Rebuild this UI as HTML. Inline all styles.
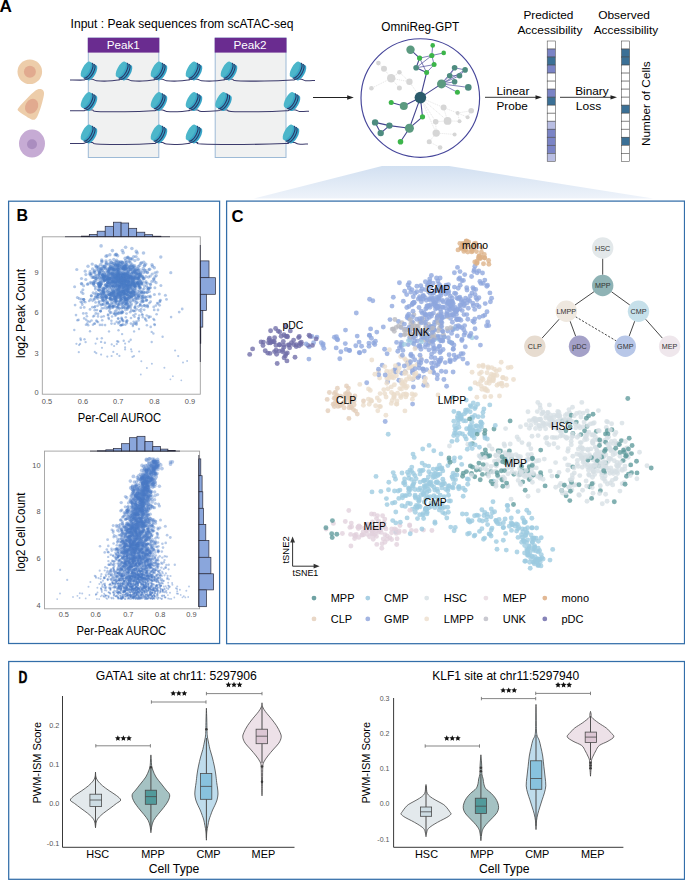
<!DOCTYPE html>
<html><head><meta charset="utf-8"><style>
html,body{margin:0;padding:0;background:#fff;overflow:hidden;}
svg{display:block;font-family:"Liberation Sans", sans-serif;}
</style></head><body>
<svg width="685" height="880" viewBox="0 0 685 880">
<defs>
<linearGradient id="tg" x1="0" y1="0" x2="0" y2="1"><stop offset="0" stop-color="#d2e0f1"/><stop offset="1" stop-color="#eef3fa"/></linearGradient>
<symbol id="nuc" overflow="visible">
 <g transform="translate(-3.2 -1.7) rotate(29)">
  <ellipse cx="7.3" cy="0" rx="3.4" ry="8.6" fill="#3ba6c8"/>
  <ellipse cx="6.1" cy="0" rx="3.4" ry="8.6" fill="#37a3c6"/>
  <ellipse cx="4.8" cy="0" rx="3.4" ry="8.6" fill="#33a0c3"/>
  <ellipse cx="3.6" cy="0" rx="3.4" ry="8.6" fill="#33a0c3"/>
  <ellipse cx="2.5" cy="0" rx="3.4" ry="8.6" fill="#37a4c4"/>
  <ellipse cx="1.2" cy="0" rx="3.4" ry="8.6" fill="#3ba7c6"/>
  <path d="M4.8 -8.6A3.4 8.6 0 0 1 4.8 8.6" fill="none" stroke="#2b3768" stroke-width="1.05"/>
  <path d="M2.5 -8.6A3.4 8.6 0 0 1 2.5 8.6" fill="none" stroke="#2b3768" stroke-width="1.05"/>
  <ellipse cx="0" cy="0" rx="3.4" ry="8.6" fill="#4cb6ca"/>
 </g>
</symbol><symbol id="star" overflow="visible"><path d="M0.00 -3.00L0.85 -1.17L2.85 -0.93L1.38 0.45L1.76 2.43L0.00 1.45L-1.76 2.43L-1.38 0.45L-2.85 -0.93L-0.85 -1.17Z" fill="#111"/></symbol></defs>
<text x="-0.4" y="11.9" font-size="17.2" font-weight="bold">A</text>
<text x="70.6" y="27.9" font-size="12" textLength="222.8" lengthAdjust="spacingAndGlyphs">Input : Peak sequences from scATAC-seq</text>
<rect x="88.3" y="38" width="70.5" height="119.5" fill="#f0f1f1" stroke="#9dbad6" stroke-width="1"/>
<rect x="87.8" y="37.8" width="71.5" height="14.8" fill="#6a2c90"/>
<text x="106.7" y="48.5" font-size="11.7" fill="#fff">Peak1</text>
<rect x="215.2" y="38" width="70.8" height="119.5" fill="#f0f1f1" stroke="#9dbad6" stroke-width="1"/>
<rect x="214.7" y="37.8" width="71.8" height="14.8" fill="#6a2c90"/>
<text x="233.4" y="48.5" font-size="11.7" fill="#fff">Peak2</text>
<circle cx="29.8" cy="71.7" r="12.3" fill="#edcdaa"/><circle cx="29.9" cy="71.7" r="6" fill="#e1aa8f"/>
<path d="M39.8 88.9 C43.2 88.9 44.6 91.5 43.9 95 C42.9 101 40 111 37.2 116.8 C35.8 119.8 33.6 120.6 31 119.2 C27 117 21.5 113.5 18.8 111.2 C17.3 110 17.2 109.3 18.4 107.9 C23.5 102 30 95 35.2 90.8 C36.8 89.5 38.2 88.9 39.8 88.9Z" fill="#edcdaa"/>
<ellipse cx="31.6" cy="106.3" rx="6.2" ry="7.8" transform="rotate(30 31.6 106.3)" fill="#e1aa8f"/>
<ellipse cx="32" cy="143.6" rx="13" ry="14" fill="#c6abd4"/><circle cx="32" cy="144.2" r="5" fill="#aa8dbf"/>
<path d="M70.00 80.00C72.17 80.02 80.33 80.23 83.00 80.10C85.67 79.97 84.42 79.35 86.00 79.20C87.58 79.05 90.75 78.95 92.50 79.20C94.25 79.45 94.04 80.38 96.50 80.70C98.96 81.02 103.67 81.20 107.25 81.10C110.83 81.00 115.71 80.42 118.00 80.10C120.29 79.78 119.42 79.35 121.00 79.20C122.58 79.05 125.75 78.95 127.50 79.20C129.25 79.45 129.04 80.38 131.50 80.70C133.96 81.02 138.67 81.20 142.25 81.10C145.83 81.00 150.71 80.42 153.00 80.10C155.29 79.78 154.42 79.35 156.00 79.20C157.58 79.05 160.75 78.95 162.50 79.20C164.25 79.45 164.04 80.38 166.50 80.70C168.96 81.02 173.67 81.20 177.25 81.10C180.83 81.00 185.71 80.42 188.00 80.10C190.29 79.78 189.42 79.35 191.00 79.20C192.58 79.05 195.75 78.95 197.50 79.20C199.25 79.45 199.04 80.38 201.50 80.70C203.96 81.02 208.67 81.20 212.25 81.10C215.83 81.00 220.71 80.42 223.00 80.10C225.29 79.78 224.42 79.35 226.00 79.20C227.58 79.05 230.75 78.95 232.50 79.20C234.25 79.45 231.21 80.38 236.50 80.70C241.79 81.02 255.00 81.20 264.25 81.10C273.50 81.00 286.88 80.42 292.00 80.10C297.12 79.78 293.42 79.35 295.00 79.20C296.58 79.05 299.75 78.95 301.50 79.20C303.25 79.45 303.25 80.48 305.50 80.70C307.75 80.92 313.42 80.53 315.00 80.50" fill="none" stroke="#3b3a6b" stroke-width="1.05"/>
<use href="#nuc" x="89" y="71"/>
<use href="#nuc" x="124" y="71"/>
<use href="#nuc" x="159" y="71"/>
<use href="#nuc" x="194" y="71"/>
<use href="#nuc" x="229" y="71"/>
<use href="#nuc" x="298" y="71"/>
<path d="M70.00 110.70C72.17 110.72 80.33 110.93 83.00 110.80C85.67 110.67 84.42 110.05 86.00 109.90C87.58 109.75 90.75 109.65 92.50 109.90C94.25 110.15 91.12 111.08 96.50 111.40C101.88 111.72 115.33 111.90 124.75 111.80C134.17 111.70 147.79 111.12 153.00 110.80C158.21 110.48 154.42 110.05 156.00 109.90C157.58 109.75 160.75 109.65 162.50 109.90C164.25 110.15 164.04 111.08 166.50 111.40C168.96 111.72 173.67 111.90 177.25 111.80C180.83 111.70 185.71 111.12 188.00 110.80C190.29 110.48 189.42 110.05 191.00 109.90C192.58 109.75 195.75 109.65 197.50 109.90C199.25 110.15 198.17 111.25 201.50 111.40C204.83 111.55 214.33 111.05 217.50 110.80C220.67 110.55 218.92 110.05 220.50 109.90C222.08 109.75 225.25 109.65 227.00 109.90C228.75 110.15 225.75 111.08 231.00 111.40C236.25 111.72 249.33 111.90 258.50 111.80C267.67 111.70 280.92 111.12 286.00 110.80C291.08 110.48 287.42 110.05 289.00 109.90C290.58 109.75 293.75 109.65 295.50 109.90C297.25 110.15 297.25 111.18 299.50 111.40C301.75 111.62 307.42 111.23 309.00 111.20" fill="none" stroke="#3b3a6b" stroke-width="1.05"/>
<use href="#nuc" x="89" y="101.5"/>
<use href="#nuc" x="159" y="101.5"/>
<use href="#nuc" x="194" y="101.5"/>
<use href="#nuc" x="223.5" y="101.5"/>
<use href="#nuc" x="292" y="101.5"/>
<path d="M70.00 143.40C72.17 143.42 80.33 143.63 83.00 143.50C85.67 143.37 84.42 142.75 86.00 142.60C87.58 142.45 90.75 142.35 92.50 142.60C94.25 142.85 91.12 143.78 96.50 144.10C101.88 144.42 115.33 144.60 124.75 144.50C134.17 144.40 147.79 143.82 153.00 143.50C158.21 143.18 154.42 142.75 156.00 142.60C157.58 142.45 160.75 142.35 162.50 142.60C164.25 142.85 164.04 143.78 166.50 144.10C168.96 144.42 173.67 144.60 177.25 144.50C180.83 144.40 185.71 143.82 188.00 143.50C190.29 143.18 189.42 142.75 191.00 142.60C192.58 142.45 195.75 142.35 197.50 142.60C199.25 142.85 193.88 143.78 201.50 144.10C209.12 144.42 229.33 144.60 243.25 144.50C257.17 144.40 277.54 143.82 285.00 143.50C292.46 143.18 286.42 142.75 288.00 142.60C289.58 142.45 292.75 142.35 294.50 142.60C296.25 142.85 296.25 143.88 298.50 144.10C300.75 144.32 306.42 143.93 308.00 143.90" fill="none" stroke="#3b3a6b" stroke-width="1.05"/>
<use href="#nuc" x="89" y="134"/>
<use href="#nuc" x="159" y="134"/>
<use href="#nuc" x="194" y="134"/>
<use href="#nuc" x="291" y="134"/>
<line x1="313" y1="97.5" x2="349" y2="97.5" stroke="#222" stroke-width="1"/><path d="M353.8 97.5 L347.2 95.2 L347.2 99.8Z" fill="#222"/>
<text x="381.3" y="30.8" font-size="12" textLength="78" lengthAdjust="spacingAndGlyphs">OmniReg-GPT</text>
<path d="M378.4 63.1L384 68.8M384 68.8L391.2 78.3M391.2 78.3L399.4 72.2M391.2 78.3L409.4 81.8M391.2 78.3L371.4 88.3M391.2 78.3L399.4 87.9M409.4 81.8L420.4 97.6M399.4 72.2L409.4 81.8M443.6 107.6L420.4 97.6M447.6 120.9L420.4 97.6M435.7 121.7L420.4 97.6M436.2 133.1L420.4 97.6M443.6 107.6L457.6 113M457.6 113L471.2 110.7M457.6 113L467.6 117.2M457.6 113L459.5 121.2M459.5 121.2L447.6 120.9M447.6 120.9L435.7 121.7M435.7 121.7L436.2 133.1M436.2 133.1L454.6 134.4M436.2 133.1L429.2 141.7M429.2 141.7L440.1 147.5M443.6 107.6L447.6 120.9M471.2 110.7L467.6 117.2" stroke="#d9d9d9" stroke-width="0.6" stroke-dasharray="1.2 0.8" fill="none"/>
<path d="M426.6 72.5L434.1 64.6M426.6 72.5L419.6 58.1M416.1 67.8L431.8 55.5M416.1 67.8L434.1 64.6M419.6 58.1L431.8 55.5M431.8 55.5L434.1 64.6M431.8 55.5L432.7 45.4M431.8 55.5L443.7 52.9M441.5 83.9L449.7 75.7M441.5 83.9L454.6 67.8M441.5 83.9L465.1 69.9M441.5 83.9L454.6 81.8M441.5 83.9L468.3 87.4M441.5 83.9L457.4 92.3M441.5 83.9L459.5 75.7M449.7 75.7L454.6 67.8M454.6 67.8L465.1 69.9M449.7 75.7L459.5 75.7M459.5 75.7L465.1 69.9" stroke="#4b4b99" stroke-width="0.7" fill="none"/>
<path d="M420.4 97.6L426.6 72.5M426.6 72.5L416.1 67.8M416.1 67.8L419.6 58.1M410.5 49.7L419.6 58.1M420.4 97.6L441.5 83.9M420.4 97.6L403.8 106M403.8 106L391.2 102.5M420.4 97.6L409.4 128.2M420.4 97.6L422.5 116.8M422.5 116.8L409.4 128.2M409.4 128.2L389.4 125.6M409.4 128.2L400.5 141.7M389.4 125.6L375.1 122.4M389.4 125.6L380.7 133.1M375.1 122.4L380.7 133.1" stroke="#45458f" stroke-width="1.1" fill="none"/>
<circle cx="378.4" cy="63.1" r="2.3" fill="#d6d6d6"/>
<circle cx="384" cy="68.8" r="3" fill="#d6d6d6"/>
<circle cx="391.2" cy="78.3" r="4.2" fill="#d6d6d6"/>
<circle cx="399.4" cy="72.2" r="2.3" fill="#d6d6d6"/>
<circle cx="409.4" cy="81.8" r="3.2" fill="#d6d6d6"/>
<circle cx="399.4" cy="87.9" r="2.5" fill="#d6d6d6"/>
<circle cx="371.4" cy="88.3" r="2.3" fill="#d6d6d6"/>
<circle cx="443.6" cy="107.6" r="3" fill="#d6d6d6"/>
<circle cx="457.6" cy="113" r="2" fill="#d6d6d6"/>
<circle cx="471.2" cy="110.7" r="2.8" fill="#d6d6d6"/>
<circle cx="467.6" cy="117.2" r="2" fill="#d6d6d6"/>
<circle cx="459.5" cy="121.2" r="2" fill="#d6d6d6"/>
<circle cx="447.6" cy="120.9" r="3.9" fill="#d6d6d6"/>
<circle cx="435.7" cy="121.7" r="2.8" fill="#d6d6d6"/>
<circle cx="436.2" cy="133.1" r="3.7" fill="#d6d6d6"/>
<circle cx="454.6" cy="134.4" r="2" fill="#d6d6d6"/>
<circle cx="429.2" cy="141.7" r="2.5" fill="#d6d6d6"/>
<circle cx="440.1" cy="147.5" r="2.3" fill="#d6d6d6"/>
<circle cx="420.4" cy="97.6" r="5.8" fill="#2b5b6b"/>
<circle cx="410.5" cy="49.7" r="4.2" fill="#5b9a80"/>
<circle cx="432.7" cy="45.4" r="2.3" fill="#3cb54a"/>
<circle cx="443.7" cy="52.9" r="2.3" fill="#3cb54a"/>
<circle cx="431.8" cy="55.5" r="2.6" fill="#3cb54a"/>
<circle cx="419.6" cy="58.1" r="2.6" fill="#3cb54a"/>
<circle cx="434.1" cy="64.6" r="2.5" fill="#3cb54a"/>
<circle cx="416.1" cy="67.8" r="2.8" fill="#4e8c80"/>
<circle cx="426.6" cy="72.5" r="2.5" fill="#3cb54a"/>
<circle cx="441.5" cy="83.9" r="4.5" fill="#5b9a80"/>
<circle cx="454.6" cy="67.8" r="2.8" fill="#4e8c80"/>
<circle cx="465.1" cy="69.9" r="2.8" fill="#4e8c80"/>
<circle cx="449.7" cy="75.7" r="2.8" fill="#4e8c80"/>
<circle cx="459.5" cy="75.7" r="2.8" fill="#4e8c80"/>
<circle cx="454.6" cy="81.8" r="2.8" fill="#4e8c80"/>
<circle cx="468.3" cy="87.4" r="3.3" fill="#4e8c80"/>
<circle cx="457.4" cy="92.3" r="2.5" fill="#3cb54a"/>
<circle cx="403.8" cy="106" r="4" fill="#5b9a80"/>
<circle cx="391.2" cy="102.5" r="2.5" fill="#3cb54a"/>
<circle cx="422.5" cy="116.8" r="2.6" fill="#3cb54a"/>
<circle cx="409.4" cy="128.2" r="4.5" fill="#5b9a80"/>
<circle cx="389.4" cy="125.6" r="3.2" fill="#4e8c80"/>
<circle cx="375.1" cy="122.4" r="3.2" fill="#4e8c80"/>
<circle cx="380.7" cy="133.1" r="3.2" fill="#4e8c80"/>
<circle cx="400.5" cy="141.7" r="2.8" fill="#3cb54a"/>
<circle cx="420.3" cy="98" r="59.3" fill="none" stroke="#45459a" stroke-width="1.15"/>
<line x1="485" y1="97.3" x2="537" y2="97.3" stroke="#222" stroke-width="0.9"/><path d="M542 97.3 L535.5 95.2 L535.5 99.4Z" fill="#222"/>
<line x1="560" y1="97.3" x2="612" y2="97.3" stroke="#222" stroke-width="0.9"/><path d="M617 97.3 L610.5 95.2 L610.5 99.4Z" fill="#222"/>
<text x="496.5" y="94.6" font-size="11.8" textLength="32.9" lengthAdjust="spacingAndGlyphs">Linear</text>
<text x="496.5" y="109.6" font-size="11.8" textLength="31.4" lengthAdjust="spacingAndGlyphs">Probe</text>
<text x="575.2" y="94.6" font-size="11.8" textLength="33.5" lengthAdjust="spacingAndGlyphs">Binary</text>
<text x="575.8" y="109.6" font-size="11.8" textLength="25.4" lengthAdjust="spacingAndGlyphs">Loss</text>
<text x="523.4" y="19.3" font-size="11.8" textLength="50" lengthAdjust="spacingAndGlyphs">Predicted</text>
<text x="517.4" y="34.3" font-size="11.8" textLength="65" lengthAdjust="spacingAndGlyphs">Accessibility</text>
<text x="598.2" y="19.3" font-size="11.8" textLength="51.8" lengthAdjust="spacingAndGlyphs">Observed</text>
<text x="593.7" y="34.3" font-size="11.8" textLength="64.4" lengthAdjust="spacingAndGlyphs">Accessibility</text>
<text transform="translate(650.3 146) rotate(-90)" font-size="11.8" textLength="84.6" lengthAdjust="spacingAndGlyphs">Number of Cells</text>
<rect x="547.2" y="41.00" width="8.1" height="8.02" fill="#ffffff" stroke="#4a4a4a" stroke-width="0.55"/>
<rect x="547.2" y="49.02" width="8.1" height="8.02" fill="#7b84c6" stroke="#4a4a4a" stroke-width="0.55"/>
<rect x="547.2" y="57.04" width="8.1" height="8.02" fill="#3b7096" stroke="#4a4a4a" stroke-width="0.55"/>
<rect x="547.2" y="65.06" width="8.1" height="8.02" fill="#7b84c6" stroke="#4a4a4a" stroke-width="0.55"/>
<rect x="547.2" y="73.08" width="8.1" height="8.02" fill="#ffffff" stroke="#4a4a4a" stroke-width="0.55"/>
<rect x="547.2" y="81.10" width="8.1" height="8.02" fill="#ffffff" stroke="#4a4a4a" stroke-width="0.55"/>
<rect x="547.2" y="89.12" width="8.1" height="8.02" fill="#7b84c6" stroke="#4a4a4a" stroke-width="0.55"/>
<rect x="547.2" y="97.14" width="8.1" height="8.02" fill="#3b7096" stroke="#4a4a4a" stroke-width="0.55"/>
<rect x="547.2" y="105.16" width="8.1" height="8.02" fill="#ffffff" stroke="#4a4a4a" stroke-width="0.55"/>
<rect x="547.2" y="113.18" width="8.1" height="8.02" fill="#ffffff" stroke="#4a4a4a" stroke-width="0.55"/>
<rect x="547.2" y="121.20" width="8.1" height="8.02" fill="#b9bee3" stroke="#4a4a4a" stroke-width="0.55"/>
<rect x="547.2" y="129.22" width="8.1" height="8.02" fill="#7b84c6" stroke="#4a4a4a" stroke-width="0.55"/>
<rect x="547.2" y="137.24" width="8.1" height="8.02" fill="#7b84c6" stroke="#4a4a4a" stroke-width="0.55"/>
<rect x="547.2" y="145.26" width="8.1" height="8.02" fill="#7b84c6" stroke="#4a4a4a" stroke-width="0.55"/>
<rect x="547.2" y="153.28" width="8.1" height="8.02" fill="#b9bee3" stroke="#4a4a4a" stroke-width="0.55"/>
<rect x="621.5" y="41.00" width="8.1" height="8.02" fill="#ffffff" stroke="#4a4a4a" stroke-width="0.55"/>
<rect x="621.5" y="49.02" width="8.1" height="8.02" fill="#3b7096" stroke="#4a4a4a" stroke-width="0.55"/>
<rect x="621.5" y="57.04" width="8.1" height="8.02" fill="#3b7096" stroke="#4a4a4a" stroke-width="0.55"/>
<rect x="621.5" y="65.06" width="8.1" height="8.02" fill="#ffffff" stroke="#4a4a4a" stroke-width="0.55"/>
<rect x="621.5" y="73.08" width="8.1" height="8.02" fill="#ffffff" stroke="#4a4a4a" stroke-width="0.55"/>
<rect x="621.5" y="81.10" width="8.1" height="8.02" fill="#ffffff" stroke="#4a4a4a" stroke-width="0.55"/>
<rect x="621.5" y="89.12" width="8.1" height="8.02" fill="#ffffff" stroke="#4a4a4a" stroke-width="0.55"/>
<rect x="621.5" y="97.14" width="8.1" height="8.02" fill="#ffffff" stroke="#4a4a4a" stroke-width="0.55"/>
<rect x="621.5" y="105.16" width="8.1" height="8.02" fill="#3b7096" stroke="#4a4a4a" stroke-width="0.55"/>
<rect x="621.5" y="113.18" width="8.1" height="8.02" fill="#ffffff" stroke="#4a4a4a" stroke-width="0.55"/>
<rect x="621.5" y="121.20" width="8.1" height="8.02" fill="#ffffff" stroke="#4a4a4a" stroke-width="0.55"/>
<rect x="621.5" y="129.22" width="8.1" height="8.02" fill="#ffffff" stroke="#4a4a4a" stroke-width="0.55"/>
<rect x="621.5" y="137.24" width="8.1" height="8.02" fill="#3b7096" stroke="#4a4a4a" stroke-width="0.55"/>
<rect x="621.5" y="145.26" width="8.1" height="8.02" fill="#ffffff" stroke="#4a4a4a" stroke-width="0.55"/>
<rect x="621.5" y="153.28" width="8.1" height="8.02" fill="#ffffff" stroke="#4a4a4a" stroke-width="0.55"/>
<path d="M382 166 L449 166 L653 198.5 L254 198.5Z" fill="url(#tg)"/>
<rect x="8.6" y="201.2" width="211" height="442.3" fill="none" stroke="#336ea9" stroke-width="1.25"/>
<rect x="226.6" y="201.1" width="457.9" height="442.6" fill="none" stroke="#336ea9" stroke-width="1.25"/>
<rect x="8.7" y="661.5" width="675.8" height="217.8" fill="none" stroke="#336ea9" stroke-width="1.25"/>
<text x="16.6" y="221.3" font-size="16" font-weight="bold">B</text>
<text x="231.6" y="221.5" font-size="16.7" font-weight="bold">C</text>
<text x="18.4" y="683" font-size="16.2" font-weight="bold" stroke="#000" stroke-width="0.35" transform="translate(18.4 683) scale(0.76 1) translate(-18.4 -683)">D</text>
<rect x="42.3" y="236.8" width="158.0" height="157.4" fill="#fff" stroke="#a0a0a0" stroke-width="0.9"/>
<clipPath id="cb1"><rect x="42.3" y="236.8" width="158.0" height="157.39999999999998"/></clipPath>
<g fill="#4a7bc6" fill-opacity="0.42" clip-path="url(#cb1)"><circle cx="120.8" cy="292.1" r="1.5"/><circle cx="139.2" cy="293.3" r="1.5"/><circle cx="137.4" cy="283.4" r="1.6"/><circle cx="113.2" cy="292.6" r="1.5"/><circle cx="116.1" cy="254.7" r="1.7"/><circle cx="112.9" cy="285.4" r="1.5"/><circle cx="128.2" cy="288.0" r="1.5"/><circle cx="119.5" cy="286.9" r="1.5"/><circle cx="130.7" cy="292.5" r="1.5"/><circle cx="94.5" cy="307.3" r="1.4"/><circle cx="142.1" cy="283.7" r="1.6"/><circle cx="118.9" cy="277.7" r="1.6"/><circle cx="129.8" cy="297.1" r="1.5"/><circle cx="118.4" cy="281.0" r="1.6"/><circle cx="115.0" cy="293.9" r="1.5"/><circle cx="126.7" cy="281.4" r="1.6"/><circle cx="131.8" cy="277.2" r="1.6"/><circle cx="117.5" cy="275.8" r="1.6"/><circle cx="118.2" cy="276.4" r="1.6"/><circle cx="129.8" cy="288.6" r="1.5"/><circle cx="108.2" cy="271.6" r="1.6"/><circle cx="99.2" cy="285.8" r="1.5"/><circle cx="125.8" cy="277.3" r="1.6"/><circle cx="110.9" cy="273.5" r="1.6"/><circle cx="93.5" cy="284.3" r="1.5"/><circle cx="108.9" cy="294.8" r="1.5"/><circle cx="113.8" cy="274.5" r="1.6"/><circle cx="103.7" cy="293.0" r="1.5"/><circle cx="99.5" cy="290.6" r="1.5"/><circle cx="120.8" cy="292.8" r="1.5"/><circle cx="132.8" cy="272.0" r="1.6"/><circle cx="117.0" cy="282.8" r="1.6"/><circle cx="109.9" cy="305.1" r="1.4"/><circle cx="125.7" cy="273.2" r="1.6"/><circle cx="130.3" cy="258.9" r="1.7"/><circle cx="116.1" cy="261.8" r="1.7"/><circle cx="127.9" cy="287.1" r="1.5"/><circle cx="134.8" cy="280.2" r="1.6"/><circle cx="117.4" cy="275.6" r="1.6"/><circle cx="108.9" cy="271.5" r="1.6"/><circle cx="125.1" cy="280.7" r="1.6"/><circle cx="123.7" cy="292.7" r="1.5"/><circle cx="135.6" cy="273.0" r="1.6"/><circle cx="102.4" cy="274.5" r="1.6"/><circle cx="111.1" cy="295.3" r="1.5"/><circle cx="108.6" cy="285.0" r="1.5"/><circle cx="96.1" cy="278.2" r="1.6"/><circle cx="122.1" cy="281.1" r="1.6"/><circle cx="127.6" cy="275.5" r="1.6"/><circle cx="110.0" cy="272.6" r="1.6"/><circle cx="139.6" cy="275.3" r="1.6"/><circle cx="131.7" cy="282.3" r="1.6"/><circle cx="129.0" cy="295.5" r="1.5"/><circle cx="125.9" cy="274.5" r="1.6"/><circle cx="133.6" cy="266.1" r="1.7"/><circle cx="101.7" cy="260.0" r="1.7"/><circle cx="128.8" cy="281.4" r="1.6"/><circle cx="128.7" cy="281.5" r="1.6"/><circle cx="95.6" cy="265.6" r="1.7"/><circle cx="125.1" cy="265.7" r="1.7"/><circle cx="116.8" cy="277.4" r="1.6"/><circle cx="131.2" cy="273.5" r="1.6"/><circle cx="114.2" cy="289.2" r="1.5"/><circle cx="120.0" cy="274.8" r="1.6"/><circle cx="125.1" cy="289.9" r="1.5"/><circle cx="108.1" cy="282.6" r="1.6"/><circle cx="128.6" cy="282.4" r="1.6"/><circle cx="118.8" cy="286.1" r="1.5"/><circle cx="127.2" cy="303.7" r="1.4"/><circle cx="113.0" cy="289.9" r="1.5"/><circle cx="135.4" cy="277.5" r="1.6"/><circle cx="128.7" cy="281.7" r="1.6"/><circle cx="117.8" cy="285.3" r="1.5"/><circle cx="129.1" cy="276.5" r="1.6"/><circle cx="137.9" cy="273.7" r="1.6"/><circle cx="145.3" cy="272.0" r="1.6"/><circle cx="98.3" cy="289.7" r="1.5"/><circle cx="132.6" cy="280.9" r="1.6"/><circle cx="126.8" cy="284.7" r="1.5"/><circle cx="119.0" cy="290.5" r="1.5"/><circle cx="106.3" cy="297.1" r="1.5"/><circle cx="137.8" cy="282.2" r="1.6"/><circle cx="102.7" cy="290.4" r="1.5"/><circle cx="128.2" cy="258.1" r="1.7"/><circle cx="138.4" cy="282.2" r="1.6"/><circle cx="98.0" cy="283.5" r="1.6"/><circle cx="116.1" cy="285.4" r="1.5"/><circle cx="102.0" cy="261.1" r="1.7"/><circle cx="123.7" cy="291.2" r="1.5"/><circle cx="141.4" cy="282.8" r="1.6"/><circle cx="148.5" cy="289.3" r="1.5"/><circle cx="95.5" cy="282.5" r="1.6"/><circle cx="112.3" cy="281.5" r="1.6"/><circle cx="130.1" cy="269.4" r="1.6"/><circle cx="142.3" cy="296.3" r="1.5"/><circle cx="126.2" cy="281.3" r="1.6"/><circle cx="109.9" cy="263.8" r="1.7"/><circle cx="124.4" cy="286.6" r="1.5"/><circle cx="120.1" cy="283.0" r="1.6"/><circle cx="117.4" cy="290.6" r="1.5"/><circle cx="110.0" cy="309.1" r="1.4"/><circle cx="125.7" cy="282.2" r="1.6"/><circle cx="124.6" cy="268.6" r="1.7"/><circle cx="119.0" cy="286.1" r="1.5"/><circle cx="117.2" cy="300.9" r="1.4"/><circle cx="102.4" cy="278.3" r="1.6"/><circle cx="113.5" cy="280.3" r="1.6"/><circle cx="137.1" cy="270.4" r="1.6"/><circle cx="117.6" cy="271.4" r="1.6"/><circle cx="100.2" cy="284.0" r="1.6"/><circle cx="138.9" cy="276.9" r="1.6"/><circle cx="127.7" cy="300.4" r="1.4"/><circle cx="149.7" cy="269.2" r="1.7"/><circle cx="121.2" cy="279.1" r="1.6"/><circle cx="113.9" cy="269.5" r="1.6"/><circle cx="100.1" cy="269.8" r="1.6"/><circle cx="138.7" cy="284.2" r="1.5"/><circle cx="156.1" cy="282.7" r="1.6"/><circle cx="108.8" cy="290.5" r="1.5"/><circle cx="111.3" cy="303.2" r="1.4"/><circle cx="128.6" cy="282.5" r="1.6"/><circle cx="108.7" cy="279.5" r="1.6"/><circle cx="116.5" cy="292.7" r="1.5"/><circle cx="115.4" cy="273.5" r="1.6"/><circle cx="123.0" cy="280.1" r="1.6"/><circle cx="135.6" cy="276.3" r="1.6"/><circle cx="120.6" cy="289.4" r="1.5"/><circle cx="133.1" cy="300.0" r="1.4"/><circle cx="114.4" cy="272.8" r="1.6"/><circle cx="124.9" cy="274.6" r="1.6"/><circle cx="90.5" cy="282.3" r="1.6"/><circle cx="100.1" cy="285.6" r="1.5"/><circle cx="131.4" cy="284.1" r="1.6"/><circle cx="112.1" cy="282.6" r="1.6"/><circle cx="128.4" cy="286.6" r="1.5"/><circle cx="127.8" cy="302.6" r="1.4"/><circle cx="138.7" cy="272.7" r="1.6"/><circle cx="131.6" cy="297.1" r="1.5"/><circle cx="134.5" cy="284.7" r="1.5"/><circle cx="118.7" cy="284.4" r="1.5"/><circle cx="110.6" cy="278.3" r="1.6"/><circle cx="110.1" cy="298.4" r="1.5"/><circle cx="113.5" cy="268.2" r="1.7"/><circle cx="104.5" cy="274.1" r="1.6"/><circle cx="112.7" cy="272.9" r="1.6"/><circle cx="119.0" cy="267.6" r="1.7"/><circle cx="123.8" cy="289.6" r="1.5"/><circle cx="115.6" cy="314.6" r="1.3"/><circle cx="93.5" cy="277.5" r="1.6"/><circle cx="119.3" cy="267.0" r="1.7"/><circle cx="123.4" cy="268.6" r="1.7"/><circle cx="135.4" cy="286.8" r="1.5"/><circle cx="128.3" cy="282.0" r="1.6"/><circle cx="111.3" cy="278.0" r="1.6"/><circle cx="110.2" cy="300.3" r="1.4"/><circle cx="148.3" cy="288.2" r="1.5"/><circle cx="130.8" cy="287.8" r="1.5"/><circle cx="145.8" cy="264.1" r="1.7"/><circle cx="150.0" cy="288.0" r="1.5"/><circle cx="108.9" cy="264.2" r="1.7"/><circle cx="125.7" cy="280.8" r="1.6"/><circle cx="126.7" cy="298.9" r="1.5"/><circle cx="128.1" cy="257.3" r="1.7"/><circle cx="127.8" cy="291.4" r="1.5"/><circle cx="123.1" cy="274.4" r="1.6"/><circle cx="122.7" cy="262.7" r="1.7"/><circle cx="99.3" cy="286.7" r="1.5"/><circle cx="118.0" cy="294.1" r="1.5"/><circle cx="109.9" cy="269.8" r="1.6"/><circle cx="122.0" cy="280.2" r="1.6"/><circle cx="113.8" cy="294.1" r="1.5"/><circle cx="128.9" cy="292.5" r="1.5"/><circle cx="131.7" cy="285.1" r="1.5"/><circle cx="124.6" cy="270.6" r="1.6"/><circle cx="124.7" cy="284.0" r="1.6"/><circle cx="121.6" cy="273.9" r="1.6"/><circle cx="114.0" cy="263.3" r="1.7"/><circle cx="118.0" cy="267.4" r="1.7"/><circle cx="113.4" cy="265.6" r="1.7"/><circle cx="125.7" cy="267.8" r="1.7"/><circle cx="120.5" cy="298.1" r="1.5"/><circle cx="128.4" cy="267.9" r="1.7"/><circle cx="101.8" cy="277.4" r="1.6"/><circle cx="132.7" cy="282.3" r="1.6"/><circle cx="109.7" cy="292.5" r="1.5"/><circle cx="110.0" cy="297.9" r="1.5"/><circle cx="117.5" cy="292.8" r="1.5"/><circle cx="112.4" cy="281.2" r="1.6"/><circle cx="124.3" cy="293.5" r="1.5"/><circle cx="112.3" cy="289.7" r="1.5"/><circle cx="105.4" cy="287.5" r="1.5"/><circle cx="108.5" cy="273.8" r="1.6"/><circle cx="138.6" cy="284.1" r="1.6"/><circle cx="120.9" cy="282.5" r="1.6"/><circle cx="104.0" cy="266.8" r="1.7"/><circle cx="120.4" cy="284.4" r="1.5"/><circle cx="98.6" cy="274.5" r="1.6"/><circle cx="145.2" cy="292.2" r="1.5"/><circle cx="99.0" cy="277.4" r="1.6"/><circle cx="127.0" cy="279.7" r="1.6"/><circle cx="127.9" cy="279.1" r="1.6"/><circle cx="100.1" cy="285.9" r="1.5"/><circle cx="124.5" cy="292.0" r="1.5"/><circle cx="134.2" cy="284.1" r="1.5"/><circle cx="126.8" cy="285.9" r="1.5"/><circle cx="123.9" cy="269.9" r="1.6"/><circle cx="133.5" cy="271.2" r="1.6"/><circle cx="122.5" cy="293.8" r="1.5"/><circle cx="125.0" cy="274.2" r="1.6"/><circle cx="118.5" cy="286.1" r="1.5"/><circle cx="129.1" cy="276.0" r="1.6"/><circle cx="107.2" cy="286.1" r="1.5"/><circle cx="131.3" cy="296.7" r="1.5"/><circle cx="113.2" cy="270.1" r="1.6"/><circle cx="105.1" cy="276.1" r="1.6"/><circle cx="125.4" cy="294.0" r="1.5"/><circle cx="143.9" cy="301.2" r="1.4"/><circle cx="133.7" cy="286.7" r="1.5"/><circle cx="113.1" cy="293.6" r="1.5"/><circle cx="130.0" cy="284.8" r="1.5"/><circle cx="114.0" cy="274.3" r="1.6"/><circle cx="118.6" cy="265.2" r="1.7"/><circle cx="121.5" cy="284.8" r="1.5"/><circle cx="88.0" cy="266.2" r="1.7"/><circle cx="123.0" cy="268.5" r="1.7"/><circle cx="105.9" cy="285.6" r="1.5"/><circle cx="110.6" cy="298.8" r="1.5"/><circle cx="99.7" cy="271.8" r="1.6"/><circle cx="99.1" cy="274.4" r="1.6"/><circle cx="107.1" cy="255.8" r="1.7"/><circle cx="131.8" cy="265.6" r="1.7"/><circle cx="143.5" cy="272.6" r="1.6"/><circle cx="119.9" cy="262.9" r="1.7"/><circle cx="135.5" cy="292.1" r="1.5"/><circle cx="116.6" cy="278.8" r="1.6"/><circle cx="93.6" cy="283.8" r="1.6"/><circle cx="122.4" cy="262.3" r="1.7"/><circle cx="126.5" cy="274.9" r="1.6"/><circle cx="114.3" cy="313.6" r="1.4"/><circle cx="124.5" cy="266.2" r="1.7"/><circle cx="128.3" cy="290.6" r="1.5"/><circle cx="108.2" cy="272.6" r="1.6"/><circle cx="99.7" cy="286.0" r="1.5"/><circle cx="117.2" cy="278.2" r="1.6"/><circle cx="117.3" cy="274.0" r="1.6"/><circle cx="115.4" cy="278.7" r="1.6"/><circle cx="134.1" cy="291.0" r="1.5"/><circle cx="144.3" cy="265.9" r="1.7"/><circle cx="114.5" cy="276.6" r="1.6"/><circle cx="130.0" cy="281.0" r="1.6"/><circle cx="133.4" cy="273.2" r="1.6"/><circle cx="130.2" cy="286.5" r="1.5"/><circle cx="134.9" cy="260.6" r="1.7"/><circle cx="114.9" cy="278.4" r="1.6"/><circle cx="130.6" cy="276.9" r="1.6"/><circle cx="148.5" cy="277.1" r="1.6"/><circle cx="131.5" cy="290.5" r="1.5"/><circle cx="111.6" cy="293.3" r="1.5"/><circle cx="128.8" cy="278.4" r="1.6"/><circle cx="137.9" cy="277.0" r="1.6"/><circle cx="125.4" cy="266.4" r="1.7"/><circle cx="112.4" cy="275.9" r="1.6"/><circle cx="141.8" cy="292.4" r="1.5"/><circle cx="102.9" cy="275.1" r="1.6"/><circle cx="127.3" cy="271.9" r="1.6"/><circle cx="120.1" cy="270.0" r="1.6"/><circle cx="103.6" cy="277.2" r="1.6"/><circle cx="137.3" cy="293.8" r="1.5"/><circle cx="125.1" cy="268.3" r="1.7"/><circle cx="104.0" cy="288.6" r="1.5"/><circle cx="128.7" cy="274.6" r="1.6"/><circle cx="114.3" cy="297.6" r="1.5"/><circle cx="93.8" cy="272.6" r="1.6"/><circle cx="110.7" cy="289.1" r="1.5"/><circle cx="124.0" cy="269.2" r="1.7"/><circle cx="129.2" cy="261.9" r="1.7"/><circle cx="122.6" cy="268.2" r="1.7"/><circle cx="120.9" cy="293.2" r="1.5"/><circle cx="126.8" cy="290.8" r="1.5"/><circle cx="117.3" cy="290.1" r="1.5"/><circle cx="136.7" cy="273.7" r="1.6"/><circle cx="122.4" cy="277.1" r="1.6"/><circle cx="124.4" cy="279.1" r="1.6"/><circle cx="127.8" cy="277.5" r="1.6"/><circle cx="105.5" cy="274.6" r="1.6"/><circle cx="110.4" cy="273.8" r="1.6"/><circle cx="141.6" cy="262.7" r="1.7"/><circle cx="125.0" cy="281.4" r="1.6"/><circle cx="116.3" cy="278.6" r="1.6"/><circle cx="125.0" cy="300.6" r="1.4"/><circle cx="113.6" cy="294.9" r="1.5"/><circle cx="124.2" cy="288.2" r="1.5"/><circle cx="111.0" cy="293.5" r="1.5"/><circle cx="124.1" cy="278.5" r="1.6"/><circle cx="98.3" cy="269.7" r="1.6"/><circle cx="138.8" cy="285.5" r="1.5"/><circle cx="113.1" cy="286.0" r="1.5"/><circle cx="98.2" cy="286.3" r="1.5"/><circle cx="117.2" cy="279.5" r="1.6"/><circle cx="115.1" cy="286.7" r="1.5"/><circle cx="122.4" cy="276.3" r="1.6"/><circle cx="104.3" cy="277.7" r="1.6"/><circle cx="125.8" cy="277.2" r="1.6"/><circle cx="170.8" cy="272.7" r="1.6"/><circle cx="102.5" cy="280.6" r="1.6"/><circle cx="125.0" cy="279.4" r="1.6"/><circle cx="116.0" cy="262.1" r="1.7"/><circle cx="123.0" cy="281.4" r="1.6"/><circle cx="95.0" cy="272.4" r="1.6"/><circle cx="104.2" cy="280.3" r="1.6"/><circle cx="126.7" cy="285.8" r="1.5"/><circle cx="119.8" cy="285.8" r="1.5"/><circle cx="143.1" cy="289.7" r="1.5"/><circle cx="110.5" cy="280.8" r="1.6"/><circle cx="122.7" cy="287.4" r="1.5"/><circle cx="160.9" cy="285.5" r="1.5"/><circle cx="109.6" cy="267.9" r="1.7"/><circle cx="107.7" cy="282.4" r="1.6"/><circle cx="119.8" cy="268.8" r="1.7"/><circle cx="119.7" cy="278.1" r="1.6"/><circle cx="132.1" cy="271.7" r="1.6"/><circle cx="122.1" cy="287.5" r="1.5"/><circle cx="109.7" cy="279.4" r="1.6"/><circle cx="123.2" cy="252.8" r="1.8"/><circle cx="157.1" cy="272.1" r="1.6"/><circle cx="138.0" cy="270.2" r="1.6"/><circle cx="81.5" cy="278.5" r="1.6"/><circle cx="118.3" cy="271.8" r="1.6"/><circle cx="108.1" cy="293.4" r="1.5"/><circle cx="129.0" cy="290.1" r="1.5"/><circle cx="117.9" cy="276.4" r="1.6"/><circle cx="147.2" cy="272.2" r="1.6"/><circle cx="133.3" cy="285.4" r="1.5"/><circle cx="132.7" cy="283.0" r="1.6"/><circle cx="122.9" cy="284.9" r="1.5"/><circle cx="119.7" cy="283.0" r="1.6"/><circle cx="125.0" cy="293.9" r="1.5"/><circle cx="138.3" cy="296.3" r="1.5"/><circle cx="127.7" cy="281.9" r="1.6"/><circle cx="115.4" cy="299.6" r="1.4"/><circle cx="138.1" cy="291.5" r="1.5"/><circle cx="123.0" cy="288.1" r="1.5"/><circle cx="119.2" cy="292.3" r="1.5"/><circle cx="109.3" cy="278.5" r="1.6"/><circle cx="112.4" cy="285.9" r="1.5"/><circle cx="111.4" cy="282.0" r="1.6"/><circle cx="81.4" cy="291.9" r="1.5"/><circle cx="134.5" cy="289.1" r="1.5"/><circle cx="128.2" cy="275.7" r="1.6"/><circle cx="117.3" cy="277.3" r="1.6"/><circle cx="134.9" cy="286.1" r="1.5"/><circle cx="126.4" cy="277.3" r="1.6"/><circle cx="125.5" cy="279.2" r="1.6"/><circle cx="85.8" cy="279.5" r="1.6"/><circle cx="117.0" cy="264.2" r="1.7"/><circle cx="127.7" cy="285.5" r="1.5"/><circle cx="142.7" cy="276.8" r="1.6"/><circle cx="145.9" cy="276.7" r="1.6"/><circle cx="140.2" cy="283.8" r="1.6"/><circle cx="104.1" cy="293.7" r="1.5"/><circle cx="89.6" cy="273.9" r="1.6"/><circle cx="128.2" cy="278.5" r="1.6"/><circle cx="120.7" cy="280.8" r="1.6"/><circle cx="133.7" cy="281.1" r="1.6"/><circle cx="118.5" cy="281.1" r="1.6"/><circle cx="123.4" cy="290.9" r="1.5"/><circle cx="99.4" cy="278.2" r="1.6"/><circle cx="126.5" cy="300.6" r="1.4"/><circle cx="114.1" cy="281.6" r="1.6"/><circle cx="125.2" cy="297.4" r="1.5"/><circle cx="126.7" cy="285.2" r="1.5"/><circle cx="118.7" cy="273.8" r="1.6"/><circle cx="124.7" cy="284.2" r="1.5"/><circle cx="120.1" cy="286.6" r="1.5"/><circle cx="130.9" cy="276.0" r="1.6"/><circle cx="127.3" cy="284.3" r="1.5"/><circle cx="112.7" cy="285.8" r="1.5"/><circle cx="112.1" cy="285.7" r="1.5"/><circle cx="144.6" cy="265.3" r="1.7"/><circle cx="118.9" cy="274.4" r="1.6"/><circle cx="134.1" cy="276.4" r="1.6"/><circle cx="125.8" cy="294.2" r="1.5"/><circle cx="112.4" cy="274.9" r="1.6"/><circle cx="109.8" cy="295.3" r="1.5"/><circle cx="122.0" cy="276.4" r="1.6"/><circle cx="123.9" cy="293.5" r="1.5"/><circle cx="128.9" cy="260.7" r="1.7"/><circle cx="102.6" cy="299.6" r="1.4"/><circle cx="112.0" cy="268.5" r="1.7"/><circle cx="119.0" cy="273.0" r="1.6"/><circle cx="142.6" cy="300.6" r="1.4"/><circle cx="87.4" cy="284.2" r="1.5"/><circle cx="126.4" cy="266.1" r="1.7"/><circle cx="112.8" cy="269.4" r="1.6"/><circle cx="126.3" cy="299.3" r="1.4"/><circle cx="113.4" cy="287.2" r="1.5"/><circle cx="125.4" cy="294.1" r="1.5"/><circle cx="142.1" cy="292.6" r="1.5"/><circle cx="125.2" cy="288.5" r="1.5"/><circle cx="126.3" cy="261.9" r="1.7"/><circle cx="125.5" cy="280.2" r="1.6"/><circle cx="109.8" cy="284.0" r="1.6"/><circle cx="127.9" cy="285.2" r="1.5"/><circle cx="117.4" cy="274.5" r="1.6"/><circle cx="109.0" cy="274.2" r="1.6"/><circle cx="119.8" cy="291.4" r="1.5"/><circle cx="117.1" cy="265.9" r="1.7"/><circle cx="130.8" cy="293.2" r="1.5"/><circle cx="119.7" cy="284.6" r="1.5"/><circle cx="112.9" cy="276.8" r="1.6"/><circle cx="140.6" cy="263.4" r="1.7"/><circle cx="134.1" cy="285.3" r="1.5"/><circle cx="138.0" cy="278.6" r="1.6"/><circle cx="128.8" cy="267.7" r="1.7"/><circle cx="118.8" cy="275.0" r="1.6"/><circle cx="114.4" cy="269.6" r="1.6"/><circle cx="116.4" cy="270.5" r="1.6"/><circle cx="133.5" cy="278.9" r="1.6"/><circle cx="121.8" cy="274.9" r="1.6"/><circle cx="99.6" cy="271.8" r="1.6"/><circle cx="119.7" cy="281.9" r="1.6"/><circle cx="100.5" cy="264.6" r="1.7"/><circle cx="122.6" cy="302.9" r="1.4"/><circle cx="103.5" cy="291.5" r="1.5"/><circle cx="102.7" cy="266.2" r="1.7"/><circle cx="121.9" cy="277.1" r="1.6"/><circle cx="119.2" cy="288.5" r="1.5"/><circle cx="97.1" cy="277.6" r="1.6"/><circle cx="130.7" cy="270.0" r="1.6"/><circle cx="150.4" cy="287.6" r="1.5"/><circle cx="99.6" cy="273.4" r="1.6"/><circle cx="145.7" cy="282.9" r="1.6"/><circle cx="110.7" cy="282.8" r="1.6"/><circle cx="113.4" cy="282.4" r="1.6"/><circle cx="117.8" cy="269.8" r="1.6"/><circle cx="100.1" cy="293.6" r="1.5"/><circle cx="138.4" cy="285.6" r="1.5"/><circle cx="127.2" cy="274.5" r="1.6"/><circle cx="109.8" cy="294.7" r="1.5"/><circle cx="116.4" cy="298.5" r="1.5"/><circle cx="99.1" cy="275.5" r="1.6"/><circle cx="115.4" cy="281.6" r="1.6"/><circle cx="133.3" cy="283.2" r="1.6"/><circle cx="96.4" cy="280.1" r="1.6"/><circle cx="114.2" cy="292.0" r="1.5"/><circle cx="122.3" cy="250.5" r="1.8"/><circle cx="134.9" cy="292.1" r="1.5"/><circle cx="139.1" cy="286.3" r="1.5"/><circle cx="113.9" cy="296.8" r="1.5"/><circle cx="110.0" cy="286.1" r="1.5"/><circle cx="126.6" cy="265.3" r="1.7"/><circle cx="115.2" cy="281.4" r="1.6"/><circle cx="116.0" cy="275.3" r="1.6"/><circle cx="135.3" cy="286.8" r="1.5"/><circle cx="143.8" cy="262.2" r="1.7"/><circle cx="124.0" cy="279.9" r="1.6"/><circle cx="117.6" cy="295.0" r="1.5"/><circle cx="128.3" cy="273.4" r="1.6"/><circle cx="94.0" cy="285.6" r="1.5"/><circle cx="120.0" cy="275.1" r="1.6"/><circle cx="105.5" cy="280.1" r="1.6"/><circle cx="153.6" cy="278.8" r="1.6"/><circle cx="130.3" cy="280.2" r="1.6"/><circle cx="122.3" cy="291.3" r="1.5"/><circle cx="117.6" cy="297.7" r="1.5"/><circle cx="85.2" cy="271.2" r="1.6"/><circle cx="130.2" cy="283.1" r="1.6"/><circle cx="143.0" cy="278.6" r="1.6"/><circle cx="110.1" cy="286.6" r="1.5"/><circle cx="129.8" cy="303.2" r="1.4"/><circle cx="130.4" cy="295.3" r="1.5"/><circle cx="98.7" cy="266.7" r="1.7"/><circle cx="133.3" cy="290.0" r="1.5"/><circle cx="139.2" cy="285.7" r="1.5"/><circle cx="123.5" cy="297.3" r="1.5"/><circle cx="119.4" cy="287.3" r="1.5"/><circle cx="131.3" cy="285.6" r="1.5"/><circle cx="98.8" cy="284.0" r="1.6"/><circle cx="121.6" cy="282.4" r="1.6"/><circle cx="135.0" cy="288.4" r="1.5"/><circle cx="103.0" cy="287.8" r="1.5"/><circle cx="134.1" cy="281.8" r="1.6"/><circle cx="114.5" cy="278.2" r="1.6"/><circle cx="91.3" cy="283.2" r="1.6"/><circle cx="118.8" cy="263.0" r="1.7"/><circle cx="106.7" cy="279.5" r="1.6"/><circle cx="124.7" cy="279.9" r="1.6"/><circle cx="103.9" cy="288.7" r="1.5"/><circle cx="134.9" cy="270.7" r="1.6"/><circle cx="110.0" cy="292.6" r="1.5"/><circle cx="125.3" cy="299.0" r="1.5"/><circle cx="112.0" cy="292.1" r="1.5"/><circle cx="115.8" cy="275.1" r="1.6"/><circle cx="136.9" cy="293.9" r="1.5"/><circle cx="123.3" cy="267.9" r="1.7"/><circle cx="114.8" cy="281.9" r="1.6"/><circle cx="102.8" cy="297.9" r="1.5"/><circle cx="136.5" cy="284.1" r="1.5"/><circle cx="130.5" cy="262.6" r="1.7"/><circle cx="115.7" cy="290.9" r="1.5"/><circle cx="123.7" cy="295.7" r="1.5"/><circle cx="105.9" cy="276.2" r="1.6"/><circle cx="106.1" cy="267.7" r="1.7"/><circle cx="108.8" cy="270.8" r="1.6"/><circle cx="125.2" cy="285.2" r="1.5"/><circle cx="124.4" cy="279.7" r="1.6"/><circle cx="109.9" cy="278.2" r="1.6"/><circle cx="130.6" cy="269.2" r="1.7"/><circle cx="131.2" cy="258.7" r="1.7"/><circle cx="122.7" cy="282.9" r="1.6"/><circle cx="134.8" cy="267.8" r="1.7"/><circle cx="116.3" cy="285.4" r="1.5"/><circle cx="118.7" cy="275.4" r="1.6"/><circle cx="126.9" cy="291.7" r="1.5"/><circle cx="119.8" cy="289.9" r="1.5"/><circle cx="131.4" cy="277.3" r="1.6"/><circle cx="102.8" cy="291.3" r="1.5"/><circle cx="140.2" cy="272.2" r="1.6"/><circle cx="109.4" cy="287.6" r="1.5"/><circle cx="118.0" cy="280.9" r="1.6"/><circle cx="101.1" cy="282.6" r="1.6"/><circle cx="128.7" cy="285.3" r="1.5"/><circle cx="138.0" cy="280.3" r="1.6"/><circle cx="135.2" cy="270.2" r="1.6"/><circle cx="131.9" cy="248.5" r="1.8"/><circle cx="98.6" cy="294.4" r="1.5"/><circle cx="109.4" cy="278.5" r="1.6"/><circle cx="113.8" cy="283.6" r="1.6"/><circle cx="107.3" cy="291.5" r="1.5"/><circle cx="135.9" cy="278.6" r="1.6"/><circle cx="122.9" cy="291.1" r="1.5"/><circle cx="119.9" cy="282.5" r="1.6"/><circle cx="127.1" cy="268.5" r="1.7"/><circle cx="107.0" cy="303.3" r="1.4"/><circle cx="107.6" cy="279.1" r="1.6"/><circle cx="108.0" cy="276.9" r="1.6"/><circle cx="127.2" cy="291.9" r="1.5"/><circle cx="125.1" cy="276.1" r="1.6"/><circle cx="128.3" cy="278.0" r="1.6"/><circle cx="135.3" cy="285.4" r="1.5"/><circle cx="101.4" cy="268.8" r="1.7"/><circle cx="112.5" cy="295.7" r="1.5"/><circle cx="122.3" cy="274.8" r="1.6"/><circle cx="101.5" cy="284.2" r="1.5"/><circle cx="112.9" cy="293.0" r="1.5"/><circle cx="134.4" cy="283.6" r="1.6"/><circle cx="135.7" cy="285.4" r="1.5"/><circle cx="135.3" cy="273.0" r="1.6"/><circle cx="120.9" cy="297.7" r="1.5"/><circle cx="117.3" cy="283.8" r="1.6"/><circle cx="135.3" cy="286.6" r="1.5"/><circle cx="115.1" cy="264.9" r="1.7"/><circle cx="125.0" cy="293.7" r="1.5"/><circle cx="138.8" cy="270.4" r="1.6"/><circle cx="115.2" cy="300.5" r="1.4"/><circle cx="111.8" cy="278.0" r="1.6"/><circle cx="120.2" cy="283.2" r="1.6"/><circle cx="128.6" cy="277.7" r="1.6"/><circle cx="127.0" cy="289.3" r="1.5"/><circle cx="122.5" cy="302.6" r="1.4"/><circle cx="128.0" cy="298.3" r="1.5"/><circle cx="98.0" cy="267.8" r="1.7"/><circle cx="108.3" cy="279.5" r="1.6"/><circle cx="122.6" cy="291.0" r="1.5"/><circle cx="107.3" cy="272.2" r="1.6"/><circle cx="101.6" cy="289.8" r="1.5"/><circle cx="103.4" cy="289.7" r="1.5"/><circle cx="107.5" cy="294.8" r="1.5"/><circle cx="117.8" cy="269.3" r="1.7"/><circle cx="106.0" cy="260.9" r="1.7"/><circle cx="123.6" cy="292.2" r="1.5"/><circle cx="143.9" cy="278.8" r="1.6"/><circle cx="118.2" cy="271.4" r="1.6"/><circle cx="138.1" cy="259.3" r="1.7"/><circle cx="124.3" cy="307.5" r="1.4"/><circle cx="104.7" cy="280.4" r="1.6"/><circle cx="116.7" cy="275.0" r="1.6"/><circle cx="106.6" cy="297.7" r="1.5"/><circle cx="131.0" cy="277.6" r="1.6"/><circle cx="104.2" cy="279.8" r="1.6"/><circle cx="138.7" cy="274.2" r="1.6"/><circle cx="128.3" cy="288.2" r="1.5"/><circle cx="92.1" cy="277.5" r="1.6"/><circle cx="131.2" cy="288.4" r="1.5"/><circle cx="141.9" cy="275.5" r="1.6"/><circle cx="109.3" cy="280.3" r="1.6"/><circle cx="134.0" cy="286.0" r="1.5"/><circle cx="95.2" cy="297.1" r="1.5"/><circle cx="123.8" cy="264.3" r="1.7"/><circle cx="97.1" cy="270.1" r="1.6"/><circle cx="127.0" cy="272.6" r="1.6"/><circle cx="95.4" cy="289.1" r="1.5"/><circle cx="83.6" cy="285.7" r="1.5"/><circle cx="125.8" cy="264.1" r="1.7"/><circle cx="152.2" cy="274.0" r="1.6"/><circle cx="112.0" cy="291.1" r="1.5"/><circle cx="131.9" cy="281.5" r="1.6"/><circle cx="121.8" cy="280.4" r="1.6"/><circle cx="115.8" cy="284.1" r="1.6"/><circle cx="128.9" cy="292.0" r="1.5"/><circle cx="143.2" cy="268.5" r="1.7"/><circle cx="103.1" cy="275.6" r="1.6"/><circle cx="128.1" cy="284.0" r="1.6"/><circle cx="125.1" cy="298.7" r="1.5"/><circle cx="100.4" cy="288.1" r="1.5"/><circle cx="142.8" cy="281.9" r="1.6"/><circle cx="147.5" cy="272.6" r="1.6"/><circle cx="107.0" cy="285.8" r="1.5"/><circle cx="144.5" cy="270.0" r="1.6"/><circle cx="121.1" cy="280.4" r="1.6"/><circle cx="118.0" cy="289.8" r="1.5"/><circle cx="141.2" cy="311.7" r="1.4"/><circle cx="123.5" cy="294.4" r="1.5"/><circle cx="124.8" cy="297.8" r="1.5"/><circle cx="141.4" cy="283.4" r="1.6"/><circle cx="138.2" cy="278.3" r="1.6"/><circle cx="132.7" cy="266.9" r="1.7"/><circle cx="100.8" cy="281.9" r="1.6"/><circle cx="98.4" cy="294.2" r="1.5"/><circle cx="136.0" cy="256.6" r="1.7"/><circle cx="107.4" cy="278.4" r="1.6"/><circle cx="122.4" cy="284.6" r="1.5"/><circle cx="105.3" cy="284.6" r="1.5"/><circle cx="117.7" cy="296.2" r="1.5"/><circle cx="102.5" cy="274.9" r="1.6"/><circle cx="143.0" cy="277.7" r="1.6"/><circle cx="106.1" cy="264.7" r="1.7"/><circle cx="118.6" cy="269.9" r="1.6"/><circle cx="117.7" cy="272.4" r="1.6"/><circle cx="137.1" cy="268.2" r="1.7"/><circle cx="100.5" cy="284.7" r="1.5"/><circle cx="119.8" cy="286.4" r="1.5"/><circle cx="117.4" cy="282.2" r="1.6"/><circle cx="127.7" cy="295.0" r="1.5"/><circle cx="126.9" cy="283.2" r="1.6"/><circle cx="113.8" cy="285.2" r="1.5"/><circle cx="123.6" cy="274.5" r="1.6"/><circle cx="115.1" cy="281.8" r="1.6"/><circle cx="126.8" cy="302.0" r="1.4"/><circle cx="118.9" cy="281.3" r="1.6"/><circle cx="111.1" cy="266.4" r="1.7"/><circle cx="119.9" cy="301.2" r="1.4"/><circle cx="125.4" cy="289.7" r="1.5"/><circle cx="151.9" cy="281.4" r="1.6"/><circle cx="113.4" cy="295.7" r="1.5"/><circle cx="124.6" cy="287.4" r="1.5"/><circle cx="140.7" cy="280.9" r="1.6"/><circle cx="91.3" cy="295.6" r="1.5"/><circle cx="96.0" cy="278.4" r="1.6"/><circle cx="103.7" cy="277.1" r="1.6"/><circle cx="118.7" cy="295.0" r="1.5"/><circle cx="154.3" cy="281.2" r="1.6"/><circle cx="125.7" cy="269.9" r="1.6"/><circle cx="137.1" cy="283.3" r="1.6"/><circle cx="117.2" cy="276.8" r="1.6"/><circle cx="85.9" cy="274.6" r="1.6"/><circle cx="88.0" cy="283.9" r="1.6"/><circle cx="134.5" cy="270.9" r="1.6"/><circle cx="122.9" cy="277.3" r="1.6"/><circle cx="102.2" cy="292.0" r="1.5"/><circle cx="135.9" cy="275.8" r="1.6"/><circle cx="98.8" cy="272.1" r="1.6"/><circle cx="136.1" cy="272.8" r="1.6"/><circle cx="140.5" cy="288.2" r="1.5"/><circle cx="109.6" cy="276.4" r="1.6"/><circle cx="104.8" cy="266.7" r="1.7"/><circle cx="132.1" cy="278.9" r="1.6"/><circle cx="105.0" cy="268.7" r="1.7"/><circle cx="132.3" cy="267.4" r="1.7"/><circle cx="103.6" cy="281.7" r="1.6"/><circle cx="131.5" cy="274.2" r="1.6"/><circle cx="121.6" cy="284.4" r="1.5"/><circle cx="114.3" cy="269.8" r="1.6"/><circle cx="107.8" cy="282.2" r="1.6"/><circle cx="123.6" cy="287.1" r="1.5"/><circle cx="93.9" cy="281.5" r="1.6"/><circle cx="116.4" cy="282.0" r="1.6"/><circle cx="114.8" cy="277.1" r="1.6"/><circle cx="129.7" cy="276.2" r="1.6"/><circle cx="102.8" cy="293.7" r="1.5"/><circle cx="144.2" cy="288.2" r="1.5"/><circle cx="115.9" cy="277.4" r="1.6"/><circle cx="104.4" cy="276.0" r="1.6"/><circle cx="139.6" cy="280.3" r="1.6"/><circle cx="143.5" cy="253.0" r="1.8"/><circle cx="117.7" cy="269.2" r="1.7"/><circle cx="107.9" cy="282.0" r="1.6"/><circle cx="120.5" cy="273.3" r="1.6"/><circle cx="110.7" cy="266.8" r="1.7"/><circle cx="115.9" cy="277.2" r="1.6"/><circle cx="142.0" cy="299.7" r="1.4"/><circle cx="125.8" cy="280.0" r="1.6"/><circle cx="122.3" cy="280.5" r="1.6"/><circle cx="125.1" cy="258.2" r="1.7"/><circle cx="119.5" cy="300.7" r="1.4"/><circle cx="132.0" cy="264.5" r="1.7"/><circle cx="132.5" cy="282.7" r="1.6"/><circle cx="115.1" cy="271.0" r="1.6"/><circle cx="121.8" cy="284.1" r="1.6"/><circle cx="153.9" cy="279.1" r="1.6"/><circle cx="126.2" cy="268.8" r="1.7"/><circle cx="117.7" cy="280.0" r="1.6"/><circle cx="148.9" cy="269.6" r="1.6"/><circle cx="120.4" cy="281.8" r="1.6"/><circle cx="105.0" cy="285.3" r="1.5"/><circle cx="129.7" cy="283.2" r="1.6"/><circle cx="107.7" cy="286.2" r="1.5"/><circle cx="113.4" cy="282.1" r="1.6"/><circle cx="124.8" cy="266.3" r="1.7"/><circle cx="118.5" cy="293.3" r="1.5"/><circle cx="109.6" cy="298.6" r="1.5"/><circle cx="112.6" cy="281.0" r="1.6"/><circle cx="112.0" cy="262.8" r="1.7"/><circle cx="136.5" cy="269.6" r="1.6"/><circle cx="110.2" cy="266.7" r="1.7"/><circle cx="112.3" cy="267.4" r="1.7"/><circle cx="148.7" cy="288.6" r="1.5"/><circle cx="112.6" cy="279.5" r="1.6"/><circle cx="141.1" cy="309.2" r="1.4"/><circle cx="138.6" cy="287.3" r="1.5"/><circle cx="118.2" cy="274.3" r="1.6"/><circle cx="100.5" cy="297.4" r="1.5"/><circle cx="126.6" cy="302.8" r="1.4"/><circle cx="129.7" cy="294.6" r="1.5"/><circle cx="133.8" cy="278.4" r="1.6"/><circle cx="121.3" cy="268.2" r="1.7"/><circle cx="137.1" cy="253.0" r="1.8"/><circle cx="139.7" cy="265.4" r="1.7"/><circle cx="105.6" cy="296.8" r="1.5"/><circle cx="140.2" cy="305.4" r="1.4"/><circle cx="122.7" cy="279.0" r="1.6"/><circle cx="112.4" cy="269.3" r="1.7"/><circle cx="115.8" cy="297.9" r="1.5"/><circle cx="146.5" cy="286.1" r="1.5"/><circle cx="134.0" cy="285.3" r="1.5"/><circle cx="95.3" cy="280.1" r="1.6"/><circle cx="121.5" cy="282.4" r="1.6"/><circle cx="118.3" cy="274.9" r="1.6"/><circle cx="117.8" cy="269.1" r="1.7"/><circle cx="113.1" cy="279.6" r="1.6"/><circle cx="100.0" cy="272.4" r="1.6"/><circle cx="132.3" cy="259.1" r="1.7"/><circle cx="107.2" cy="291.3" r="1.5"/><circle cx="115.1" cy="291.5" r="1.5"/><circle cx="111.9" cy="274.9" r="1.6"/><circle cx="110.1" cy="260.5" r="1.7"/><circle cx="130.7" cy="278.5" r="1.6"/><circle cx="125.6" cy="268.6" r="1.7"/><circle cx="110.9" cy="283.5" r="1.6"/><circle cx="107.1" cy="270.4" r="1.6"/><circle cx="113.7" cy="286.9" r="1.5"/><circle cx="133.8" cy="273.0" r="1.6"/><circle cx="122.0" cy="275.9" r="1.6"/><circle cx="123.5" cy="275.9" r="1.6"/><circle cx="115.7" cy="265.4" r="1.7"/><circle cx="116.7" cy="268.7" r="1.7"/><circle cx="123.3" cy="286.5" r="1.5"/><circle cx="94.6" cy="270.6" r="1.6"/><circle cx="142.8" cy="298.2" r="1.5"/><circle cx="109.3" cy="269.4" r="1.6"/><circle cx="112.4" cy="250.6" r="1.8"/><circle cx="138.9" cy="274.3" r="1.6"/><circle cx="123.4" cy="274.5" r="1.6"/><circle cx="120.9" cy="279.2" r="1.6"/><circle cx="112.2" cy="271.0" r="1.6"/><circle cx="98.5" cy="284.6" r="1.5"/><circle cx="122.9" cy="272.6" r="1.6"/><circle cx="137.0" cy="282.7" r="1.6"/><circle cx="107.7" cy="284.3" r="1.5"/><circle cx="139.3" cy="278.4" r="1.6"/><circle cx="104.6" cy="280.3" r="1.6"/><circle cx="110.1" cy="298.2" r="1.5"/><circle cx="127.3" cy="257.5" r="1.7"/><circle cx="120.3" cy="278.1" r="1.6"/><circle cx="129.9" cy="297.8" r="1.5"/><circle cx="109.9" cy="268.1" r="1.7"/><circle cx="105.9" cy="279.9" r="1.6"/><circle cx="94.3" cy="277.4" r="1.6"/><circle cx="103.5" cy="272.1" r="1.6"/><circle cx="105.3" cy="289.2" r="1.5"/><circle cx="100.4" cy="311.1" r="1.4"/><circle cx="124.6" cy="280.7" r="1.6"/><circle cx="111.0" cy="277.0" r="1.6"/><circle cx="92.6" cy="268.9" r="1.7"/><circle cx="154.9" cy="287.7" r="1.5"/><circle cx="108.6" cy="282.5" r="1.6"/><circle cx="102.8" cy="275.3" r="1.6"/><circle cx="137.6" cy="283.0" r="1.6"/><circle cx="136.5" cy="282.3" r="1.6"/><circle cx="104.2" cy="276.9" r="1.6"/><circle cx="99.7" cy="290.3" r="1.5"/><circle cx="106.3" cy="262.7" r="1.7"/><circle cx="136.0" cy="289.5" r="1.5"/><circle cx="115.9" cy="279.2" r="1.6"/><circle cx="109.0" cy="283.1" r="1.6"/><circle cx="119.9" cy="287.2" r="1.5"/><circle cx="137.1" cy="273.9" r="1.6"/><circle cx="100.9" cy="268.8" r="1.7"/><circle cx="114.9" cy="264.1" r="1.7"/><circle cx="101.0" cy="273.4" r="1.6"/><circle cx="150.6" cy="284.4" r="1.5"/><circle cx="145.6" cy="270.4" r="1.6"/><circle cx="133.5" cy="295.1" r="1.5"/><circle cx="118.4" cy="279.1" r="1.6"/><circle cx="129.5" cy="274.1" r="1.6"/><circle cx="91.0" cy="273.6" r="1.6"/><circle cx="124.1" cy="292.0" r="1.5"/><circle cx="101.7" cy="295.7" r="1.5"/><circle cx="101.8" cy="262.0" r="1.7"/><circle cx="110.5" cy="285.2" r="1.5"/><circle cx="115.4" cy="297.4" r="1.5"/><circle cx="128.3" cy="293.0" r="1.5"/><circle cx="130.1" cy="279.6" r="1.6"/><circle cx="123.9" cy="267.2" r="1.7"/><circle cx="107.1" cy="279.9" r="1.6"/><circle cx="129.7" cy="267.0" r="1.7"/><circle cx="118.6" cy="277.4" r="1.6"/><circle cx="136.7" cy="274.8" r="1.6"/><circle cx="107.5" cy="269.4" r="1.6"/><circle cx="81.8" cy="283.9" r="1.6"/><circle cx="113.6" cy="276.8" r="1.6"/><circle cx="150.3" cy="284.1" r="1.6"/><circle cx="126.8" cy="286.8" r="1.5"/><circle cx="117.6" cy="273.0" r="1.6"/><circle cx="132.6" cy="288.8" r="1.5"/><circle cx="127.3" cy="279.1" r="1.6"/><circle cx="126.7" cy="288.5" r="1.5"/><circle cx="113.1" cy="281.0" r="1.6"/><circle cx="121.3" cy="285.7" r="1.5"/><circle cx="123.1" cy="268.4" r="1.7"/><circle cx="111.3" cy="279.2" r="1.6"/><circle cx="104.7" cy="279.3" r="1.6"/><circle cx="122.2" cy="262.5" r="1.7"/><circle cx="133.8" cy="311.1" r="1.4"/><circle cx="129.3" cy="292.1" r="1.5"/><circle cx="127.2" cy="309.5" r="1.4"/><circle cx="127.3" cy="280.4" r="1.6"/><circle cx="156.3" cy="275.6" r="1.6"/><circle cx="123.9" cy="273.5" r="1.6"/><circle cx="134.8" cy="277.5" r="1.6"/><circle cx="147.6" cy="289.7" r="1.5"/><circle cx="121.0" cy="261.7" r="1.7"/><circle cx="124.0" cy="277.2" r="1.6"/><circle cx="134.8" cy="283.2" r="1.6"/><circle cx="143.8" cy="292.5" r="1.5"/><circle cx="124.7" cy="276.0" r="1.6"/><circle cx="125.3" cy="285.8" r="1.5"/><circle cx="121.6" cy="285.3" r="1.5"/><circle cx="103.5" cy="278.3" r="1.6"/><circle cx="135.9" cy="278.2" r="1.6"/><circle cx="116.8" cy="289.3" r="1.5"/><circle cx="96.3" cy="267.2" r="1.7"/><circle cx="118.3" cy="291.3" r="1.5"/><circle cx="96.2" cy="292.6" r="1.5"/><circle cx="106.3" cy="277.3" r="1.6"/><circle cx="120.6" cy="279.3" r="1.6"/><circle cx="107.5" cy="279.9" r="1.6"/><circle cx="135.3" cy="285.1" r="1.5"/><circle cx="99.9" cy="280.2" r="1.6"/><circle cx="124.0" cy="286.7" r="1.5"/><circle cx="128.2" cy="298.3" r="1.5"/><circle cx="140.7" cy="272.8" r="1.6"/><circle cx="133.3" cy="291.5" r="1.5"/><circle cx="123.7" cy="283.2" r="1.6"/><circle cx="121.5" cy="272.9" r="1.6"/><circle cx="119.6" cy="280.5" r="1.6"/><circle cx="136.3" cy="251.4" r="1.8"/><circle cx="111.3" cy="295.7" r="1.5"/><circle cx="127.7" cy="288.7" r="1.5"/><circle cx="119.1" cy="279.8" r="1.6"/><circle cx="123.8" cy="266.3" r="1.7"/><circle cx="116.8" cy="283.4" r="1.6"/><circle cx="150.2" cy="296.1" r="1.5"/><circle cx="111.3" cy="268.6" r="1.7"/><circle cx="124.0" cy="290.6" r="1.5"/><circle cx="124.3" cy="282.9" r="1.6"/><circle cx="128.9" cy="271.4" r="1.6"/><circle cx="126.7" cy="288.0" r="1.5"/><circle cx="126.4" cy="285.6" r="1.5"/><circle cx="134.1" cy="275.6" r="1.6"/><circle cx="99.5" cy="283.0" r="1.6"/><circle cx="120.6" cy="277.8" r="1.6"/><circle cx="103.3" cy="290.9" r="1.5"/><circle cx="123.7" cy="282.1" r="1.6"/><circle cx="104.0" cy="292.5" r="1.5"/><circle cx="107.1" cy="297.5" r="1.5"/><circle cx="119.6" cy="262.1" r="1.7"/><circle cx="139.9" cy="276.0" r="1.6"/><circle cx="128.5" cy="271.1" r="1.6"/><circle cx="124.6" cy="291.2" r="1.5"/><circle cx="140.0" cy="281.2" r="1.6"/><circle cx="107.3" cy="283.1" r="1.6"/><circle cx="91.3" cy="296.1" r="1.5"/><circle cx="114.6" cy="275.0" r="1.6"/><circle cx="116.6" cy="288.6" r="1.5"/><circle cx="137.7" cy="283.1" r="1.6"/><circle cx="150.3" cy="297.1" r="1.5"/><circle cx="101.9" cy="270.3" r="1.6"/><circle cx="155.0" cy="272.8" r="1.6"/><circle cx="142.3" cy="276.7" r="1.6"/><circle cx="132.2" cy="290.6" r="1.5"/><circle cx="125.6" cy="286.7" r="1.5"/><circle cx="154.3" cy="267.8" r="1.7"/><circle cx="121.6" cy="283.9" r="1.6"/><circle cx="113.9" cy="278.0" r="1.6"/><circle cx="122.4" cy="279.4" r="1.6"/><circle cx="101.4" cy="292.9" r="1.5"/><circle cx="127.1" cy="264.6" r="1.7"/><circle cx="119.0" cy="302.1" r="1.4"/><circle cx="125.1" cy="278.5" r="1.6"/><circle cx="125.5" cy="281.8" r="1.6"/><circle cx="105.7" cy="298.2" r="1.5"/><circle cx="138.8" cy="277.4" r="1.6"/><circle cx="106.3" cy="275.3" r="1.6"/><circle cx="132.9" cy="280.3" r="1.6"/><circle cx="98.3" cy="289.7" r="1.5"/><circle cx="125.7" cy="276.1" r="1.6"/><circle cx="109.1" cy="269.0" r="1.7"/><circle cx="121.1" cy="278.5" r="1.6"/><circle cx="111.4" cy="262.5" r="1.7"/><circle cx="90.1" cy="271.7" r="1.6"/><circle cx="105.0" cy="272.7" r="1.6"/><circle cx="121.5" cy="266.0" r="1.7"/><circle cx="129.2" cy="288.0" r="1.5"/><circle cx="100.0" cy="286.5" r="1.5"/><circle cx="90.9" cy="275.4" r="1.6"/><circle cx="108.3" cy="275.3" r="1.6"/><circle cx="117.6" cy="264.8" r="1.7"/><circle cx="111.7" cy="268.6" r="1.7"/><circle cx="109.2" cy="279.0" r="1.6"/><circle cx="132.4" cy="278.5" r="1.6"/><circle cx="134.0" cy="283.8" r="1.6"/><circle cx="130.8" cy="284.8" r="1.5"/><circle cx="107.4" cy="285.7" r="1.5"/><circle cx="121.6" cy="271.2" r="1.6"/><circle cx="117.8" cy="285.8" r="1.5"/><circle cx="100.6" cy="284.6" r="1.5"/><circle cx="132.8" cy="279.1" r="1.6"/><circle cx="121.7" cy="286.3" r="1.5"/><circle cx="113.7" cy="283.2" r="1.6"/><circle cx="140.3" cy="304.1" r="1.4"/><circle cx="131.2" cy="276.7" r="1.6"/><circle cx="132.4" cy="284.0" r="1.6"/><circle cx="137.2" cy="278.6" r="1.6"/><circle cx="130.5" cy="276.7" r="1.6"/><circle cx="102.9" cy="300.4" r="1.4"/><circle cx="115.1" cy="254.9" r="1.7"/><circle cx="134.5" cy="278.8" r="1.6"/><circle cx="109.8" cy="278.5" r="1.6"/><circle cx="121.0" cy="299.4" r="1.4"/><circle cx="126.0" cy="273.5" r="1.6"/><circle cx="140.6" cy="275.7" r="1.6"/><circle cx="138.6" cy="283.8" r="1.6"/><circle cx="133.0" cy="277.3" r="1.6"/><circle cx="117.9" cy="266.1" r="1.7"/><circle cx="133.2" cy="283.3" r="1.6"/><circle cx="127.8" cy="289.3" r="1.5"/><circle cx="118.2" cy="265.3" r="1.7"/><circle cx="139.4" cy="276.7" r="1.6"/><circle cx="127.4" cy="281.4" r="1.6"/><circle cx="109.9" cy="254.8" r="1.7"/><circle cx="138.1" cy="277.7" r="1.6"/><circle cx="116.9" cy="281.2" r="1.6"/><circle cx="128.7" cy="276.5" r="1.6"/><circle cx="99.2" cy="283.7" r="1.6"/><circle cx="120.2" cy="277.1" r="1.6"/><circle cx="107.3" cy="277.8" r="1.6"/><circle cx="106.9" cy="286.4" r="1.5"/><circle cx="93.8" cy="282.2" r="1.6"/><circle cx="150.3" cy="276.1" r="1.6"/><circle cx="118.3" cy="275.4" r="1.6"/><circle cx="123.8" cy="273.2" r="1.6"/><circle cx="135.9" cy="271.1" r="1.6"/><circle cx="118.7" cy="276.8" r="1.6"/><circle cx="127.6" cy="274.0" r="1.6"/><circle cx="101.5" cy="283.6" r="1.6"/><circle cx="123.2" cy="282.3" r="1.6"/><circle cx="114.7" cy="268.5" r="1.7"/><circle cx="127.4" cy="300.7" r="1.4"/><circle cx="122.9" cy="275.7" r="1.6"/><circle cx="101.1" cy="245.9" r="1.8"/><circle cx="94.6" cy="299.5" r="1.4"/><circle cx="106.3" cy="263.7" r="1.7"/><circle cx="130.7" cy="298.6" r="1.5"/><circle cx="126.3" cy="276.0" r="1.6"/><circle cx="126.0" cy="262.6" r="1.7"/><circle cx="92.2" cy="264.1" r="1.7"/><circle cx="82.9" cy="289.7" r="1.5"/><circle cx="111.7" cy="294.0" r="1.5"/><circle cx="115.7" cy="295.5" r="1.5"/><circle cx="112.0" cy="272.5" r="1.6"/><circle cx="125.3" cy="284.4" r="1.5"/><circle cx="118.0" cy="280.2" r="1.6"/><circle cx="103.8" cy="277.5" r="1.6"/><circle cx="108.1" cy="275.9" r="1.6"/><circle cx="122.4" cy="274.6" r="1.6"/><circle cx="121.4" cy="279.0" r="1.6"/><circle cx="119.3" cy="297.6" r="1.5"/><circle cx="152.0" cy="264.8" r="1.7"/><circle cx="116.7" cy="309.8" r="1.4"/><circle cx="122.0" cy="267.2" r="1.7"/><circle cx="106.4" cy="286.9" r="1.5"/><circle cx="115.3" cy="282.6" r="1.6"/><circle cx="127.6" cy="286.1" r="1.5"/><circle cx="128.2" cy="284.4" r="1.5"/><circle cx="118.1" cy="280.7" r="1.6"/><circle cx="125.8" cy="283.5" r="1.6"/><circle cx="121.1" cy="292.2" r="1.5"/><circle cx="94.1" cy="271.4" r="1.6"/><circle cx="74.6" cy="286.7" r="1.5"/><circle cx="152.5" cy="266.2" r="1.7"/><circle cx="131.9" cy="282.2" r="1.6"/><circle cx="119.5" cy="288.1" r="1.5"/><circle cx="96.1" cy="275.9" r="1.6"/><circle cx="102.5" cy="271.0" r="1.6"/><circle cx="139.2" cy="290.4" r="1.5"/><circle cx="81.4" cy="283.6" r="1.6"/><circle cx="115.8" cy="265.3" r="1.7"/><circle cx="132.4" cy="291.2" r="1.5"/><circle cx="122.3" cy="289.6" r="1.5"/><circle cx="130.8" cy="278.8" r="1.6"/><circle cx="118.5" cy="293.5" r="1.5"/><circle cx="153.7" cy="306.9" r="1.4"/><circle cx="106.0" cy="298.4" r="1.5"/><circle cx="101.3" cy="276.5" r="1.6"/><circle cx="124.1" cy="273.6" r="1.6"/><circle cx="140.2" cy="274.2" r="1.6"/><circle cx="119.5" cy="276.4" r="1.6"/><circle cx="134.9" cy="293.7" r="1.5"/><circle cx="112.9" cy="273.3" r="1.6"/><circle cx="103.8" cy="268.2" r="1.7"/><circle cx="139.8" cy="288.0" r="1.5"/><circle cx="142.2" cy="270.5" r="1.6"/><circle cx="141.7" cy="284.5" r="1.5"/><circle cx="114.2" cy="278.5" r="1.6"/><circle cx="104.2" cy="276.6" r="1.6"/><circle cx="104.0" cy="296.4" r="1.5"/><circle cx="117.2" cy="264.9" r="1.7"/><circle cx="128.4" cy="289.7" r="1.5"/><circle cx="127.4" cy="281.6" r="1.6"/><circle cx="100.3" cy="285.8" r="1.5"/><circle cx="123.0" cy="275.6" r="1.6"/><circle cx="120.5" cy="275.9" r="1.6"/><circle cx="121.5" cy="280.3" r="1.6"/><circle cx="120.0" cy="265.4" r="1.7"/><circle cx="117.5" cy="277.5" r="1.6"/><circle cx="128.6" cy="284.8" r="1.5"/><circle cx="122.1" cy="311.3" r="1.4"/><circle cx="123.4" cy="283.5" r="1.6"/><circle cx="110.7" cy="283.6" r="1.6"/><circle cx="125.8" cy="289.8" r="1.5"/><circle cx="118.6" cy="289.7" r="1.5"/><circle cx="90.8" cy="274.2" r="1.6"/><circle cx="127.0" cy="269.3" r="1.6"/><circle cx="116.6" cy="260.3" r="1.7"/><circle cx="133.2" cy="268.3" r="1.7"/><circle cx="118.0" cy="288.1" r="1.5"/><circle cx="119.0" cy="277.8" r="1.6"/><circle cx="123.2" cy="295.1" r="1.5"/><circle cx="120.1" cy="272.7" r="1.6"/><circle cx="114.1" cy="276.7" r="1.6"/><circle cx="95.3" cy="287.0" r="1.5"/><circle cx="146.0" cy="281.6" r="1.6"/><circle cx="98.3" cy="283.2" r="1.6"/><circle cx="115.5" cy="287.3" r="1.5"/><circle cx="129.4" cy="266.4" r="1.7"/><circle cx="125.6" cy="247.3" r="1.8"/><circle cx="128.2" cy="271.7" r="1.6"/><circle cx="131.0" cy="269.2" r="1.7"/><circle cx="137.9" cy="278.8" r="1.6"/><circle cx="124.4" cy="284.2" r="1.5"/><circle cx="160.8" cy="257.0" r="1.7"/><circle cx="106.2" cy="284.4" r="1.5"/><circle cx="123.5" cy="276.3" r="1.6"/><circle cx="115.3" cy="281.8" r="1.6"/><circle cx="112.7" cy="274.2" r="1.6"/><circle cx="124.3" cy="281.0" r="1.6"/><circle cx="140.6" cy="274.1" r="1.6"/><circle cx="110.4" cy="294.0" r="1.5"/><circle cx="110.4" cy="281.6" r="1.6"/><circle cx="130.4" cy="265.8" r="1.7"/><circle cx="127.9" cy="291.5" r="1.5"/><circle cx="147.6" cy="287.6" r="1.5"/><circle cx="134.6" cy="265.8" r="1.7"/><circle cx="123.5" cy="276.2" r="1.6"/><circle cx="115.7" cy="269.1" r="1.7"/><circle cx="123.3" cy="304.4" r="1.4"/><circle cx="117.8" cy="278.9" r="1.6"/><circle cx="101.3" cy="294.1" r="1.5"/><circle cx="120.4" cy="295.4" r="1.5"/><circle cx="117.8" cy="276.1" r="1.6"/><circle cx="117.0" cy="267.8" r="1.7"/><circle cx="114.3" cy="296.5" r="1.5"/><circle cx="143.9" cy="292.4" r="1.5"/><circle cx="130.0" cy="286.8" r="1.5"/><circle cx="133.3" cy="281.9" r="1.6"/><circle cx="111.8" cy="294.8" r="1.5"/><circle cx="106.0" cy="256.3" r="1.7"/><circle cx="116.3" cy="274.2" r="1.6"/><circle cx="123.7" cy="284.4" r="1.5"/><circle cx="115.5" cy="286.1" r="1.5"/><circle cx="117.7" cy="255.7" r="1.7"/><circle cx="133.7" cy="256.6" r="1.7"/><circle cx="124.5" cy="285.8" r="1.5"/><circle cx="106.6" cy="276.8" r="1.6"/><circle cx="114.3" cy="267.1" r="1.7"/><circle cx="111.1" cy="293.3" r="1.5"/><circle cx="122.8" cy="286.9" r="1.5"/><circle cx="104.0" cy="266.1" r="1.7"/><circle cx="117.8" cy="288.0" r="1.5"/><circle cx="129.9" cy="285.2" r="1.5"/><circle cx="120.7" cy="295.1" r="1.5"/><circle cx="107.5" cy="288.8" r="1.5"/><circle cx="111.7" cy="273.3" r="1.6"/><circle cx="122.0" cy="289.5" r="1.5"/><circle cx="127.0" cy="294.7" r="1.5"/><circle cx="132.0" cy="287.4" r="1.5"/><circle cx="118.3" cy="261.7" r="1.7"/><circle cx="101.9" cy="278.8" r="1.6"/><circle cx="140.2" cy="286.7" r="1.5"/><circle cx="124.4" cy="279.1" r="1.6"/><circle cx="125.9" cy="276.0" r="1.6"/><circle cx="124.5" cy="279.4" r="1.6"/><circle cx="105.8" cy="300.2" r="1.4"/><circle cx="115.8" cy="277.6" r="1.6"/><circle cx="123.9" cy="283.1" r="1.6"/><circle cx="134.7" cy="271.7" r="1.6"/><circle cx="121.1" cy="295.3" r="1.5"/><circle cx="76.8" cy="269.5" r="1.6"/><circle cx="116.9" cy="286.1" r="1.5"/><circle cx="125.2" cy="299.2" r="1.4"/><circle cx="138.3" cy="266.5" r="1.7"/><circle cx="130.2" cy="286.4" r="1.5"/><circle cx="155.0" cy="276.8" r="1.6"/><circle cx="140.1" cy="282.6" r="1.6"/><circle cx="139.1" cy="269.1" r="1.7"/><circle cx="133.4" cy="269.0" r="1.7"/><circle cx="101.0" cy="268.9" r="1.7"/><circle cx="132.1" cy="273.2" r="1.6"/><circle cx="128.6" cy="298.3" r="1.5"/><circle cx="113.0" cy="299.0" r="1.4"/><circle cx="128.5" cy="278.8" r="1.6"/><circle cx="126.1" cy="291.2" r="1.5"/><circle cx="113.8" cy="275.9" r="1.6"/><circle cx="118.6" cy="279.2" r="1.6"/><circle cx="116.6" cy="296.2" r="1.5"/><circle cx="123.5" cy="292.1" r="1.5"/><circle cx="114.4" cy="293.2" r="1.5"/><circle cx="127.9" cy="290.5" r="1.5"/><circle cx="93.6" cy="283.2" r="1.6"/><circle cx="116.4" cy="273.6" r="1.6"/><circle cx="96.8" cy="266.5" r="1.7"/><circle cx="113.6" cy="291.4" r="1.5"/><circle cx="127.5" cy="287.0" r="1.5"/><circle cx="120.6" cy="264.2" r="1.7"/><circle cx="118.7" cy="271.3" r="1.6"/><circle cx="121.2" cy="278.4" r="1.6"/><circle cx="142.2" cy="306.3" r="1.4"/><circle cx="104.9" cy="291.8" r="1.5"/><circle cx="132.7" cy="279.3" r="1.6"/><circle cx="99.2" cy="287.3" r="1.5"/><circle cx="113.8" cy="259.5" r="1.7"/><circle cx="122.6" cy="280.0" r="1.6"/><circle cx="108.4" cy="277.9" r="1.6"/><circle cx="123.1" cy="292.8" r="1.5"/><circle cx="130.4" cy="292.2" r="1.5"/><circle cx="103.6" cy="288.2" r="1.5"/><circle cx="119.2" cy="287.7" r="1.5"/><circle cx="115.0" cy="283.5" r="1.6"/><circle cx="93.2" cy="276.9" r="1.6"/><circle cx="117.7" cy="278.4" r="1.6"/><circle cx="109.2" cy="270.2" r="1.6"/><circle cx="139.0" cy="295.6" r="1.5"/><circle cx="108.1" cy="278.7" r="1.6"/><circle cx="144.0" cy="278.4" r="1.6"/><circle cx="112.8" cy="263.8" r="1.7"/><circle cx="147.3" cy="283.3" r="1.6"/><circle cx="127.8" cy="277.5" r="1.6"/><circle cx="126.6" cy="289.8" r="1.5"/><circle cx="131.5" cy="276.4" r="1.6"/><circle cx="132.9" cy="276.7" r="1.6"/><circle cx="139.9" cy="287.8" r="1.5"/><circle cx="144.4" cy="285.7" r="1.5"/><circle cx="115.5" cy="281.3" r="1.6"/><circle cx="102.9" cy="274.7" r="1.6"/><circle cx="83.0" cy="293.4" r="1.5"/><circle cx="114.9" cy="271.4" r="1.6"/><circle cx="130.9" cy="284.6" r="1.5"/><circle cx="125.6" cy="260.5" r="1.7"/><circle cx="121.9" cy="265.2" r="1.7"/><circle cx="115.4" cy="285.4" r="1.5"/><circle cx="111.4" cy="287.8" r="1.5"/><circle cx="116.3" cy="254.4" r="1.8"/><circle cx="125.7" cy="274.2" r="1.6"/><circle cx="95.7" cy="274.8" r="1.6"/><circle cx="130.5" cy="285.6" r="1.5"/><circle cx="100.0" cy="282.4" r="1.6"/><circle cx="118.1" cy="272.3" r="1.6"/><circle cx="111.4" cy="274.3" r="1.6"/><circle cx="115.1" cy="289.9" r="1.5"/><circle cx="142.2" cy="297.7" r="1.5"/><circle cx="127.0" cy="294.5" r="1.5"/><circle cx="106.6" cy="296.5" r="1.5"/><circle cx="138.2" cy="296.9" r="1.5"/><circle cx="119.2" cy="304.0" r="1.4"/><circle cx="134.8" cy="296.0" r="1.5"/><circle cx="113.0" cy="306.1" r="1.4"/><circle cx="127.9" cy="308.0" r="1.4"/><circle cx="95.6" cy="302.4" r="1.4"/><circle cx="128.1" cy="305.6" r="1.4"/><circle cx="97.3" cy="296.3" r="1.5"/><circle cx="124.7" cy="303.4" r="1.4"/><circle cx="80.8" cy="307.7" r="1.4"/><circle cx="121.0" cy="294.9" r="1.5"/><circle cx="133.8" cy="292.1" r="1.5"/><circle cx="129.9" cy="296.0" r="1.5"/><circle cx="141.5" cy="291.7" r="1.5"/><circle cx="104.6" cy="294.7" r="1.5"/><circle cx="147.5" cy="292.2" r="1.5"/><circle cx="148.1" cy="296.6" r="1.5"/><circle cx="102.5" cy="294.7" r="1.5"/><circle cx="109.1" cy="294.5" r="1.5"/><circle cx="112.8" cy="306.3" r="1.4"/><circle cx="121.7" cy="302.8" r="1.4"/><circle cx="125.1" cy="297.6" r="1.5"/><circle cx="81.9" cy="302.7" r="1.4"/><circle cx="131.7" cy="293.2" r="1.5"/><circle cx="117.9" cy="307.4" r="1.4"/><circle cx="105.5" cy="306.1" r="1.4"/><circle cx="137.4" cy="302.6" r="1.4"/><circle cx="116.4" cy="302.4" r="1.4"/><circle cx="140.5" cy="293.9" r="1.5"/><circle cx="130.7" cy="308.1" r="1.4"/><circle cx="116.8" cy="294.0" r="1.5"/><circle cx="141.0" cy="291.4" r="1.5"/><circle cx="135.1" cy="307.5" r="1.4"/><circle cx="113.8" cy="291.8" r="1.5"/><circle cx="95.8" cy="296.9" r="1.5"/><circle cx="113.1" cy="306.0" r="1.4"/><circle cx="132.0" cy="293.9" r="1.5"/><circle cx="118.1" cy="306.3" r="1.4"/><circle cx="150.6" cy="301.7" r="1.4"/><circle cx="126.2" cy="304.2" r="1.4"/><circle cx="125.2" cy="301.7" r="1.4"/><circle cx="128.5" cy="305.8" r="1.4"/><circle cx="107.7" cy="301.8" r="1.4"/><circle cx="120.0" cy="298.5" r="1.5"/><circle cx="111.3" cy="300.3" r="1.4"/><circle cx="83.9" cy="299.3" r="1.4"/><circle cx="93.1" cy="292.8" r="1.5"/><circle cx="134.0" cy="293.5" r="1.5"/><circle cx="114.8" cy="306.4" r="1.4"/><circle cx="120.0" cy="295.6" r="1.5"/><circle cx="98.0" cy="294.5" r="1.5"/><circle cx="112.4" cy="292.5" r="1.5"/><circle cx="134.7" cy="301.5" r="1.4"/><circle cx="123.6" cy="292.3" r="1.5"/><circle cx="113.6" cy="298.7" r="1.5"/><circle cx="146.8" cy="300.2" r="1.4"/><circle cx="121.0" cy="299.5" r="1.4"/><circle cx="116.3" cy="301.2" r="1.4"/><circle cx="140.6" cy="296.3" r="1.5"/><circle cx="93.8" cy="299.1" r="1.4"/><circle cx="130.9" cy="293.1" r="1.5"/><circle cx="103.9" cy="300.2" r="1.4"/><circle cx="109.2" cy="307.4" r="1.4"/><circle cx="110.9" cy="305.6" r="1.4"/><circle cx="124.1" cy="301.2" r="1.4"/><circle cx="123.7" cy="300.1" r="1.4"/><circle cx="126.9" cy="294.2" r="1.5"/><circle cx="125.4" cy="298.1" r="1.5"/><circle cx="144.7" cy="305.4" r="1.4"/><circle cx="149.4" cy="303.1" r="1.4"/><circle cx="133.5" cy="299.0" r="1.4"/><circle cx="134.3" cy="294.6" r="1.5"/><circle cx="115.9" cy="296.0" r="1.5"/><circle cx="104.2" cy="297.2" r="1.5"/><circle cx="131.6" cy="303.9" r="1.4"/><circle cx="122.6" cy="298.4" r="1.5"/><circle cx="135.9" cy="304.1" r="1.4"/><circle cx="92.4" cy="307.2" r="1.4"/><circle cx="165.4" cy="295.2" r="1.5"/><circle cx="101.4" cy="297.0" r="1.5"/><circle cx="122.6" cy="291.2" r="1.5"/><circle cx="138.1" cy="295.4" r="1.5"/><circle cx="99.6" cy="303.9" r="1.4"/><circle cx="113.0" cy="307.8" r="1.4"/><circle cx="89.3" cy="300.9" r="1.4"/><circle cx="98.8" cy="302.4" r="1.4"/><circle cx="90.6" cy="299.4" r="1.4"/><circle cx="123.7" cy="301.8" r="1.4"/><circle cx="126.8" cy="307.5" r="1.4"/><circle cx="116.9" cy="307.1" r="1.4"/><circle cx="142.5" cy="302.1" r="1.4"/><circle cx="144.5" cy="298.1" r="1.5"/><circle cx="121.9" cy="305.3" r="1.4"/><circle cx="118.5" cy="305.2" r="1.4"/><circle cx="117.6" cy="304.3" r="1.4"/><circle cx="114.7" cy="295.4" r="1.5"/><circle cx="143.2" cy="295.1" r="1.5"/><circle cx="125.9" cy="299.9" r="1.4"/><circle cx="116.7" cy="307.4" r="1.4"/><circle cx="118.4" cy="292.0" r="1.5"/><circle cx="130.9" cy="293.2" r="1.5"/><circle cx="115.6" cy="303.1" r="1.4"/><circle cx="127.2" cy="308.2" r="1.4"/><circle cx="121.5" cy="299.8" r="1.4"/><circle cx="144.0" cy="305.4" r="1.4"/><circle cx="140.9" cy="301.7" r="1.4"/><circle cx="99.1" cy="301.4" r="1.4"/><circle cx="119.5" cy="302.9" r="1.4"/><circle cx="133.6" cy="292.5" r="1.5"/><circle cx="114.8" cy="301.6" r="1.4"/><circle cx="135.2" cy="306.4" r="1.4"/><circle cx="127.5" cy="298.3" r="1.5"/><circle cx="131.7" cy="292.9" r="1.5"/><circle cx="121.1" cy="304.3" r="1.4"/><circle cx="127.0" cy="299.5" r="1.4"/><circle cx="130.6" cy="301.8" r="1.4"/><circle cx="98.3" cy="296.6" r="1.5"/><circle cx="107.3" cy="302.9" r="1.4"/><circle cx="105.6" cy="303.9" r="1.4"/><circle cx="149.4" cy="291.6" r="1.5"/><circle cx="127.0" cy="294.0" r="1.5"/><circle cx="128.1" cy="296.1" r="1.5"/><circle cx="124.9" cy="296.9" r="1.5"/><circle cx="113.7" cy="292.1" r="1.5"/><circle cx="110.1" cy="307.3" r="1.4"/><circle cx="135.9" cy="300.7" r="1.4"/><circle cx="116.1" cy="297.5" r="1.5"/><circle cx="147.7" cy="306.1" r="1.4"/><circle cx="125.3" cy="291.0" r="1.5"/><circle cx="123.6" cy="296.4" r="1.5"/><circle cx="118.6" cy="295.1" r="1.5"/><circle cx="120.9" cy="291.6" r="1.5"/><circle cx="122.7" cy="298.3" r="1.5"/><circle cx="146.8" cy="292.5" r="1.5"/><circle cx="159.9" cy="301.9" r="1.4"/><circle cx="103.5" cy="292.3" r="1.5"/><circle cx="126.3" cy="299.5" r="1.4"/><circle cx="133.6" cy="294.9" r="1.5"/><circle cx="107.6" cy="303.6" r="1.4"/><circle cx="111.9" cy="300.1" r="1.4"/><circle cx="114.8" cy="298.7" r="1.5"/><circle cx="83.3" cy="299.4" r="1.4"/><circle cx="132.7" cy="292.3" r="1.5"/><circle cx="121.4" cy="300.4" r="1.4"/><circle cx="120.7" cy="293.1" r="1.5"/><circle cx="123.5" cy="306.4" r="1.4"/><circle cx="126.2" cy="304.7" r="1.4"/><circle cx="159.6" cy="305.3" r="1.4"/><circle cx="125.1" cy="305.2" r="1.4"/><circle cx="135.7" cy="298.2" r="1.5"/><circle cx="113.8" cy="306.6" r="1.4"/><circle cx="127.9" cy="296.6" r="1.5"/><circle cx="117.1" cy="293.2" r="1.5"/><circle cx="119.8" cy="292.3" r="1.5"/><circle cx="107.6" cy="307.4" r="1.4"/><circle cx="109.1" cy="304.1" r="1.4"/><circle cx="129.6" cy="300.7" r="1.4"/><circle cx="115.4" cy="299.8" r="1.4"/><circle cx="135.6" cy="295.6" r="1.5"/><circle cx="93.0" cy="324.7" r="1.3"/><circle cx="131.8" cy="296.4" r="1.5"/><circle cx="109.1" cy="305.8" r="1.4"/><circle cx="138.4" cy="306.5" r="1.4"/><circle cx="120.7" cy="313.2" r="1.4"/><circle cx="96.4" cy="320.5" r="1.3"/><circle cx="145.6" cy="306.4" r="1.4"/><circle cx="117.2" cy="297.3" r="1.5"/><circle cx="99.9" cy="324.9" r="1.3"/><circle cx="123.3" cy="307.9" r="1.4"/><circle cx="101.0" cy="305.3" r="1.4"/><circle cx="130.4" cy="296.2" r="1.5"/><circle cx="120.5" cy="325.2" r="1.3"/><circle cx="113.8" cy="313.8" r="1.3"/><circle cx="136.3" cy="321.6" r="1.3"/><circle cx="94.2" cy="315.7" r="1.3"/><circle cx="142.9" cy="296.6" r="1.5"/><circle cx="78.5" cy="319.9" r="1.3"/><circle cx="156.6" cy="314.2" r="1.3"/><circle cx="125.8" cy="299.3" r="1.4"/><circle cx="116.1" cy="301.7" r="1.4"/><circle cx="105.9" cy="296.3" r="1.5"/><circle cx="133.7" cy="321.7" r="1.3"/><circle cx="118.4" cy="323.4" r="1.3"/><circle cx="118.0" cy="318.6" r="1.3"/><circle cx="144.2" cy="309.8" r="1.4"/><circle cx="112.4" cy="303.9" r="1.4"/><circle cx="116.7" cy="321.9" r="1.3"/><circle cx="131.2" cy="305.6" r="1.4"/><circle cx="145.1" cy="318.6" r="1.3"/><circle cx="118.6" cy="294.8" r="1.5"/><circle cx="125.3" cy="307.9" r="1.4"/><circle cx="122.9" cy="321.2" r="1.3"/><circle cx="137.9" cy="299.0" r="1.4"/><circle cx="154.2" cy="309.9" r="1.4"/><circle cx="101.6" cy="301.0" r="1.4"/><circle cx="119.0" cy="308.3" r="1.4"/><circle cx="120.8" cy="297.3" r="1.5"/><circle cx="134.6" cy="316.7" r="1.3"/><circle cx="154.4" cy="294.6" r="1.5"/><circle cx="121.5" cy="325.1" r="1.3"/><circle cx="126.5" cy="313.6" r="1.4"/><circle cx="146.4" cy="320.7" r="1.3"/><circle cx="94.9" cy="294.0" r="1.5"/><circle cx="105.1" cy="325.1" r="1.3"/><circle cx="112.1" cy="316.5" r="1.3"/><circle cx="121.7" cy="313.2" r="1.4"/><circle cx="126.8" cy="323.3" r="1.3"/><circle cx="110.6" cy="296.3" r="1.5"/><circle cx="159.9" cy="301.0" r="1.4"/><circle cx="106.5" cy="308.4" r="1.4"/><circle cx="117.4" cy="312.7" r="1.4"/><circle cx="145.4" cy="319.5" r="1.3"/><circle cx="138.6" cy="320.4" r="1.3"/><circle cx="121.5" cy="312.7" r="1.4"/><circle cx="129.9" cy="306.0" r="1.4"/><circle cx="139.5" cy="298.3" r="1.5"/><circle cx="121.5" cy="317.9" r="1.3"/><circle cx="135.8" cy="298.0" r="1.5"/><circle cx="101.8" cy="304.5" r="1.4"/><circle cx="123.2" cy="320.6" r="1.3"/><circle cx="86.0" cy="324.7" r="1.3"/><circle cx="102.2" cy="324.9" r="1.3"/><circle cx="96.8" cy="294.8" r="1.5"/><circle cx="148.8" cy="317.8" r="1.3"/><circle cx="111.5" cy="323.6" r="1.3"/><circle cx="128.0" cy="304.6" r="1.4"/><circle cx="101.4" cy="316.9" r="1.3"/><circle cx="117.1" cy="295.4" r="1.5"/><circle cx="115.4" cy="304.4" r="1.4"/><circle cx="102.8" cy="297.3" r="1.5"/><circle cx="140.1" cy="304.8" r="1.4"/><circle cx="85.2" cy="302.2" r="1.4"/><circle cx="135.0" cy="310.9" r="1.4"/><circle cx="179.2" cy="312.1" r="1.4"/><circle cx="103.4" cy="300.6" r="1.4"/><circle cx="121.9" cy="319.8" r="1.3"/><circle cx="87.3" cy="323.6" r="1.3"/><circle cx="120.6" cy="296.5" r="1.5"/><circle cx="83.3" cy="313.4" r="1.4"/><circle cx="134.7" cy="307.8" r="1.4"/><circle cx="110.2" cy="313.0" r="1.4"/><circle cx="80.7" cy="301.8" r="1.4"/><circle cx="92.6" cy="300.8" r="1.4"/><circle cx="86.2" cy="319.8" r="1.3"/><circle cx="114.5" cy="300.9" r="1.4"/><circle cx="139.2" cy="315.5" r="1.3"/><circle cx="111.9" cy="307.4" r="1.4"/><circle cx="94.8" cy="310.2" r="1.4"/><circle cx="102.2" cy="298.6" r="1.5"/><circle cx="122.9" cy="312.3" r="1.4"/><circle cx="81.5" cy="299.2" r="1.4"/><circle cx="133.0" cy="295.5" r="1.5"/><circle cx="129.0" cy="307.3" r="1.4"/><circle cx="83.9" cy="299.5" r="1.4"/><circle cx="145.8" cy="297.3" r="1.5"/><circle cx="84.2" cy="318.4" r="1.3"/><circle cx="115.1" cy="311.2" r="1.4"/><circle cx="145.5" cy="296.8" r="1.5"/><circle cx="83.9" cy="301.3" r="1.4"/><circle cx="79.2" cy="298.5" r="1.5"/><circle cx="95.1" cy="306.4" r="1.4"/><circle cx="95.8" cy="313.5" r="1.4"/><circle cx="116.5" cy="300.5" r="1.4"/><circle cx="108.0" cy="314.6" r="1.3"/><circle cx="108.6" cy="307.0" r="1.4"/><circle cx="108.9" cy="318.9" r="1.3"/><circle cx="115.4" cy="312.9" r="1.4"/><circle cx="100.6" cy="311.3" r="1.4"/><circle cx="126.5" cy="322.0" r="1.3"/><circle cx="119.3" cy="322.4" r="1.3"/><circle cx="97.1" cy="297.3" r="1.5"/><circle cx="159.3" cy="294.1" r="1.5"/><circle cx="91.5" cy="320.5" r="1.3"/><circle cx="135.5" cy="314.0" r="1.3"/><circle cx="103.1" cy="304.1" r="1.4"/><circle cx="127.3" cy="321.1" r="1.3"/><circle cx="130.9" cy="323.6" r="1.3"/><circle cx="138.3" cy="296.6" r="1.5"/><circle cx="150.6" cy="316.7" r="1.3"/><circle cx="101.1" cy="295.0" r="1.5"/><circle cx="182.2" cy="309.0" r="1.4"/><circle cx="128.5" cy="306.9" r="1.4"/><circle cx="101.9" cy="308.4" r="1.4"/><circle cx="90.0" cy="309.4" r="1.4"/><circle cx="171.1" cy="317.1" r="1.3"/><circle cx="155.9" cy="305.6" r="1.4"/><circle cx="119.5" cy="311.6" r="1.4"/><circle cx="136.6" cy="298.5" r="1.5"/><circle cx="148.8" cy="316.4" r="1.3"/><circle cx="122.2" cy="319.5" r="1.3"/><circle cx="110.8" cy="298.1" r="1.5"/><circle cx="119.3" cy="308.5" r="1.4"/><circle cx="138.5" cy="318.4" r="1.3"/><circle cx="120.6" cy="300.8" r="1.4"/><circle cx="93.2" cy="316.5" r="1.3"/><circle cx="136.7" cy="302.6" r="1.4"/><circle cx="82.3" cy="304.7" r="1.4"/><circle cx="103.7" cy="316.3" r="1.3"/><circle cx="147.3" cy="305.1" r="1.4"/><circle cx="125.4" cy="310.0" r="1.4"/><circle cx="125.3" cy="324.8" r="1.3"/><circle cx="122.5" cy="294.3" r="1.5"/><circle cx="142.8" cy="317.3" r="1.3"/><circle cx="119.0" cy="313.4" r="1.4"/><circle cx="77.4" cy="297.5" r="1.5"/><circle cx="125.5" cy="303.6" r="1.4"/><circle cx="77.4" cy="320.3" r="1.3"/><circle cx="75.1" cy="305.1" r="1.4"/><circle cx="154.8" cy="325.0" r="1.3"/><circle cx="142.9" cy="301.7" r="1.4"/><circle cx="109.9" cy="306.3" r="1.4"/><circle cx="118.4" cy="304.5" r="1.4"/><circle cx="122.0" cy="307.5" r="1.4"/><circle cx="142.1" cy="314.3" r="1.3"/><circle cx="103.1" cy="304.7" r="1.4"/><circle cx="100.7" cy="311.0" r="1.4"/><circle cx="106.3" cy="301.7" r="1.4"/><circle cx="123.1" cy="324.6" r="1.3"/><circle cx="125.8" cy="317.2" r="1.3"/><circle cx="111.4" cy="320.7" r="1.3"/><circle cx="136.7" cy="309.3" r="1.4"/><circle cx="97.6" cy="305.8" r="1.4"/><circle cx="118.4" cy="318.6" r="1.3"/><circle cx="104.8" cy="295.4" r="1.5"/><circle cx="98.0" cy="313.8" r="1.4"/><circle cx="146.9" cy="325.3" r="1.3"/><circle cx="113.0" cy="302.4" r="1.4"/><circle cx="98.0" cy="322.1" r="1.3"/><circle cx="120.9" cy="325.2" r="1.3"/><circle cx="98.0" cy="316.4" r="1.3"/><circle cx="133.1" cy="310.7" r="1.4"/><circle cx="138.7" cy="318.0" r="1.3"/><circle cx="142.5" cy="315.1" r="1.3"/><circle cx="96.8" cy="321.5" r="1.3"/><circle cx="116.8" cy="314.3" r="1.3"/><circle cx="160.5" cy="300.2" r="1.4"/><circle cx="115.4" cy="315.7" r="1.3"/><circle cx="147.8" cy="307.0" r="1.4"/><circle cx="153.5" cy="319.0" r="1.3"/><circle cx="89.8" cy="321.7" r="1.3"/><circle cx="146.7" cy="315.5" r="1.3"/><circle cx="136.6" cy="324.6" r="1.3"/><circle cx="139.3" cy="310.5" r="1.4"/><circle cx="157.2" cy="303.1" r="1.4"/><circle cx="130.2" cy="312.2" r="1.4"/><circle cx="121.8" cy="318.5" r="1.3"/><circle cx="133.5" cy="315.3" r="1.3"/><circle cx="112.6" cy="299.4" r="1.4"/><circle cx="131.0" cy="318.0" r="1.3"/><circle cx="76.0" cy="315.1" r="1.3"/><circle cx="158.1" cy="303.7" r="1.4"/><circle cx="108.5" cy="317.7" r="1.3"/><circle cx="132.0" cy="295.9" r="1.5"/><circle cx="127.0" cy="320.2" r="1.3"/><circle cx="122.4" cy="324.9" r="1.3"/><circle cx="122.6" cy="312.0" r="1.4"/><circle cx="121.5" cy="308.4" r="1.4"/><circle cx="84.2" cy="307.4" r="1.4"/><circle cx="108.1" cy="315.3" r="1.3"/><circle cx="146.3" cy="300.7" r="1.4"/><circle cx="97.7" cy="298.6" r="1.5"/><circle cx="96.9" cy="310.1" r="1.4"/><circle cx="166.5" cy="299.4" r="1.4"/><circle cx="146.5" cy="299.9" r="1.4"/><circle cx="154.3" cy="320.0" r="1.3"/><circle cx="119.8" cy="321.2" r="1.3"/><circle cx="126.0" cy="321.5" r="1.3"/><circle cx="136.7" cy="322.9" r="1.3"/><circle cx="132.4" cy="300.8" r="1.4"/><circle cx="118.1" cy="313.5" r="1.4"/><circle cx="87.9" cy="321.2" r="1.3"/><circle cx="103.9" cy="308.1" r="1.4"/><circle cx="86.9" cy="316.2" r="1.3"/><circle cx="154.4" cy="324.2" r="1.3"/><circle cx="111.1" cy="312.4" r="1.4"/><circle cx="115.9" cy="299.2" r="1.4"/><circle cx="126.0" cy="303.1" r="1.4"/><circle cx="120.1" cy="294.1" r="1.5"/><circle cx="131.3" cy="310.5" r="1.4"/><circle cx="106.1" cy="294.8" r="1.5"/><circle cx="86.3" cy="313.4" r="1.4"/><circle cx="158.0" cy="310.0" r="1.4"/><circle cx="104.0" cy="301.8" r="1.4"/><circle cx="109.2" cy="311.0" r="1.4"/><circle cx="102.2" cy="320.3" r="1.3"/><circle cx="107.5" cy="302.9" r="1.4"/><circle cx="119.9" cy="296.3" r="1.5"/><circle cx="80.1" cy="343.9" r="1.1"/><circle cx="118.3" cy="341.7" r="1.2"/><circle cx="94.4" cy="323.5" r="1.3"/><circle cx="107.3" cy="356.6" r="1.1"/><circle cx="76.4" cy="343.8" r="1.1"/><circle cx="96.3" cy="353.2" r="1.1"/><circle cx="117.1" cy="354.1" r="1.1"/><circle cx="119.4" cy="355.9" r="1.1"/><circle cx="90.0" cy="331.2" r="1.2"/><circle cx="101.1" cy="341.9" r="1.2"/><circle cx="97.1" cy="338.7" r="1.2"/><circle cx="125.1" cy="347.3" r="1.1"/><circle cx="116.8" cy="344.1" r="1.1"/><circle cx="85.6" cy="342.1" r="1.2"/><circle cx="139.0" cy="329.0" r="1.2"/><circle cx="101.1" cy="354.6" r="1.1"/><circle cx="131.7" cy="351.5" r="1.1"/><circle cx="94.8" cy="351.9" r="1.1"/><circle cx="129.0" cy="341.6" r="1.2"/><circle cx="117.2" cy="341.2" r="1.2"/><circle cx="122.1" cy="334.1" r="1.2"/><circle cx="134.7" cy="323.4" r="1.3"/><circle cx="132.9" cy="325.9" r="1.3"/><circle cx="125.1" cy="349.4" r="1.1"/><circle cx="125.1" cy="343.6" r="1.1"/><circle cx="84.5" cy="339.3" r="1.2"/><circle cx="118.5" cy="330.3" r="1.2"/><circle cx="80.8" cy="340.0" r="1.2"/><circle cx="78.8" cy="352.2" r="1.1"/><circle cx="111.6" cy="356.0" r="1.1"/><circle cx="114.1" cy="346.0" r="1.1"/><circle cx="162.6" cy="336.7" r="1.2"/><circle cx="139.2" cy="351.5" r="1.1"/><circle cx="151.7" cy="342.0" r="1.2"/><circle cx="111.7" cy="344.4" r="1.1"/><circle cx="133.0" cy="324.4" r="1.3"/><circle cx="153.4" cy="333.5" r="1.2"/><circle cx="135.5" cy="323.9" r="1.3"/><circle cx="130.7" cy="339.7" r="1.2"/><circle cx="123.7" cy="340.7" r="1.2"/><circle cx="94.8" cy="323.8" r="1.3"/><circle cx="95.6" cy="343.6" r="1.1"/><circle cx="80.5" cy="338.5" r="1.2"/><circle cx="132.5" cy="356.9" r="1.1"/><circle cx="113.3" cy="351.9" r="1.1"/><circle cx="102.0" cy="347.8" r="1.1"/><circle cx="131.1" cy="349.3" r="1.1"/><circle cx="104.9" cy="342.7" r="1.2"/><circle cx="150.7" cy="326.9" r="1.3"/><circle cx="175.1" cy="350.5" r="1.1"/><circle cx="134.0" cy="356.1" r="1.1"/><circle cx="101.8" cy="338.2" r="1.2"/><circle cx="79.1" cy="345.1" r="1.1"/><circle cx="178.2" cy="356.1" r="1.1"/><circle cx="134.1" cy="331.4" r="1.2"/><circle cx="88.2" cy="325.2" r="1.3"/><circle cx="151.7" cy="331.9" r="1.2"/><circle cx="74.3" cy="330.0" r="1.2"/><circle cx="109.0" cy="331.4" r="1.2"/><circle cx="114.7" cy="323.8" r="1.3"/><circle cx="140.8" cy="374.5" r="0.9"/><circle cx="183.0" cy="362.6" r="1.0"/><circle cx="172.9" cy="376.2" r="0.9"/><circle cx="187.1" cy="361.1" r="1.0"/><circle cx="181.3" cy="380.3" r="0.9"/><circle cx="164.4" cy="367.7" r="1.0"/><circle cx="170.4" cy="379.3" r="0.9"/><circle cx="146.9" cy="368.0" r="1.0"/><circle cx="151.9" cy="363.8" r="1.0"/><circle cx="141.3" cy="361.2" r="1.0"/></g>
<rect x="81.4" y="236.1" width="7.9" height="0.6" fill="#8aa6dc" stroke="#2a2a3a" stroke-width="0.7"/>
<rect x="89.3" y="234.5" width="7.9" height="2.2" fill="#8aa6dc" stroke="#2a2a3a" stroke-width="0.7"/>
<rect x="97.2" y="231.2" width="8.0" height="5.5" fill="#8aa6dc" stroke="#2a2a3a" stroke-width="0.7"/>
<rect x="105.2" y="226.3" width="8.2" height="10.4" fill="#8aa6dc" stroke="#2a2a3a" stroke-width="0.7"/>
<rect x="113.4" y="222.2" width="7.7" height="14.5" fill="#8aa6dc" stroke="#2a2a3a" stroke-width="0.7"/>
<rect x="121.1" y="223.0" width="7.6" height="13.7" fill="#8aa6dc" stroke="#2a2a3a" stroke-width="0.7"/>
<rect x="128.7" y="228.3" width="8.0" height="8.4" fill="#8aa6dc" stroke="#2a2a3a" stroke-width="0.7"/>
<rect x="136.7" y="232.2" width="8.1" height="4.5" fill="#8aa6dc" stroke="#2a2a3a" stroke-width="0.7"/>
<rect x="144.8" y="234.7" width="7.9" height="2" fill="#8aa6dc" stroke="#2a2a3a" stroke-width="0.7"/>
<rect x="152.7" y="236.2" width="8.2" height="0.5" fill="#8aa6dc" stroke="#2a2a3a" stroke-width="0.7"/>
<line x1="65" y1="236.7" x2="170" y2="236.7" stroke="#2a2a3a" stroke-width="0.7"/>
<rect x="200.3" y="260.9" width="8.7" height="16.8" fill="#8aa6dc" stroke="#2a2a3a" stroke-width="0.7"/>
<rect x="200.3" y="277.7" width="15.2" height="16.6" fill="#8aa6dc" stroke="#2a2a3a" stroke-width="0.7"/>
<rect x="200.3" y="294.3" width="6.1" height="16.2" fill="#8aa6dc" stroke="#2a2a3a" stroke-width="0.7"/>
<rect x="200.3" y="310.5" width="2.5" height="16.6" fill="#8aa6dc" stroke="#2a2a3a" stroke-width="0.7"/>
<rect x="200.3" y="327.1" width="0.5" height="16.5" fill="#8aa6dc" stroke="#2a2a3a" stroke-width="0.7"/>
<line x1="200.3" y1="245" x2="200.3" y2="362" stroke="#2a2a3a" stroke-width="0.8"/>
<text x="38.6" y="274.90000000000003" font-size="7.4" text-anchor="end" fill="#555">9</text>
<text x="38.6" y="315.20000000000005" font-size="7.4" text-anchor="end" fill="#555">6</text>
<text x="38.6" y="355.5" font-size="7.4" text-anchor="end" fill="#555">3</text>
<text x="38.6" y="395.1" font-size="7.4" text-anchor="end" fill="#555">0</text>
<text x="47" y="403.5" font-size="7.4" text-anchor="middle" fill="#555">0.5</text>
<text x="83" y="403.5" font-size="7.4" text-anchor="middle" fill="#555">0.6</text>
<text x="118.2" y="403.5" font-size="7.4" text-anchor="middle" fill="#555">0.7</text>
<text x="154.5" y="403.5" font-size="7.4" text-anchor="middle" fill="#555">0.8</text>
<text x="190" y="403.5" font-size="7.4" text-anchor="middle" fill="#555">0.9</text>
<text x="77.7" y="422.3" font-size="13" textLength="83.5" lengthAdjust="spacingAndGlyphs">Per-Cell AUROC</text>
<text transform="translate(25.2 358) rotate(-90)" font-size="13" textLength="89" lengthAdjust="spacingAndGlyphs">log2 Peak Count</text>
<rect x="44.5" y="451.1" width="155.1" height="157.7" fill="#fff" stroke="#a0a0a0" stroke-width="0.9"/>
<clipPath id="cb2"><rect x="44.5" y="451.1" width="155.1" height="157.69999999999993"/></clipPath>
<g fill="#4a7bc6" fill-opacity="0.4" clip-path="url(#cb2)"><circle cx="146.9" cy="599.1" r="0.9"/><circle cx="137.5" cy="599.1" r="0.9"/><circle cx="140.7" cy="599.1" r="0.9"/><circle cx="125.1" cy="599.1" r="0.9"/><circle cx="152.4" cy="599.1" r="0.9"/><circle cx="57.2" cy="599.1" r="0.9"/><circle cx="161.5" cy="599.1" r="0.9"/><circle cx="99.2" cy="599.1" r="0.9"/><circle cx="121.1" cy="599.0" r="0.9"/><circle cx="145.0" cy="599.0" r="0.9"/><circle cx="157.7" cy="599.0" r="0.9"/><circle cx="147.0" cy="599.0" r="0.9"/><circle cx="135.6" cy="599.0" r="0.9"/><circle cx="152.6" cy="598.9" r="0.9"/><circle cx="145.5" cy="598.9" r="0.9"/><circle cx="130.4" cy="598.9" r="0.9"/><circle cx="96.9" cy="598.9" r="0.9"/><circle cx="107.1" cy="598.9" r="0.9"/><circle cx="125.1" cy="598.9" r="0.9"/><circle cx="171.3" cy="598.9" r="0.9"/><circle cx="127.4" cy="598.8" r="0.9"/><circle cx="138.5" cy="598.8" r="0.9"/><circle cx="169.8" cy="598.8" r="0.9"/><circle cx="154.5" cy="598.8" r="0.9"/><circle cx="150.7" cy="598.8" r="0.9"/><circle cx="122.1" cy="598.8" r="0.9"/><circle cx="139.1" cy="598.8" r="0.9"/><circle cx="137.5" cy="598.7" r="0.9"/><circle cx="121.6" cy="598.7" r="0.9"/><circle cx="131.7" cy="598.7" r="0.9"/><circle cx="119.0" cy="598.7" r="0.9"/><circle cx="139.5" cy="598.7" r="0.9"/><circle cx="162.0" cy="598.7" r="0.9"/><circle cx="111.8" cy="598.6" r="0.9"/><circle cx="147.1" cy="598.6" r="0.9"/><circle cx="139.1" cy="598.6" r="0.9"/><circle cx="148.5" cy="598.6" r="0.9"/><circle cx="113.6" cy="598.6" r="0.9"/><circle cx="120.6" cy="598.6" r="0.9"/><circle cx="136.8" cy="598.5" r="0.9"/><circle cx="135.4" cy="598.5" r="0.9"/><circle cx="128.7" cy="598.5" r="0.9"/><circle cx="168.2" cy="598.5" r="0.9"/><circle cx="121.5" cy="598.5" r="0.9"/><circle cx="117.8" cy="598.5" r="0.9"/><circle cx="129.2" cy="598.5" r="0.9"/><circle cx="133.5" cy="598.5" r="0.9"/><circle cx="133.6" cy="598.5" r="0.9"/><circle cx="85.7" cy="598.4" r="0.9"/><circle cx="142.4" cy="598.4" r="0.9"/><circle cx="145.2" cy="598.4" r="0.9"/><circle cx="118.9" cy="598.4" r="0.9"/><circle cx="153.2" cy="598.3" r="0.9"/><circle cx="150.2" cy="598.3" r="0.9"/><circle cx="122.3" cy="598.3" r="0.9"/><circle cx="148.2" cy="598.3" r="0.9"/><circle cx="154.1" cy="598.2" r="0.9"/><circle cx="151.4" cy="598.2" r="0.9"/><circle cx="140.8" cy="598.2" r="0.9"/><circle cx="146.5" cy="598.2" r="0.9"/><circle cx="123.6" cy="598.2" r="0.9"/><circle cx="160.4" cy="598.2" r="0.9"/><circle cx="132.8" cy="598.2" r="0.9"/><circle cx="151.2" cy="598.2" r="0.9"/><circle cx="141.4" cy="598.1" r="0.9"/><circle cx="106.2" cy="598.1" r="0.9"/><circle cx="140.2" cy="598.1" r="0.9"/><circle cx="138.4" cy="598.1" r="0.9"/><circle cx="121.0" cy="598.1" r="0.9"/><circle cx="128.6" cy="598.0" r="0.9"/><circle cx="136.7" cy="598.0" r="0.9"/><circle cx="153.4" cy="598.0" r="0.9"/><circle cx="135.6" cy="598.0" r="0.9"/><circle cx="79.6" cy="598.0" r="0.9"/><circle cx="147.1" cy="597.9" r="0.9"/><circle cx="141.2" cy="597.9" r="0.9"/><circle cx="120.4" cy="597.9" r="0.9"/><circle cx="134.1" cy="597.9" r="0.9"/><circle cx="122.8" cy="597.9" r="0.9"/><circle cx="143.2" cy="597.9" r="0.9"/><circle cx="150.2" cy="597.8" r="0.9"/><circle cx="158.1" cy="597.8" r="0.9"/><circle cx="156.4" cy="597.8" r="0.9"/><circle cx="111.2" cy="597.7" r="0.9"/><circle cx="138.1" cy="597.7" r="0.9"/><circle cx="122.6" cy="597.7" r="0.9"/><circle cx="128.0" cy="597.7" r="0.9"/><circle cx="131.7" cy="597.7" r="0.9"/><circle cx="165.4" cy="597.7" r="0.9"/><circle cx="133.6" cy="597.7" r="0.9"/><circle cx="108.6" cy="597.7" r="0.9"/><circle cx="113.0" cy="597.6" r="0.9"/><circle cx="117.9" cy="597.6" r="0.9"/><circle cx="118.4" cy="597.6" r="0.9"/><circle cx="145.1" cy="597.6" r="0.9"/><circle cx="149.1" cy="597.6" r="0.9"/><circle cx="132.6" cy="597.6" r="0.9"/><circle cx="132.5" cy="597.6" r="0.9"/><circle cx="158.7" cy="597.6" r="0.9"/><circle cx="152.9" cy="597.5" r="0.9"/><circle cx="121.0" cy="597.5" r="0.9"/><circle cx="174.3" cy="597.5" r="0.9"/><circle cx="139.9" cy="597.5" r="0.9"/><circle cx="122.5" cy="597.4" r="0.9"/><circle cx="185.3" cy="597.4" r="0.9"/><circle cx="134.4" cy="597.3" r="0.9"/><circle cx="151.8" cy="597.3" r="0.9"/><circle cx="130.3" cy="597.3" r="0.9"/><circle cx="139.3" cy="597.3" r="0.9"/><circle cx="136.9" cy="597.3" r="0.9"/><circle cx="148.7" cy="597.3" r="0.9"/><circle cx="182.5" cy="597.3" r="0.9"/><circle cx="164.6" cy="597.3" r="0.9"/><circle cx="146.7" cy="597.2" r="0.9"/><circle cx="141.8" cy="597.2" r="0.9"/><circle cx="130.5" cy="597.2" r="0.9"/><circle cx="132.9" cy="597.2" r="0.9"/><circle cx="133.7" cy="597.1" r="0.9"/><circle cx="144.3" cy="597.1" r="0.9"/><circle cx="138.3" cy="597.1" r="0.9"/><circle cx="165.5" cy="597.1" r="0.9"/><circle cx="140.0" cy="597.1" r="0.9"/><circle cx="138.8" cy="597.0" r="0.9"/><circle cx="146.0" cy="597.0" r="0.9"/><circle cx="188.2" cy="597.0" r="0.9"/><circle cx="118.2" cy="597.0" r="0.9"/><circle cx="136.0" cy="597.0" r="0.9"/><circle cx="122.3" cy="597.0" r="0.9"/><circle cx="123.7" cy="597.0" r="0.9"/><circle cx="134.7" cy="597.0" r="0.9"/><circle cx="154.7" cy="597.0" r="0.9"/><circle cx="73.0" cy="597.0" r="0.9"/><circle cx="126.0" cy="596.9" r="0.9"/><circle cx="108.5" cy="596.9" r="0.9"/><circle cx="122.5" cy="596.9" r="0.9"/><circle cx="104.7" cy="596.9" r="0.9"/><circle cx="142.0" cy="596.8" r="0.9"/><circle cx="117.4" cy="596.8" r="0.9"/><circle cx="145.0" cy="596.8" r="0.9"/><circle cx="143.6" cy="596.8" r="0.9"/><circle cx="152.2" cy="596.7" r="0.9"/><circle cx="145.5" cy="596.7" r="0.9"/><circle cx="140.2" cy="596.7" r="0.9"/><circle cx="134.2" cy="596.7" r="0.9"/><circle cx="130.5" cy="596.7" r="0.9"/><circle cx="133.0" cy="596.6" r="0.9"/><circle cx="103.5" cy="596.6" r="0.9"/><circle cx="162.1" cy="596.6" r="0.9"/><circle cx="133.2" cy="596.6" r="0.9"/><circle cx="125.0" cy="596.6" r="0.9"/><circle cx="134.8" cy="596.5" r="0.9"/><circle cx="116.1" cy="596.5" r="0.9"/><circle cx="157.5" cy="596.5" r="0.9"/><circle cx="148.4" cy="596.5" r="0.9"/><circle cx="131.7" cy="596.5" r="0.9"/><circle cx="138.5" cy="596.5" r="0.9"/><circle cx="121.4" cy="596.4" r="0.9"/><circle cx="123.2" cy="596.4" r="0.9"/><circle cx="154.6" cy="596.4" r="0.9"/><circle cx="135.4" cy="596.4" r="0.9"/><circle cx="122.5" cy="596.4" r="0.9"/><circle cx="128.8" cy="596.3" r="0.9"/><circle cx="130.9" cy="596.3" r="0.9"/><circle cx="130.2" cy="596.3" r="0.9"/><circle cx="100.8" cy="596.3" r="0.9"/><circle cx="152.4" cy="596.2" r="0.9"/><circle cx="183.8" cy="596.2" r="0.9"/><circle cx="133.8" cy="596.2" r="0.9"/><circle cx="152.6" cy="596.2" r="0.9"/><circle cx="138.1" cy="596.2" r="0.9"/><circle cx="125.6" cy="596.2" r="0.9"/><circle cx="151.9" cy="596.1" r="0.9"/><circle cx="115.1" cy="596.1" r="0.9"/><circle cx="142.0" cy="596.1" r="0.9"/><circle cx="148.6" cy="596.1" r="0.9"/><circle cx="130.8" cy="596.1" r="0.9"/><circle cx="115.7" cy="596.1" r="0.9"/><circle cx="108.9" cy="596.1" r="0.9"/><circle cx="132.9" cy="596.1" r="0.9"/><circle cx="150.2" cy="596.1" r="0.9"/><circle cx="135.6" cy="596.0" r="0.9"/><circle cx="154.5" cy="596.0" r="0.9"/><circle cx="164.1" cy="596.0" r="0.9"/><circle cx="147.4" cy="596.0" r="0.9"/><circle cx="156.0" cy="596.0" r="0.9"/><circle cx="120.2" cy="596.0" r="0.9"/><circle cx="143.5" cy="595.9" r="0.9"/><circle cx="103.6" cy="595.9" r="0.9"/><circle cx="154.2" cy="595.9" r="0.9"/><circle cx="127.5" cy="595.9" r="0.9"/><circle cx="77.4" cy="595.8" r="0.9"/><circle cx="127.2" cy="595.8" r="0.9"/><circle cx="105.8" cy="595.8" r="0.9"/><circle cx="148.4" cy="595.8" r="0.9"/><circle cx="129.9" cy="595.8" r="0.9"/><circle cx="145.1" cy="595.8" r="0.9"/><circle cx="117.1" cy="595.8" r="0.9"/><circle cx="147.3" cy="595.8" r="0.9"/><circle cx="131.4" cy="595.8" r="0.9"/><circle cx="144.0" cy="595.8" r="0.9"/><circle cx="133.5" cy="595.8" r="0.9"/><circle cx="139.8" cy="595.7" r="0.9"/><circle cx="135.0" cy="595.7" r="0.9"/><circle cx="107.7" cy="595.7" r="0.9"/><circle cx="105.6" cy="595.7" r="0.9"/><circle cx="126.4" cy="595.6" r="0.9"/><circle cx="128.9" cy="595.6" r="0.9"/><circle cx="113.8" cy="595.6" r="0.9"/><circle cx="120.4" cy="595.6" r="0.9"/><circle cx="131.2" cy="595.6" r="0.9"/><circle cx="147.8" cy="595.6" r="0.9"/><circle cx="161.7" cy="595.6" r="0.9"/><circle cx="136.5" cy="595.5" r="0.9"/><circle cx="162.6" cy="595.5" r="0.9"/><circle cx="127.8" cy="595.5" r="0.9"/><circle cx="116.7" cy="595.5" r="0.9"/><circle cx="127.5" cy="595.5" r="0.9"/><circle cx="141.5" cy="595.5" r="0.9"/><circle cx="151.7" cy="595.4" r="0.9"/><circle cx="106.2" cy="595.4" r="0.9"/><circle cx="132.5" cy="595.4" r="0.9"/><circle cx="149.8" cy="595.4" r="0.9"/><circle cx="151.3" cy="595.3" r="0.9"/><circle cx="157.6" cy="595.3" r="0.9"/><circle cx="101.9" cy="595.3" r="0.9"/><circle cx="164.2" cy="595.3" r="0.9"/><circle cx="140.7" cy="595.2" r="0.9"/><circle cx="138.0" cy="595.2" r="0.9"/><circle cx="127.7" cy="595.2" r="0.9"/><circle cx="138.3" cy="595.1" r="0.9"/><circle cx="124.3" cy="595.1" r="0.9"/><circle cx="136.4" cy="595.1" r="0.9"/><circle cx="154.0" cy="595.1" r="0.9"/><circle cx="141.1" cy="595.1" r="0.9"/><circle cx="167.9" cy="595.1" r="0.9"/><circle cx="134.4" cy="595.1" r="0.9"/><circle cx="130.2" cy="595.0" r="0.9"/><circle cx="150.2" cy="595.0" r="0.9"/><circle cx="153.6" cy="595.0" r="0.9"/><circle cx="136.3" cy="595.0" r="0.9"/><circle cx="146.1" cy="595.0" r="0.9"/><circle cx="148.4" cy="595.0" r="0.9"/><circle cx="129.7" cy="595.0" r="0.9"/><circle cx="145.5" cy="595.0" r="0.9"/><circle cx="126.6" cy="595.0" r="0.9"/><circle cx="89.4" cy="595.0" r="0.9"/><circle cx="141.6" cy="594.9" r="0.9"/><circle cx="143.5" cy="594.9" r="0.9"/><circle cx="122.8" cy="594.9" r="0.9"/><circle cx="128.7" cy="594.9" r="0.9"/><circle cx="131.2" cy="594.9" r="0.9"/><circle cx="138.1" cy="594.9" r="0.9"/><circle cx="104.9" cy="594.9" r="0.9"/><circle cx="95.8" cy="594.9" r="0.9"/><circle cx="123.4" cy="594.9" r="0.9"/><circle cx="180.7" cy="594.9" r="0.9"/><circle cx="139.8" cy="594.9" r="0.9"/><circle cx="122.1" cy="594.9" r="0.9"/><circle cx="125.1" cy="594.9" r="0.9"/><circle cx="154.2" cy="594.8" r="0.9"/><circle cx="118.7" cy="594.7" r="0.9"/><circle cx="114.3" cy="594.7" r="0.9"/><circle cx="136.3" cy="594.7" r="0.9"/><circle cx="130.0" cy="594.7" r="0.9"/><circle cx="113.7" cy="594.7" r="0.9"/><circle cx="134.2" cy="594.7" r="0.9"/><circle cx="157.7" cy="594.7" r="0.9"/><circle cx="149.9" cy="594.6" r="0.9"/><circle cx="142.7" cy="594.6" r="0.9"/><circle cx="132.7" cy="594.6" r="0.9"/><circle cx="137.0" cy="594.6" r="0.9"/><circle cx="156.6" cy="594.6" r="0.9"/><circle cx="141.3" cy="594.6" r="0.9"/><circle cx="142.2" cy="594.5" r="0.9"/><circle cx="150.1" cy="594.5" r="0.9"/><circle cx="146.7" cy="594.5" r="0.9"/><circle cx="127.9" cy="594.5" r="0.9"/><circle cx="135.8" cy="594.5" r="0.9"/><circle cx="132.1" cy="594.4" r="0.9"/><circle cx="130.0" cy="594.4" r="0.9"/><circle cx="134.1" cy="594.4" r="0.9"/><circle cx="151.0" cy="594.4" r="0.9"/><circle cx="149.1" cy="594.4" r="0.9"/><circle cx="130.5" cy="594.4" r="0.9"/><circle cx="147.7" cy="594.3" r="0.9"/><circle cx="145.7" cy="594.3" r="0.9"/><circle cx="96.6" cy="594.2" r="0.9"/><circle cx="141.2" cy="594.2" r="0.9"/><circle cx="137.0" cy="594.2" r="0.9"/><circle cx="125.2" cy="594.2" r="0.9"/><circle cx="150.9" cy="594.2" r="0.9"/><circle cx="95.8" cy="594.1" r="0.9"/><circle cx="125.3" cy="594.0" r="0.9"/><circle cx="147.1" cy="594.0" r="0.9"/><circle cx="150.2" cy="594.0" r="0.9"/><circle cx="128.0" cy="594.0" r="0.9"/><circle cx="151.5" cy="594.0" r="0.9"/><circle cx="126.6" cy="594.0" r="0.9"/><circle cx="133.5" cy="593.9" r="0.9"/><circle cx="142.9" cy="593.8" r="1.0"/><circle cx="157.4" cy="593.8" r="1.0"/><circle cx="150.8" cy="593.8" r="1.0"/><circle cx="126.6" cy="593.8" r="1.0"/><circle cx="136.4" cy="593.7" r="1.0"/><circle cx="133.3" cy="593.7" r="1.0"/><circle cx="117.8" cy="593.7" r="1.0"/><circle cx="178.0" cy="593.7" r="1.0"/><circle cx="104.1" cy="593.7" r="1.0"/><circle cx="110.2" cy="593.7" r="1.0"/><circle cx="60.0" cy="593.6" r="1.0"/><circle cx="136.9" cy="593.6" r="1.0"/><circle cx="121.0" cy="593.6" r="1.0"/><circle cx="82.2" cy="593.5" r="1.0"/><circle cx="137.8" cy="593.5" r="1.0"/><circle cx="139.3" cy="593.5" r="1.0"/><circle cx="128.1" cy="593.5" r="1.0"/><circle cx="144.4" cy="593.4" r="1.0"/><circle cx="140.8" cy="593.4" r="1.0"/><circle cx="176.9" cy="593.4" r="1.0"/><circle cx="114.6" cy="593.4" r="1.0"/><circle cx="126.1" cy="593.3" r="1.0"/><circle cx="120.5" cy="593.3" r="1.0"/><circle cx="134.2" cy="593.3" r="1.0"/><circle cx="154.8" cy="593.3" r="1.0"/><circle cx="152.7" cy="593.3" r="1.0"/><circle cx="79.8" cy="593.3" r="1.0"/><circle cx="134.5" cy="593.3" r="1.0"/><circle cx="155.2" cy="593.2" r="1.0"/><circle cx="136.2" cy="593.1" r="1.0"/><circle cx="119.5" cy="593.1" r="1.0"/><circle cx="152.2" cy="593.1" r="1.0"/><circle cx="134.9" cy="593.0" r="1.0"/><circle cx="118.7" cy="593.0" r="1.0"/><circle cx="134.8" cy="593.0" r="1.0"/><circle cx="110.0" cy="593.0" r="1.0"/><circle cx="149.6" cy="593.0" r="1.0"/><circle cx="142.0" cy="593.0" r="1.0"/><circle cx="134.7" cy="592.9" r="1.0"/><circle cx="136.9" cy="592.9" r="1.0"/><circle cx="157.6" cy="592.9" r="1.0"/><circle cx="144.9" cy="592.8" r="1.0"/><circle cx="113.3" cy="592.8" r="1.0"/><circle cx="130.1" cy="592.8" r="1.0"/><circle cx="166.6" cy="592.8" r="1.0"/><circle cx="159.7" cy="592.8" r="1.0"/><circle cx="126.7" cy="592.8" r="1.0"/><circle cx="138.7" cy="592.7" r="1.0"/><circle cx="170.0" cy="592.7" r="1.0"/><circle cx="117.7" cy="592.7" r="1.0"/><circle cx="136.0" cy="592.7" r="1.0"/><circle cx="142.4" cy="592.7" r="1.0"/><circle cx="123.2" cy="592.7" r="1.0"/><circle cx="154.2" cy="592.7" r="1.0"/><circle cx="133.3" cy="592.6" r="1.0"/><circle cx="123.2" cy="592.6" r="1.0"/><circle cx="152.3" cy="592.6" r="1.0"/><circle cx="152.2" cy="592.6" r="1.0"/><circle cx="137.1" cy="592.6" r="1.0"/><circle cx="97.5" cy="592.5" r="1.0"/><circle cx="142.2" cy="592.5" r="1.0"/><circle cx="149.9" cy="592.5" r="1.0"/><circle cx="139.4" cy="592.5" r="1.0"/><circle cx="133.3" cy="592.5" r="1.0"/><circle cx="116.9" cy="592.5" r="1.0"/><circle cx="150.9" cy="592.4" r="1.0"/><circle cx="120.2" cy="592.4" r="1.0"/><circle cx="113.5" cy="592.4" r="1.0"/><circle cx="109.0" cy="592.4" r="1.0"/><circle cx="118.8" cy="592.3" r="1.0"/><circle cx="127.9" cy="592.3" r="1.0"/><circle cx="164.3" cy="592.3" r="1.0"/><circle cx="151.9" cy="592.3" r="1.0"/><circle cx="118.7" cy="592.3" r="1.0"/><circle cx="138.6" cy="592.3" r="1.0"/><circle cx="139.0" cy="592.3" r="1.0"/><circle cx="117.2" cy="592.2" r="1.0"/><circle cx="117.5" cy="592.2" r="1.0"/><circle cx="108.5" cy="592.2" r="1.0"/><circle cx="130.1" cy="592.2" r="1.0"/><circle cx="147.3" cy="592.2" r="1.0"/><circle cx="141.7" cy="592.2" r="1.0"/><circle cx="123.7" cy="592.1" r="1.0"/><circle cx="113.2" cy="592.1" r="1.0"/><circle cx="146.5" cy="592.1" r="1.0"/><circle cx="123.8" cy="592.1" r="1.0"/><circle cx="131.0" cy="592.0" r="1.0"/><circle cx="160.6" cy="592.0" r="1.0"/><circle cx="143.9" cy="592.0" r="1.0"/><circle cx="101.9" cy="592.0" r="1.0"/><circle cx="146.0" cy="592.0" r="1.0"/><circle cx="132.7" cy="592.0" r="1.0"/><circle cx="144.7" cy="592.0" r="1.0"/><circle cx="142.5" cy="592.0" r="1.0"/><circle cx="125.2" cy="592.0" r="1.0"/><circle cx="162.8" cy="591.9" r="1.0"/><circle cx="129.6" cy="591.9" r="1.0"/><circle cx="137.4" cy="591.9" r="1.0"/><circle cx="135.3" cy="591.9" r="1.0"/><circle cx="132.0" cy="591.9" r="1.0"/><circle cx="157.7" cy="591.8" r="1.0"/><circle cx="119.2" cy="591.8" r="1.0"/><circle cx="137.5" cy="591.8" r="1.0"/><circle cx="122.9" cy="591.8" r="1.0"/><circle cx="150.3" cy="591.8" r="1.0"/><circle cx="124.7" cy="591.7" r="1.0"/><circle cx="155.2" cy="591.7" r="1.0"/><circle cx="165.5" cy="591.7" r="1.0"/><circle cx="138.1" cy="591.7" r="1.0"/><circle cx="140.5" cy="591.7" r="1.0"/><circle cx="125.1" cy="591.7" r="1.0"/><circle cx="141.1" cy="591.6" r="1.0"/><circle cx="121.0" cy="591.6" r="1.0"/><circle cx="144.3" cy="591.6" r="1.0"/><circle cx="118.9" cy="591.6" r="1.0"/><circle cx="150.2" cy="591.5" r="1.0"/><circle cx="115.2" cy="591.5" r="1.0"/><circle cx="138.0" cy="591.5" r="1.0"/><circle cx="135.2" cy="591.4" r="1.0"/><circle cx="137.3" cy="591.4" r="1.0"/><circle cx="124.2" cy="591.4" r="1.0"/><circle cx="129.0" cy="591.3" r="1.0"/><circle cx="124.5" cy="591.3" r="1.0"/><circle cx="124.6" cy="591.2" r="1.0"/><circle cx="160.5" cy="591.2" r="1.0"/><circle cx="136.0" cy="591.2" r="1.0"/><circle cx="177.2" cy="591.2" r="1.0"/><circle cx="144.8" cy="591.2" r="1.0"/><circle cx="155.5" cy="591.1" r="1.0"/><circle cx="158.3" cy="591.1" r="1.0"/><circle cx="133.3" cy="591.1" r="1.0"/><circle cx="162.9" cy="591.0" r="1.0"/><circle cx="140.4" cy="591.0" r="1.0"/><circle cx="155.0" cy="591.0" r="1.0"/><circle cx="147.5" cy="591.0" r="1.0"/><circle cx="124.9" cy="591.0" r="1.0"/><circle cx="156.7" cy="590.9" r="1.0"/><circle cx="154.6" cy="590.9" r="1.0"/><circle cx="131.6" cy="590.9" r="1.0"/><circle cx="148.6" cy="590.9" r="1.0"/><circle cx="160.3" cy="590.8" r="1.0"/><circle cx="144.2" cy="590.8" r="1.0"/><circle cx="140.2" cy="590.8" r="1.0"/><circle cx="134.9" cy="590.8" r="1.0"/><circle cx="153.4" cy="590.8" r="1.0"/><circle cx="123.6" cy="590.8" r="1.0"/><circle cx="162.5" cy="590.8" r="1.0"/><circle cx="125.7" cy="590.8" r="1.0"/><circle cx="186.3" cy="590.8" r="1.0"/><circle cx="139.1" cy="590.8" r="1.0"/><circle cx="166.3" cy="590.8" r="1.0"/><circle cx="116.5" cy="590.7" r="1.0"/><circle cx="123.0" cy="590.7" r="1.0"/><circle cx="142.9" cy="590.7" r="1.0"/><circle cx="139.6" cy="590.7" r="1.0"/><circle cx="125.4" cy="590.7" r="1.0"/><circle cx="150.7" cy="590.7" r="1.0"/><circle cx="138.0" cy="590.7" r="1.0"/><circle cx="143.9" cy="590.7" r="1.0"/><circle cx="147.2" cy="590.7" r="1.0"/><circle cx="142.0" cy="590.6" r="1.0"/><circle cx="133.2" cy="590.6" r="1.0"/><circle cx="145.7" cy="590.6" r="1.0"/><circle cx="157.3" cy="590.6" r="1.0"/><circle cx="131.8" cy="590.5" r="1.0"/><circle cx="133.8" cy="590.5" r="1.0"/><circle cx="135.6" cy="590.5" r="1.0"/><circle cx="125.9" cy="590.5" r="1.0"/><circle cx="136.4" cy="590.5" r="1.0"/><circle cx="120.5" cy="590.5" r="1.0"/><circle cx="134.5" cy="590.4" r="1.0"/><circle cx="101.6" cy="590.4" r="1.0"/><circle cx="106.3" cy="590.4" r="1.0"/><circle cx="153.2" cy="590.4" r="1.0"/><circle cx="114.3" cy="590.4" r="1.0"/><circle cx="117.5" cy="590.4" r="1.0"/><circle cx="123.7" cy="590.4" r="1.0"/><circle cx="121.3" cy="590.3" r="1.0"/><circle cx="127.6" cy="590.3" r="1.0"/><circle cx="131.5" cy="590.3" r="1.0"/><circle cx="146.0" cy="590.3" r="1.0"/><circle cx="136.3" cy="590.3" r="1.0"/><circle cx="127.0" cy="590.2" r="1.0"/><circle cx="104.8" cy="590.2" r="1.0"/><circle cx="157.0" cy="590.2" r="1.0"/><circle cx="130.8" cy="590.2" r="1.0"/><circle cx="127.8" cy="590.2" r="1.0"/><circle cx="124.9" cy="590.2" r="1.0"/><circle cx="110.4" cy="590.2" r="1.0"/><circle cx="162.7" cy="590.1" r="1.0"/><circle cx="137.1" cy="590.1" r="1.0"/><circle cx="158.0" cy="590.1" r="1.0"/><circle cx="146.6" cy="590.1" r="1.0"/><circle cx="133.1" cy="590.1" r="1.0"/><circle cx="128.6" cy="590.0" r="1.0"/><circle cx="151.6" cy="590.0" r="1.0"/><circle cx="120.8" cy="590.0" r="1.0"/><circle cx="154.2" cy="590.0" r="1.0"/><circle cx="142.4" cy="590.0" r="1.0"/><circle cx="153.0" cy="589.9" r="1.0"/><circle cx="153.1" cy="589.9" r="1.0"/><circle cx="143.7" cy="589.9" r="1.0"/><circle cx="148.5" cy="589.9" r="1.0"/><circle cx="136.7" cy="589.9" r="1.0"/><circle cx="137.0" cy="589.9" r="1.0"/><circle cx="148.7" cy="589.9" r="1.0"/><circle cx="153.2" cy="589.8" r="1.0"/><circle cx="140.0" cy="589.8" r="1.0"/><circle cx="162.8" cy="589.8" r="1.0"/><circle cx="151.8" cy="589.8" r="1.0"/><circle cx="179.9" cy="589.8" r="1.0"/><circle cx="130.4" cy="589.7" r="1.0"/><circle cx="129.4" cy="589.7" r="1.0"/><circle cx="141.9" cy="589.7" r="1.0"/><circle cx="149.1" cy="589.7" r="1.0"/><circle cx="141.5" cy="589.7" r="1.0"/><circle cx="131.4" cy="589.7" r="1.0"/><circle cx="117.7" cy="589.6" r="1.0"/><circle cx="127.2" cy="589.6" r="1.0"/><circle cx="126.3" cy="589.6" r="1.0"/><circle cx="101.6" cy="589.6" r="1.0"/><circle cx="146.1" cy="589.6" r="1.0"/><circle cx="133.4" cy="589.6" r="1.0"/><circle cx="129.9" cy="589.6" r="1.0"/><circle cx="154.4" cy="589.5" r="1.0"/><circle cx="135.6" cy="589.5" r="1.0"/><circle cx="150.4" cy="589.4" r="1.0"/><circle cx="125.8" cy="589.4" r="1.0"/><circle cx="164.7" cy="589.4" r="1.0"/><circle cx="129.4" cy="589.4" r="1.0"/><circle cx="151.2" cy="589.4" r="1.0"/><circle cx="162.5" cy="589.4" r="1.0"/><circle cx="137.9" cy="589.3" r="1.0"/><circle cx="156.9" cy="589.3" r="1.0"/><circle cx="135.5" cy="589.3" r="1.0"/><circle cx="124.2" cy="589.3" r="1.0"/><circle cx="160.8" cy="589.3" r="1.0"/><circle cx="139.2" cy="589.2" r="1.0"/><circle cx="132.1" cy="589.1" r="1.0"/><circle cx="119.3" cy="589.1" r="1.0"/><circle cx="168.2" cy="589.1" r="1.0"/><circle cx="121.0" cy="589.1" r="1.0"/><circle cx="128.6" cy="589.1" r="1.0"/><circle cx="145.4" cy="589.1" r="1.0"/><circle cx="119.1" cy="589.1" r="1.0"/><circle cx="120.6" cy="589.1" r="1.0"/><circle cx="177.1" cy="589.1" r="1.0"/><circle cx="142.6" cy="589.0" r="1.0"/><circle cx="142.0" cy="589.0" r="1.0"/><circle cx="125.6" cy="589.0" r="1.0"/><circle cx="134.8" cy="589.0" r="1.0"/><circle cx="137.4" cy="588.9" r="1.0"/><circle cx="157.1" cy="588.9" r="1.0"/><circle cx="131.2" cy="588.9" r="1.0"/><circle cx="121.9" cy="588.9" r="1.0"/><circle cx="156.0" cy="588.9" r="1.0"/><circle cx="150.6" cy="588.9" r="1.0"/><circle cx="132.3" cy="588.9" r="1.0"/><circle cx="133.5" cy="588.9" r="1.0"/><circle cx="110.3" cy="588.9" r="1.0"/><circle cx="110.5" cy="588.9" r="1.0"/><circle cx="132.0" cy="588.9" r="1.0"/><circle cx="138.8" cy="588.9" r="1.0"/><circle cx="141.7" cy="588.9" r="1.0"/><circle cx="153.2" cy="588.8" r="1.0"/><circle cx="137.7" cy="588.8" r="1.0"/><circle cx="128.3" cy="588.8" r="1.0"/><circle cx="126.4" cy="588.8" r="1.0"/><circle cx="137.4" cy="588.8" r="1.0"/><circle cx="117.0" cy="588.7" r="1.0"/><circle cx="154.8" cy="588.7" r="1.0"/><circle cx="133.3" cy="588.7" r="1.0"/><circle cx="148.6" cy="588.7" r="1.0"/><circle cx="150.3" cy="588.7" r="1.0"/><circle cx="134.8" cy="588.7" r="1.0"/><circle cx="143.5" cy="588.7" r="1.0"/><circle cx="138.7" cy="588.7" r="1.0"/><circle cx="130.0" cy="588.7" r="1.0"/><circle cx="140.4" cy="588.7" r="1.0"/><circle cx="121.0" cy="588.7" r="1.0"/><circle cx="139.5" cy="588.7" r="1.0"/><circle cx="101.1" cy="588.7" r="1.0"/><circle cx="147.8" cy="588.7" r="1.0"/><circle cx="160.7" cy="588.7" r="1.0"/><circle cx="142.9" cy="588.6" r="1.0"/><circle cx="134.0" cy="588.6" r="1.0"/><circle cx="132.1" cy="588.6" r="1.0"/><circle cx="126.1" cy="588.6" r="1.0"/><circle cx="118.8" cy="588.6" r="1.0"/><circle cx="105.6" cy="588.6" r="1.0"/><circle cx="139.4" cy="588.6" r="1.0"/><circle cx="110.4" cy="588.5" r="1.0"/><circle cx="148.8" cy="588.5" r="1.0"/><circle cx="135.1" cy="588.5" r="1.0"/><circle cx="127.3" cy="588.5" r="1.0"/><circle cx="144.6" cy="588.5" r="1.0"/><circle cx="134.2" cy="588.5" r="1.0"/><circle cx="153.1" cy="588.5" r="1.0"/><circle cx="132.8" cy="588.5" r="1.0"/><circle cx="124.4" cy="588.4" r="1.0"/><circle cx="164.4" cy="588.4" r="1.0"/><circle cx="138.2" cy="588.4" r="1.0"/><circle cx="124.7" cy="588.4" r="1.0"/><circle cx="100.9" cy="588.3" r="1.0"/><circle cx="149.9" cy="588.3" r="1.0"/><circle cx="143.3" cy="588.3" r="1.0"/><circle cx="141.6" cy="588.3" r="1.0"/><circle cx="117.5" cy="588.3" r="1.0"/><circle cx="109.1" cy="588.3" r="1.0"/><circle cx="127.1" cy="588.2" r="1.0"/><circle cx="144.4" cy="588.2" r="1.0"/><circle cx="148.8" cy="588.2" r="1.0"/><circle cx="105.2" cy="588.2" r="1.0"/><circle cx="119.4" cy="588.2" r="1.0"/><circle cx="132.2" cy="588.2" r="1.0"/><circle cx="153.2" cy="588.2" r="1.0"/><circle cx="145.5" cy="588.2" r="1.0"/><circle cx="176.0" cy="588.2" r="1.0"/><circle cx="134.2" cy="588.2" r="1.0"/><circle cx="135.1" cy="588.2" r="1.0"/><circle cx="138.3" cy="588.1" r="1.0"/><circle cx="154.8" cy="588.1" r="1.0"/><circle cx="121.3" cy="588.1" r="1.0"/><circle cx="158.0" cy="588.1" r="1.0"/><circle cx="166.7" cy="588.1" r="1.0"/><circle cx="133.4" cy="588.1" r="1.0"/><circle cx="149.1" cy="588.0" r="1.0"/><circle cx="148.7" cy="588.0" r="1.0"/><circle cx="145.0" cy="588.0" r="1.0"/><circle cx="135.9" cy="588.0" r="1.0"/><circle cx="127.6" cy="587.9" r="1.0"/><circle cx="117.5" cy="587.9" r="1.0"/><circle cx="135.7" cy="587.9" r="1.0"/><circle cx="157.0" cy="587.9" r="1.0"/><circle cx="155.7" cy="587.9" r="1.0"/><circle cx="143.7" cy="587.9" r="1.0"/><circle cx="123.7" cy="587.9" r="1.0"/><circle cx="119.1" cy="587.8" r="1.0"/><circle cx="159.7" cy="587.8" r="1.0"/><circle cx="136.7" cy="587.8" r="1.0"/><circle cx="126.3" cy="587.8" r="1.0"/><circle cx="121.1" cy="587.8" r="1.0"/><circle cx="115.1" cy="587.7" r="1.0"/><circle cx="144.6" cy="587.7" r="1.0"/><circle cx="130.0" cy="587.7" r="1.0"/><circle cx="153.3" cy="587.7" r="1.0"/><circle cx="125.7" cy="587.7" r="1.0"/><circle cx="114.1" cy="587.7" r="1.0"/><circle cx="97.4" cy="587.7" r="1.0"/><circle cx="137.7" cy="587.6" r="1.0"/><circle cx="131.4" cy="587.6" r="1.0"/><circle cx="120.5" cy="587.6" r="1.0"/><circle cx="132.0" cy="587.6" r="1.0"/><circle cx="118.7" cy="587.6" r="1.0"/><circle cx="149.1" cy="587.6" r="1.0"/><circle cx="123.4" cy="587.6" r="1.0"/><circle cx="142.0" cy="587.6" r="1.0"/><circle cx="138.7" cy="587.5" r="1.0"/><circle cx="146.5" cy="587.5" r="1.0"/><circle cx="110.7" cy="587.5" r="1.0"/><circle cx="169.0" cy="587.5" r="1.0"/><circle cx="146.4" cy="587.5" r="1.0"/><circle cx="124.4" cy="587.5" r="1.0"/><circle cx="112.9" cy="587.5" r="1.0"/><circle cx="126.2" cy="587.4" r="1.0"/><circle cx="150.7" cy="587.4" r="1.0"/><circle cx="136.3" cy="587.4" r="1.0"/><circle cx="141.4" cy="587.4" r="1.0"/><circle cx="137.5" cy="587.4" r="1.0"/><circle cx="109.3" cy="587.3" r="1.0"/><circle cx="131.9" cy="587.3" r="1.0"/><circle cx="151.3" cy="587.3" r="1.0"/><circle cx="155.1" cy="587.3" r="1.0"/><circle cx="145.9" cy="587.3" r="1.0"/><circle cx="126.6" cy="587.3" r="1.0"/><circle cx="103.6" cy="587.3" r="1.0"/><circle cx="143.5" cy="587.2" r="1.0"/><circle cx="137.3" cy="587.2" r="1.0"/><circle cx="115.9" cy="587.2" r="1.0"/><circle cx="150.7" cy="587.2" r="1.0"/><circle cx="106.3" cy="587.2" r="1.0"/><circle cx="124.6" cy="587.2" r="1.0"/><circle cx="148.7" cy="587.2" r="1.0"/><circle cx="118.7" cy="587.2" r="1.0"/><circle cx="121.3" cy="587.2" r="1.0"/><circle cx="124.8" cy="587.2" r="1.0"/><circle cx="131.2" cy="587.1" r="1.0"/><circle cx="143.4" cy="587.1" r="1.0"/><circle cx="105.2" cy="587.1" r="1.0"/><circle cx="129.7" cy="587.1" r="1.0"/><circle cx="119.2" cy="587.1" r="1.0"/><circle cx="157.8" cy="587.1" r="1.0"/><circle cx="135.9" cy="587.1" r="1.0"/><circle cx="144.3" cy="587.0" r="1.0"/><circle cx="136.6" cy="587.0" r="1.0"/><circle cx="114.9" cy="587.0" r="1.0"/><circle cx="140.3" cy="587.0" r="1.0"/><circle cx="127.6" cy="586.9" r="1.0"/><circle cx="132.1" cy="586.9" r="1.0"/><circle cx="131.0" cy="586.9" r="1.0"/><circle cx="140.1" cy="586.9" r="1.0"/><circle cx="145.3" cy="586.9" r="1.0"/><circle cx="146.5" cy="586.9" r="1.0"/><circle cx="136.0" cy="586.9" r="1.0"/><circle cx="131.2" cy="586.9" r="1.0"/><circle cx="142.9" cy="586.9" r="1.0"/><circle cx="118.2" cy="586.8" r="1.0"/><circle cx="126.4" cy="586.8" r="1.0"/><circle cx="123.1" cy="586.8" r="1.0"/><circle cx="88.5" cy="586.8" r="1.0"/><circle cx="144.8" cy="586.8" r="1.0"/><circle cx="144.8" cy="586.8" r="1.0"/><circle cx="169.9" cy="586.8" r="1.0"/><circle cx="144.2" cy="586.8" r="1.0"/><circle cx="102.1" cy="586.8" r="1.0"/><circle cx="132.5" cy="586.7" r="1.0"/><circle cx="143.9" cy="586.7" r="1.0"/><circle cx="130.8" cy="586.7" r="1.0"/><circle cx="147.0" cy="586.7" r="1.0"/><circle cx="114.0" cy="586.7" r="1.0"/><circle cx="120.0" cy="586.7" r="1.0"/><circle cx="160.2" cy="586.7" r="1.0"/><circle cx="136.8" cy="586.7" r="1.0"/><circle cx="126.8" cy="586.6" r="1.0"/><circle cx="163.8" cy="586.6" r="1.0"/><circle cx="148.2" cy="586.6" r="1.0"/><circle cx="132.9" cy="586.6" r="1.0"/><circle cx="118.4" cy="586.6" r="1.0"/><circle cx="177.2" cy="586.5" r="1.0"/><circle cx="156.1" cy="586.5" r="1.0"/><circle cx="189.0" cy="586.5" r="1.0"/><circle cx="135.5" cy="586.4" r="1.0"/><circle cx="126.6" cy="586.4" r="1.0"/><circle cx="116.0" cy="586.4" r="1.0"/><circle cx="152.8" cy="586.4" r="1.0"/><circle cx="129.2" cy="586.3" r="1.0"/><circle cx="150.4" cy="586.3" r="1.0"/><circle cx="160.3" cy="586.3" r="1.0"/><circle cx="144.8" cy="586.3" r="1.0"/><circle cx="165.7" cy="586.3" r="1.0"/><circle cx="129.6" cy="586.3" r="1.0"/><circle cx="130.0" cy="586.3" r="1.0"/><circle cx="121.0" cy="586.3" r="1.0"/><circle cx="151.4" cy="586.3" r="1.0"/><circle cx="122.8" cy="586.3" r="1.0"/><circle cx="119.5" cy="586.2" r="1.0"/><circle cx="156.0" cy="586.2" r="1.0"/><circle cx="143.6" cy="586.1" r="1.0"/><circle cx="114.4" cy="586.1" r="1.0"/><circle cx="120.1" cy="586.1" r="1.0"/><circle cx="136.6" cy="586.1" r="1.0"/><circle cx="133.1" cy="586.1" r="1.0"/><circle cx="131.4" cy="586.0" r="1.0"/><circle cx="125.7" cy="586.0" r="1.0"/><circle cx="130.1" cy="586.0" r="1.0"/><circle cx="148.7" cy="585.9" r="1.0"/><circle cx="168.8" cy="585.9" r="1.0"/><circle cx="121.5" cy="585.9" r="1.0"/><circle cx="132.7" cy="585.9" r="1.0"/><circle cx="120.8" cy="585.9" r="1.0"/><circle cx="146.3" cy="585.9" r="1.0"/><circle cx="146.5" cy="585.8" r="1.0"/><circle cx="161.1" cy="585.8" r="1.0"/><circle cx="141.5" cy="585.8" r="1.0"/><circle cx="157.2" cy="585.7" r="1.0"/><circle cx="156.8" cy="585.7" r="1.0"/><circle cx="132.8" cy="585.7" r="1.0"/><circle cx="161.2" cy="585.7" r="1.0"/><circle cx="144.9" cy="585.7" r="1.0"/><circle cx="135.0" cy="585.7" r="1.0"/><circle cx="145.5" cy="585.7" r="1.0"/><circle cx="156.6" cy="585.7" r="1.0"/><circle cx="128.2" cy="585.6" r="1.0"/><circle cx="131.2" cy="585.6" r="1.0"/><circle cx="159.8" cy="585.6" r="1.0"/><circle cx="105.0" cy="585.6" r="1.0"/><circle cx="126.5" cy="585.5" r="1.0"/><circle cx="155.2" cy="585.5" r="1.0"/><circle cx="168.2" cy="585.5" r="1.0"/><circle cx="122.4" cy="585.5" r="1.0"/><circle cx="125.2" cy="585.5" r="1.0"/><circle cx="133.9" cy="585.5" r="1.0"/><circle cx="122.1" cy="585.5" r="1.0"/><circle cx="119.1" cy="585.5" r="1.0"/><circle cx="118.3" cy="585.5" r="1.0"/><circle cx="147.4" cy="585.4" r="1.0"/><circle cx="151.4" cy="585.4" r="1.0"/><circle cx="104.9" cy="585.4" r="1.0"/><circle cx="143.9" cy="585.4" r="1.0"/><circle cx="152.3" cy="585.4" r="1.0"/><circle cx="138.1" cy="585.4" r="1.0"/><circle cx="151.2" cy="585.3" r="1.0"/><circle cx="131.4" cy="585.3" r="1.0"/><circle cx="111.7" cy="585.3" r="1.0"/><circle cx="143.2" cy="585.3" r="1.0"/><circle cx="118.5" cy="585.3" r="1.0"/><circle cx="120.1" cy="585.3" r="1.0"/><circle cx="138.2" cy="585.2" r="1.0"/><circle cx="136.4" cy="585.2" r="1.0"/><circle cx="161.1" cy="585.2" r="1.0"/><circle cx="137.6" cy="585.1" r="1.0"/><circle cx="126.7" cy="585.1" r="1.0"/><circle cx="127.6" cy="585.0" r="1.0"/><circle cx="156.5" cy="585.0" r="1.0"/><circle cx="134.9" cy="585.0" r="1.0"/><circle cx="128.5" cy="584.9" r="1.0"/><circle cx="141.5" cy="584.9" r="1.0"/><circle cx="102.3" cy="584.9" r="1.0"/><circle cx="143.6" cy="584.9" r="1.0"/><circle cx="128.3" cy="584.8" r="1.0"/><circle cx="120.4" cy="584.8" r="1.0"/><circle cx="146.1" cy="584.8" r="1.0"/><circle cx="145.0" cy="584.8" r="1.0"/><circle cx="143.6" cy="584.8" r="1.0"/><circle cx="172.4" cy="584.8" r="1.0"/><circle cx="110.2" cy="584.8" r="1.0"/><circle cx="132.7" cy="584.8" r="1.0"/><circle cx="124.4" cy="584.7" r="1.0"/><circle cx="157.2" cy="584.7" r="1.0"/><circle cx="135.1" cy="584.7" r="1.0"/><circle cx="104.5" cy="584.7" r="1.0"/><circle cx="115.0" cy="584.7" r="1.0"/><circle cx="109.2" cy="584.7" r="1.0"/><circle cx="130.3" cy="584.7" r="1.0"/><circle cx="137.5" cy="584.7" r="1.0"/><circle cx="143.0" cy="584.7" r="1.0"/><circle cx="143.0" cy="584.7" r="1.0"/><circle cx="159.4" cy="584.7" r="1.0"/><circle cx="135.5" cy="584.6" r="1.0"/><circle cx="153.4" cy="584.6" r="1.0"/><circle cx="129.4" cy="584.6" r="1.0"/><circle cx="140.7" cy="584.6" r="1.0"/><circle cx="127.7" cy="584.6" r="1.0"/><circle cx="148.3" cy="584.5" r="1.0"/><circle cx="133.8" cy="584.5" r="1.0"/><circle cx="158.8" cy="584.5" r="1.0"/><circle cx="128.4" cy="584.5" r="1.0"/><circle cx="145.5" cy="584.5" r="1.0"/><circle cx="131.4" cy="584.5" r="1.0"/><circle cx="148.5" cy="584.5" r="1.0"/><circle cx="121.2" cy="584.5" r="1.0"/><circle cx="135.8" cy="584.5" r="1.0"/><circle cx="115.6" cy="584.4" r="1.0"/><circle cx="110.1" cy="584.4" r="1.0"/><circle cx="122.9" cy="584.4" r="1.0"/><circle cx="151.6" cy="584.3" r="1.0"/><circle cx="132.4" cy="584.3" r="1.0"/><circle cx="136.0" cy="584.3" r="1.0"/><circle cx="153.7" cy="584.3" r="1.0"/><circle cx="130.7" cy="584.3" r="1.0"/><circle cx="127.7" cy="584.2" r="1.0"/><circle cx="123.6" cy="584.2" r="1.0"/><circle cx="148.3" cy="584.1" r="1.0"/><circle cx="135.6" cy="584.1" r="1.0"/><circle cx="145.9" cy="584.1" r="1.0"/><circle cx="99.4" cy="584.1" r="1.0"/><circle cx="134.1" cy="584.1" r="1.0"/><circle cx="123.9" cy="584.0" r="1.0"/><circle cx="130.8" cy="584.0" r="1.0"/><circle cx="119.8" cy="584.0" r="1.0"/><circle cx="148.0" cy="583.9" r="1.0"/><circle cx="141.6" cy="583.9" r="1.0"/><circle cx="141.5" cy="583.9" r="1.0"/><circle cx="143.0" cy="583.9" r="1.0"/><circle cx="152.1" cy="583.9" r="1.0"/><circle cx="122.5" cy="583.9" r="1.0"/><circle cx="125.8" cy="583.9" r="1.0"/><circle cx="113.6" cy="583.8" r="1.0"/><circle cx="143.8" cy="583.8" r="1.0"/><circle cx="142.3" cy="583.8" r="1.0"/><circle cx="127.4" cy="583.8" r="1.0"/><circle cx="113.1" cy="583.8" r="1.0"/><circle cx="141.7" cy="583.7" r="1.0"/><circle cx="137.0" cy="583.7" r="1.0"/><circle cx="133.3" cy="583.7" r="1.0"/><circle cx="117.8" cy="583.7" r="1.0"/><circle cx="118.0" cy="583.7" r="1.0"/><circle cx="120.2" cy="583.7" r="1.0"/><circle cx="110.2" cy="583.7" r="1.0"/><circle cx="160.2" cy="583.7" r="1.0"/><circle cx="103.6" cy="583.7" r="1.0"/><circle cx="130.2" cy="583.7" r="1.0"/><circle cx="130.8" cy="583.6" r="1.0"/><circle cx="146.2" cy="583.6" r="1.0"/><circle cx="114.8" cy="583.6" r="1.0"/><circle cx="122.6" cy="583.6" r="1.0"/><circle cx="120.3" cy="583.6" r="1.0"/><circle cx="105.0" cy="583.6" r="1.0"/><circle cx="112.5" cy="583.5" r="1.0"/><circle cx="122.3" cy="583.5" r="1.0"/><circle cx="127.1" cy="583.5" r="1.0"/><circle cx="117.0" cy="583.5" r="1.0"/><circle cx="122.1" cy="583.4" r="1.0"/><circle cx="138.3" cy="583.4" r="1.0"/><circle cx="138.0" cy="583.4" r="1.0"/><circle cx="137.6" cy="583.4" r="1.0"/><circle cx="128.6" cy="583.4" r="1.0"/><circle cx="138.1" cy="583.4" r="1.0"/><circle cx="162.9" cy="583.4" r="1.0"/><circle cx="128.3" cy="583.4" r="1.0"/><circle cx="131.6" cy="583.4" r="1.0"/><circle cx="122.0" cy="583.3" r="1.0"/><circle cx="152.2" cy="583.3" r="1.0"/><circle cx="129.4" cy="583.3" r="1.0"/><circle cx="135.4" cy="583.2" r="1.0"/><circle cx="137.9" cy="583.2" r="1.0"/><circle cx="118.1" cy="583.2" r="1.0"/><circle cx="115.8" cy="583.2" r="1.0"/><circle cx="112.9" cy="583.2" r="1.0"/><circle cx="130.7" cy="583.1" r="1.0"/><circle cx="172.1" cy="583.1" r="1.0"/><circle cx="146.5" cy="583.1" r="1.0"/><circle cx="112.1" cy="583.1" r="1.0"/><circle cx="151.2" cy="583.1" r="1.0"/><circle cx="133.2" cy="583.0" r="1.0"/><circle cx="136.7" cy="583.0" r="1.0"/><circle cx="114.4" cy="583.0" r="1.0"/><circle cx="129.6" cy="583.0" r="1.0"/><circle cx="162.1" cy="583.0" r="1.0"/><circle cx="161.2" cy="583.0" r="1.0"/><circle cx="151.0" cy="582.9" r="1.0"/><circle cx="127.4" cy="582.9" r="1.0"/><circle cx="159.4" cy="582.9" r="1.0"/><circle cx="123.6" cy="582.9" r="1.0"/><circle cx="140.7" cy="582.9" r="1.0"/><circle cx="149.3" cy="582.9" r="1.0"/><circle cx="118.8" cy="582.9" r="1.0"/><circle cx="136.6" cy="582.9" r="1.0"/><circle cx="124.3" cy="582.9" r="1.0"/><circle cx="125.4" cy="582.9" r="1.0"/><circle cx="141.0" cy="582.8" r="1.0"/><circle cx="168.2" cy="582.8" r="1.0"/><circle cx="136.1" cy="582.8" r="1.0"/><circle cx="145.8" cy="582.8" r="1.0"/><circle cx="147.7" cy="582.7" r="1.0"/><circle cx="101.4" cy="582.7" r="1.0"/><circle cx="116.0" cy="582.7" r="1.0"/><circle cx="129.3" cy="582.7" r="1.0"/><circle cx="139.8" cy="582.7" r="1.0"/><circle cx="145.0" cy="582.7" r="1.0"/><circle cx="120.5" cy="582.6" r="1.0"/><circle cx="128.2" cy="582.6" r="1.0"/><circle cx="128.6" cy="582.6" r="1.0"/><circle cx="143.0" cy="582.5" r="1.0"/><circle cx="128.9" cy="582.5" r="1.0"/><circle cx="133.6" cy="582.4" r="1.0"/><circle cx="137.1" cy="582.3" r="1.0"/><circle cx="137.8" cy="582.3" r="1.0"/><circle cx="158.3" cy="582.3" r="1.0"/><circle cx="138.8" cy="582.3" r="1.0"/><circle cx="130.8" cy="582.3" r="1.0"/><circle cx="143.7" cy="582.3" r="1.0"/><circle cx="122.9" cy="582.3" r="1.0"/><circle cx="145.0" cy="582.2" r="1.0"/><circle cx="137.1" cy="582.2" r="1.0"/><circle cx="126.4" cy="582.2" r="1.0"/><circle cx="90.4" cy="582.1" r="1.0"/><circle cx="158.7" cy="582.1" r="1.0"/><circle cx="116.6" cy="582.1" r="1.0"/><circle cx="140.0" cy="582.1" r="1.0"/><circle cx="156.8" cy="582.0" r="1.0"/><circle cx="100.8" cy="582.0" r="1.0"/><circle cx="143.0" cy="582.0" r="1.0"/><circle cx="139.0" cy="582.0" r="1.0"/><circle cx="145.5" cy="582.0" r="1.0"/><circle cx="135.0" cy="582.0" r="1.0"/><circle cx="126.7" cy="581.9" r="1.0"/><circle cx="141.3" cy="581.9" r="1.0"/><circle cx="139.4" cy="581.9" r="1.0"/><circle cx="112.1" cy="581.9" r="1.0"/><circle cx="112.8" cy="581.9" r="1.0"/><circle cx="147.8" cy="581.8" r="1.0"/><circle cx="137.4" cy="581.8" r="1.0"/><circle cx="136.6" cy="581.8" r="1.0"/><circle cx="156.2" cy="581.7" r="1.0"/><circle cx="142.9" cy="581.7" r="1.0"/><circle cx="124.7" cy="581.7" r="1.0"/><circle cx="130.8" cy="581.7" r="1.0"/><circle cx="129.3" cy="581.6" r="1.0"/><circle cx="116.2" cy="581.6" r="1.0"/><circle cx="136.0" cy="581.5" r="1.0"/><circle cx="124.0" cy="581.5" r="1.0"/><circle cx="123.9" cy="581.5" r="1.0"/><circle cx="116.2" cy="581.5" r="1.0"/><circle cx="147.1" cy="581.5" r="1.0"/><circle cx="123.5" cy="581.4" r="1.0"/><circle cx="135.6" cy="581.4" r="1.0"/><circle cx="140.0" cy="581.4" r="1.0"/><circle cx="149.3" cy="581.3" r="1.0"/><circle cx="130.2" cy="581.3" r="1.0"/><circle cx="144.8" cy="581.3" r="1.0"/><circle cx="132.5" cy="581.3" r="1.0"/><circle cx="163.4" cy="581.3" r="1.0"/><circle cx="136.8" cy="581.2" r="1.0"/><circle cx="152.5" cy="581.2" r="1.0"/><circle cx="134.3" cy="581.2" r="1.0"/><circle cx="141.1" cy="581.1" r="1.0"/><circle cx="129.2" cy="581.1" r="1.0"/><circle cx="133.0" cy="581.1" r="1.0"/><circle cx="142.2" cy="581.1" r="1.0"/><circle cx="134.4" cy="581.1" r="1.0"/><circle cx="156.8" cy="581.0" r="1.0"/><circle cx="155.2" cy="581.0" r="1.0"/><circle cx="152.9" cy="581.0" r="1.0"/><circle cx="130.9" cy="581.0" r="1.0"/><circle cx="130.7" cy="581.0" r="1.0"/><circle cx="151.4" cy="581.0" r="1.0"/><circle cx="134.1" cy="581.0" r="1.0"/><circle cx="143.1" cy="580.9" r="1.0"/><circle cx="124.5" cy="580.9" r="1.0"/><circle cx="161.5" cy="580.9" r="1.0"/><circle cx="148.0" cy="580.9" r="1.0"/><circle cx="129.2" cy="580.9" r="1.0"/><circle cx="138.8" cy="580.9" r="1.0"/><circle cx="128.7" cy="580.9" r="1.0"/><circle cx="117.1" cy="580.9" r="1.0"/><circle cx="126.4" cy="580.9" r="1.0"/><circle cx="133.4" cy="580.9" r="1.0"/><circle cx="163.9" cy="580.8" r="1.0"/><circle cx="154.2" cy="580.8" r="1.1"/><circle cx="115.3" cy="580.8" r="1.1"/><circle cx="139.3" cy="580.8" r="1.1"/><circle cx="124.3" cy="580.8" r="1.1"/><circle cx="152.0" cy="580.8" r="1.1"/><circle cx="132.8" cy="580.8" r="1.1"/><circle cx="102.9" cy="580.7" r="1.1"/><circle cx="138.4" cy="580.7" r="1.1"/><circle cx="131.0" cy="580.7" r="1.1"/><circle cx="128.2" cy="580.7" r="1.1"/><circle cx="121.2" cy="580.7" r="1.1"/><circle cx="133.9" cy="580.7" r="1.1"/><circle cx="158.2" cy="580.6" r="1.1"/><circle cx="136.4" cy="580.6" r="1.1"/><circle cx="125.1" cy="580.6" r="1.1"/><circle cx="118.9" cy="580.6" r="1.1"/><circle cx="118.1" cy="580.6" r="1.1"/><circle cx="117.6" cy="580.6" r="1.1"/><circle cx="162.4" cy="580.5" r="1.1"/><circle cx="119.2" cy="580.5" r="1.1"/><circle cx="121.2" cy="580.5" r="1.1"/><circle cx="124.1" cy="580.5" r="1.1"/><circle cx="147.7" cy="580.5" r="1.1"/><circle cx="157.5" cy="580.5" r="1.1"/><circle cx="128.3" cy="580.5" r="1.1"/><circle cx="136.0" cy="580.4" r="1.1"/><circle cx="114.3" cy="580.4" r="1.1"/><circle cx="151.6" cy="580.4" r="1.1"/><circle cx="145.6" cy="580.4" r="1.1"/><circle cx="144.1" cy="580.4" r="1.1"/><circle cx="123.3" cy="580.4" r="1.1"/><circle cx="119.5" cy="580.3" r="1.1"/><circle cx="119.7" cy="580.3" r="1.1"/><circle cx="111.5" cy="580.3" r="1.1"/><circle cx="114.0" cy="580.3" r="1.1"/><circle cx="119.3" cy="580.2" r="1.1"/><circle cx="128.2" cy="580.2" r="1.1"/><circle cx="130.0" cy="580.2" r="1.1"/><circle cx="155.5" cy="580.2" r="1.1"/><circle cx="142.2" cy="580.2" r="1.1"/><circle cx="107.9" cy="580.1" r="1.1"/><circle cx="150.7" cy="580.1" r="1.1"/><circle cx="150.5" cy="580.1" r="1.1"/><circle cx="115.2" cy="580.1" r="1.1"/><circle cx="160.6" cy="580.1" r="1.1"/><circle cx="125.7" cy="580.1" r="1.1"/><circle cx="113.1" cy="580.1" r="1.1"/><circle cx="140.1" cy="580.0" r="1.1"/><circle cx="154.8" cy="580.0" r="1.1"/><circle cx="121.7" cy="580.0" r="1.1"/><circle cx="151.7" cy="580.0" r="1.1"/><circle cx="141.4" cy="580.0" r="1.1"/><circle cx="135.0" cy="579.9" r="1.1"/><circle cx="67.2" cy="579.9" r="1.1"/><circle cx="129.3" cy="579.9" r="1.1"/><circle cx="123.3" cy="579.9" r="1.1"/><circle cx="136.0" cy="579.9" r="1.1"/><circle cx="147.0" cy="579.8" r="1.1"/><circle cx="131.6" cy="579.8" r="1.1"/><circle cx="116.1" cy="579.8" r="1.1"/><circle cx="131.3" cy="579.8" r="1.1"/><circle cx="128.9" cy="579.8" r="1.1"/><circle cx="146.1" cy="579.8" r="1.1"/><circle cx="133.9" cy="579.8" r="1.1"/><circle cx="138.8" cy="579.7" r="1.1"/><circle cx="142.9" cy="579.7" r="1.1"/><circle cx="111.3" cy="579.7" r="1.1"/><circle cx="144.1" cy="579.7" r="1.1"/><circle cx="140.0" cy="579.7" r="1.1"/><circle cx="140.5" cy="579.7" r="1.1"/><circle cx="147.2" cy="579.7" r="1.1"/><circle cx="148.6" cy="579.7" r="1.1"/><circle cx="139.7" cy="579.7" r="1.1"/><circle cx="148.9" cy="579.6" r="1.1"/><circle cx="141.8" cy="579.6" r="1.1"/><circle cx="145.2" cy="579.6" r="1.1"/><circle cx="107.5" cy="579.6" r="1.1"/><circle cx="154.0" cy="579.6" r="1.1"/><circle cx="137.4" cy="579.5" r="1.1"/><circle cx="156.9" cy="579.5" r="1.1"/><circle cx="134.5" cy="579.5" r="1.1"/><circle cx="152.2" cy="579.5" r="1.1"/><circle cx="156.8" cy="579.4" r="1.1"/><circle cx="126.9" cy="579.4" r="1.1"/><circle cx="138.5" cy="579.4" r="1.1"/><circle cx="120.1" cy="579.4" r="1.1"/><circle cx="168.9" cy="579.3" r="1.1"/><circle cx="137.6" cy="579.3" r="1.1"/><circle cx="134.2" cy="579.3" r="1.1"/><circle cx="162.2" cy="579.3" r="1.1"/><circle cx="153.9" cy="579.3" r="1.1"/><circle cx="141.3" cy="579.3" r="1.1"/><circle cx="138.3" cy="579.2" r="1.1"/><circle cx="143.0" cy="579.2" r="1.1"/><circle cx="132.0" cy="579.2" r="1.1"/><circle cx="130.4" cy="579.2" r="1.1"/><circle cx="110.3" cy="579.2" r="1.1"/><circle cx="118.3" cy="579.1" r="1.1"/><circle cx="116.1" cy="579.1" r="1.1"/><circle cx="147.2" cy="579.1" r="1.1"/><circle cx="130.9" cy="579.1" r="1.1"/><circle cx="138.3" cy="579.0" r="1.1"/><circle cx="131.0" cy="579.0" r="1.1"/><circle cx="145.5" cy="579.0" r="1.1"/><circle cx="119.6" cy="579.0" r="1.1"/><circle cx="128.8" cy="579.0" r="1.1"/><circle cx="156.3" cy="578.9" r="1.1"/><circle cx="167.2" cy="578.9" r="1.1"/><circle cx="107.8" cy="578.9" r="1.1"/><circle cx="129.3" cy="578.9" r="1.1"/><circle cx="136.6" cy="578.9" r="1.1"/><circle cx="150.1" cy="578.9" r="1.1"/><circle cx="122.4" cy="578.9" r="1.1"/><circle cx="132.1" cy="578.9" r="1.1"/><circle cx="125.8" cy="578.8" r="1.1"/><circle cx="100.6" cy="578.8" r="1.1"/><circle cx="137.7" cy="578.8" r="1.1"/><circle cx="122.8" cy="578.8" r="1.1"/><circle cx="127.1" cy="578.8" r="1.1"/><circle cx="144.9" cy="578.8" r="1.1"/><circle cx="145.6" cy="578.7" r="1.1"/><circle cx="145.3" cy="578.7" r="1.1"/><circle cx="119.5" cy="578.7" r="1.1"/><circle cx="136.8" cy="578.7" r="1.1"/><circle cx="123.0" cy="578.7" r="1.1"/><circle cx="143.2" cy="578.6" r="1.1"/><circle cx="149.8" cy="578.6" r="1.1"/><circle cx="130.7" cy="578.6" r="1.1"/><circle cx="135.5" cy="578.6" r="1.1"/><circle cx="146.0" cy="578.6" r="1.1"/><circle cx="128.3" cy="578.6" r="1.1"/><circle cx="149.0" cy="578.5" r="1.1"/><circle cx="125.2" cy="578.5" r="1.1"/><circle cx="143.3" cy="578.5" r="1.1"/><circle cx="158.6" cy="578.5" r="1.1"/><circle cx="128.5" cy="578.5" r="1.1"/><circle cx="141.4" cy="578.5" r="1.1"/><circle cx="132.8" cy="578.5" r="1.1"/><circle cx="145.8" cy="578.4" r="1.1"/><circle cx="114.3" cy="578.4" r="1.1"/><circle cx="133.1" cy="578.4" r="1.1"/><circle cx="111.7" cy="578.4" r="1.1"/><circle cx="154.4" cy="578.4" r="1.1"/><circle cx="138.3" cy="578.4" r="1.1"/><circle cx="121.1" cy="578.4" r="1.1"/><circle cx="160.6" cy="578.4" r="1.1"/><circle cx="144.5" cy="578.4" r="1.1"/><circle cx="151.8" cy="578.3" r="1.1"/><circle cx="127.0" cy="578.3" r="1.1"/><circle cx="104.2" cy="578.3" r="1.1"/><circle cx="147.3" cy="578.3" r="1.1"/><circle cx="121.7" cy="578.3" r="1.1"/><circle cx="123.1" cy="578.3" r="1.1"/><circle cx="154.9" cy="578.3" r="1.1"/><circle cx="125.6" cy="578.3" r="1.1"/><circle cx="142.7" cy="578.2" r="1.1"/><circle cx="142.9" cy="578.2" r="1.1"/><circle cx="158.1" cy="578.2" r="1.1"/><circle cx="129.5" cy="578.2" r="1.1"/><circle cx="120.9" cy="578.2" r="1.1"/><circle cx="138.1" cy="578.2" r="1.1"/><circle cx="112.5" cy="578.2" r="1.1"/><circle cx="157.7" cy="578.2" r="1.1"/><circle cx="148.1" cy="578.2" r="1.1"/><circle cx="125.5" cy="578.2" r="1.1"/><circle cx="135.7" cy="578.1" r="1.1"/><circle cx="98.5" cy="578.1" r="1.1"/><circle cx="119.5" cy="578.1" r="1.1"/><circle cx="103.9" cy="578.1" r="1.1"/><circle cx="134.8" cy="578.1" r="1.1"/><circle cx="130.5" cy="578.1" r="1.1"/><circle cx="141.7" cy="578.1" r="1.1"/><circle cx="104.9" cy="578.1" r="1.1"/><circle cx="144.3" cy="578.0" r="1.1"/><circle cx="123.9" cy="578.0" r="1.1"/><circle cx="147.6" cy="578.0" r="1.1"/><circle cx="143.3" cy="578.0" r="1.1"/><circle cx="148.3" cy="578.0" r="1.1"/><circle cx="137.3" cy="578.0" r="1.1"/><circle cx="143.0" cy="577.9" r="1.1"/><circle cx="130.2" cy="577.9" r="1.1"/><circle cx="139.1" cy="577.9" r="1.1"/><circle cx="137.9" cy="577.9" r="1.1"/><circle cx="127.4" cy="577.9" r="1.1"/><circle cx="129.8" cy="577.8" r="1.1"/><circle cx="167.5" cy="577.8" r="1.1"/><circle cx="141.9" cy="577.8" r="1.1"/><circle cx="96.0" cy="577.7" r="1.1"/><circle cx="148.8" cy="577.7" r="1.1"/><circle cx="126.1" cy="577.7" r="1.1"/><circle cx="131.0" cy="577.7" r="1.1"/><circle cx="141.6" cy="577.7" r="1.1"/><circle cx="138.0" cy="577.7" r="1.1"/><circle cx="113.9" cy="577.7" r="1.1"/><circle cx="152.5" cy="577.6" r="1.1"/><circle cx="129.3" cy="577.6" r="1.1"/><circle cx="140.8" cy="577.6" r="1.1"/><circle cx="141.1" cy="577.6" r="1.1"/><circle cx="140.5" cy="577.6" r="1.1"/><circle cx="129.5" cy="577.6" r="1.1"/><circle cx="159.9" cy="577.5" r="1.1"/><circle cx="133.6" cy="577.5" r="1.1"/><circle cx="152.2" cy="577.5" r="1.1"/><circle cx="144.2" cy="577.5" r="1.1"/><circle cx="134.8" cy="577.5" r="1.1"/><circle cx="134.4" cy="577.5" r="1.1"/><circle cx="138.6" cy="577.5" r="1.1"/><circle cx="135.2" cy="577.4" r="1.1"/><circle cx="136.0" cy="577.4" r="1.1"/><circle cx="140.8" cy="577.4" r="1.1"/><circle cx="118.1" cy="577.4" r="1.1"/><circle cx="138.8" cy="577.4" r="1.1"/><circle cx="144.5" cy="577.4" r="1.1"/><circle cx="155.6" cy="577.4" r="1.1"/><circle cx="151.6" cy="577.4" r="1.1"/><circle cx="135.1" cy="577.3" r="1.1"/><circle cx="139.4" cy="577.3" r="1.1"/><circle cx="115.9" cy="577.3" r="1.1"/><circle cx="133.1" cy="577.2" r="1.1"/><circle cx="104.2" cy="577.2" r="1.1"/><circle cx="142.6" cy="577.2" r="1.1"/><circle cx="140.4" cy="577.2" r="1.1"/><circle cx="116.6" cy="577.2" r="1.1"/><circle cx="127.8" cy="577.1" r="1.1"/><circle cx="141.4" cy="577.1" r="1.1"/><circle cx="127.1" cy="577.1" r="1.1"/><circle cx="126.3" cy="577.1" r="1.1"/><circle cx="132.4" cy="577.0" r="1.1"/><circle cx="151.2" cy="577.0" r="1.1"/><circle cx="158.2" cy="577.0" r="1.1"/><circle cx="154.2" cy="576.9" r="1.1"/><circle cx="141.2" cy="576.9" r="1.1"/><circle cx="140.4" cy="576.9" r="1.1"/><circle cx="126.1" cy="576.9" r="1.1"/><circle cx="135.8" cy="576.9" r="1.1"/><circle cx="154.4" cy="576.9" r="1.1"/><circle cx="141.7" cy="576.9" r="1.1"/><circle cx="129.7" cy="576.9" r="1.1"/><circle cx="144.5" cy="576.9" r="1.1"/><circle cx="150.9" cy="576.8" r="1.1"/><circle cx="149.7" cy="576.8" r="1.1"/><circle cx="152.0" cy="576.8" r="1.1"/><circle cx="133.4" cy="576.8" r="1.1"/><circle cx="128.1" cy="576.8" r="1.1"/><circle cx="130.4" cy="576.8" r="1.1"/><circle cx="146.0" cy="576.8" r="1.1"/><circle cx="109.0" cy="576.8" r="1.1"/><circle cx="121.1" cy="576.8" r="1.1"/><circle cx="112.8" cy="576.7" r="1.1"/><circle cx="122.2" cy="576.7" r="1.1"/><circle cx="135.2" cy="576.7" r="1.1"/><circle cx="139.7" cy="576.7" r="1.1"/><circle cx="132.8" cy="576.7" r="1.1"/><circle cx="130.3" cy="576.7" r="1.1"/><circle cx="116.5" cy="576.7" r="1.1"/><circle cx="130.1" cy="576.7" r="1.1"/><circle cx="137.1" cy="576.7" r="1.1"/><circle cx="148.5" cy="576.6" r="1.1"/><circle cx="135.0" cy="576.6" r="1.1"/><circle cx="140.2" cy="576.6" r="1.1"/><circle cx="135.4" cy="576.6" r="1.1"/><circle cx="127.8" cy="576.6" r="1.1"/><circle cx="136.3" cy="576.5" r="1.1"/><circle cx="138.9" cy="576.5" r="1.1"/><circle cx="148.7" cy="576.5" r="1.1"/><circle cx="153.7" cy="576.5" r="1.1"/><circle cx="122.8" cy="576.5" r="1.1"/><circle cx="152.0" cy="576.5" r="1.1"/><circle cx="131.3" cy="576.5" r="1.1"/><circle cx="146.7" cy="576.4" r="1.1"/><circle cx="147.0" cy="576.4" r="1.1"/><circle cx="132.1" cy="576.4" r="1.1"/><circle cx="140.7" cy="576.4" r="1.1"/><circle cx="122.3" cy="576.4" r="1.1"/><circle cx="117.4" cy="576.4" r="1.1"/><circle cx="95.6" cy="576.4" r="1.1"/><circle cx="137.0" cy="576.4" r="1.1"/><circle cx="100.9" cy="576.3" r="1.1"/><circle cx="142.5" cy="576.3" r="1.1"/><circle cx="122.9" cy="576.3" r="1.1"/><circle cx="131.9" cy="576.3" r="1.1"/><circle cx="147.1" cy="576.3" r="1.1"/><circle cx="117.6" cy="576.2" r="1.1"/><circle cx="128.7" cy="576.2" r="1.1"/><circle cx="137.9" cy="576.2" r="1.1"/><circle cx="105.9" cy="576.2" r="1.1"/><circle cx="146.0" cy="576.2" r="1.1"/><circle cx="129.0" cy="576.2" r="1.1"/><circle cx="121.7" cy="576.2" r="1.1"/><circle cx="121.5" cy="576.2" r="1.1"/><circle cx="156.4" cy="576.2" r="1.1"/><circle cx="130.9" cy="576.1" r="1.1"/><circle cx="141.1" cy="576.1" r="1.1"/><circle cx="131.8" cy="576.1" r="1.1"/><circle cx="139.0" cy="576.1" r="1.1"/><circle cx="134.5" cy="576.1" r="1.1"/><circle cx="131.5" cy="576.1" r="1.1"/><circle cx="135.1" cy="576.0" r="1.1"/><circle cx="149.6" cy="576.0" r="1.1"/><circle cx="161.9" cy="576.0" r="1.1"/><circle cx="119.5" cy="576.0" r="1.1"/><circle cx="142.1" cy="576.0" r="1.1"/><circle cx="123.8" cy="576.0" r="1.1"/><circle cx="170.5" cy="576.0" r="1.1"/><circle cx="133.8" cy="576.0" r="1.1"/><circle cx="149.6" cy="575.9" r="1.1"/><circle cx="130.2" cy="575.9" r="1.1"/><circle cx="148.5" cy="575.9" r="1.1"/><circle cx="142.2" cy="575.9" r="1.1"/><circle cx="140.8" cy="575.9" r="1.1"/><circle cx="114.9" cy="575.9" r="1.1"/><circle cx="167.6" cy="575.8" r="1.1"/><circle cx="151.1" cy="575.8" r="1.1"/><circle cx="148.5" cy="575.8" r="1.1"/><circle cx="125.0" cy="575.8" r="1.1"/><circle cx="111.1" cy="575.8" r="1.1"/><circle cx="94.8" cy="575.8" r="1.1"/><circle cx="160.1" cy="575.8" r="1.1"/><circle cx="139.2" cy="575.8" r="1.1"/><circle cx="133.0" cy="575.7" r="1.1"/><circle cx="148.0" cy="575.7" r="1.1"/><circle cx="128.7" cy="575.7" r="1.1"/><circle cx="129.5" cy="575.7" r="1.1"/><circle cx="138.4" cy="575.7" r="1.1"/><circle cx="112.6" cy="575.7" r="1.1"/><circle cx="121.0" cy="575.7" r="1.1"/><circle cx="131.0" cy="575.7" r="1.1"/><circle cx="116.3" cy="575.6" r="1.1"/><circle cx="124.5" cy="575.6" r="1.1"/><circle cx="156.7" cy="575.6" r="1.1"/><circle cx="152.6" cy="575.6" r="1.1"/><circle cx="120.5" cy="575.6" r="1.1"/><circle cx="147.5" cy="575.5" r="1.1"/><circle cx="121.7" cy="575.5" r="1.1"/><circle cx="133.6" cy="575.5" r="1.1"/><circle cx="138.3" cy="575.5" r="1.1"/><circle cx="122.7" cy="575.5" r="1.1"/><circle cx="147.3" cy="575.5" r="1.1"/><circle cx="123.7" cy="575.5" r="1.1"/><circle cx="121.7" cy="575.5" r="1.1"/><circle cx="116.7" cy="575.4" r="1.1"/><circle cx="144.2" cy="575.4" r="1.1"/><circle cx="160.1" cy="575.4" r="1.1"/><circle cx="126.9" cy="575.4" r="1.1"/><circle cx="118.9" cy="575.3" r="1.1"/><circle cx="134.4" cy="575.3" r="1.1"/><circle cx="137.2" cy="575.3" r="1.1"/><circle cx="164.5" cy="575.3" r="1.1"/><circle cx="126.7" cy="575.3" r="1.1"/><circle cx="132.9" cy="575.3" r="1.1"/><circle cx="147.0" cy="575.2" r="1.1"/><circle cx="152.7" cy="575.2" r="1.1"/><circle cx="138.7" cy="575.2" r="1.1"/><circle cx="133.3" cy="575.2" r="1.1"/><circle cx="138.4" cy="575.2" r="1.1"/><circle cx="135.2" cy="575.1" r="1.1"/><circle cx="137.1" cy="575.1" r="1.1"/><circle cx="139.6" cy="575.1" r="1.1"/><circle cx="144.7" cy="575.1" r="1.1"/><circle cx="120.2" cy="575.1" r="1.1"/><circle cx="138.7" cy="575.1" r="1.1"/><circle cx="110.9" cy="575.1" r="1.1"/><circle cx="156.1" cy="575.0" r="1.1"/><circle cx="143.0" cy="575.0" r="1.1"/><circle cx="151.6" cy="575.0" r="1.1"/><circle cx="145.3" cy="575.0" r="1.1"/><circle cx="161.1" cy="575.0" r="1.1"/><circle cx="142.4" cy="574.9" r="1.1"/><circle cx="159.0" cy="574.9" r="1.1"/><circle cx="150.7" cy="574.9" r="1.1"/><circle cx="146.6" cy="574.9" r="1.1"/><circle cx="144.8" cy="574.9" r="1.1"/><circle cx="110.4" cy="574.8" r="1.1"/><circle cx="133.6" cy="574.8" r="1.1"/><circle cx="135.9" cy="574.8" r="1.1"/><circle cx="129.4" cy="574.8" r="1.1"/><circle cx="142.5" cy="574.8" r="1.1"/><circle cx="151.1" cy="574.8" r="1.1"/><circle cx="137.0" cy="574.7" r="1.1"/><circle cx="143.1" cy="574.7" r="1.1"/><circle cx="135.8" cy="574.7" r="1.1"/><circle cx="105.8" cy="574.7" r="1.1"/><circle cx="135.5" cy="574.7" r="1.1"/><circle cx="148.1" cy="574.6" r="1.1"/><circle cx="121.9" cy="574.6" r="1.1"/><circle cx="124.1" cy="574.6" r="1.1"/><circle cx="128.0" cy="574.6" r="1.1"/><circle cx="157.4" cy="574.6" r="1.1"/><circle cx="124.5" cy="574.6" r="1.1"/><circle cx="139.2" cy="574.6" r="1.1"/><circle cx="119.0" cy="574.5" r="1.1"/><circle cx="152.1" cy="574.5" r="1.1"/><circle cx="141.2" cy="574.5" r="1.1"/><circle cx="136.8" cy="574.5" r="1.1"/><circle cx="142.2" cy="574.5" r="1.1"/><circle cx="149.3" cy="574.5" r="1.1"/><circle cx="138.1" cy="574.4" r="1.1"/><circle cx="137.7" cy="574.4" r="1.1"/><circle cx="132.5" cy="574.4" r="1.1"/><circle cx="141.4" cy="574.4" r="1.1"/><circle cx="141.5" cy="574.4" r="1.1"/><circle cx="139.3" cy="574.4" r="1.1"/><circle cx="108.1" cy="574.4" r="1.1"/><circle cx="122.1" cy="574.4" r="1.1"/><circle cx="150.4" cy="574.4" r="1.1"/><circle cx="157.7" cy="574.4" r="1.1"/><circle cx="121.3" cy="574.3" r="1.1"/><circle cx="136.3" cy="574.3" r="1.1"/><circle cx="125.8" cy="574.3" r="1.1"/><circle cx="143.8" cy="574.3" r="1.1"/><circle cx="114.4" cy="574.3" r="1.1"/><circle cx="101.4" cy="574.2" r="1.1"/><circle cx="138.3" cy="574.2" r="1.1"/><circle cx="140.7" cy="574.2" r="1.1"/><circle cx="121.5" cy="574.2" r="1.1"/><circle cx="112.2" cy="574.2" r="1.1"/><circle cx="139.9" cy="574.1" r="1.1"/><circle cx="132.6" cy="574.1" r="1.1"/><circle cx="131.4" cy="574.1" r="1.1"/><circle cx="119.4" cy="574.0" r="1.1"/><circle cx="138.3" cy="574.0" r="1.1"/><circle cx="126.9" cy="574.0" r="1.1"/><circle cx="115.2" cy="573.9" r="1.1"/><circle cx="131.0" cy="573.9" r="1.1"/><circle cx="142.4" cy="573.9" r="1.1"/><circle cx="122.9" cy="573.9" r="1.1"/><circle cx="109.2" cy="573.8" r="1.1"/><circle cx="134.9" cy="573.8" r="1.1"/><circle cx="146.7" cy="573.8" r="1.1"/><circle cx="129.3" cy="573.7" r="1.1"/><circle cx="120.5" cy="573.7" r="1.1"/><circle cx="122.4" cy="573.6" r="1.1"/><circle cx="119.6" cy="573.6" r="1.1"/><circle cx="133.9" cy="573.6" r="1.1"/><circle cx="137.8" cy="573.6" r="1.1"/><circle cx="160.6" cy="573.6" r="1.1"/><circle cx="135.6" cy="573.6" r="1.1"/><circle cx="110.7" cy="573.6" r="1.1"/><circle cx="140.8" cy="573.6" r="1.1"/><circle cx="149.8" cy="573.6" r="1.1"/><circle cx="142.0" cy="573.6" r="1.1"/><circle cx="131.4" cy="573.6" r="1.1"/><circle cx="117.5" cy="573.5" r="1.1"/><circle cx="132.3" cy="573.5" r="1.1"/><circle cx="128.5" cy="573.5" r="1.1"/><circle cx="153.8" cy="573.5" r="1.1"/><circle cx="134.7" cy="573.4" r="1.1"/><circle cx="118.1" cy="573.4" r="1.1"/><circle cx="135.1" cy="573.4" r="1.1"/><circle cx="117.3" cy="573.4" r="1.1"/><circle cx="165.9" cy="573.4" r="1.1"/><circle cx="142.4" cy="573.4" r="1.1"/><circle cx="124.6" cy="573.3" r="1.1"/><circle cx="162.8" cy="573.3" r="1.1"/><circle cx="148.4" cy="573.3" r="1.1"/><circle cx="133.6" cy="573.3" r="1.1"/><circle cx="143.2" cy="573.3" r="1.1"/><circle cx="125.7" cy="573.3" r="1.1"/><circle cx="132.7" cy="573.3" r="1.1"/><circle cx="135.2" cy="573.3" r="1.1"/><circle cx="142.3" cy="573.3" r="1.1"/><circle cx="146.2" cy="573.2" r="1.1"/><circle cx="140.2" cy="573.2" r="1.1"/><circle cx="118.3" cy="573.2" r="1.1"/><circle cx="145.9" cy="573.1" r="1.1"/><circle cx="133.8" cy="573.1" r="1.1"/><circle cx="131.8" cy="573.0" r="1.1"/><circle cx="120.1" cy="573.0" r="1.1"/><circle cx="119.7" cy="573.0" r="1.1"/><circle cx="149.9" cy="573.0" r="1.1"/><circle cx="132.7" cy="573.0" r="1.1"/><circle cx="145.3" cy="573.0" r="1.1"/><circle cx="159.5" cy="573.0" r="1.1"/><circle cx="127.7" cy="572.9" r="1.1"/><circle cx="135.0" cy="572.9" r="1.1"/><circle cx="128.6" cy="572.9" r="1.1"/><circle cx="147.2" cy="572.9" r="1.1"/><circle cx="155.1" cy="572.9" r="1.1"/><circle cx="152.7" cy="572.9" r="1.1"/><circle cx="117.1" cy="572.8" r="1.1"/><circle cx="137.0" cy="572.8" r="1.1"/><circle cx="117.5" cy="572.8" r="1.1"/><circle cx="115.0" cy="572.8" r="1.1"/><circle cx="131.8" cy="572.7" r="1.1"/><circle cx="123.6" cy="572.7" r="1.1"/><circle cx="147.5" cy="572.7" r="1.1"/><circle cx="147.0" cy="572.7" r="1.1"/><circle cx="137.1" cy="572.7" r="1.1"/><circle cx="144.8" cy="572.7" r="1.1"/><circle cx="134.5" cy="572.6" r="1.1"/><circle cx="128.6" cy="572.6" r="1.1"/><circle cx="119.5" cy="572.5" r="1.1"/><circle cx="127.0" cy="572.5" r="1.1"/><circle cx="159.1" cy="572.4" r="1.1"/><circle cx="106.8" cy="572.4" r="1.1"/><circle cx="126.6" cy="572.4" r="1.1"/><circle cx="108.8" cy="572.4" r="1.1"/><circle cx="146.0" cy="572.3" r="1.1"/><circle cx="132.7" cy="572.3" r="1.1"/><circle cx="127.9" cy="572.3" r="1.1"/><circle cx="154.0" cy="572.3" r="1.1"/><circle cx="125.8" cy="572.2" r="1.1"/><circle cx="137.7" cy="572.2" r="1.1"/><circle cx="132.6" cy="572.2" r="1.1"/><circle cx="151.4" cy="572.2" r="1.1"/><circle cx="128.9" cy="572.2" r="1.1"/><circle cx="139.8" cy="572.2" r="1.1"/><circle cx="140.1" cy="572.2" r="1.1"/><circle cx="128.6" cy="572.1" r="1.1"/><circle cx="121.7" cy="572.1" r="1.1"/><circle cx="153.1" cy="572.1" r="1.1"/><circle cx="118.3" cy="572.1" r="1.1"/><circle cx="153.7" cy="572.1" r="1.1"/><circle cx="114.0" cy="572.0" r="1.1"/><circle cx="131.2" cy="572.0" r="1.1"/><circle cx="132.3" cy="572.0" r="1.1"/><circle cx="140.3" cy="572.0" r="1.1"/><circle cx="133.3" cy="572.0" r="1.1"/><circle cx="111.0" cy="572.0" r="1.1"/><circle cx="127.4" cy="572.0" r="1.1"/><circle cx="143.6" cy="571.9" r="1.1"/><circle cx="116.0" cy="571.8" r="1.1"/><circle cx="151.1" cy="571.8" r="1.1"/><circle cx="162.2" cy="571.8" r="1.1"/><circle cx="146.5" cy="571.7" r="1.1"/><circle cx="109.6" cy="571.7" r="1.1"/><circle cx="128.9" cy="571.7" r="1.1"/><circle cx="134.7" cy="571.7" r="1.1"/><circle cx="132.3" cy="571.7" r="1.1"/><circle cx="150.3" cy="571.6" r="1.1"/><circle cx="142.4" cy="571.6" r="1.1"/><circle cx="124.2" cy="571.6" r="1.1"/><circle cx="138.1" cy="571.6" r="1.1"/><circle cx="143.4" cy="571.6" r="1.1"/><circle cx="157.9" cy="571.5" r="1.1"/><circle cx="146.5" cy="571.5" r="1.1"/><circle cx="115.7" cy="571.5" r="1.1"/><circle cx="123.6" cy="571.5" r="1.1"/><circle cx="142.5" cy="571.5" r="1.1"/><circle cx="147.2" cy="571.5" r="1.1"/><circle cx="133.0" cy="571.5" r="1.1"/><circle cx="131.7" cy="571.4" r="1.1"/><circle cx="140.9" cy="571.4" r="1.1"/><circle cx="128.4" cy="571.4" r="1.1"/><circle cx="112.5" cy="571.4" r="1.1"/><circle cx="126.6" cy="571.3" r="1.1"/><circle cx="137.3" cy="571.3" r="1.1"/><circle cx="137.0" cy="571.3" r="1.1"/><circle cx="119.8" cy="571.3" r="1.1"/><circle cx="114.3" cy="571.3" r="1.1"/><circle cx="158.3" cy="571.3" r="1.1"/><circle cx="154.9" cy="571.2" r="1.1"/><circle cx="140.5" cy="571.2" r="1.1"/><circle cx="141.1" cy="571.2" r="1.1"/><circle cx="141.3" cy="571.1" r="1.1"/><circle cx="141.7" cy="571.0" r="1.1"/><circle cx="120.5" cy="571.0" r="1.1"/><circle cx="139.5" cy="571.0" r="1.1"/><circle cx="146.6" cy="571.0" r="1.1"/><circle cx="111.0" cy="570.9" r="1.1"/><circle cx="130.9" cy="570.9" r="1.1"/><circle cx="134.6" cy="570.9" r="1.1"/><circle cx="151.8" cy="570.8" r="1.1"/><circle cx="145.1" cy="570.8" r="1.1"/><circle cx="159.1" cy="570.8" r="1.1"/><circle cx="148.7" cy="570.8" r="1.1"/><circle cx="107.5" cy="570.8" r="1.1"/><circle cx="119.5" cy="570.8" r="1.1"/><circle cx="139.5" cy="570.8" r="1.1"/><circle cx="138.2" cy="570.8" r="1.1"/><circle cx="139.2" cy="570.8" r="1.1"/><circle cx="152.7" cy="570.7" r="1.1"/><circle cx="146.9" cy="570.7" r="1.1"/><circle cx="135.9" cy="570.7" r="1.1"/><circle cx="129.6" cy="570.7" r="1.1"/><circle cx="151.5" cy="570.7" r="1.1"/><circle cx="99.7" cy="570.7" r="1.1"/><circle cx="109.9" cy="570.6" r="1.1"/><circle cx="125.0" cy="570.5" r="1.1"/><circle cx="134.6" cy="570.5" r="1.1"/><circle cx="132.9" cy="570.5" r="1.1"/><circle cx="134.9" cy="570.5" r="1.1"/><circle cx="117.0" cy="570.5" r="1.1"/><circle cx="155.1" cy="570.5" r="1.1"/><circle cx="146.7" cy="570.5" r="1.1"/><circle cx="153.0" cy="570.5" r="1.1"/><circle cx="141.4" cy="570.5" r="1.1"/><circle cx="146.4" cy="570.5" r="1.1"/><circle cx="125.8" cy="570.5" r="1.1"/><circle cx="104.7" cy="570.5" r="1.1"/><circle cx="122.9" cy="570.4" r="1.1"/><circle cx="142.4" cy="570.4" r="1.1"/><circle cx="123.7" cy="570.3" r="1.1"/><circle cx="139.2" cy="570.3" r="1.1"/><circle cx="128.4" cy="570.3" r="1.1"/><circle cx="157.3" cy="570.3" r="1.1"/><circle cx="160.3" cy="570.3" r="1.1"/><circle cx="130.6" cy="570.3" r="1.1"/><circle cx="114.3" cy="570.3" r="1.1"/><circle cx="142.7" cy="570.2" r="1.1"/><circle cx="144.8" cy="570.2" r="1.1"/><circle cx="139.2" cy="570.2" r="1.1"/><circle cx="156.0" cy="570.2" r="1.1"/><circle cx="129.3" cy="570.2" r="1.1"/><circle cx="132.0" cy="570.1" r="1.1"/><circle cx="136.7" cy="570.1" r="1.1"/><circle cx="121.5" cy="570.1" r="1.1"/><circle cx="134.4" cy="570.1" r="1.1"/><circle cx="154.4" cy="570.0" r="1.1"/><circle cx="125.5" cy="570.0" r="1.1"/><circle cx="136.5" cy="570.0" r="1.1"/><circle cx="120.8" cy="570.0" r="1.1"/><circle cx="121.7" cy="570.0" r="1.1"/><circle cx="127.8" cy="570.0" r="1.1"/><circle cx="148.0" cy="570.0" r="1.1"/><circle cx="129.4" cy="569.9" r="1.1"/><circle cx="110.9" cy="569.9" r="1.1"/><circle cx="133.4" cy="569.9" r="1.1"/><circle cx="155.6" cy="569.9" r="1.1"/><circle cx="60.1" cy="569.9" r="1.1"/><circle cx="132.5" cy="569.9" r="1.1"/><circle cx="113.5" cy="569.8" r="1.1"/><circle cx="127.6" cy="569.8" r="1.1"/><circle cx="119.1" cy="569.8" r="1.1"/><circle cx="134.6" cy="569.8" r="1.1"/><circle cx="133.1" cy="569.8" r="1.1"/><circle cx="143.2" cy="569.8" r="1.1"/><circle cx="152.9" cy="569.7" r="1.1"/><circle cx="128.6" cy="569.7" r="1.1"/><circle cx="138.3" cy="569.6" r="1.1"/><circle cx="144.7" cy="569.6" r="1.1"/><circle cx="118.0" cy="569.6" r="1.1"/><circle cx="149.5" cy="569.6" r="1.1"/><circle cx="113.9" cy="569.6" r="1.1"/><circle cx="120.2" cy="569.6" r="1.1"/><circle cx="122.0" cy="569.5" r="1.1"/><circle cx="122.4" cy="569.5" r="1.1"/><circle cx="125.2" cy="569.5" r="1.1"/><circle cx="118.3" cy="569.5" r="1.1"/><circle cx="117.2" cy="569.5" r="1.1"/><circle cx="134.1" cy="569.4" r="1.1"/><circle cx="140.5" cy="569.4" r="1.1"/><circle cx="145.0" cy="569.3" r="1.1"/><circle cx="126.9" cy="569.3" r="1.1"/><circle cx="128.9" cy="569.3" r="1.1"/><circle cx="122.4" cy="569.3" r="1.1"/><circle cx="130.9" cy="569.3" r="1.1"/><circle cx="168.6" cy="569.3" r="1.1"/><circle cx="135.2" cy="569.2" r="1.1"/><circle cx="153.3" cy="569.2" r="1.1"/><circle cx="122.0" cy="569.2" r="1.1"/><circle cx="138.8" cy="569.2" r="1.1"/><circle cx="145.8" cy="569.2" r="1.1"/><circle cx="129.9" cy="569.1" r="1.1"/><circle cx="154.5" cy="569.1" r="1.1"/><circle cx="111.2" cy="569.1" r="1.1"/><circle cx="132.6" cy="569.1" r="1.1"/><circle cx="142.9" cy="569.0" r="1.1"/><circle cx="134.2" cy="569.0" r="1.1"/><circle cx="136.7" cy="569.0" r="1.1"/><circle cx="121.0" cy="569.0" r="1.1"/><circle cx="130.7" cy="568.9" r="1.1"/><circle cx="143.3" cy="568.9" r="1.1"/><circle cx="141.4" cy="568.9" r="1.1"/><circle cx="163.8" cy="568.9" r="1.1"/><circle cx="127.6" cy="568.9" r="1.1"/><circle cx="146.9" cy="568.9" r="1.1"/><circle cx="130.0" cy="568.9" r="1.1"/><circle cx="136.4" cy="568.8" r="1.1"/><circle cx="126.7" cy="568.8" r="1.1"/><circle cx="134.1" cy="568.8" r="1.1"/><circle cx="142.2" cy="568.8" r="1.1"/><circle cx="136.9" cy="568.8" r="1.1"/><circle cx="121.4" cy="568.8" r="1.1"/><circle cx="122.3" cy="568.7" r="1.1"/><circle cx="120.4" cy="568.7" r="1.1"/><circle cx="119.9" cy="568.6" r="1.1"/><circle cx="141.8" cy="568.6" r="1.1"/><circle cx="144.2" cy="568.6" r="1.1"/><circle cx="157.8" cy="568.5" r="1.1"/><circle cx="138.7" cy="568.5" r="1.1"/><circle cx="125.2" cy="568.5" r="1.1"/><circle cx="113.4" cy="568.5" r="1.1"/><circle cx="153.4" cy="568.5" r="1.1"/><circle cx="144.7" cy="568.5" r="1.1"/><circle cx="118.6" cy="568.4" r="1.1"/><circle cx="134.7" cy="568.4" r="1.1"/><circle cx="136.0" cy="568.3" r="1.1"/><circle cx="139.3" cy="568.3" r="1.1"/><circle cx="155.6" cy="568.3" r="1.1"/><circle cx="135.6" cy="568.3" r="1.1"/><circle cx="145.4" cy="568.2" r="1.1"/><circle cx="129.1" cy="568.2" r="1.1"/><circle cx="147.6" cy="568.2" r="1.1"/><circle cx="147.6" cy="568.2" r="1.1"/><circle cx="107.3" cy="568.2" r="1.1"/><circle cx="125.6" cy="568.1" r="1.1"/><circle cx="152.0" cy="568.1" r="1.1"/><circle cx="117.5" cy="568.1" r="1.1"/><circle cx="124.0" cy="568.1" r="1.1"/><circle cx="126.8" cy="568.1" r="1.1"/><circle cx="135.8" cy="568.1" r="1.1"/><circle cx="128.2" cy="568.1" r="1.1"/><circle cx="127.7" cy="568.0" r="1.1"/><circle cx="150.7" cy="568.0" r="1.1"/><circle cx="113.2" cy="568.0" r="1.1"/><circle cx="127.9" cy="567.9" r="1.1"/><circle cx="165.7" cy="567.9" r="1.1"/><circle cx="140.3" cy="567.8" r="1.1"/><circle cx="141.1" cy="567.8" r="1.1"/><circle cx="129.2" cy="567.8" r="1.1"/><circle cx="149.8" cy="567.8" r="1.2"/><circle cx="145.8" cy="567.7" r="1.2"/><circle cx="120.4" cy="567.7" r="1.2"/><circle cx="128.1" cy="567.7" r="1.2"/><circle cx="122.3" cy="567.7" r="1.2"/><circle cx="161.4" cy="567.6" r="1.2"/><circle cx="146.4" cy="567.6" r="1.2"/><circle cx="129.4" cy="567.6" r="1.2"/><circle cx="120.9" cy="567.6" r="1.2"/><circle cx="131.9" cy="567.6" r="1.2"/><circle cx="131.0" cy="567.6" r="1.2"/><circle cx="124.3" cy="567.6" r="1.2"/><circle cx="149.6" cy="567.5" r="1.2"/><circle cx="146.5" cy="567.4" r="1.2"/><circle cx="113.8" cy="567.4" r="1.2"/><circle cx="137.6" cy="567.4" r="1.2"/><circle cx="151.4" cy="567.3" r="1.2"/><circle cx="130.4" cy="567.3" r="1.2"/><circle cx="150.8" cy="567.3" r="1.2"/><circle cx="156.7" cy="567.3" r="1.2"/><circle cx="165.6" cy="567.3" r="1.2"/><circle cx="142.4" cy="567.2" r="1.2"/><circle cx="105.3" cy="567.2" r="1.2"/><circle cx="132.0" cy="567.2" r="1.2"/><circle cx="137.4" cy="567.1" r="1.2"/><circle cx="129.3" cy="567.1" r="1.2"/><circle cx="131.1" cy="567.1" r="1.2"/><circle cx="148.7" cy="567.1" r="1.2"/><circle cx="144.5" cy="567.0" r="1.2"/><circle cx="150.4" cy="567.0" r="1.2"/><circle cx="157.8" cy="567.0" r="1.2"/><circle cx="129.7" cy="566.9" r="1.2"/><circle cx="125.3" cy="566.8" r="1.2"/><circle cx="130.5" cy="566.8" r="1.2"/><circle cx="137.1" cy="566.7" r="1.2"/><circle cx="150.4" cy="566.7" r="1.2"/><circle cx="130.3" cy="566.7" r="1.2"/><circle cx="122.6" cy="566.6" r="1.2"/><circle cx="132.2" cy="566.6" r="1.2"/><circle cx="142.7" cy="566.6" r="1.2"/><circle cx="127.9" cy="566.5" r="1.2"/><circle cx="118.5" cy="566.5" r="1.2"/><circle cx="131.3" cy="566.5" r="1.2"/><circle cx="122.7" cy="566.5" r="1.2"/><circle cx="139.3" cy="566.4" r="1.2"/><circle cx="158.3" cy="566.4" r="1.2"/><circle cx="133.5" cy="566.3" r="1.2"/><circle cx="125.3" cy="566.3" r="1.2"/><circle cx="123.6" cy="566.3" r="1.2"/><circle cx="123.1" cy="566.3" r="1.2"/><circle cx="125.3" cy="566.2" r="1.2"/><circle cx="132.9" cy="566.2" r="1.2"/><circle cx="120.8" cy="566.2" r="1.2"/><circle cx="143.8" cy="566.2" r="1.2"/><circle cx="145.7" cy="566.2" r="1.2"/><circle cx="132.1" cy="566.2" r="1.2"/><circle cx="141.5" cy="566.2" r="1.2"/><circle cx="130.2" cy="566.2" r="1.2"/><circle cx="135.1" cy="566.2" r="1.2"/><circle cx="146.1" cy="566.1" r="1.2"/><circle cx="134.0" cy="566.1" r="1.2"/><circle cx="123.5" cy="566.1" r="1.2"/><circle cx="130.4" cy="566.1" r="1.2"/><circle cx="132.0" cy="566.1" r="1.2"/><circle cx="148.1" cy="566.0" r="1.2"/><circle cx="124.2" cy="566.0" r="1.2"/><circle cx="149.1" cy="566.0" r="1.2"/><circle cx="126.1" cy="566.0" r="1.2"/><circle cx="154.2" cy="566.0" r="1.2"/><circle cx="135.1" cy="566.0" r="1.2"/><circle cx="118.8" cy="565.9" r="1.2"/><circle cx="128.8" cy="565.9" r="1.2"/><circle cx="139.9" cy="565.9" r="1.2"/><circle cx="137.9" cy="565.9" r="1.2"/><circle cx="137.5" cy="565.9" r="1.2"/><circle cx="145.5" cy="565.9" r="1.2"/><circle cx="135.9" cy="565.8" r="1.2"/><circle cx="147.7" cy="565.8" r="1.2"/><circle cx="149.9" cy="565.8" r="1.2"/><circle cx="146.0" cy="565.8" r="1.2"/><circle cx="114.3" cy="565.7" r="1.2"/><circle cx="128.1" cy="565.7" r="1.2"/><circle cx="157.6" cy="565.6" r="1.2"/><circle cx="142.9" cy="565.6" r="1.2"/><circle cx="130.3" cy="565.5" r="1.2"/><circle cx="152.8" cy="565.5" r="1.2"/><circle cx="156.5" cy="565.5" r="1.2"/><circle cx="123.6" cy="565.5" r="1.2"/><circle cx="127.1" cy="565.4" r="1.2"/><circle cx="136.7" cy="565.4" r="1.2"/><circle cx="149.3" cy="565.4" r="1.2"/><circle cx="119.1" cy="565.3" r="1.2"/><circle cx="130.2" cy="565.3" r="1.2"/><circle cx="132.8" cy="565.3" r="1.2"/><circle cx="125.9" cy="565.2" r="1.2"/><circle cx="148.6" cy="565.1" r="1.2"/><circle cx="155.3" cy="565.1" r="1.2"/><circle cx="112.9" cy="565.1" r="1.2"/><circle cx="147.3" cy="565.1" r="1.2"/><circle cx="129.7" cy="565.1" r="1.2"/><circle cx="150.0" cy="565.1" r="1.2"/><circle cx="166.4" cy="565.0" r="1.2"/><circle cx="131.1" cy="565.0" r="1.2"/><circle cx="134.3" cy="565.0" r="1.2"/><circle cx="149.6" cy="564.9" r="1.2"/><circle cx="126.5" cy="564.9" r="1.2"/><circle cx="121.0" cy="564.9" r="1.2"/><circle cx="138.5" cy="564.9" r="1.2"/><circle cx="147.4" cy="564.9" r="1.2"/><circle cx="144.6" cy="564.9" r="1.2"/><circle cx="152.2" cy="564.9" r="1.2"/><circle cx="108.9" cy="564.9" r="1.2"/><circle cx="131.6" cy="564.8" r="1.2"/><circle cx="152.4" cy="564.8" r="1.2"/><circle cx="136.5" cy="564.8" r="1.2"/><circle cx="149.6" cy="564.8" r="1.2"/><circle cx="150.6" cy="564.8" r="1.2"/><circle cx="151.0" cy="564.8" r="1.2"/><circle cx="148.2" cy="564.8" r="1.2"/><circle cx="110.1" cy="564.8" r="1.2"/><circle cx="139.2" cy="564.8" r="1.2"/><circle cx="135.7" cy="564.7" r="1.2"/><circle cx="135.0" cy="564.7" r="1.2"/><circle cx="135.4" cy="564.7" r="1.2"/><circle cx="174.8" cy="564.7" r="1.2"/><circle cx="145.5" cy="564.7" r="1.2"/><circle cx="168.7" cy="564.7" r="1.2"/><circle cx="142.5" cy="564.7" r="1.2"/><circle cx="157.3" cy="564.6" r="1.2"/><circle cx="135.9" cy="564.6" r="1.2"/><circle cx="149.2" cy="564.5" r="1.2"/><circle cx="108.6" cy="564.5" r="1.2"/><circle cx="140.1" cy="564.4" r="1.2"/><circle cx="111.5" cy="564.4" r="1.2"/><circle cx="139.8" cy="564.3" r="1.2"/><circle cx="139.4" cy="564.3" r="1.2"/><circle cx="127.5" cy="564.3" r="1.2"/><circle cx="139.1" cy="564.3" r="1.2"/><circle cx="144.3" cy="564.2" r="1.2"/><circle cx="123.7" cy="564.2" r="1.2"/><circle cx="159.2" cy="564.2" r="1.2"/><circle cx="141.6" cy="564.2" r="1.2"/><circle cx="120.2" cy="564.2" r="1.2"/><circle cx="126.9" cy="564.2" r="1.2"/><circle cx="135.8" cy="564.2" r="1.2"/><circle cx="113.4" cy="564.1" r="1.2"/><circle cx="136.0" cy="564.1" r="1.2"/><circle cx="124.8" cy="564.1" r="1.2"/><circle cx="125.7" cy="564.1" r="1.2"/><circle cx="135.8" cy="564.1" r="1.2"/><circle cx="130.7" cy="564.0" r="1.2"/><circle cx="118.4" cy="564.0" r="1.2"/><circle cx="123.6" cy="563.9" r="1.2"/><circle cx="125.7" cy="563.9" r="1.2"/><circle cx="130.8" cy="563.9" r="1.2"/><circle cx="130.8" cy="563.9" r="1.2"/><circle cx="133.0" cy="563.9" r="1.2"/><circle cx="148.6" cy="563.9" r="1.2"/><circle cx="128.5" cy="563.8" r="1.2"/><circle cx="126.2" cy="563.8" r="1.2"/><circle cx="132.8" cy="563.8" r="1.2"/><circle cx="132.6" cy="563.8" r="1.2"/><circle cx="162.2" cy="563.8" r="1.2"/><circle cx="150.4" cy="563.8" r="1.2"/><circle cx="157.6" cy="563.8" r="1.2"/><circle cx="125.2" cy="563.8" r="1.2"/><circle cx="121.3" cy="563.8" r="1.2"/><circle cx="145.6" cy="563.8" r="1.2"/><circle cx="150.9" cy="563.7" r="1.2"/><circle cx="158.1" cy="563.7" r="1.2"/><circle cx="125.3" cy="563.7" r="1.2"/><circle cx="151.7" cy="563.6" r="1.2"/><circle cx="139.3" cy="563.6" r="1.2"/><circle cx="139.5" cy="563.6" r="1.2"/><circle cx="114.5" cy="563.6" r="1.2"/><circle cx="148.0" cy="563.6" r="1.2"/><circle cx="134.6" cy="563.5" r="1.2"/><circle cx="124.9" cy="563.5" r="1.2"/><circle cx="135.5" cy="563.5" r="1.2"/><circle cx="144.9" cy="563.5" r="1.2"/><circle cx="129.1" cy="563.4" r="1.2"/><circle cx="138.7" cy="563.4" r="1.2"/><circle cx="142.0" cy="563.4" r="1.2"/><circle cx="117.5" cy="563.4" r="1.2"/><circle cx="128.7" cy="563.3" r="1.2"/><circle cx="141.3" cy="563.3" r="1.2"/><circle cx="129.9" cy="563.3" r="1.2"/><circle cx="155.8" cy="563.2" r="1.2"/><circle cx="124.9" cy="563.2" r="1.2"/><circle cx="130.4" cy="563.2" r="1.2"/><circle cx="140.0" cy="563.1" r="1.2"/><circle cx="139.9" cy="563.1" r="1.2"/><circle cx="139.0" cy="563.1" r="1.2"/><circle cx="138.2" cy="563.1" r="1.2"/><circle cx="137.0" cy="563.1" r="1.2"/><circle cx="124.4" cy="563.1" r="1.2"/><circle cx="156.1" cy="563.1" r="1.2"/><circle cx="154.8" cy="563.1" r="1.2"/><circle cx="133.4" cy="563.1" r="1.2"/><circle cx="123.2" cy="563.1" r="1.2"/><circle cx="128.8" cy="563.1" r="1.2"/><circle cx="125.4" cy="563.0" r="1.2"/><circle cx="153.8" cy="563.0" r="1.2"/><circle cx="133.0" cy="563.0" r="1.2"/><circle cx="141.7" cy="563.0" r="1.2"/><circle cx="136.0" cy="562.9" r="1.2"/><circle cx="110.8" cy="562.9" r="1.2"/><circle cx="121.7" cy="562.9" r="1.2"/><circle cx="152.9" cy="562.8" r="1.2"/><circle cx="148.2" cy="562.8" r="1.2"/><circle cx="150.8" cy="562.8" r="1.2"/><circle cx="161.3" cy="562.8" r="1.2"/><circle cx="147.0" cy="562.8" r="1.2"/><circle cx="149.9" cy="562.8" r="1.2"/><circle cx="136.9" cy="562.7" r="1.2"/><circle cx="119.4" cy="562.7" r="1.2"/><circle cx="135.6" cy="562.7" r="1.2"/><circle cx="143.7" cy="562.7" r="1.2"/><circle cx="132.6" cy="562.6" r="1.2"/><circle cx="145.4" cy="562.6" r="1.2"/><circle cx="141.8" cy="562.5" r="1.2"/><circle cx="129.4" cy="562.5" r="1.2"/><circle cx="137.3" cy="562.5" r="1.2"/><circle cx="133.4" cy="562.5" r="1.2"/><circle cx="133.3" cy="562.5" r="1.2"/><circle cx="144.5" cy="562.4" r="1.2"/><circle cx="121.4" cy="562.4" r="1.2"/><circle cx="163.9" cy="562.3" r="1.2"/><circle cx="124.8" cy="562.3" r="1.2"/><circle cx="123.7" cy="562.3" r="1.2"/><circle cx="122.3" cy="562.2" r="1.2"/><circle cx="138.6" cy="562.2" r="1.2"/><circle cx="131.7" cy="562.2" r="1.2"/><circle cx="126.2" cy="562.2" r="1.2"/><circle cx="138.5" cy="562.1" r="1.2"/><circle cx="127.1" cy="562.1" r="1.2"/><circle cx="129.5" cy="562.1" r="1.2"/><circle cx="128.3" cy="562.0" r="1.2"/><circle cx="143.1" cy="561.9" r="1.2"/><circle cx="129.4" cy="561.9" r="1.2"/><circle cx="130.9" cy="561.8" r="1.2"/><circle cx="129.6" cy="561.8" r="1.2"/><circle cx="140.2" cy="561.7" r="1.2"/><circle cx="142.3" cy="561.7" r="1.2"/><circle cx="113.7" cy="561.7" r="1.2"/><circle cx="145.2" cy="561.7" r="1.2"/><circle cx="147.0" cy="561.7" r="1.2"/><circle cx="145.5" cy="561.7" r="1.2"/><circle cx="129.2" cy="561.7" r="1.2"/><circle cx="147.9" cy="561.6" r="1.2"/><circle cx="149.1" cy="561.6" r="1.2"/><circle cx="132.0" cy="561.6" r="1.2"/><circle cx="151.6" cy="561.6" r="1.2"/><circle cx="121.3" cy="561.6" r="1.2"/><circle cx="127.1" cy="561.6" r="1.2"/><circle cx="147.8" cy="561.5" r="1.2"/><circle cx="140.1" cy="561.5" r="1.2"/><circle cx="155.3" cy="561.5" r="1.2"/><circle cx="124.6" cy="561.5" r="1.2"/><circle cx="134.1" cy="561.4" r="1.2"/><circle cx="156.3" cy="561.4" r="1.2"/><circle cx="126.5" cy="561.4" r="1.2"/><circle cx="133.3" cy="561.4" r="1.2"/><circle cx="141.3" cy="561.4" r="1.2"/><circle cx="121.6" cy="561.4" r="1.2"/><circle cx="132.4" cy="561.4" r="1.2"/><circle cx="125.6" cy="561.4" r="1.2"/><circle cx="113.1" cy="561.3" r="1.2"/><circle cx="125.5" cy="561.2" r="1.2"/><circle cx="138.1" cy="561.2" r="1.2"/><circle cx="119.0" cy="561.2" r="1.2"/><circle cx="134.4" cy="561.2" r="1.2"/><circle cx="136.2" cy="561.1" r="1.2"/><circle cx="127.5" cy="561.1" r="1.2"/><circle cx="108.4" cy="561.1" r="1.2"/><circle cx="128.3" cy="561.1" r="1.2"/><circle cx="145.1" cy="561.0" r="1.2"/><circle cx="133.0" cy="561.0" r="1.2"/><circle cx="114.8" cy="561.0" r="1.2"/><circle cx="134.7" cy="561.0" r="1.2"/><circle cx="126.2" cy="561.0" r="1.2"/><circle cx="140.5" cy="561.0" r="1.2"/><circle cx="144.9" cy="561.0" r="1.2"/><circle cx="135.1" cy="560.9" r="1.2"/><circle cx="137.9" cy="560.9" r="1.2"/><circle cx="131.8" cy="560.9" r="1.2"/><circle cx="146.5" cy="560.9" r="1.2"/><circle cx="146.3" cy="560.9" r="1.2"/><circle cx="138.5" cy="560.8" r="1.2"/><circle cx="128.5" cy="560.8" r="1.2"/><circle cx="137.8" cy="560.8" r="1.2"/><circle cx="112.1" cy="560.8" r="1.2"/><circle cx="149.6" cy="560.7" r="1.2"/><circle cx="140.8" cy="560.7" r="1.2"/><circle cx="151.2" cy="560.7" r="1.2"/><circle cx="118.6" cy="560.7" r="1.2"/><circle cx="124.7" cy="560.6" r="1.2"/><circle cx="135.2" cy="560.6" r="1.2"/><circle cx="134.9" cy="560.6" r="1.2"/><circle cx="129.3" cy="560.5" r="1.2"/><circle cx="146.8" cy="560.5" r="1.2"/><circle cx="158.3" cy="560.5" r="1.2"/><circle cx="127.9" cy="560.4" r="1.2"/><circle cx="132.5" cy="560.4" r="1.2"/><circle cx="119.5" cy="560.4" r="1.2"/><circle cx="143.9" cy="560.3" r="1.2"/><circle cx="133.5" cy="560.3" r="1.2"/><circle cx="125.6" cy="560.3" r="1.2"/><circle cx="156.2" cy="560.3" r="1.2"/><circle cx="146.8" cy="560.3" r="1.2"/><circle cx="133.4" cy="560.2" r="1.2"/><circle cx="141.2" cy="560.2" r="1.2"/><circle cx="147.8" cy="560.2" r="1.2"/><circle cx="133.5" cy="560.2" r="1.2"/><circle cx="120.0" cy="560.1" r="1.2"/><circle cx="164.5" cy="560.1" r="1.2"/><circle cx="116.8" cy="560.1" r="1.2"/><circle cx="138.3" cy="560.1" r="1.2"/><circle cx="134.3" cy="560.1" r="1.2"/><circle cx="146.1" cy="560.0" r="1.2"/><circle cx="127.1" cy="560.0" r="1.2"/><circle cx="150.8" cy="560.0" r="1.2"/><circle cx="156.7" cy="560.0" r="1.2"/><circle cx="140.5" cy="560.0" r="1.2"/><circle cx="119.1" cy="559.9" r="1.2"/><circle cx="130.0" cy="559.9" r="1.2"/><circle cx="142.5" cy="559.9" r="1.2"/><circle cx="147.8" cy="559.9" r="1.2"/><circle cx="132.6" cy="559.8" r="1.2"/><circle cx="146.7" cy="559.8" r="1.2"/><circle cx="147.7" cy="559.8" r="1.2"/><circle cx="138.2" cy="559.7" r="1.2"/><circle cx="153.5" cy="559.7" r="1.2"/><circle cx="157.8" cy="559.7" r="1.2"/><circle cx="129.7" cy="559.7" r="1.2"/><circle cx="148.0" cy="559.7" r="1.2"/><circle cx="136.7" cy="559.7" r="1.2"/><circle cx="134.5" cy="559.6" r="1.2"/><circle cx="149.2" cy="559.6" r="1.2"/><circle cx="131.6" cy="559.6" r="1.2"/><circle cx="132.5" cy="559.6" r="1.2"/><circle cx="124.1" cy="559.5" r="1.2"/><circle cx="132.0" cy="559.5" r="1.2"/><circle cx="139.2" cy="559.5" r="1.2"/><circle cx="136.2" cy="559.5" r="1.2"/><circle cx="143.2" cy="559.4" r="1.2"/><circle cx="138.2" cy="559.4" r="1.2"/><circle cx="144.3" cy="559.4" r="1.2"/><circle cx="142.4" cy="559.3" r="1.2"/><circle cx="150.8" cy="559.3" r="1.2"/><circle cx="141.1" cy="559.3" r="1.2"/><circle cx="147.2" cy="559.2" r="1.2"/><circle cx="123.4" cy="559.2" r="1.2"/><circle cx="120.5" cy="559.2" r="1.2"/><circle cx="150.4" cy="559.2" r="1.2"/><circle cx="130.7" cy="559.2" r="1.2"/><circle cx="129.9" cy="559.1" r="1.2"/><circle cx="143.0" cy="559.1" r="1.2"/><circle cx="152.5" cy="559.0" r="1.2"/><circle cx="124.9" cy="559.0" r="1.2"/><circle cx="127.3" cy="559.0" r="1.2"/><circle cx="134.7" cy="558.9" r="1.2"/><circle cx="116.3" cy="558.9" r="1.2"/><circle cx="130.6" cy="558.9" r="1.2"/><circle cx="126.5" cy="558.8" r="1.2"/><circle cx="139.1" cy="558.8" r="1.2"/><circle cx="130.8" cy="558.8" r="1.2"/><circle cx="148.8" cy="558.8" r="1.2"/><circle cx="148.8" cy="558.8" r="1.2"/><circle cx="115.8" cy="558.7" r="1.2"/><circle cx="125.1" cy="558.7" r="1.2"/><circle cx="140.0" cy="558.6" r="1.2"/><circle cx="141.4" cy="558.6" r="1.2"/><circle cx="128.4" cy="558.6" r="1.2"/><circle cx="138.4" cy="558.6" r="1.2"/><circle cx="141.6" cy="558.6" r="1.2"/><circle cx="144.7" cy="558.6" r="1.2"/><circle cx="134.4" cy="558.5" r="1.2"/><circle cx="129.7" cy="558.5" r="1.2"/><circle cx="132.3" cy="558.5" r="1.2"/><circle cx="146.3" cy="558.5" r="1.2"/><circle cx="132.2" cy="558.5" r="1.2"/><circle cx="136.0" cy="558.5" r="1.2"/><circle cx="133.4" cy="558.5" r="1.2"/><circle cx="155.3" cy="558.5" r="1.2"/><circle cx="140.9" cy="558.5" r="1.2"/><circle cx="153.0" cy="558.4" r="1.2"/><circle cx="132.0" cy="558.4" r="1.2"/><circle cx="133.5" cy="558.4" r="1.2"/><circle cx="126.7" cy="558.4" r="1.2"/><circle cx="143.9" cy="558.4" r="1.2"/><circle cx="127.2" cy="558.4" r="1.2"/><circle cx="129.0" cy="558.4" r="1.2"/><circle cx="133.9" cy="558.4" r="1.2"/><circle cx="134.7" cy="558.3" r="1.2"/><circle cx="136.8" cy="558.3" r="1.2"/><circle cx="136.3" cy="558.3" r="1.2"/><circle cx="146.7" cy="558.3" r="1.2"/><circle cx="122.3" cy="558.3" r="1.2"/><circle cx="121.7" cy="558.2" r="1.2"/><circle cx="122.6" cy="558.2" r="1.2"/><circle cx="155.0" cy="558.1" r="1.2"/><circle cx="133.1" cy="558.1" r="1.2"/><circle cx="141.5" cy="558.0" r="1.2"/><circle cx="127.4" cy="558.0" r="1.2"/><circle cx="134.1" cy="558.0" r="1.2"/><circle cx="149.0" cy="557.9" r="1.2"/><circle cx="144.4" cy="557.9" r="1.2"/><circle cx="127.9" cy="557.8" r="1.2"/><circle cx="158.1" cy="557.8" r="1.2"/><circle cx="140.4" cy="557.8" r="1.2"/><circle cx="135.9" cy="557.8" r="1.2"/><circle cx="137.3" cy="557.8" r="1.2"/><circle cx="134.1" cy="557.7" r="1.2"/><circle cx="151.4" cy="557.7" r="1.2"/><circle cx="139.0" cy="557.7" r="1.2"/><circle cx="117.5" cy="557.7" r="1.2"/><circle cx="146.3" cy="557.7" r="1.2"/><circle cx="138.0" cy="557.7" r="1.2"/><circle cx="162.3" cy="557.6" r="1.2"/><circle cx="144.5" cy="557.6" r="1.2"/><circle cx="132.9" cy="557.6" r="1.2"/><circle cx="117.5" cy="557.6" r="1.2"/><circle cx="129.0" cy="557.6" r="1.2"/><circle cx="139.4" cy="557.6" r="1.2"/><circle cx="139.8" cy="557.5" r="1.2"/><circle cx="136.7" cy="557.5" r="1.2"/><circle cx="135.5" cy="557.5" r="1.2"/><circle cx="143.6" cy="557.4" r="1.2"/><circle cx="133.9" cy="557.4" r="1.2"/><circle cx="132.1" cy="557.4" r="1.2"/><circle cx="142.6" cy="557.4" r="1.2"/><circle cx="123.2" cy="557.4" r="1.2"/><circle cx="122.5" cy="557.4" r="1.2"/><circle cx="139.6" cy="557.4" r="1.2"/><circle cx="118.2" cy="557.4" r="1.2"/><circle cx="134.7" cy="557.4" r="1.2"/><circle cx="124.6" cy="557.3" r="1.2"/><circle cx="115.9" cy="557.3" r="1.2"/><circle cx="114.8" cy="557.3" r="1.2"/><circle cx="139.4" cy="557.3" r="1.2"/><circle cx="143.5" cy="557.3" r="1.2"/><circle cx="122.3" cy="557.3" r="1.2"/><circle cx="130.3" cy="557.2" r="1.2"/><circle cx="130.1" cy="557.2" r="1.2"/><circle cx="123.5" cy="557.1" r="1.2"/><circle cx="140.3" cy="557.1" r="1.2"/><circle cx="155.0" cy="557.0" r="1.2"/><circle cx="142.1" cy="557.0" r="1.2"/><circle cx="132.1" cy="557.0" r="1.2"/><circle cx="108.2" cy="556.9" r="1.2"/><circle cx="140.5" cy="556.9" r="1.2"/><circle cx="139.7" cy="556.8" r="1.2"/><circle cx="145.3" cy="556.8" r="1.2"/><circle cx="130.4" cy="556.8" r="1.2"/><circle cx="147.1" cy="556.8" r="1.2"/><circle cx="117.9" cy="556.8" r="1.2"/><circle cx="145.5" cy="556.7" r="1.2"/><circle cx="143.1" cy="556.7" r="1.2"/><circle cx="136.9" cy="556.7" r="1.2"/><circle cx="126.9" cy="556.6" r="1.2"/><circle cx="124.7" cy="556.6" r="1.2"/><circle cx="153.5" cy="556.6" r="1.2"/><circle cx="166.8" cy="556.6" r="1.2"/><circle cx="147.7" cy="556.5" r="1.2"/><circle cx="118.4" cy="556.5" r="1.2"/><circle cx="126.6" cy="556.5" r="1.2"/><circle cx="135.4" cy="556.5" r="1.2"/><circle cx="124.1" cy="556.5" r="1.2"/><circle cx="139.3" cy="556.5" r="1.2"/><circle cx="132.3" cy="556.4" r="1.2"/><circle cx="136.6" cy="556.4" r="1.2"/><circle cx="128.1" cy="556.3" r="1.2"/><circle cx="149.9" cy="556.3" r="1.2"/><circle cx="138.5" cy="556.3" r="1.2"/><circle cx="159.7" cy="556.3" r="1.2"/><circle cx="126.7" cy="556.3" r="1.2"/><circle cx="145.0" cy="556.3" r="1.2"/><circle cx="164.8" cy="556.2" r="1.2"/><circle cx="126.5" cy="556.2" r="1.2"/><circle cx="118.6" cy="556.2" r="1.2"/><circle cx="142.0" cy="556.2" r="1.2"/><circle cx="133.3" cy="556.2" r="1.2"/><circle cx="152.4" cy="556.1" r="1.2"/><circle cx="133.7" cy="556.1" r="1.2"/><circle cx="139.6" cy="556.1" r="1.2"/><circle cx="124.3" cy="556.1" r="1.2"/><circle cx="126.8" cy="556.1" r="1.2"/><circle cx="120.8" cy="556.1" r="1.2"/><circle cx="134.3" cy="556.1" r="1.2"/><circle cx="126.1" cy="556.1" r="1.2"/><circle cx="134.6" cy="556.1" r="1.2"/><circle cx="134.6" cy="556.1" r="1.2"/><circle cx="139.7" cy="556.0" r="1.2"/><circle cx="134.1" cy="556.0" r="1.2"/><circle cx="118.6" cy="556.0" r="1.2"/><circle cx="123.7" cy="556.0" r="1.2"/><circle cx="134.1" cy="555.9" r="1.2"/><circle cx="128.2" cy="555.9" r="1.2"/><circle cx="132.4" cy="555.9" r="1.2"/><circle cx="150.0" cy="555.9" r="1.2"/><circle cx="142.5" cy="555.8" r="1.2"/><circle cx="121.7" cy="555.8" r="1.2"/><circle cx="138.8" cy="555.8" r="1.2"/><circle cx="139.2" cy="555.8" r="1.2"/><circle cx="137.2" cy="555.8" r="1.2"/><circle cx="142.5" cy="555.8" r="1.2"/><circle cx="145.4" cy="555.7" r="1.2"/><circle cx="138.9" cy="555.7" r="1.2"/><circle cx="113.0" cy="555.7" r="1.2"/><circle cx="113.3" cy="555.6" r="1.2"/><circle cx="144.9" cy="555.6" r="1.2"/><circle cx="147.4" cy="555.6" r="1.2"/><circle cx="132.1" cy="555.5" r="1.2"/><circle cx="148.9" cy="555.5" r="1.2"/><circle cx="144.8" cy="555.5" r="1.2"/><circle cx="155.9" cy="555.4" r="1.2"/><circle cx="148.7" cy="555.4" r="1.2"/><circle cx="123.8" cy="555.4" r="1.2"/><circle cx="136.2" cy="555.4" r="1.2"/><circle cx="120.1" cy="555.4" r="1.2"/><circle cx="117.0" cy="555.3" r="1.2"/><circle cx="127.3" cy="555.2" r="1.2"/><circle cx="140.3" cy="555.2" r="1.2"/><circle cx="129.5" cy="555.1" r="1.2"/><circle cx="139.8" cy="555.1" r="1.2"/><circle cx="127.1" cy="555.1" r="1.2"/><circle cx="133.0" cy="555.1" r="1.2"/><circle cx="151.4" cy="555.1" r="1.2"/><circle cx="142.8" cy="555.1" r="1.2"/><circle cx="129.9" cy="555.0" r="1.2"/><circle cx="118.4" cy="555.0" r="1.2"/><circle cx="145.7" cy="555.0" r="1.2"/><circle cx="129.4" cy="555.0" r="1.2"/><circle cx="131.1" cy="554.9" r="1.2"/><circle cx="139.6" cy="554.9" r="1.2"/><circle cx="145.2" cy="554.9" r="1.2"/><circle cx="131.7" cy="554.9" r="1.2"/><circle cx="138.6" cy="554.9" r="1.2"/><circle cx="131.8" cy="554.8" r="1.2"/><circle cx="127.4" cy="554.8" r="1.2"/><circle cx="145.8" cy="554.8" r="1.3"/><circle cx="110.8" cy="554.8" r="1.3"/><circle cx="134.3" cy="554.7" r="1.3"/><circle cx="142.6" cy="554.6" r="1.3"/><circle cx="116.3" cy="554.6" r="1.3"/><circle cx="153.6" cy="554.6" r="1.3"/><circle cx="147.1" cy="554.6" r="1.3"/><circle cx="147.8" cy="554.5" r="1.3"/><circle cx="147.2" cy="554.5" r="1.3"/><circle cx="147.6" cy="554.5" r="1.3"/><circle cx="137.9" cy="554.5" r="1.3"/><circle cx="144.5" cy="554.4" r="1.3"/><circle cx="131.8" cy="554.4" r="1.3"/><circle cx="119.3" cy="554.2" r="1.3"/><circle cx="126.0" cy="554.2" r="1.3"/><circle cx="147.5" cy="554.2" r="1.3"/><circle cx="116.0" cy="554.2" r="1.3"/><circle cx="123.4" cy="554.2" r="1.3"/><circle cx="146.5" cy="554.1" r="1.3"/><circle cx="130.9" cy="554.1" r="1.3"/><circle cx="134.8" cy="554.0" r="1.3"/><circle cx="133.0" cy="553.9" r="1.3"/><circle cx="127.6" cy="553.9" r="1.3"/><circle cx="145.0" cy="553.9" r="1.3"/><circle cx="134.4" cy="553.8" r="1.3"/><circle cx="125.0" cy="553.8" r="1.3"/><circle cx="126.5" cy="553.8" r="1.3"/><circle cx="144.9" cy="553.8" r="1.3"/><circle cx="147.9" cy="553.7" r="1.3"/><circle cx="129.4" cy="553.7" r="1.3"/><circle cx="141.4" cy="553.7" r="1.3"/><circle cx="145.6" cy="553.6" r="1.3"/><circle cx="137.3" cy="553.6" r="1.3"/><circle cx="150.4" cy="553.6" r="1.3"/><circle cx="138.4" cy="553.5" r="1.3"/><circle cx="128.2" cy="553.5" r="1.3"/><circle cx="128.7" cy="553.5" r="1.3"/><circle cx="123.3" cy="553.5" r="1.3"/><circle cx="135.4" cy="553.5" r="1.3"/><circle cx="150.3" cy="553.5" r="1.3"/><circle cx="124.7" cy="553.4" r="1.3"/><circle cx="125.5" cy="553.4" r="1.3"/><circle cx="134.7" cy="553.4" r="1.3"/><circle cx="134.4" cy="553.4" r="1.3"/><circle cx="130.3" cy="553.4" r="1.3"/><circle cx="134.0" cy="553.3" r="1.3"/><circle cx="126.7" cy="553.3" r="1.3"/><circle cx="122.0" cy="553.3" r="1.3"/><circle cx="149.2" cy="553.3" r="1.3"/><circle cx="124.3" cy="553.3" r="1.3"/><circle cx="121.4" cy="553.3" r="1.3"/><circle cx="150.6" cy="553.3" r="1.3"/><circle cx="146.4" cy="553.3" r="1.3"/><circle cx="135.7" cy="553.2" r="1.3"/><circle cx="147.7" cy="553.2" r="1.3"/><circle cx="150.1" cy="553.1" r="1.3"/><circle cx="142.0" cy="553.1" r="1.3"/><circle cx="139.0" cy="553.1" r="1.3"/><circle cx="143.6" cy="553.1" r="1.3"/><circle cx="143.6" cy="553.0" r="1.3"/><circle cx="131.6" cy="553.0" r="1.3"/><circle cx="140.1" cy="553.0" r="1.3"/><circle cx="118.6" cy="553.0" r="1.3"/><circle cx="138.1" cy="553.0" r="1.3"/><circle cx="131.7" cy="552.9" r="1.3"/><circle cx="149.6" cy="552.9" r="1.3"/><circle cx="138.8" cy="552.9" r="1.3"/><circle cx="124.2" cy="552.9" r="1.3"/><circle cx="152.6" cy="552.9" r="1.3"/><circle cx="131.6" cy="552.9" r="1.3"/><circle cx="115.5" cy="552.8" r="1.3"/><circle cx="133.6" cy="552.8" r="1.3"/><circle cx="141.6" cy="552.8" r="1.3"/><circle cx="142.9" cy="552.8" r="1.3"/><circle cx="145.5" cy="552.8" r="1.3"/><circle cx="117.8" cy="552.7" r="1.3"/><circle cx="137.1" cy="552.7" r="1.3"/><circle cx="144.3" cy="552.7" r="1.3"/><circle cx="134.7" cy="552.7" r="1.3"/><circle cx="150.4" cy="552.6" r="1.3"/><circle cx="121.5" cy="552.6" r="1.3"/><circle cx="155.4" cy="552.5" r="1.3"/><circle cx="133.7" cy="552.5" r="1.3"/><circle cx="142.4" cy="552.5" r="1.3"/><circle cx="138.9" cy="552.5" r="1.3"/><circle cx="121.3" cy="552.5" r="1.3"/><circle cx="140.5" cy="552.4" r="1.3"/><circle cx="142.6" cy="552.4" r="1.3"/><circle cx="142.9" cy="552.4" r="1.3"/><circle cx="104.7" cy="552.4" r="1.3"/><circle cx="108.5" cy="552.3" r="1.3"/><circle cx="127.9" cy="552.2" r="1.3"/><circle cx="123.1" cy="552.2" r="1.3"/><circle cx="126.8" cy="552.2" r="1.3"/><circle cx="129.9" cy="552.2" r="1.3"/><circle cx="131.7" cy="552.1" r="1.3"/><circle cx="123.5" cy="552.1" r="1.3"/><circle cx="158.3" cy="552.1" r="1.3"/><circle cx="131.2" cy="552.1" r="1.3"/><circle cx="137.0" cy="552.1" r="1.3"/><circle cx="142.4" cy="552.1" r="1.3"/><circle cx="151.2" cy="552.0" r="1.3"/><circle cx="127.1" cy="552.0" r="1.3"/><circle cx="117.6" cy="552.0" r="1.3"/><circle cx="124.3" cy="552.0" r="1.3"/><circle cx="148.5" cy="552.0" r="1.3"/><circle cx="132.7" cy="551.9" r="1.3"/><circle cx="135.2" cy="551.9" r="1.3"/><circle cx="126.7" cy="551.9" r="1.3"/><circle cx="107.8" cy="551.9" r="1.3"/><circle cx="134.1" cy="551.8" r="1.3"/><circle cx="143.4" cy="551.8" r="1.3"/><circle cx="139.4" cy="551.8" r="1.3"/><circle cx="149.3" cy="551.8" r="1.3"/><circle cx="118.4" cy="551.8" r="1.3"/><circle cx="141.1" cy="551.7" r="1.3"/><circle cx="133.4" cy="551.7" r="1.3"/><circle cx="126.8" cy="551.7" r="1.3"/><circle cx="125.4" cy="551.7" r="1.3"/><circle cx="125.1" cy="551.6" r="1.3"/><circle cx="146.0" cy="551.6" r="1.3"/><circle cx="122.4" cy="551.6" r="1.3"/><circle cx="149.9" cy="551.6" r="1.3"/><circle cx="161.8" cy="551.6" r="1.3"/><circle cx="158.3" cy="551.6" r="1.3"/><circle cx="120.8" cy="551.4" r="1.3"/><circle cx="127.5" cy="551.4" r="1.3"/><circle cx="134.5" cy="551.4" r="1.3"/><circle cx="134.9" cy="551.3" r="1.3"/><circle cx="121.8" cy="551.3" r="1.3"/><circle cx="133.5" cy="551.3" r="1.3"/><circle cx="126.0" cy="551.3" r="1.3"/><circle cx="148.1" cy="551.3" r="1.3"/><circle cx="125.2" cy="551.3" r="1.3"/><circle cx="135.8" cy="551.3" r="1.3"/><circle cx="149.8" cy="551.2" r="1.3"/><circle cx="157.9" cy="551.2" r="1.3"/><circle cx="144.1" cy="551.2" r="1.3"/><circle cx="126.6" cy="551.2" r="1.3"/><circle cx="135.0" cy="551.2" r="1.3"/><circle cx="130.7" cy="551.2" r="1.3"/><circle cx="146.2" cy="551.1" r="1.3"/><circle cx="139.9" cy="551.1" r="1.3"/><circle cx="131.9" cy="551.1" r="1.3"/><circle cx="152.6" cy="551.0" r="1.3"/><circle cx="135.9" cy="550.9" r="1.3"/><circle cx="139.6" cy="550.9" r="1.3"/><circle cx="128.2" cy="550.9" r="1.3"/><circle cx="146.0" cy="550.9" r="1.3"/><circle cx="140.4" cy="550.9" r="1.3"/><circle cx="139.2" cy="550.8" r="1.3"/><circle cx="125.4" cy="550.8" r="1.3"/><circle cx="150.0" cy="550.8" r="1.3"/><circle cx="158.9" cy="550.8" r="1.3"/><circle cx="147.4" cy="550.8" r="1.3"/><circle cx="123.9" cy="550.7" r="1.3"/><circle cx="126.9" cy="550.7" r="1.3"/><circle cx="133.4" cy="550.7" r="1.3"/><circle cx="111.8" cy="550.6" r="1.3"/><circle cx="151.5" cy="550.6" r="1.3"/><circle cx="128.9" cy="550.6" r="1.3"/><circle cx="144.9" cy="550.6" r="1.3"/><circle cx="137.1" cy="550.6" r="1.3"/><circle cx="124.8" cy="550.5" r="1.3"/><circle cx="127.2" cy="550.5" r="1.3"/><circle cx="129.6" cy="550.5" r="1.3"/><circle cx="147.1" cy="550.5" r="1.3"/><circle cx="136.7" cy="550.5" r="1.3"/><circle cx="140.8" cy="550.5" r="1.3"/><circle cx="127.8" cy="550.5" r="1.3"/><circle cx="131.1" cy="550.4" r="1.3"/><circle cx="123.4" cy="550.4" r="1.3"/><circle cx="154.7" cy="550.4" r="1.3"/><circle cx="139.8" cy="550.4" r="1.3"/><circle cx="116.4" cy="550.3" r="1.3"/><circle cx="131.0" cy="550.3" r="1.3"/><circle cx="146.7" cy="550.3" r="1.3"/><circle cx="119.4" cy="550.3" r="1.3"/><circle cx="138.2" cy="550.3" r="1.3"/><circle cx="140.9" cy="550.2" r="1.3"/><circle cx="129.5" cy="550.2" r="1.3"/><circle cx="134.5" cy="550.2" r="1.3"/><circle cx="132.6" cy="550.1" r="1.3"/><circle cx="135.3" cy="550.0" r="1.3"/><circle cx="127.7" cy="550.0" r="1.3"/><circle cx="147.2" cy="550.0" r="1.3"/><circle cx="130.4" cy="549.9" r="1.3"/><circle cx="141.5" cy="549.9" r="1.3"/><circle cx="157.7" cy="549.9" r="1.3"/><circle cx="153.5" cy="549.9" r="1.3"/><circle cx="125.3" cy="549.9" r="1.3"/><circle cx="138.9" cy="549.8" r="1.3"/><circle cx="148.9" cy="549.8" r="1.3"/><circle cx="142.5" cy="549.8" r="1.3"/><circle cx="118.1" cy="549.8" r="1.3"/><circle cx="135.2" cy="549.8" r="1.3"/><circle cx="133.9" cy="549.8" r="1.3"/><circle cx="147.5" cy="549.8" r="1.3"/><circle cx="117.7" cy="549.8" r="1.3"/><circle cx="132.8" cy="549.7" r="1.3"/><circle cx="141.4" cy="549.7" r="1.3"/><circle cx="135.9" cy="549.7" r="1.3"/><circle cx="148.1" cy="549.7" r="1.3"/><circle cx="134.0" cy="549.7" r="1.3"/><circle cx="132.3" cy="549.6" r="1.3"/><circle cx="123.7" cy="549.6" r="1.3"/><circle cx="126.9" cy="549.6" r="1.3"/><circle cx="126.8" cy="549.6" r="1.3"/><circle cx="106.8" cy="549.5" r="1.3"/><circle cx="147.0" cy="549.5" r="1.3"/><circle cx="147.3" cy="549.5" r="1.3"/><circle cx="150.7" cy="549.5" r="1.3"/><circle cx="143.0" cy="549.5" r="1.3"/><circle cx="142.1" cy="549.4" r="1.3"/><circle cx="129.3" cy="549.4" r="1.3"/><circle cx="114.3" cy="549.4" r="1.3"/><circle cx="153.8" cy="549.4" r="1.3"/><circle cx="128.8" cy="549.4" r="1.3"/><circle cx="116.1" cy="549.4" r="1.3"/><circle cx="139.1" cy="549.3" r="1.3"/><circle cx="137.6" cy="549.3" r="1.3"/><circle cx="135.8" cy="549.3" r="1.3"/><circle cx="121.9" cy="549.3" r="1.3"/><circle cx="129.0" cy="549.3" r="1.3"/><circle cx="145.4" cy="549.3" r="1.3"/><circle cx="146.9" cy="549.2" r="1.3"/><circle cx="120.4" cy="549.2" r="1.3"/><circle cx="124.3" cy="549.2" r="1.3"/><circle cx="131.4" cy="549.1" r="1.3"/><circle cx="152.9" cy="549.1" r="1.3"/><circle cx="127.3" cy="549.1" r="1.3"/><circle cx="135.9" cy="549.1" r="1.3"/><circle cx="138.7" cy="549.1" r="1.3"/><circle cx="138.2" cy="549.1" r="1.3"/><circle cx="132.5" cy="549.0" r="1.3"/><circle cx="140.8" cy="549.0" r="1.3"/><circle cx="141.4" cy="549.0" r="1.3"/><circle cx="148.7" cy="548.9" r="1.3"/><circle cx="117.2" cy="548.9" r="1.3"/><circle cx="129.0" cy="548.9" r="1.3"/><circle cx="124.3" cy="548.8" r="1.3"/><circle cx="111.5" cy="548.8" r="1.3"/><circle cx="141.1" cy="548.7" r="1.3"/><circle cx="132.3" cy="548.7" r="1.3"/><circle cx="135.9" cy="548.7" r="1.3"/><circle cx="142.2" cy="548.7" r="1.3"/><circle cx="145.8" cy="548.7" r="1.3"/><circle cx="116.5" cy="548.7" r="1.3"/><circle cx="125.3" cy="548.6" r="1.3"/><circle cx="125.3" cy="548.6" r="1.3"/><circle cx="129.8" cy="548.6" r="1.3"/><circle cx="133.0" cy="548.5" r="1.3"/><circle cx="140.1" cy="548.5" r="1.3"/><circle cx="137.0" cy="548.5" r="1.3"/><circle cx="135.0" cy="548.4" r="1.3"/><circle cx="133.0" cy="548.4" r="1.3"/><circle cx="133.4" cy="548.3" r="1.3"/><circle cx="134.8" cy="548.3" r="1.3"/><circle cx="136.8" cy="548.3" r="1.3"/><circle cx="116.6" cy="548.2" r="1.3"/><circle cx="134.1" cy="548.2" r="1.3"/><circle cx="148.3" cy="548.1" r="1.3"/><circle cx="153.5" cy="548.1" r="1.3"/><circle cx="136.9" cy="548.1" r="1.3"/><circle cx="131.0" cy="548.1" r="1.3"/><circle cx="133.3" cy="548.1" r="1.3"/><circle cx="130.7" cy="548.0" r="1.3"/><circle cx="151.5" cy="548.0" r="1.3"/><circle cx="134.2" cy="547.9" r="1.3"/><circle cx="121.6" cy="547.9" r="1.3"/><circle cx="134.1" cy="547.9" r="1.3"/><circle cx="142.8" cy="547.9" r="1.3"/><circle cx="138.1" cy="547.9" r="1.3"/><circle cx="144.4" cy="547.9" r="1.3"/><circle cx="118.8" cy="547.9" r="1.3"/><circle cx="142.0" cy="547.9" r="1.3"/><circle cx="136.5" cy="547.9" r="1.3"/><circle cx="130.1" cy="547.8" r="1.3"/><circle cx="151.5" cy="547.7" r="1.3"/><circle cx="127.0" cy="547.7" r="1.3"/><circle cx="163.0" cy="547.6" r="1.3"/><circle cx="123.1" cy="547.6" r="1.3"/><circle cx="121.0" cy="547.6" r="1.3"/><circle cx="132.5" cy="547.6" r="1.3"/><circle cx="142.2" cy="547.6" r="1.3"/><circle cx="146.7" cy="547.5" r="1.3"/><circle cx="123.5" cy="547.5" r="1.3"/><circle cx="123.0" cy="547.5" r="1.3"/><circle cx="151.5" cy="547.4" r="1.3"/><circle cx="145.8" cy="547.4" r="1.3"/><circle cx="129.8" cy="547.4" r="1.3"/><circle cx="137.2" cy="547.3" r="1.3"/><circle cx="137.8" cy="547.3" r="1.3"/><circle cx="139.4" cy="547.3" r="1.3"/><circle cx="135.2" cy="547.3" r="1.3"/><circle cx="138.4" cy="547.3" r="1.3"/><circle cx="147.7" cy="547.2" r="1.3"/><circle cx="132.8" cy="547.2" r="1.3"/><circle cx="130.9" cy="547.1" r="1.3"/><circle cx="128.7" cy="547.1" r="1.3"/><circle cx="125.3" cy="547.1" r="1.3"/><circle cx="157.2" cy="547.0" r="1.3"/><circle cx="130.3" cy="547.0" r="1.3"/><circle cx="135.7" cy="546.9" r="1.3"/><circle cx="133.1" cy="546.9" r="1.3"/><circle cx="135.9" cy="546.9" r="1.3"/><circle cx="131.5" cy="546.9" r="1.3"/><circle cx="144.3" cy="546.9" r="1.3"/><circle cx="131.6" cy="546.8" r="1.3"/><circle cx="144.5" cy="546.8" r="1.3"/><circle cx="152.2" cy="546.8" r="1.3"/><circle cx="124.3" cy="546.8" r="1.3"/><circle cx="131.0" cy="546.8" r="1.3"/><circle cx="124.7" cy="546.8" r="1.3"/><circle cx="124.6" cy="546.8" r="1.3"/><circle cx="130.1" cy="546.6" r="1.3"/><circle cx="155.9" cy="546.6" r="1.3"/><circle cx="139.5" cy="546.6" r="1.3"/><circle cx="146.0" cy="546.5" r="1.3"/><circle cx="134.1" cy="546.5" r="1.3"/><circle cx="136.7" cy="546.5" r="1.3"/><circle cx="124.4" cy="546.4" r="1.3"/><circle cx="137.8" cy="546.4" r="1.3"/><circle cx="158.4" cy="546.3" r="1.3"/><circle cx="129.8" cy="546.3" r="1.3"/><circle cx="128.1" cy="546.3" r="1.3"/><circle cx="139.9" cy="546.2" r="1.3"/><circle cx="124.9" cy="546.2" r="1.3"/><circle cx="142.6" cy="546.2" r="1.3"/><circle cx="100.0" cy="546.2" r="1.3"/><circle cx="129.9" cy="546.1" r="1.3"/><circle cx="142.6" cy="546.1" r="1.3"/><circle cx="124.5" cy="546.1" r="1.3"/><circle cx="127.2" cy="546.0" r="1.3"/><circle cx="131.1" cy="546.0" r="1.3"/><circle cx="137.6" cy="546.0" r="1.3"/><circle cx="134.8" cy="546.0" r="1.3"/><circle cx="125.9" cy="545.9" r="1.3"/><circle cx="153.3" cy="545.9" r="1.3"/><circle cx="137.1" cy="545.9" r="1.3"/><circle cx="119.7" cy="545.9" r="1.3"/><circle cx="144.6" cy="545.9" r="1.3"/><circle cx="108.3" cy="545.9" r="1.3"/><circle cx="132.4" cy="545.8" r="1.3"/><circle cx="136.3" cy="545.8" r="1.3"/><circle cx="150.8" cy="545.8" r="1.3"/><circle cx="126.8" cy="545.7" r="1.3"/><circle cx="137.2" cy="545.7" r="1.3"/><circle cx="129.8" cy="545.7" r="1.3"/><circle cx="127.6" cy="545.7" r="1.3"/><circle cx="125.7" cy="545.7" r="1.3"/><circle cx="144.2" cy="545.6" r="1.3"/><circle cx="143.0" cy="545.6" r="1.3"/><circle cx="146.5" cy="545.6" r="1.3"/><circle cx="134.8" cy="545.6" r="1.3"/><circle cx="127.6" cy="545.6" r="1.3"/><circle cx="142.5" cy="545.6" r="1.3"/><circle cx="142.4" cy="545.6" r="1.3"/><circle cx="150.6" cy="545.5" r="1.3"/><circle cx="121.8" cy="545.5" r="1.3"/><circle cx="139.5" cy="545.4" r="1.3"/><circle cx="128.5" cy="545.4" r="1.3"/><circle cx="138.9" cy="545.4" r="1.3"/><circle cx="131.6" cy="545.4" r="1.3"/><circle cx="124.8" cy="545.4" r="1.3"/><circle cx="138.1" cy="545.3" r="1.3"/><circle cx="131.4" cy="545.3" r="1.3"/><circle cx="140.5" cy="545.3" r="1.3"/><circle cx="142.5" cy="545.3" r="1.3"/><circle cx="116.8" cy="545.2" r="1.3"/><circle cx="137.2" cy="545.2" r="1.3"/><circle cx="138.7" cy="545.2" r="1.3"/><circle cx="137.4" cy="545.2" r="1.3"/><circle cx="120.7" cy="545.2" r="1.3"/><circle cx="137.2" cy="545.2" r="1.3"/><circle cx="133.2" cy="545.1" r="1.3"/><circle cx="119.4" cy="545.1" r="1.3"/><circle cx="133.7" cy="545.1" r="1.3"/><circle cx="138.4" cy="545.1" r="1.3"/><circle cx="129.6" cy="545.1" r="1.3"/><circle cx="135.9" cy="545.1" r="1.3"/><circle cx="132.9" cy="545.0" r="1.3"/><circle cx="141.5" cy="545.0" r="1.3"/><circle cx="146.4" cy="545.0" r="1.3"/><circle cx="134.6" cy="544.9" r="1.3"/><circle cx="136.4" cy="544.9" r="1.3"/><circle cx="130.1" cy="544.9" r="1.3"/><circle cx="125.9" cy="544.9" r="1.3"/><circle cx="124.4" cy="544.8" r="1.3"/><circle cx="134.6" cy="544.8" r="1.3"/><circle cx="146.1" cy="544.8" r="1.3"/><circle cx="142.7" cy="544.8" r="1.3"/><circle cx="134.3" cy="544.8" r="1.3"/><circle cx="132.0" cy="544.8" r="1.3"/><circle cx="131.9" cy="544.8" r="1.3"/><circle cx="125.9" cy="544.7" r="1.3"/><circle cx="146.4" cy="544.7" r="1.3"/><circle cx="151.6" cy="544.7" r="1.3"/><circle cx="134.9" cy="544.7" r="1.3"/><circle cx="144.0" cy="544.7" r="1.3"/><circle cx="136.3" cy="544.6" r="1.3"/><circle cx="132.2" cy="544.5" r="1.3"/><circle cx="134.0" cy="544.4" r="1.3"/><circle cx="123.5" cy="544.4" r="1.3"/><circle cx="146.8" cy="544.4" r="1.3"/><circle cx="137.3" cy="544.4" r="1.3"/><circle cx="148.3" cy="544.3" r="1.3"/><circle cx="131.6" cy="544.3" r="1.3"/><circle cx="146.3" cy="544.3" r="1.3"/><circle cx="131.5" cy="544.3" r="1.3"/><circle cx="131.5" cy="544.3" r="1.3"/><circle cx="137.0" cy="544.3" r="1.3"/><circle cx="149.0" cy="544.2" r="1.3"/><circle cx="136.1" cy="544.2" r="1.3"/><circle cx="137.3" cy="544.2" r="1.3"/><circle cx="126.2" cy="544.2" r="1.3"/><circle cx="153.3" cy="544.2" r="1.3"/><circle cx="140.7" cy="544.2" r="1.3"/><circle cx="133.5" cy="544.1" r="1.3"/><circle cx="150.6" cy="544.1" r="1.3"/><circle cx="137.5" cy="544.1" r="1.3"/><circle cx="145.6" cy="544.1" r="1.3"/><circle cx="136.3" cy="544.1" r="1.3"/><circle cx="130.0" cy="544.0" r="1.3"/><circle cx="147.8" cy="544.0" r="1.3"/><circle cx="127.2" cy="544.0" r="1.3"/><circle cx="132.3" cy="544.0" r="1.3"/><circle cx="134.1" cy="544.0" r="1.3"/><circle cx="121.8" cy="543.9" r="1.3"/><circle cx="124.7" cy="543.9" r="1.3"/><circle cx="154.7" cy="543.9" r="1.3"/><circle cx="143.1" cy="543.9" r="1.3"/><circle cx="129.9" cy="543.8" r="1.3"/><circle cx="138.3" cy="543.8" r="1.3"/><circle cx="162.4" cy="543.8" r="1.3"/><circle cx="156.1" cy="543.7" r="1.3"/><circle cx="148.1" cy="543.7" r="1.3"/><circle cx="137.3" cy="543.7" r="1.3"/><circle cx="126.8" cy="543.7" r="1.3"/><circle cx="139.2" cy="543.7" r="1.3"/><circle cx="145.1" cy="543.7" r="1.3"/><circle cx="144.7" cy="543.5" r="1.3"/><circle cx="138.0" cy="543.5" r="1.3"/><circle cx="113.6" cy="543.5" r="1.3"/><circle cx="130.5" cy="543.5" r="1.3"/><circle cx="125.1" cy="543.5" r="1.3"/><circle cx="140.7" cy="543.4" r="1.3"/><circle cx="139.6" cy="543.4" r="1.3"/><circle cx="141.2" cy="543.4" r="1.3"/><circle cx="142.9" cy="543.4" r="1.3"/><circle cx="133.1" cy="543.3" r="1.3"/><circle cx="123.5" cy="543.3" r="1.3"/><circle cx="137.4" cy="543.3" r="1.3"/><circle cx="137.9" cy="543.3" r="1.3"/><circle cx="125.7" cy="543.3" r="1.3"/><circle cx="124.1" cy="543.3" r="1.3"/><circle cx="131.6" cy="543.3" r="1.3"/><circle cx="147.6" cy="543.2" r="1.3"/><circle cx="125.5" cy="543.2" r="1.3"/><circle cx="130.4" cy="543.2" r="1.3"/><circle cx="136.4" cy="543.2" r="1.3"/><circle cx="123.3" cy="543.2" r="1.3"/><circle cx="142.7" cy="543.2" r="1.3"/><circle cx="138.4" cy="543.1" r="1.3"/><circle cx="130.3" cy="543.0" r="1.3"/><circle cx="155.0" cy="543.0" r="1.3"/><circle cx="135.9" cy="543.0" r="1.3"/><circle cx="128.8" cy="543.0" r="1.3"/><circle cx="132.6" cy="542.9" r="1.3"/><circle cx="165.7" cy="542.9" r="1.3"/><circle cx="133.4" cy="542.8" r="1.3"/><circle cx="138.8" cy="542.7" r="1.3"/><circle cx="132.8" cy="542.7" r="1.3"/><circle cx="150.4" cy="542.7" r="1.3"/><circle cx="130.2" cy="542.7" r="1.3"/><circle cx="143.8" cy="542.7" r="1.3"/><circle cx="140.8" cy="542.6" r="1.3"/><circle cx="124.9" cy="542.6" r="1.3"/><circle cx="117.3" cy="542.6" r="1.3"/><circle cx="142.1" cy="542.6" r="1.3"/><circle cx="138.1" cy="542.6" r="1.3"/><circle cx="121.5" cy="542.5" r="1.3"/><circle cx="133.2" cy="542.5" r="1.3"/><circle cx="158.0" cy="542.5" r="1.3"/><circle cx="138.3" cy="542.4" r="1.3"/><circle cx="134.6" cy="542.4" r="1.3"/><circle cx="130.9" cy="542.4" r="1.3"/><circle cx="135.0" cy="542.4" r="1.3"/><circle cx="120.0" cy="542.3" r="1.3"/><circle cx="141.6" cy="542.3" r="1.3"/><circle cx="129.6" cy="542.3" r="1.3"/><circle cx="155.7" cy="542.2" r="1.3"/><circle cx="144.1" cy="542.1" r="1.3"/><circle cx="140.2" cy="542.1" r="1.3"/><circle cx="124.1" cy="542.0" r="1.3"/><circle cx="132.9" cy="542.0" r="1.3"/><circle cx="134.1" cy="542.0" r="1.3"/><circle cx="123.8" cy="542.0" r="1.3"/><circle cx="142.4" cy="542.0" r="1.3"/><circle cx="128.9" cy="542.0" r="1.3"/><circle cx="133.2" cy="541.9" r="1.3"/><circle cx="130.2" cy="541.9" r="1.3"/><circle cx="153.4" cy="541.9" r="1.3"/><circle cx="144.5" cy="541.9" r="1.3"/><circle cx="126.9" cy="541.9" r="1.3"/><circle cx="120.9" cy="541.8" r="1.3"/><circle cx="139.6" cy="541.8" r="1.4"/><circle cx="128.8" cy="541.8" r="1.4"/><circle cx="137.2" cy="541.7" r="1.4"/><circle cx="150.8" cy="541.5" r="1.4"/><circle cx="122.1" cy="541.5" r="1.4"/><circle cx="151.5" cy="541.5" r="1.4"/><circle cx="153.3" cy="541.4" r="1.4"/><circle cx="135.0" cy="541.4" r="1.4"/><circle cx="133.6" cy="541.4" r="1.4"/><circle cx="135.2" cy="541.4" r="1.4"/><circle cx="145.8" cy="541.3" r="1.4"/><circle cx="134.6" cy="541.3" r="1.4"/><circle cx="155.5" cy="541.3" r="1.4"/><circle cx="117.5" cy="541.3" r="1.4"/><circle cx="121.8" cy="541.2" r="1.4"/><circle cx="122.9" cy="541.2" r="1.4"/><circle cx="139.5" cy="541.2" r="1.4"/><circle cx="134.8" cy="541.2" r="1.4"/><circle cx="128.8" cy="541.2" r="1.4"/><circle cx="131.1" cy="541.2" r="1.4"/><circle cx="138.8" cy="541.2" r="1.4"/><circle cx="133.7" cy="541.2" r="1.4"/><circle cx="146.1" cy="541.1" r="1.4"/><circle cx="133.9" cy="541.1" r="1.4"/><circle cx="131.4" cy="541.0" r="1.4"/><circle cx="129.5" cy="540.9" r="1.4"/><circle cx="126.9" cy="540.9" r="1.4"/><circle cx="126.5" cy="540.9" r="1.4"/><circle cx="124.1" cy="540.9" r="1.4"/><circle cx="132.4" cy="540.8" r="1.4"/><circle cx="118.4" cy="540.8" r="1.4"/><circle cx="142.0" cy="540.8" r="1.4"/><circle cx="144.0" cy="540.8" r="1.4"/><circle cx="128.5" cy="540.7" r="1.4"/><circle cx="122.8" cy="540.6" r="1.4"/><circle cx="126.2" cy="540.6" r="1.4"/><circle cx="125.8" cy="540.6" r="1.4"/><circle cx="130.0" cy="540.6" r="1.4"/><circle cx="141.0" cy="540.6" r="1.4"/><circle cx="123.0" cy="540.6" r="1.4"/><circle cx="131.0" cy="540.5" r="1.4"/><circle cx="131.6" cy="540.5" r="1.4"/><circle cx="135.2" cy="540.4" r="1.4"/><circle cx="127.6" cy="540.3" r="1.4"/><circle cx="125.9" cy="540.2" r="1.4"/><circle cx="145.1" cy="540.1" r="1.4"/><circle cx="150.5" cy="540.1" r="1.4"/><circle cx="148.4" cy="540.0" r="1.4"/><circle cx="146.5" cy="540.0" r="1.4"/><circle cx="142.0" cy="540.0" r="1.4"/><circle cx="142.0" cy="539.9" r="1.4"/><circle cx="145.5" cy="539.9" r="1.4"/><circle cx="137.1" cy="539.9" r="1.4"/><circle cx="130.0" cy="539.9" r="1.4"/><circle cx="139.5" cy="539.9" r="1.4"/><circle cx="130.3" cy="539.9" r="1.4"/><circle cx="146.0" cy="539.8" r="1.4"/><circle cx="147.0" cy="539.8" r="1.4"/><circle cx="126.3" cy="539.7" r="1.4"/><circle cx="107.6" cy="539.7" r="1.4"/><circle cx="139.5" cy="539.7" r="1.4"/><circle cx="122.4" cy="539.7" r="1.4"/><circle cx="136.1" cy="539.6" r="1.4"/><circle cx="134.6" cy="539.6" r="1.4"/><circle cx="134.1" cy="539.5" r="1.4"/><circle cx="152.5" cy="539.5" r="1.4"/><circle cx="136.4" cy="539.5" r="1.4"/><circle cx="135.4" cy="539.4" r="1.4"/><circle cx="148.5" cy="539.4" r="1.4"/><circle cx="137.5" cy="539.4" r="1.4"/><circle cx="130.8" cy="539.4" r="1.4"/><circle cx="129.4" cy="539.4" r="1.4"/><circle cx="144.9" cy="539.4" r="1.4"/><circle cx="132.9" cy="539.4" r="1.4"/><circle cx="140.3" cy="539.3" r="1.4"/><circle cx="139.0" cy="539.2" r="1.4"/><circle cx="136.2" cy="539.2" r="1.4"/><circle cx="119.7" cy="539.2" r="1.4"/><circle cx="128.7" cy="539.1" r="1.4"/><circle cx="146.9" cy="539.1" r="1.4"/><circle cx="129.6" cy="539.0" r="1.4"/><circle cx="117.6" cy="538.9" r="1.4"/><circle cx="141.0" cy="538.9" r="1.4"/><circle cx="127.2" cy="538.9" r="1.4"/><circle cx="130.5" cy="538.8" r="1.4"/><circle cx="121.1" cy="538.8" r="1.4"/><circle cx="136.2" cy="538.7" r="1.4"/><circle cx="145.9" cy="538.7" r="1.4"/><circle cx="149.9" cy="538.6" r="1.4"/><circle cx="137.1" cy="538.6" r="1.4"/><circle cx="134.1" cy="538.6" r="1.4"/><circle cx="139.6" cy="538.6" r="1.4"/><circle cx="137.4" cy="538.5" r="1.4"/><circle cx="132.1" cy="538.5" r="1.4"/><circle cx="124.6" cy="538.5" r="1.4"/><circle cx="155.4" cy="538.4" r="1.4"/><circle cx="129.6" cy="538.3" r="1.4"/><circle cx="128.7" cy="538.3" r="1.4"/><circle cx="141.7" cy="538.3" r="1.4"/><circle cx="148.5" cy="538.1" r="1.4"/><circle cx="133.5" cy="538.0" r="1.4"/><circle cx="123.8" cy="538.0" r="1.4"/><circle cx="137.8" cy="537.9" r="1.4"/><circle cx="141.3" cy="537.9" r="1.4"/><circle cx="147.5" cy="537.8" r="1.4"/><circle cx="158.3" cy="537.8" r="1.4"/><circle cx="135.0" cy="537.7" r="1.4"/><circle cx="121.8" cy="537.7" r="1.4"/><circle cx="149.9" cy="537.7" r="1.4"/><circle cx="143.7" cy="537.7" r="1.4"/><circle cx="136.3" cy="537.7" r="1.4"/><circle cx="137.7" cy="537.7" r="1.4"/><circle cx="149.9" cy="537.7" r="1.4"/><circle cx="147.6" cy="537.6" r="1.4"/><circle cx="139.6" cy="537.6" r="1.4"/><circle cx="135.1" cy="537.5" r="1.4"/><circle cx="127.4" cy="537.5" r="1.4"/><circle cx="145.8" cy="537.5" r="1.4"/><circle cx="170.3" cy="537.5" r="1.4"/><circle cx="142.9" cy="537.4" r="1.4"/><circle cx="143.3" cy="537.4" r="1.4"/><circle cx="128.3" cy="537.4" r="1.4"/><circle cx="131.1" cy="537.3" r="1.4"/><circle cx="145.9" cy="537.3" r="1.4"/><circle cx="142.7" cy="537.3" r="1.4"/><circle cx="146.8" cy="537.3" r="1.4"/><circle cx="138.3" cy="537.2" r="1.4"/><circle cx="134.5" cy="537.1" r="1.4"/><circle cx="113.7" cy="537.1" r="1.4"/><circle cx="140.1" cy="537.1" r="1.4"/><circle cx="129.3" cy="537.1" r="1.4"/><circle cx="148.4" cy="537.1" r="1.4"/><circle cx="127.5" cy="537.0" r="1.4"/><circle cx="127.5" cy="536.9" r="1.4"/><circle cx="137.2" cy="536.8" r="1.4"/><circle cx="156.8" cy="536.8" r="1.4"/><circle cx="140.1" cy="536.8" r="1.4"/><circle cx="128.3" cy="536.8" r="1.4"/><circle cx="129.0" cy="536.8" r="1.4"/><circle cx="128.9" cy="536.6" r="1.4"/><circle cx="148.3" cy="536.6" r="1.4"/><circle cx="140.0" cy="536.6" r="1.4"/><circle cx="124.6" cy="536.6" r="1.4"/><circle cx="130.3" cy="536.6" r="1.4"/><circle cx="136.1" cy="536.5" r="1.4"/><circle cx="125.6" cy="536.5" r="1.4"/><circle cx="130.4" cy="536.5" r="1.4"/><circle cx="116.1" cy="536.5" r="1.4"/><circle cx="130.3" cy="536.5" r="1.4"/><circle cx="129.5" cy="536.4" r="1.4"/><circle cx="132.7" cy="536.4" r="1.4"/><circle cx="144.3" cy="536.4" r="1.4"/><circle cx="134.4" cy="536.4" r="1.4"/><circle cx="125.6" cy="536.4" r="1.4"/><circle cx="149.4" cy="536.3" r="1.4"/><circle cx="136.9" cy="536.3" r="1.4"/><circle cx="146.2" cy="536.2" r="1.4"/><circle cx="130.1" cy="536.2" r="1.4"/><circle cx="151.6" cy="536.2" r="1.4"/><circle cx="144.2" cy="536.2" r="1.4"/><circle cx="151.5" cy="536.2" r="1.4"/><circle cx="132.3" cy="536.1" r="1.4"/><circle cx="121.5" cy="536.1" r="1.4"/><circle cx="138.1" cy="536.0" r="1.4"/><circle cx="139.3" cy="535.8" r="1.4"/><circle cx="130.6" cy="535.8" r="1.4"/><circle cx="135.3" cy="535.8" r="1.4"/><circle cx="133.5" cy="535.7" r="1.4"/><circle cx="137.4" cy="535.7" r="1.4"/><circle cx="129.5" cy="535.7" r="1.4"/><circle cx="121.9" cy="535.7" r="1.4"/><circle cx="137.5" cy="535.6" r="1.4"/><circle cx="144.9" cy="535.6" r="1.4"/><circle cx="139.6" cy="535.5" r="1.4"/><circle cx="125.0" cy="535.4" r="1.4"/><circle cx="114.2" cy="535.4" r="1.4"/><circle cx="145.4" cy="535.4" r="1.4"/><circle cx="131.2" cy="535.4" r="1.4"/><circle cx="143.7" cy="535.4" r="1.4"/><circle cx="123.3" cy="535.3" r="1.4"/><circle cx="136.6" cy="535.3" r="1.4"/><circle cx="133.8" cy="535.2" r="1.4"/><circle cx="120.4" cy="535.2" r="1.4"/><circle cx="132.6" cy="535.2" r="1.4"/><circle cx="167.1" cy="535.2" r="1.4"/><circle cx="146.5" cy="535.2" r="1.4"/><circle cx="132.2" cy="535.1" r="1.4"/><circle cx="119.0" cy="535.1" r="1.4"/><circle cx="129.4" cy="535.0" r="1.4"/><circle cx="136.3" cy="535.0" r="1.4"/><circle cx="147.6" cy="535.0" r="1.4"/><circle cx="152.3" cy="534.9" r="1.4"/><circle cx="141.1" cy="534.9" r="1.4"/><circle cx="139.7" cy="534.9" r="1.4"/><circle cx="141.2" cy="534.9" r="1.4"/><circle cx="134.3" cy="534.9" r="1.4"/><circle cx="133.1" cy="534.8" r="1.4"/><circle cx="157.7" cy="534.8" r="1.4"/><circle cx="147.2" cy="534.8" r="1.4"/><circle cx="138.0" cy="534.7" r="1.4"/><circle cx="131.0" cy="534.7" r="1.4"/><circle cx="127.3" cy="534.7" r="1.4"/><circle cx="140.1" cy="534.7" r="1.4"/><circle cx="150.8" cy="534.6" r="1.4"/><circle cx="136.9" cy="534.5" r="1.4"/><circle cx="136.7" cy="534.5" r="1.4"/><circle cx="126.0" cy="534.5" r="1.4"/><circle cx="142.6" cy="534.5" r="1.4"/><circle cx="136.3" cy="534.5" r="1.4"/><circle cx="146.0" cy="534.2" r="1.4"/><circle cx="148.0" cy="534.1" r="1.4"/><circle cx="146.5" cy="534.1" r="1.4"/><circle cx="150.8" cy="534.1" r="1.4"/><circle cx="138.8" cy="534.0" r="1.4"/><circle cx="125.5" cy="534.0" r="1.4"/><circle cx="137.4" cy="533.9" r="1.4"/><circle cx="121.2" cy="533.9" r="1.4"/><circle cx="133.0" cy="533.9" r="1.4"/><circle cx="145.6" cy="533.7" r="1.4"/><circle cx="131.6" cy="533.7" r="1.4"/><circle cx="126.1" cy="533.7" r="1.4"/><circle cx="149.2" cy="533.7" r="1.4"/><circle cx="157.4" cy="533.6" r="1.4"/><circle cx="131.4" cy="533.6" r="1.4"/><circle cx="130.3" cy="533.6" r="1.4"/><circle cx="123.9" cy="533.6" r="1.4"/><circle cx="123.4" cy="533.6" r="1.4"/><circle cx="125.6" cy="533.5" r="1.4"/><circle cx="139.4" cy="533.5" r="1.4"/><circle cx="132.2" cy="533.5" r="1.4"/><circle cx="140.6" cy="533.4" r="1.4"/><circle cx="135.2" cy="533.4" r="1.4"/><circle cx="141.2" cy="533.4" r="1.4"/><circle cx="122.4" cy="533.3" r="1.4"/><circle cx="136.2" cy="533.3" r="1.4"/><circle cx="138.6" cy="533.2" r="1.4"/><circle cx="150.8" cy="533.1" r="1.4"/><circle cx="133.0" cy="533.1" r="1.4"/><circle cx="122.5" cy="533.1" r="1.4"/><circle cx="156.9" cy="533.1" r="1.4"/><circle cx="129.0" cy="533.0" r="1.4"/><circle cx="135.4" cy="532.9" r="1.4"/><circle cx="133.5" cy="532.9" r="1.4"/><circle cx="142.1" cy="532.9" r="1.4"/><circle cx="145.8" cy="532.9" r="1.4"/><circle cx="139.6" cy="532.9" r="1.4"/><circle cx="139.2" cy="532.8" r="1.4"/><circle cx="128.2" cy="532.8" r="1.4"/><circle cx="127.3" cy="532.8" r="1.4"/><circle cx="136.4" cy="532.8" r="1.4"/><circle cx="148.6" cy="532.8" r="1.4"/><circle cx="133.0" cy="532.7" r="1.4"/><circle cx="143.0" cy="532.6" r="1.4"/><circle cx="113.1" cy="532.6" r="1.4"/><circle cx="126.8" cy="532.5" r="1.4"/><circle cx="139.9" cy="532.5" r="1.4"/><circle cx="129.6" cy="532.5" r="1.4"/><circle cx="146.5" cy="532.5" r="1.4"/><circle cx="129.5" cy="532.4" r="1.4"/><circle cx="134.3" cy="532.4" r="1.4"/><circle cx="149.5" cy="532.4" r="1.4"/><circle cx="136.6" cy="532.4" r="1.4"/><circle cx="128.7" cy="532.3" r="1.4"/><circle cx="148.0" cy="532.3" r="1.4"/><circle cx="137.8" cy="532.3" r="1.4"/><circle cx="130.0" cy="532.3" r="1.4"/><circle cx="146.7" cy="532.2" r="1.4"/><circle cx="141.3" cy="532.2" r="1.4"/><circle cx="131.7" cy="532.2" r="1.4"/><circle cx="141.1" cy="532.2" r="1.4"/><circle cx="142.2" cy="532.2" r="1.4"/><circle cx="131.5" cy="532.1" r="1.4"/><circle cx="129.9" cy="532.1" r="1.4"/><circle cx="135.4" cy="532.0" r="1.4"/><circle cx="135.8" cy="532.0" r="1.4"/><circle cx="127.9" cy="531.9" r="1.4"/><circle cx="140.1" cy="531.9" r="1.4"/><circle cx="130.6" cy="531.9" r="1.4"/><circle cx="131.1" cy="531.9" r="1.4"/><circle cx="144.1" cy="531.9" r="1.4"/><circle cx="136.8" cy="531.8" r="1.4"/><circle cx="140.2" cy="531.8" r="1.4"/><circle cx="131.2" cy="531.8" r="1.4"/><circle cx="149.7" cy="531.8" r="1.4"/><circle cx="129.7" cy="531.7" r="1.4"/><circle cx="142.8" cy="531.7" r="1.4"/><circle cx="122.0" cy="531.5" r="1.4"/><circle cx="118.8" cy="531.4" r="1.4"/><circle cx="135.2" cy="531.4" r="1.4"/><circle cx="121.9" cy="531.4" r="1.4"/><circle cx="152.9" cy="531.4" r="1.4"/><circle cx="148.3" cy="531.4" r="1.4"/><circle cx="142.6" cy="531.4" r="1.4"/><circle cx="135.9" cy="531.4" r="1.4"/><circle cx="124.0" cy="531.3" r="1.4"/><circle cx="148.6" cy="531.3" r="1.4"/><circle cx="140.8" cy="531.3" r="1.4"/><circle cx="149.1" cy="531.2" r="1.4"/><circle cx="146.8" cy="531.2" r="1.4"/><circle cx="127.2" cy="531.1" r="1.4"/><circle cx="133.1" cy="531.1" r="1.4"/><circle cx="152.4" cy="531.1" r="1.4"/><circle cx="141.7" cy="531.0" r="1.4"/><circle cx="135.7" cy="531.0" r="1.4"/><circle cx="134.0" cy="531.0" r="1.4"/><circle cx="154.0" cy="530.9" r="1.4"/><circle cx="113.3" cy="530.9" r="1.4"/><circle cx="138.6" cy="530.9" r="1.4"/><circle cx="136.0" cy="530.8" r="1.4"/><circle cx="126.2" cy="530.8" r="1.4"/><circle cx="139.1" cy="530.8" r="1.4"/><circle cx="133.1" cy="530.8" r="1.4"/><circle cx="127.1" cy="530.8" r="1.4"/><circle cx="126.9" cy="530.7" r="1.4"/><circle cx="135.6" cy="530.7" r="1.4"/><circle cx="121.7" cy="530.7" r="1.4"/><circle cx="131.3" cy="530.7" r="1.4"/><circle cx="148.0" cy="530.6" r="1.4"/><circle cx="139.0" cy="530.5" r="1.4"/><circle cx="151.3" cy="530.4" r="1.4"/><circle cx="144.2" cy="530.4" r="1.4"/><circle cx="141.6" cy="530.4" r="1.4"/><circle cx="117.4" cy="530.4" r="1.4"/><circle cx="134.0" cy="530.4" r="1.4"/><circle cx="134.4" cy="530.3" r="1.4"/><circle cx="153.1" cy="530.3" r="1.4"/><circle cx="144.4" cy="530.3" r="1.4"/><circle cx="143.1" cy="530.3" r="1.4"/><circle cx="126.7" cy="530.2" r="1.4"/><circle cx="128.2" cy="530.2" r="1.4"/><circle cx="131.0" cy="530.1" r="1.4"/><circle cx="143.7" cy="530.0" r="1.4"/><circle cx="130.5" cy="530.0" r="1.4"/><circle cx="136.3" cy="530.0" r="1.4"/><circle cx="143.1" cy="529.9" r="1.4"/><circle cx="111.9" cy="529.9" r="1.4"/><circle cx="129.0" cy="529.9" r="1.4"/><circle cx="135.4" cy="529.9" r="1.4"/><circle cx="121.4" cy="529.9" r="1.4"/><circle cx="138.2" cy="529.9" r="1.4"/><circle cx="134.5" cy="529.9" r="1.4"/><circle cx="128.2" cy="529.8" r="1.4"/><circle cx="130.5" cy="529.8" r="1.4"/><circle cx="133.4" cy="529.7" r="1.4"/><circle cx="152.1" cy="529.7" r="1.4"/><circle cx="125.2" cy="529.6" r="1.4"/><circle cx="139.1" cy="529.6" r="1.4"/><circle cx="124.8" cy="529.6" r="1.4"/><circle cx="121.7" cy="529.5" r="1.4"/><circle cx="134.8" cy="529.5" r="1.4"/><circle cx="136.5" cy="529.4" r="1.4"/><circle cx="148.1" cy="529.4" r="1.4"/><circle cx="131.7" cy="529.4" r="1.4"/><circle cx="158.2" cy="529.3" r="1.4"/><circle cx="129.1" cy="529.3" r="1.4"/><circle cx="148.7" cy="529.3" r="1.4"/><circle cx="132.5" cy="529.3" r="1.4"/><circle cx="147.8" cy="529.2" r="1.4"/><circle cx="136.1" cy="529.1" r="1.4"/><circle cx="147.0" cy="529.1" r="1.4"/><circle cx="121.2" cy="529.1" r="1.4"/><circle cx="128.1" cy="529.1" r="1.4"/><circle cx="126.4" cy="529.0" r="1.4"/><circle cx="131.2" cy="528.9" r="1.4"/><circle cx="144.1" cy="528.9" r="1.4"/><circle cx="130.0" cy="528.9" r="1.4"/><circle cx="139.9" cy="528.9" r="1.4"/><circle cx="130.4" cy="528.6" r="1.5"/><circle cx="127.7" cy="528.6" r="1.5"/><circle cx="137.2" cy="528.5" r="1.5"/><circle cx="142.9" cy="528.5" r="1.5"/><circle cx="132.1" cy="528.5" r="1.5"/><circle cx="119.0" cy="528.5" r="1.5"/><circle cx="133.8" cy="528.5" r="1.5"/><circle cx="129.9" cy="528.4" r="1.5"/><circle cx="151.1" cy="528.4" r="1.5"/><circle cx="134.0" cy="528.3" r="1.5"/><circle cx="135.0" cy="528.3" r="1.5"/><circle cx="138.4" cy="528.2" r="1.5"/><circle cx="130.3" cy="528.2" r="1.5"/><circle cx="132.3" cy="528.2" r="1.5"/><circle cx="148.2" cy="528.2" r="1.5"/><circle cx="138.4" cy="528.1" r="1.5"/><circle cx="136.0" cy="528.1" r="1.5"/><circle cx="127.8" cy="528.1" r="1.5"/><circle cx="133.8" cy="528.0" r="1.5"/><circle cx="157.8" cy="527.9" r="1.5"/><circle cx="136.6" cy="527.9" r="1.5"/><circle cx="137.9" cy="527.9" r="1.5"/><circle cx="130.9" cy="527.8" r="1.5"/><circle cx="147.6" cy="527.8" r="1.5"/><circle cx="136.1" cy="527.7" r="1.5"/><circle cx="159.9" cy="527.7" r="1.5"/><circle cx="142.0" cy="527.6" r="1.5"/><circle cx="125.9" cy="527.6" r="1.5"/><circle cx="154.0" cy="527.5" r="1.5"/><circle cx="143.5" cy="527.5" r="1.5"/><circle cx="136.8" cy="527.5" r="1.5"/><circle cx="131.1" cy="527.4" r="1.5"/><circle cx="132.3" cy="527.3" r="1.5"/><circle cx="142.0" cy="527.3" r="1.5"/><circle cx="136.0" cy="527.3" r="1.5"/><circle cx="125.3" cy="527.2" r="1.5"/><circle cx="122.8" cy="527.2" r="1.5"/><circle cx="132.3" cy="527.2" r="1.5"/><circle cx="124.0" cy="527.1" r="1.5"/><circle cx="133.3" cy="527.1" r="1.5"/><circle cx="119.7" cy="527.0" r="1.5"/><circle cx="139.1" cy="527.0" r="1.5"/><circle cx="132.0" cy="527.0" r="1.5"/><circle cx="126.7" cy="527.0" r="1.5"/><circle cx="137.9" cy="527.0" r="1.5"/><circle cx="124.5" cy="527.0" r="1.5"/><circle cx="132.9" cy="527.0" r="1.5"/><circle cx="141.7" cy="527.0" r="1.5"/><circle cx="138.2" cy="526.8" r="1.5"/><circle cx="140.5" cy="526.8" r="1.5"/><circle cx="116.8" cy="526.8" r="1.5"/><circle cx="149.4" cy="526.8" r="1.5"/><circle cx="134.0" cy="526.7" r="1.5"/><circle cx="134.8" cy="526.7" r="1.5"/><circle cx="136.3" cy="526.7" r="1.5"/><circle cx="143.6" cy="526.7" r="1.5"/><circle cx="131.2" cy="526.6" r="1.5"/><circle cx="132.4" cy="526.6" r="1.5"/><circle cx="144.9" cy="526.5" r="1.5"/><circle cx="152.9" cy="526.4" r="1.5"/><circle cx="136.3" cy="526.2" r="1.5"/><circle cx="165.3" cy="526.2" r="1.5"/><circle cx="142.2" cy="526.2" r="1.5"/><circle cx="138.0" cy="526.2" r="1.5"/><circle cx="144.7" cy="526.2" r="1.5"/><circle cx="149.2" cy="526.1" r="1.5"/><circle cx="125.0" cy="526.0" r="1.5"/><circle cx="138.1" cy="526.0" r="1.5"/><circle cx="130.9" cy="526.0" r="1.5"/><circle cx="145.8" cy="525.9" r="1.5"/><circle cx="140.9" cy="525.9" r="1.5"/><circle cx="132.5" cy="525.8" r="1.5"/><circle cx="131.6" cy="525.8" r="1.5"/><circle cx="151.6" cy="525.8" r="1.5"/><circle cx="134.5" cy="525.7" r="1.5"/><circle cx="144.5" cy="525.7" r="1.5"/><circle cx="139.5" cy="525.6" r="1.5"/><circle cx="151.6" cy="525.6" r="1.5"/><circle cx="113.2" cy="525.6" r="1.5"/><circle cx="147.1" cy="525.6" r="1.5"/><circle cx="128.9" cy="525.6" r="1.5"/><circle cx="146.7" cy="525.5" r="1.5"/><circle cx="129.5" cy="525.4" r="1.5"/><circle cx="142.5" cy="525.4" r="1.5"/><circle cx="134.2" cy="525.4" r="1.5"/><circle cx="129.0" cy="525.4" r="1.5"/><circle cx="144.0" cy="525.4" r="1.5"/><circle cx="152.4" cy="525.4" r="1.5"/><circle cx="145.4" cy="525.4" r="1.5"/><circle cx="118.8" cy="525.4" r="1.5"/><circle cx="116.5" cy="525.3" r="1.5"/><circle cx="130.2" cy="525.3" r="1.5"/><circle cx="134.0" cy="525.2" r="1.5"/><circle cx="131.4" cy="525.2" r="1.5"/><circle cx="143.0" cy="525.2" r="1.5"/><circle cx="142.0" cy="525.2" r="1.5"/><circle cx="139.9" cy="525.1" r="1.5"/><circle cx="122.8" cy="525.1" r="1.5"/><circle cx="137.2" cy="525.1" r="1.5"/><circle cx="143.2" cy="525.0" r="1.5"/><circle cx="127.4" cy="525.0" r="1.5"/><circle cx="126.8" cy="525.0" r="1.5"/><circle cx="135.7" cy="524.9" r="1.5"/><circle cx="126.3" cy="524.9" r="1.5"/><circle cx="138.3" cy="524.9" r="1.5"/><circle cx="150.0" cy="524.7" r="1.5"/><circle cx="135.8" cy="524.6" r="1.5"/><circle cx="141.8" cy="524.6" r="1.5"/><circle cx="133.6" cy="524.5" r="1.5"/><circle cx="128.6" cy="524.4" r="1.5"/><circle cx="139.6" cy="524.4" r="1.5"/><circle cx="132.7" cy="524.4" r="1.5"/><circle cx="128.8" cy="524.3" r="1.5"/><circle cx="128.8" cy="524.3" r="1.5"/><circle cx="136.5" cy="524.3" r="1.5"/><circle cx="120.3" cy="524.2" r="1.5"/><circle cx="137.8" cy="524.1" r="1.5"/><circle cx="144.3" cy="524.1" r="1.5"/><circle cx="136.8" cy="524.1" r="1.5"/><circle cx="135.6" cy="524.0" r="1.5"/><circle cx="132.0" cy="524.0" r="1.5"/><circle cx="142.0" cy="524.0" r="1.5"/><circle cx="139.6" cy="524.0" r="1.5"/><circle cx="144.0" cy="524.0" r="1.5"/><circle cx="136.9" cy="524.0" r="1.5"/><circle cx="122.8" cy="524.0" r="1.5"/><circle cx="138.8" cy="524.0" r="1.5"/><circle cx="153.1" cy="523.9" r="1.5"/><circle cx="136.1" cy="523.9" r="1.5"/><circle cx="142.4" cy="523.8" r="1.5"/><circle cx="147.0" cy="523.8" r="1.5"/><circle cx="144.0" cy="523.8" r="1.5"/><circle cx="140.8" cy="523.6" r="1.5"/><circle cx="133.1" cy="523.6" r="1.5"/><circle cx="126.3" cy="523.6" r="1.5"/><circle cx="155.5" cy="523.3" r="1.5"/><circle cx="138.9" cy="523.3" r="1.5"/><circle cx="141.7" cy="523.3" r="1.5"/><circle cx="145.3" cy="523.3" r="1.5"/><circle cx="149.3" cy="523.3" r="1.5"/><circle cx="133.9" cy="523.2" r="1.5"/><circle cx="142.6" cy="523.1" r="1.5"/><circle cx="131.4" cy="523.1" r="1.5"/><circle cx="128.2" cy="523.1" r="1.5"/><circle cx="142.8" cy="523.1" r="1.5"/><circle cx="122.3" cy="523.1" r="1.5"/><circle cx="131.7" cy="523.1" r="1.5"/><circle cx="144.1" cy="523.0" r="1.5"/><circle cx="137.2" cy="523.0" r="1.5"/><circle cx="131.2" cy="522.9" r="1.5"/><circle cx="133.9" cy="522.8" r="1.5"/><circle cx="152.8" cy="522.7" r="1.5"/><circle cx="143.3" cy="522.7" r="1.5"/><circle cx="127.2" cy="522.7" r="1.5"/><circle cx="137.3" cy="522.5" r="1.5"/><circle cx="149.6" cy="522.5" r="1.5"/><circle cx="148.1" cy="522.4" r="1.5"/><circle cx="135.6" cy="522.4" r="1.5"/><circle cx="146.3" cy="522.3" r="1.5"/><circle cx="141.5" cy="522.2" r="1.5"/><circle cx="138.0" cy="522.2" r="1.5"/><circle cx="140.8" cy="522.2" r="1.5"/><circle cx="141.4" cy="522.2" r="1.5"/><circle cx="138.5" cy="521.9" r="1.5"/><circle cx="138.8" cy="521.8" r="1.5"/><circle cx="144.2" cy="521.7" r="1.5"/><circle cx="145.2" cy="521.7" r="1.5"/><circle cx="139.2" cy="521.7" r="1.5"/><circle cx="130.2" cy="521.7" r="1.5"/><circle cx="148.0" cy="521.7" r="1.5"/><circle cx="142.2" cy="521.5" r="1.5"/><circle cx="122.3" cy="521.5" r="1.5"/><circle cx="138.6" cy="521.5" r="1.5"/><circle cx="137.9" cy="521.5" r="1.5"/><circle cx="135.9" cy="521.4" r="1.5"/><circle cx="140.7" cy="521.4" r="1.5"/><circle cx="146.9" cy="521.4" r="1.5"/><circle cx="133.1" cy="521.4" r="1.5"/><circle cx="140.3" cy="521.4" r="1.5"/><circle cx="155.6" cy="521.3" r="1.5"/><circle cx="141.8" cy="521.2" r="1.5"/><circle cx="140.8" cy="521.2" r="1.5"/><circle cx="153.5" cy="521.1" r="1.5"/><circle cx="131.9" cy="521.1" r="1.5"/><circle cx="141.7" cy="521.1" r="1.5"/><circle cx="148.7" cy="521.1" r="1.5"/><circle cx="144.8" cy="521.1" r="1.5"/><circle cx="145.9" cy="521.0" r="1.5"/><circle cx="155.2" cy="521.0" r="1.5"/><circle cx="138.2" cy="521.0" r="1.5"/><circle cx="137.3" cy="520.9" r="1.5"/><circle cx="143.2" cy="520.9" r="1.5"/><circle cx="142.3" cy="520.8" r="1.5"/><circle cx="135.7" cy="520.7" r="1.5"/><circle cx="152.6" cy="520.7" r="1.5"/><circle cx="149.9" cy="520.6" r="1.5"/><circle cx="140.3" cy="520.6" r="1.5"/><circle cx="130.5" cy="520.5" r="1.5"/><circle cx="136.0" cy="520.5" r="1.5"/><circle cx="131.5" cy="520.5" r="1.5"/><circle cx="135.1" cy="520.4" r="1.5"/><circle cx="131.1" cy="520.4" r="1.5"/><circle cx="141.3" cy="520.3" r="1.5"/><circle cx="145.8" cy="520.2" r="1.5"/><circle cx="135.8" cy="520.1" r="1.5"/><circle cx="136.9" cy="520.1" r="1.5"/><circle cx="150.9" cy="520.1" r="1.5"/><circle cx="120.4" cy="520.0" r="1.5"/><circle cx="160.5" cy="520.0" r="1.5"/><circle cx="149.2" cy="519.9" r="1.5"/><circle cx="121.0" cy="519.8" r="1.5"/><circle cx="133.9" cy="519.7" r="1.5"/><circle cx="136.5" cy="519.7" r="1.5"/><circle cx="129.2" cy="519.7" r="1.5"/><circle cx="148.0" cy="519.6" r="1.5"/><circle cx="133.0" cy="519.6" r="1.5"/><circle cx="125.6" cy="519.6" r="1.5"/><circle cx="145.6" cy="519.6" r="1.5"/><circle cx="145.2" cy="519.5" r="1.5"/><circle cx="153.5" cy="519.5" r="1.5"/><circle cx="140.6" cy="519.3" r="1.5"/><circle cx="152.2" cy="519.3" r="1.5"/><circle cx="130.3" cy="519.3" r="1.5"/><circle cx="147.5" cy="519.2" r="1.5"/><circle cx="125.1" cy="519.0" r="1.5"/><circle cx="138.6" cy="519.0" r="1.5"/><circle cx="132.8" cy="519.0" r="1.5"/><circle cx="141.3" cy="518.9" r="1.5"/><circle cx="135.3" cy="518.9" r="1.5"/><circle cx="135.9" cy="518.9" r="1.5"/><circle cx="126.9" cy="518.8" r="1.5"/><circle cx="126.4" cy="518.8" r="1.5"/><circle cx="140.1" cy="518.8" r="1.5"/><circle cx="133.2" cy="518.8" r="1.5"/><circle cx="147.9" cy="518.7" r="1.5"/><circle cx="134.2" cy="518.6" r="1.5"/><circle cx="144.7" cy="518.5" r="1.5"/><circle cx="141.2" cy="518.5" r="1.5"/><circle cx="142.3" cy="518.5" r="1.5"/><circle cx="137.7" cy="518.4" r="1.5"/><circle cx="138.6" cy="518.4" r="1.5"/><circle cx="127.5" cy="518.4" r="1.5"/><circle cx="140.2" cy="518.4" r="1.5"/><circle cx="138.9" cy="518.3" r="1.5"/><circle cx="135.9" cy="518.2" r="1.5"/><circle cx="150.3" cy="518.2" r="1.5"/><circle cx="131.4" cy="518.2" r="1.5"/><circle cx="134.0" cy="518.2" r="1.5"/><circle cx="135.0" cy="518.1" r="1.5"/><circle cx="141.4" cy="518.1" r="1.5"/><circle cx="136.6" cy="518.0" r="1.5"/><circle cx="140.3" cy="518.0" r="1.5"/><circle cx="140.2" cy="518.0" r="1.5"/><circle cx="129.5" cy="518.0" r="1.5"/><circle cx="150.1" cy="518.0" r="1.5"/><circle cx="148.0" cy="517.9" r="1.5"/><circle cx="133.5" cy="517.8" r="1.5"/><circle cx="143.5" cy="517.7" r="1.5"/><circle cx="146.8" cy="517.6" r="1.5"/><circle cx="139.6" cy="517.6" r="1.5"/><circle cx="133.0" cy="517.5" r="1.5"/><circle cx="137.5" cy="517.5" r="1.5"/><circle cx="141.5" cy="517.4" r="1.5"/><circle cx="142.8" cy="517.4" r="1.5"/><circle cx="131.3" cy="517.4" r="1.5"/><circle cx="122.6" cy="517.3" r="1.5"/><circle cx="129.4" cy="517.3" r="1.5"/><circle cx="132.5" cy="517.2" r="1.5"/><circle cx="135.8" cy="517.1" r="1.5"/><circle cx="132.9" cy="517.0" r="1.5"/><circle cx="138.7" cy="516.9" r="1.5"/><circle cx="145.0" cy="516.8" r="1.5"/><circle cx="146.9" cy="516.7" r="1.5"/><circle cx="134.4" cy="516.7" r="1.5"/><circle cx="130.4" cy="516.7" r="1.5"/><circle cx="135.5" cy="516.5" r="1.5"/><circle cx="123.2" cy="516.4" r="1.5"/><circle cx="134.5" cy="516.3" r="1.5"/><circle cx="128.3" cy="516.3" r="1.5"/><circle cx="145.8" cy="516.3" r="1.5"/><circle cx="130.6" cy="516.2" r="1.5"/><circle cx="142.1" cy="516.0" r="1.5"/><circle cx="142.6" cy="515.9" r="1.5"/><circle cx="124.3" cy="515.8" r="1.5"/><circle cx="127.4" cy="515.7" r="1.6"/><circle cx="142.3" cy="515.6" r="1.6"/><circle cx="131.5" cy="515.6" r="1.6"/><circle cx="134.0" cy="515.6" r="1.6"/><circle cx="131.4" cy="515.3" r="1.6"/><circle cx="148.2" cy="515.3" r="1.6"/><circle cx="142.4" cy="515.3" r="1.6"/><circle cx="139.5" cy="515.2" r="1.6"/><circle cx="132.7" cy="515.1" r="1.6"/><circle cx="136.6" cy="515.1" r="1.6"/><circle cx="148.4" cy="515.0" r="1.6"/><circle cx="137.7" cy="515.0" r="1.6"/><circle cx="138.9" cy="515.0" r="1.6"/><circle cx="134.4" cy="515.0" r="1.6"/><circle cx="124.9" cy="514.9" r="1.6"/><circle cx="136.7" cy="514.9" r="1.6"/><circle cx="147.2" cy="514.9" r="1.6"/><circle cx="145.7" cy="514.8" r="1.6"/><circle cx="138.3" cy="514.8" r="1.6"/><circle cx="135.7" cy="514.7" r="1.6"/><circle cx="141.4" cy="514.7" r="1.6"/><circle cx="138.5" cy="514.7" r="1.6"/><circle cx="135.2" cy="514.7" r="1.6"/><circle cx="136.9" cy="514.7" r="1.6"/><circle cx="137.7" cy="514.6" r="1.6"/><circle cx="132.5" cy="514.6" r="1.6"/><circle cx="144.1" cy="514.5" r="1.6"/><circle cx="135.5" cy="514.5" r="1.6"/><circle cx="132.6" cy="514.5" r="1.6"/><circle cx="129.0" cy="514.5" r="1.6"/><circle cx="143.3" cy="514.4" r="1.6"/><circle cx="136.8" cy="514.3" r="1.6"/><circle cx="137.6" cy="514.2" r="1.6"/><circle cx="150.3" cy="514.2" r="1.6"/><circle cx="135.2" cy="514.2" r="1.6"/><circle cx="144.1" cy="514.1" r="1.6"/><circle cx="134.9" cy="513.9" r="1.6"/><circle cx="148.0" cy="513.8" r="1.6"/><circle cx="140.8" cy="513.8" r="1.6"/><circle cx="133.8" cy="513.7" r="1.6"/><circle cx="136.3" cy="513.7" r="1.6"/><circle cx="143.3" cy="513.7" r="1.6"/><circle cx="137.6" cy="513.5" r="1.6"/><circle cx="142.3" cy="513.5" r="1.6"/><circle cx="130.6" cy="513.5" r="1.6"/><circle cx="146.9" cy="513.4" r="1.6"/><circle cx="145.5" cy="513.4" r="1.6"/><circle cx="134.7" cy="513.3" r="1.6"/><circle cx="136.5" cy="513.3" r="1.6"/><circle cx="134.9" cy="513.3" r="1.6"/><circle cx="142.4" cy="513.2" r="1.6"/><circle cx="137.2" cy="513.1" r="1.6"/><circle cx="143.9" cy="513.0" r="1.6"/><circle cx="137.3" cy="513.0" r="1.6"/><circle cx="133.8" cy="513.0" r="1.6"/><circle cx="126.9" cy="512.9" r="1.6"/><circle cx="125.2" cy="512.8" r="1.6"/><circle cx="139.9" cy="512.7" r="1.6"/><circle cx="136.0" cy="512.7" r="1.6"/><circle cx="124.2" cy="512.7" r="1.6"/><circle cx="135.0" cy="512.7" r="1.6"/><circle cx="131.4" cy="512.5" r="1.6"/><circle cx="127.0" cy="512.5" r="1.6"/><circle cx="143.0" cy="512.4" r="1.6"/><circle cx="127.6" cy="512.3" r="1.6"/><circle cx="138.9" cy="512.2" r="1.6"/><circle cx="141.1" cy="512.1" r="1.6"/><circle cx="133.0" cy="512.1" r="1.6"/><circle cx="137.7" cy="512.1" r="1.6"/><circle cx="138.0" cy="512.0" r="1.6"/><circle cx="142.5" cy="512.0" r="1.6"/><circle cx="133.1" cy="511.9" r="1.6"/><circle cx="142.0" cy="511.8" r="1.6"/><circle cx="136.7" cy="511.8" r="1.6"/><circle cx="145.5" cy="511.7" r="1.6"/><circle cx="144.9" cy="511.7" r="1.6"/><circle cx="142.5" cy="511.6" r="1.6"/><circle cx="147.0" cy="511.3" r="1.6"/><circle cx="128.4" cy="511.3" r="1.6"/><circle cx="132.2" cy="511.2" r="1.6"/><circle cx="139.6" cy="511.1" r="1.6"/><circle cx="129.0" cy="511.1" r="1.6"/><circle cx="147.7" cy="511.0" r="1.6"/><circle cx="140.8" cy="511.0" r="1.6"/><circle cx="135.9" cy="511.0" r="1.6"/><circle cx="132.9" cy="511.0" r="1.6"/><circle cx="140.9" cy="510.9" r="1.6"/><circle cx="126.9" cy="510.9" r="1.6"/><circle cx="139.4" cy="510.9" r="1.6"/><circle cx="120.7" cy="510.8" r="1.6"/><circle cx="141.1" cy="510.8" r="1.6"/><circle cx="138.8" cy="510.8" r="1.6"/><circle cx="146.0" cy="510.6" r="1.6"/><circle cx="143.1" cy="510.6" r="1.6"/><circle cx="146.5" cy="510.6" r="1.6"/><circle cx="141.1" cy="510.6" r="1.6"/><circle cx="127.5" cy="510.6" r="1.6"/><circle cx="137.2" cy="510.5" r="1.6"/><circle cx="135.7" cy="510.5" r="1.6"/><circle cx="143.4" cy="510.4" r="1.6"/><circle cx="126.6" cy="510.3" r="1.6"/><circle cx="143.1" cy="510.3" r="1.6"/><circle cx="135.5" cy="510.2" r="1.6"/><circle cx="135.0" cy="510.2" r="1.6"/><circle cx="148.6" cy="510.2" r="1.6"/><circle cx="130.8" cy="510.2" r="1.6"/><circle cx="142.7" cy="510.2" r="1.6"/><circle cx="127.2" cy="510.2" r="1.6"/><circle cx="142.7" cy="510.2" r="1.6"/><circle cx="121.8" cy="510.1" r="1.6"/><circle cx="142.6" cy="510.0" r="1.6"/><circle cx="141.2" cy="510.0" r="1.6"/><circle cx="134.3" cy="509.7" r="1.6"/><circle cx="137.6" cy="509.7" r="1.6"/><circle cx="141.6" cy="509.6" r="1.6"/><circle cx="139.8" cy="509.5" r="1.6"/><circle cx="146.3" cy="509.4" r="1.6"/><circle cx="144.8" cy="509.3" r="1.6"/><circle cx="127.9" cy="509.3" r="1.6"/><circle cx="139.0" cy="509.3" r="1.6"/><circle cx="137.3" cy="509.1" r="1.6"/><circle cx="133.6" cy="509.1" r="1.6"/><circle cx="139.7" cy="509.1" r="1.6"/><circle cx="135.6" cy="509.0" r="1.6"/><circle cx="133.7" cy="509.0" r="1.6"/><circle cx="135.8" cy="508.9" r="1.6"/><circle cx="128.6" cy="508.8" r="1.6"/><circle cx="148.5" cy="508.8" r="1.6"/><circle cx="140.0" cy="508.8" r="1.6"/><circle cx="140.5" cy="508.8" r="1.6"/><circle cx="138.7" cy="508.7" r="1.6"/><circle cx="137.6" cy="508.6" r="1.6"/><circle cx="140.8" cy="508.6" r="1.6"/><circle cx="150.3" cy="508.6" r="1.6"/><circle cx="144.3" cy="508.5" r="1.6"/><circle cx="135.0" cy="508.5" r="1.6"/><circle cx="141.5" cy="508.4" r="1.6"/><circle cx="137.5" cy="508.3" r="1.6"/><circle cx="148.1" cy="508.3" r="1.6"/><circle cx="136.3" cy="508.3" r="1.6"/><circle cx="145.7" cy="508.3" r="1.6"/><circle cx="141.9" cy="508.3" r="1.6"/><circle cx="138.7" cy="508.3" r="1.6"/><circle cx="132.3" cy="508.2" r="1.6"/><circle cx="150.4" cy="508.0" r="1.6"/><circle cx="141.5" cy="507.9" r="1.6"/><circle cx="146.7" cy="507.8" r="1.6"/><circle cx="154.5" cy="507.7" r="1.6"/><circle cx="148.5" cy="507.7" r="1.6"/><circle cx="153.2" cy="507.6" r="1.6"/><circle cx="133.0" cy="507.5" r="1.6"/><circle cx="131.4" cy="507.5" r="1.6"/><circle cx="142.0" cy="507.4" r="1.6"/><circle cx="143.4" cy="507.4" r="1.6"/><circle cx="141.4" cy="507.3" r="1.6"/><circle cx="136.3" cy="507.2" r="1.6"/><circle cx="144.1" cy="507.2" r="1.6"/><circle cx="143.0" cy="507.2" r="1.6"/><circle cx="127.7" cy="507.1" r="1.6"/><circle cx="142.4" cy="507.1" r="1.6"/><circle cx="138.3" cy="507.0" r="1.6"/><circle cx="136.4" cy="506.9" r="1.6"/><circle cx="135.2" cy="506.9" r="1.6"/><circle cx="135.4" cy="506.8" r="1.6"/><circle cx="140.6" cy="506.8" r="1.6"/><circle cx="138.4" cy="506.8" r="1.6"/><circle cx="125.3" cy="506.8" r="1.6"/><circle cx="139.1" cy="506.7" r="1.6"/><circle cx="133.8" cy="506.4" r="1.6"/><circle cx="140.0" cy="506.4" r="1.6"/><circle cx="142.2" cy="506.4" r="1.6"/><circle cx="152.1" cy="506.4" r="1.6"/><circle cx="128.4" cy="506.3" r="1.6"/><circle cx="147.9" cy="506.3" r="1.6"/><circle cx="131.8" cy="506.2" r="1.6"/><circle cx="143.6" cy="506.1" r="1.6"/><circle cx="152.0" cy="506.1" r="1.6"/><circle cx="133.3" cy="506.0" r="1.6"/><circle cx="159.4" cy="506.0" r="1.6"/><circle cx="150.8" cy="505.9" r="1.6"/><circle cx="132.2" cy="505.9" r="1.6"/><circle cx="137.2" cy="505.9" r="1.6"/><circle cx="141.2" cy="505.9" r="1.6"/><circle cx="146.9" cy="505.8" r="1.6"/><circle cx="139.5" cy="505.7" r="1.6"/><circle cx="142.3" cy="505.7" r="1.6"/><circle cx="147.9" cy="505.5" r="1.6"/><circle cx="143.3" cy="505.5" r="1.6"/><circle cx="143.5" cy="505.5" r="1.6"/><circle cx="137.4" cy="505.4" r="1.6"/><circle cx="143.0" cy="505.4" r="1.6"/><circle cx="137.0" cy="505.4" r="1.6"/><circle cx="137.4" cy="505.3" r="1.6"/><circle cx="140.5" cy="505.1" r="1.6"/><circle cx="150.4" cy="504.9" r="1.6"/><circle cx="144.8" cy="504.9" r="1.6"/><circle cx="136.1" cy="504.8" r="1.6"/><circle cx="143.1" cy="504.7" r="1.6"/><circle cx="140.2" cy="504.7" r="1.6"/><circle cx="135.2" cy="504.7" r="1.6"/><circle cx="149.0" cy="504.7" r="1.6"/><circle cx="141.8" cy="504.5" r="1.6"/><circle cx="148.6" cy="504.5" r="1.6"/><circle cx="141.9" cy="504.4" r="1.6"/><circle cx="139.6" cy="504.4" r="1.6"/><circle cx="142.7" cy="504.3" r="1.6"/><circle cx="140.1" cy="504.2" r="1.6"/><circle cx="135.2" cy="504.2" r="1.6"/><circle cx="141.0" cy="504.1" r="1.6"/><circle cx="135.6" cy="504.1" r="1.6"/><circle cx="158.6" cy="504.0" r="1.6"/><circle cx="132.9" cy="504.0" r="1.6"/><circle cx="144.8" cy="503.8" r="1.6"/><circle cx="132.1" cy="503.7" r="1.6"/><circle cx="134.9" cy="503.6" r="1.6"/><circle cx="146.0" cy="503.6" r="1.6"/><circle cx="146.3" cy="503.6" r="1.6"/><circle cx="137.8" cy="503.5" r="1.6"/><circle cx="155.4" cy="503.5" r="1.6"/><circle cx="136.0" cy="503.5" r="1.6"/><circle cx="144.3" cy="503.4" r="1.6"/><circle cx="142.6" cy="503.3" r="1.6"/><circle cx="142.2" cy="503.3" r="1.6"/><circle cx="132.3" cy="503.2" r="1.6"/><circle cx="132.4" cy="503.0" r="1.6"/><circle cx="128.4" cy="502.9" r="1.6"/><circle cx="147.7" cy="502.9" r="1.6"/><circle cx="142.8" cy="502.7" r="1.7"/><circle cx="135.7" cy="502.7" r="1.7"/><circle cx="121.2" cy="502.6" r="1.7"/><circle cx="134.5" cy="502.5" r="1.7"/><circle cx="144.0" cy="502.5" r="1.7"/><circle cx="143.2" cy="502.4" r="1.7"/><circle cx="131.5" cy="502.3" r="1.7"/><circle cx="140.1" cy="502.3" r="1.7"/><circle cx="141.4" cy="502.2" r="1.7"/><circle cx="139.7" cy="502.2" r="1.7"/><circle cx="139.6" cy="502.2" r="1.7"/><circle cx="143.7" cy="502.2" r="1.7"/><circle cx="152.3" cy="502.0" r="1.7"/><circle cx="142.6" cy="502.0" r="1.7"/><circle cx="143.1" cy="502.0" r="1.7"/><circle cx="131.2" cy="502.0" r="1.7"/><circle cx="140.8" cy="502.0" r="1.7"/><circle cx="146.3" cy="501.9" r="1.7"/><circle cx="149.0" cy="501.9" r="1.7"/><circle cx="132.3" cy="501.8" r="1.7"/><circle cx="130.4" cy="501.5" r="1.7"/><circle cx="142.0" cy="501.4" r="1.7"/><circle cx="147.9" cy="501.3" r="1.7"/><circle cx="144.3" cy="501.3" r="1.7"/><circle cx="141.0" cy="501.2" r="1.7"/><circle cx="141.2" cy="501.1" r="1.7"/><circle cx="135.8" cy="501.1" r="1.7"/><circle cx="137.3" cy="501.1" r="1.7"/><circle cx="142.1" cy="500.8" r="1.7"/><circle cx="142.7" cy="500.7" r="1.7"/><circle cx="141.4" cy="500.7" r="1.7"/><circle cx="135.0" cy="500.6" r="1.7"/><circle cx="146.2" cy="500.6" r="1.7"/><circle cx="136.2" cy="500.6" r="1.7"/><circle cx="144.8" cy="500.5" r="1.7"/><circle cx="132.6" cy="500.4" r="1.7"/><circle cx="140.7" cy="500.4" r="1.7"/><circle cx="140.5" cy="500.3" r="1.7"/><circle cx="130.2" cy="500.3" r="1.7"/><circle cx="146.2" cy="500.2" r="1.7"/><circle cx="147.6" cy="500.1" r="1.7"/><circle cx="141.3" cy="500.1" r="1.7"/><circle cx="140.6" cy="500.1" r="1.7"/><circle cx="140.1" cy="500.0" r="1.7"/><circle cx="142.5" cy="500.0" r="1.7"/><circle cx="148.1" cy="499.9" r="1.7"/><circle cx="154.6" cy="499.8" r="1.7"/><circle cx="133.7" cy="499.7" r="1.7"/><circle cx="138.4" cy="499.6" r="1.7"/><circle cx="142.6" cy="499.5" r="1.7"/><circle cx="151.9" cy="499.5" r="1.7"/><circle cx="140.8" cy="499.4" r="1.7"/><circle cx="143.7" cy="499.4" r="1.7"/><circle cx="139.6" cy="499.4" r="1.7"/><circle cx="150.1" cy="499.2" r="1.7"/><circle cx="142.6" cy="499.2" r="1.7"/><circle cx="140.9" cy="499.1" r="1.7"/><circle cx="139.4" cy="499.1" r="1.7"/><circle cx="145.9" cy="499.0" r="1.7"/><circle cx="133.8" cy="498.9" r="1.7"/><circle cx="149.6" cy="498.9" r="1.7"/><circle cx="143.4" cy="498.8" r="1.7"/><circle cx="131.1" cy="498.8" r="1.7"/><circle cx="139.8" cy="498.8" r="1.7"/><circle cx="134.5" cy="498.7" r="1.7"/><circle cx="142.8" cy="498.7" r="1.7"/><circle cx="144.9" cy="498.6" r="1.7"/><circle cx="137.6" cy="498.6" r="1.7"/><circle cx="140.6" cy="498.6" r="1.7"/><circle cx="143.3" cy="498.6" r="1.7"/><circle cx="138.0" cy="498.4" r="1.7"/><circle cx="138.2" cy="498.3" r="1.7"/><circle cx="136.9" cy="498.3" r="1.7"/><circle cx="140.0" cy="498.3" r="1.7"/><circle cx="138.8" cy="498.2" r="1.7"/><circle cx="147.7" cy="498.2" r="1.7"/><circle cx="143.7" cy="498.1" r="1.7"/><circle cx="140.4" cy="498.1" r="1.7"/><circle cx="133.1" cy="498.1" r="1.7"/><circle cx="136.0" cy="498.0" r="1.7"/><circle cx="144.9" cy="497.9" r="1.7"/><circle cx="148.1" cy="497.9" r="1.7"/><circle cx="138.4" cy="497.9" r="1.7"/><circle cx="138.6" cy="497.8" r="1.7"/><circle cx="140.3" cy="497.7" r="1.7"/><circle cx="126.8" cy="497.7" r="1.7"/><circle cx="142.9" cy="497.6" r="1.7"/><circle cx="139.1" cy="497.4" r="1.7"/><circle cx="137.3" cy="497.2" r="1.7"/><circle cx="147.8" cy="497.2" r="1.7"/><circle cx="137.8" cy="497.1" r="1.7"/><circle cx="148.3" cy="497.1" r="1.7"/><circle cx="143.4" cy="497.1" r="1.7"/><circle cx="147.3" cy="497.0" r="1.7"/><circle cx="152.1" cy="496.9" r="1.7"/><circle cx="141.1" cy="496.8" r="1.7"/><circle cx="138.2" cy="496.7" r="1.7"/><circle cx="147.1" cy="496.6" r="1.7"/><circle cx="125.5" cy="496.6" r="1.7"/><circle cx="140.2" cy="496.5" r="1.7"/><circle cx="137.9" cy="496.4" r="1.7"/><circle cx="142.2" cy="496.3" r="1.7"/><circle cx="149.0" cy="496.3" r="1.7"/><circle cx="135.6" cy="496.2" r="1.7"/><circle cx="135.8" cy="496.2" r="1.7"/><circle cx="145.4" cy="496.1" r="1.7"/><circle cx="142.1" cy="496.1" r="1.7"/><circle cx="150.3" cy="496.1" r="1.7"/><circle cx="135.0" cy="496.0" r="1.7"/><circle cx="136.7" cy="496.0" r="1.7"/><circle cx="131.0" cy="495.9" r="1.7"/><circle cx="155.0" cy="495.8" r="1.7"/><circle cx="131.9" cy="495.8" r="1.7"/><circle cx="148.7" cy="495.7" r="1.7"/><circle cx="138.1" cy="495.7" r="1.7"/><circle cx="135.5" cy="495.7" r="1.7"/><circle cx="142.0" cy="495.6" r="1.7"/><circle cx="136.0" cy="495.6" r="1.7"/><circle cx="135.1" cy="495.6" r="1.7"/><circle cx="150.3" cy="495.5" r="1.7"/><circle cx="138.7" cy="495.5" r="1.7"/><circle cx="136.5" cy="495.5" r="1.7"/><circle cx="143.9" cy="495.4" r="1.7"/><circle cx="144.6" cy="495.3" r="1.7"/><circle cx="146.2" cy="495.3" r="1.7"/><circle cx="148.8" cy="495.2" r="1.7"/><circle cx="144.5" cy="495.2" r="1.7"/><circle cx="142.4" cy="495.0" r="1.7"/><circle cx="143.9" cy="494.9" r="1.7"/><circle cx="151.1" cy="494.8" r="1.7"/><circle cx="146.1" cy="494.7" r="1.7"/><circle cx="135.9" cy="494.7" r="1.7"/><circle cx="157.5" cy="494.6" r="1.7"/><circle cx="144.5" cy="494.5" r="1.7"/><circle cx="147.4" cy="494.4" r="1.7"/><circle cx="142.0" cy="494.4" r="1.7"/><circle cx="143.4" cy="494.3" r="1.7"/><circle cx="139.0" cy="494.3" r="1.7"/><circle cx="139.5" cy="494.2" r="1.7"/><circle cx="133.3" cy="494.1" r="1.7"/><circle cx="144.0" cy="494.1" r="1.7"/><circle cx="144.9" cy="494.1" r="1.7"/><circle cx="143.2" cy="494.0" r="1.7"/><circle cx="145.9" cy="494.0" r="1.7"/><circle cx="136.3" cy="493.9" r="1.7"/><circle cx="140.5" cy="493.9" r="1.7"/><circle cx="144.5" cy="493.9" r="1.7"/><circle cx="132.1" cy="493.8" r="1.7"/><circle cx="146.9" cy="493.8" r="1.7"/><circle cx="141.1" cy="493.7" r="1.7"/><circle cx="138.7" cy="493.6" r="1.7"/><circle cx="134.3" cy="493.5" r="1.7"/><circle cx="145.1" cy="493.4" r="1.7"/><circle cx="141.5" cy="493.4" r="1.7"/><circle cx="137.4" cy="493.3" r="1.7"/><circle cx="137.3" cy="493.3" r="1.7"/><circle cx="137.4" cy="493.2" r="1.7"/><circle cx="139.6" cy="493.1" r="1.7"/><circle cx="143.4" cy="493.1" r="1.7"/><circle cx="139.9" cy="493.1" r="1.7"/><circle cx="132.9" cy="492.9" r="1.7"/><circle cx="143.7" cy="492.8" r="1.7"/><circle cx="137.2" cy="492.7" r="1.7"/><circle cx="148.6" cy="492.6" r="1.7"/><circle cx="150.6" cy="492.5" r="1.7"/><circle cx="150.9" cy="492.5" r="1.7"/><circle cx="147.9" cy="492.4" r="1.7"/><circle cx="141.6" cy="492.3" r="1.7"/><circle cx="154.7" cy="492.0" r="1.7"/><circle cx="142.9" cy="492.0" r="1.7"/><circle cx="133.1" cy="491.9" r="1.7"/><circle cx="150.7" cy="491.9" r="1.7"/><circle cx="146.4" cy="491.9" r="1.7"/><circle cx="142.6" cy="491.8" r="1.7"/><circle cx="143.9" cy="491.6" r="1.7"/><circle cx="147.5" cy="491.6" r="1.7"/><circle cx="147.9" cy="491.5" r="1.7"/><circle cx="142.6" cy="491.4" r="1.7"/><circle cx="137.5" cy="491.4" r="1.7"/><circle cx="134.4" cy="491.4" r="1.7"/><circle cx="145.4" cy="491.3" r="1.7"/><circle cx="150.4" cy="491.3" r="1.7"/><circle cx="139.9" cy="491.2" r="1.7"/><circle cx="151.5" cy="491.2" r="1.7"/><circle cx="139.6" cy="491.1" r="1.7"/><circle cx="147.0" cy="491.1" r="1.7"/><circle cx="145.5" cy="491.1" r="1.7"/><circle cx="143.3" cy="490.9" r="1.7"/><circle cx="143.1" cy="490.8" r="1.7"/><circle cx="133.4" cy="490.7" r="1.7"/><circle cx="138.3" cy="490.7" r="1.7"/><circle cx="148.3" cy="490.6" r="1.7"/><circle cx="143.8" cy="490.5" r="1.7"/><circle cx="141.5" cy="490.5" r="1.7"/><circle cx="145.1" cy="490.5" r="1.7"/><circle cx="147.3" cy="490.4" r="1.7"/><circle cx="144.4" cy="490.1" r="1.7"/><circle cx="133.9" cy="490.1" r="1.7"/><circle cx="132.7" cy="490.0" r="1.7"/><circle cx="148.7" cy="490.0" r="1.7"/><circle cx="135.0" cy="489.9" r="1.7"/><circle cx="144.7" cy="489.9" r="1.7"/><circle cx="140.8" cy="489.8" r="1.7"/><circle cx="141.1" cy="489.6" r="1.8"/><circle cx="147.7" cy="489.6" r="1.8"/><circle cx="149.0" cy="489.5" r="1.8"/><circle cx="132.2" cy="489.5" r="1.8"/><circle cx="143.2" cy="489.5" r="1.8"/><circle cx="137.5" cy="489.4" r="1.8"/><circle cx="142.6" cy="489.4" r="1.8"/><circle cx="148.6" cy="489.3" r="1.8"/><circle cx="146.8" cy="489.2" r="1.8"/><circle cx="146.3" cy="489.0" r="1.8"/><circle cx="144.5" cy="489.0" r="1.8"/><circle cx="134.7" cy="488.9" r="1.8"/><circle cx="137.3" cy="488.9" r="1.8"/><circle cx="143.0" cy="488.8" r="1.8"/><circle cx="145.5" cy="488.8" r="1.8"/><circle cx="137.4" cy="488.7" r="1.8"/><circle cx="145.5" cy="488.4" r="1.8"/><circle cx="134.5" cy="488.3" r="1.8"/><circle cx="145.4" cy="488.3" r="1.8"/><circle cx="145.3" cy="488.3" r="1.8"/><circle cx="145.6" cy="488.1" r="1.8"/><circle cx="138.6" cy="488.1" r="1.8"/><circle cx="144.8" cy="487.9" r="1.8"/><circle cx="147.8" cy="487.9" r="1.8"/><circle cx="139.7" cy="487.9" r="1.8"/><circle cx="130.6" cy="487.9" r="1.8"/><circle cx="132.3" cy="487.7" r="1.8"/><circle cx="144.7" cy="487.6" r="1.8"/><circle cx="148.4" cy="487.3" r="1.8"/><circle cx="152.7" cy="487.3" r="1.8"/><circle cx="143.4" cy="487.2" r="1.8"/><circle cx="144.1" cy="487.2" r="1.8"/><circle cx="143.3" cy="487.1" r="1.8"/><circle cx="149.8" cy="487.0" r="1.8"/><circle cx="148.2" cy="486.9" r="1.8"/><circle cx="132.4" cy="486.8" r="1.8"/><circle cx="146.9" cy="486.7" r="1.8"/><circle cx="135.0" cy="486.7" r="1.8"/><circle cx="141.1" cy="486.6" r="1.8"/><circle cx="142.6" cy="486.5" r="1.8"/><circle cx="146.7" cy="486.4" r="1.8"/><circle cx="147.8" cy="486.4" r="1.8"/><circle cx="142.7" cy="486.3" r="1.8"/><circle cx="159.4" cy="486.3" r="1.8"/><circle cx="146.9" cy="486.2" r="1.8"/><circle cx="154.7" cy="486.2" r="1.8"/><circle cx="146.0" cy="486.2" r="1.8"/><circle cx="135.7" cy="486.1" r="1.8"/><circle cx="136.4" cy="486.0" r="1.8"/><circle cx="132.5" cy="486.0" r="1.8"/><circle cx="153.3" cy="485.9" r="1.8"/><circle cx="145.9" cy="485.6" r="1.8"/><circle cx="138.7" cy="485.6" r="1.8"/><circle cx="144.5" cy="485.4" r="1.8"/><circle cx="146.8" cy="485.3" r="1.8"/><circle cx="135.4" cy="485.3" r="1.8"/><circle cx="146.7" cy="485.1" r="1.8"/><circle cx="136.9" cy="484.9" r="1.8"/><circle cx="147.5" cy="484.8" r="1.8"/><circle cx="151.9" cy="484.8" r="1.8"/><circle cx="150.3" cy="484.8" r="1.8"/><circle cx="147.7" cy="484.8" r="1.8"/><circle cx="143.2" cy="484.6" r="1.8"/><circle cx="142.8" cy="484.5" r="1.8"/><circle cx="148.8" cy="484.4" r="1.8"/><circle cx="152.3" cy="484.4" r="1.8"/><circle cx="142.9" cy="484.3" r="1.8"/><circle cx="155.3" cy="484.2" r="1.8"/><circle cx="153.3" cy="484.0" r="1.8"/><circle cx="152.8" cy="483.9" r="1.8"/><circle cx="142.4" cy="483.8" r="1.8"/><circle cx="144.0" cy="483.7" r="1.8"/><circle cx="146.9" cy="483.7" r="1.8"/><circle cx="140.2" cy="483.6" r="1.8"/><circle cx="143.2" cy="483.4" r="1.8"/><circle cx="143.6" cy="483.4" r="1.8"/><circle cx="145.6" cy="483.4" r="1.8"/><circle cx="145.9" cy="483.3" r="1.8"/><circle cx="143.0" cy="483.2" r="1.8"/><circle cx="153.6" cy="482.8" r="1.8"/><circle cx="142.8" cy="482.8" r="1.8"/><circle cx="145.7" cy="482.7" r="1.8"/><circle cx="146.2" cy="482.6" r="1.8"/><circle cx="142.9" cy="482.6" r="1.8"/><circle cx="149.5" cy="482.5" r="1.8"/><circle cx="146.1" cy="482.4" r="1.8"/><circle cx="147.9" cy="482.4" r="1.8"/><circle cx="146.1" cy="482.3" r="1.8"/><circle cx="148.7" cy="482.2" r="1.8"/><circle cx="151.6" cy="482.2" r="1.8"/><circle cx="155.0" cy="482.2" r="1.8"/><circle cx="136.4" cy="482.1" r="1.8"/><circle cx="154.9" cy="482.0" r="1.8"/><circle cx="134.4" cy="482.0" r="1.8"/><circle cx="145.5" cy="482.0" r="1.8"/><circle cx="145.3" cy="482.0" r="1.8"/><circle cx="152.2" cy="481.8" r="1.8"/><circle cx="142.5" cy="481.7" r="1.8"/><circle cx="146.8" cy="481.5" r="1.8"/><circle cx="148.2" cy="481.5" r="1.8"/><circle cx="146.9" cy="481.5" r="1.8"/><circle cx="149.0" cy="481.3" r="1.8"/><circle cx="144.6" cy="481.2" r="1.8"/><circle cx="150.0" cy="481.2" r="1.8"/><circle cx="144.9" cy="481.2" r="1.8"/><circle cx="144.5" cy="481.2" r="1.8"/><circle cx="147.4" cy="481.2" r="1.8"/><circle cx="145.0" cy="481.2" r="1.8"/><circle cx="141.0" cy="481.1" r="1.8"/><circle cx="130.3" cy="481.1" r="1.8"/><circle cx="146.1" cy="481.1" r="1.8"/><circle cx="141.6" cy="481.0" r="1.8"/><circle cx="146.6" cy="481.0" r="1.8"/><circle cx="143.7" cy="480.7" r="1.8"/><circle cx="148.7" cy="480.3" r="1.8"/><circle cx="144.7" cy="480.2" r="1.8"/><circle cx="138.1" cy="480.1" r="1.8"/><circle cx="154.1" cy="480.0" r="1.8"/><circle cx="150.8" cy="480.0" r="1.8"/><circle cx="145.3" cy="480.0" r="1.8"/><circle cx="150.3" cy="479.9" r="1.8"/><circle cx="151.9" cy="479.9" r="1.8"/><circle cx="152.1" cy="479.8" r="1.8"/><circle cx="152.1" cy="479.7" r="1.8"/><circle cx="140.8" cy="479.5" r="1.8"/><circle cx="150.5" cy="479.5" r="1.8"/><circle cx="140.1" cy="479.3" r="1.8"/><circle cx="146.3" cy="479.3" r="1.8"/><circle cx="153.3" cy="479.2" r="1.8"/><circle cx="141.3" cy="479.1" r="1.8"/><circle cx="138.4" cy="479.0" r="1.8"/><circle cx="144.4" cy="479.0" r="1.8"/><circle cx="155.2" cy="479.0" r="1.8"/><circle cx="144.3" cy="478.9" r="1.8"/><circle cx="146.7" cy="478.8" r="1.8"/><circle cx="141.9" cy="478.6" r="1.8"/><circle cx="151.8" cy="478.5" r="1.8"/><circle cx="142.6" cy="478.5" r="1.8"/><circle cx="147.6" cy="478.4" r="1.8"/><circle cx="151.5" cy="478.3" r="1.8"/><circle cx="143.9" cy="478.3" r="1.8"/><circle cx="150.5" cy="478.3" r="1.8"/><circle cx="141.3" cy="478.1" r="1.8"/><circle cx="145.2" cy="478.1" r="1.8"/><circle cx="142.5" cy="478.1" r="1.8"/><circle cx="148.6" cy="477.9" r="1.8"/><circle cx="148.6" cy="477.9" r="1.8"/><circle cx="141.6" cy="477.8" r="1.8"/><circle cx="142.4" cy="477.7" r="1.8"/><circle cx="150.5" cy="477.7" r="1.8"/><circle cx="147.2" cy="477.7" r="1.8"/><circle cx="144.1" cy="477.7" r="1.8"/><circle cx="137.3" cy="477.6" r="1.8"/><circle cx="148.4" cy="477.5" r="1.8"/><circle cx="151.6" cy="477.5" r="1.8"/><circle cx="142.6" cy="477.5" r="1.8"/><circle cx="148.4" cy="477.1" r="1.8"/><circle cx="156.3" cy="477.0" r="1.8"/><circle cx="147.2" cy="477.0" r="1.8"/><circle cx="143.6" cy="476.9" r="1.8"/><circle cx="147.1" cy="476.9" r="1.8"/><circle cx="141.6" cy="476.8" r="1.9"/><circle cx="153.0" cy="476.4" r="1.9"/><circle cx="147.5" cy="476.4" r="1.9"/><circle cx="149.7" cy="476.4" r="1.9"/><circle cx="133.4" cy="476.4" r="1.9"/><circle cx="143.9" cy="476.1" r="1.9"/><circle cx="138.5" cy="476.1" r="1.9"/><circle cx="145.2" cy="476.0" r="1.9"/><circle cx="143.9" cy="475.8" r="1.9"/><circle cx="141.9" cy="475.8" r="1.9"/><circle cx="144.8" cy="475.8" r="1.9"/><circle cx="154.1" cy="475.0" r="1.9"/><circle cx="143.2" cy="474.7" r="1.9"/><circle cx="156.0" cy="474.7" r="1.9"/><circle cx="149.1" cy="474.6" r="1.9"/><circle cx="146.1" cy="474.5" r="1.9"/><circle cx="146.7" cy="474.5" r="1.9"/><circle cx="151.4" cy="474.4" r="1.9"/><circle cx="140.5" cy="474.3" r="1.9"/><circle cx="151.4" cy="474.1" r="1.9"/><circle cx="150.8" cy="473.8" r="1.9"/><circle cx="155.5" cy="473.7" r="1.9"/><circle cx="155.0" cy="473.7" r="1.9"/><circle cx="147.0" cy="473.6" r="1.9"/><circle cx="145.3" cy="473.6" r="1.9"/><circle cx="148.6" cy="473.5" r="1.9"/><circle cx="156.9" cy="473.4" r="1.9"/><circle cx="154.3" cy="473.2" r="1.9"/><circle cx="153.6" cy="473.0" r="1.9"/><circle cx="143.4" cy="472.9" r="1.9"/><circle cx="150.4" cy="472.6" r="1.9"/><circle cx="151.0" cy="472.5" r="1.9"/><circle cx="151.1" cy="472.0" r="1.9"/><circle cx="154.8" cy="471.7" r="1.9"/><circle cx="146.7" cy="471.6" r="1.9"/><circle cx="146.6" cy="471.5" r="1.9"/><circle cx="151.8" cy="471.4" r="1.9"/><circle cx="153.3" cy="471.2" r="1.9"/><circle cx="147.3" cy="471.1" r="1.9"/><circle cx="153.5" cy="470.9" r="1.9"/><circle cx="146.6" cy="470.7" r="1.9"/><circle cx="154.4" cy="470.7" r="1.9"/><circle cx="141.8" cy="470.3" r="1.9"/><circle cx="149.0" cy="470.3" r="1.9"/><circle cx="146.2" cy="470.3" r="1.9"/><circle cx="146.2" cy="470.2" r="1.9"/><circle cx="151.1" cy="470.2" r="1.9"/><circle cx="144.1" cy="470.1" r="1.9"/><circle cx="153.3" cy="469.7" r="1.9"/><circle cx="148.6" cy="469.6" r="1.9"/><circle cx="153.8" cy="469.4" r="1.9"/><circle cx="158.0" cy="469.1" r="1.9"/><circle cx="148.8" cy="469.1" r="1.9"/><circle cx="144.6" cy="469.1" r="1.9"/><circle cx="146.9" cy="469.0" r="1.9"/><circle cx="155.9" cy="468.9" r="1.9"/><circle cx="161.9" cy="468.6" r="1.9"/><circle cx="153.4" cy="468.6" r="1.9"/><circle cx="144.9" cy="468.5" r="1.9"/><circle cx="150.1" cy="468.5" r="1.9"/><circle cx="153.4" cy="468.4" r="1.9"/><circle cx="154.2" cy="468.3" r="1.9"/><circle cx="152.1" cy="468.2" r="1.9"/><circle cx="148.2" cy="468.1" r="1.9"/><circle cx="155.2" cy="468.0" r="1.9"/><circle cx="155.4" cy="467.8" r="1.9"/><circle cx="154.2" cy="467.3" r="1.9"/><circle cx="153.6" cy="467.2" r="1.9"/><circle cx="157.3" cy="466.9" r="1.9"/><circle cx="158.4" cy="466.9" r="1.9"/><circle cx="151.6" cy="466.6" r="1.9"/><circle cx="143.8" cy="466.6" r="1.9"/><circle cx="156.4" cy="466.5" r="1.9"/><circle cx="156.3" cy="466.4" r="1.9"/><circle cx="148.8" cy="466.4" r="1.9"/><circle cx="154.2" cy="466.1" r="1.9"/><circle cx="152.1" cy="465.9" r="1.9"/><circle cx="150.8" cy="465.7" r="1.9"/><circle cx="145.6" cy="465.7" r="1.9"/><circle cx="157.4" cy="465.6" r="1.9"/><circle cx="157.9" cy="465.6" r="1.9"/><circle cx="142.1" cy="465.5" r="1.9"/><circle cx="147.6" cy="465.4" r="1.9"/><circle cx="151.1" cy="465.3" r="1.9"/><circle cx="154.6" cy="465.0" r="1.9"/><circle cx="160.7" cy="464.9" r="1.9"/><circle cx="155.8" cy="464.9" r="1.9"/><circle cx="151.9" cy="464.8" r="1.9"/><circle cx="157.1" cy="464.7" r="1.9"/><circle cx="157.4" cy="464.2" r="1.9"/><circle cx="170.5" cy="464.1" r="1.9"/><circle cx="154.4" cy="464.1" r="1.9"/><circle cx="149.1" cy="463.7" r="1.9"/><circle cx="155.4" cy="463.3" r="1.9"/><circle cx="158.7" cy="463.3" r="1.9"/><circle cx="152.0" cy="463.0" r="1.9"/><circle cx="155.8" cy="462.4" r="1.9"/><circle cx="149.1" cy="462.3" r="1.9"/><circle cx="170.5" cy="462.1" r="1.9"/><circle cx="154.1" cy="462.1" r="1.9"/><circle cx="153.1" cy="462.0" r="1.9"/><circle cx="153.9" cy="462.0" r="1.9"/><circle cx="155.1" cy="461.9" r="1.9"/><circle cx="152.3" cy="461.8" r="1.9"/><circle cx="172.3" cy="461.8" r="1.9"/><circle cx="157.3" cy="461.7" r="1.9"/><circle cx="155.9" cy="461.4" r="1.9"/><circle cx="153.8" cy="461.4" r="1.9"/><circle cx="157.7" cy="461.3" r="1.9"/><circle cx="154.7" cy="461.2" r="1.9"/><circle cx="154.3" cy="461.1" r="1.9"/><circle cx="146.9" cy="460.2" r="1.9"/><circle cx="146.4" cy="459.5" r="1.9"/><circle cx="157.6" cy="459.4" r="1.9"/><circle cx="154.1" cy="459.4" r="1.9"/><circle cx="152.5" cy="459.1" r="1.9"/><circle cx="149.9" cy="458.8" r="1.9"/><circle cx="149.1" cy="458.8" r="1.9"/></g>
<rect x="97.4" y="450.8" width="8.4" height="0.3" fill="#8aa6dc" stroke="#2a2a3a" stroke-width="0.7"/>
<rect x="105.8" y="449.8" width="7.7" height="1.3" fill="#8aa6dc" stroke="#2a2a3a" stroke-width="0.7"/>
<rect x="113.5" y="448.4" width="8.1" height="2.7" fill="#8aa6dc" stroke="#2a2a3a" stroke-width="0.7"/>
<rect x="121.6" y="443.7" width="8.0" height="7.4" fill="#8aa6dc" stroke="#2a2a3a" stroke-width="0.7"/>
<rect x="129.6" y="437.7" width="7.4" height="13.4" fill="#8aa6dc" stroke="#2a2a3a" stroke-width="0.7"/>
<rect x="137" y="436.3" width="8.0" height="14.8" fill="#8aa6dc" stroke="#2a2a3a" stroke-width="0.7"/>
<rect x="145" y="441.4" width="7.8" height="9.7" fill="#8aa6dc" stroke="#2a2a3a" stroke-width="0.7"/>
<rect x="152.8" y="446.4" width="7.7" height="4.7" fill="#8aa6dc" stroke="#2a2a3a" stroke-width="0.7"/>
<rect x="160.5" y="449.1" width="7.4" height="2" fill="#8aa6dc" stroke="#2a2a3a" stroke-width="0.7"/>
<rect x="167.9" y="450.4" width="7.4" height="0.7" fill="#8aa6dc" stroke="#2a2a3a" stroke-width="0.7"/>
<line x1="90" y1="451.1" x2="180" y2="451.1" stroke="#2a2a3a" stroke-width="0.7"/>
<rect x="198.8" y="458.9" width="2" height="16.8" fill="#8aa6dc" stroke="#2a2a3a" stroke-width="0.7"/>
<rect x="198.8" y="475.7" width="3.3" height="16.1" fill="#8aa6dc" stroke="#2a2a3a" stroke-width="0.7"/>
<rect x="198.8" y="491.8" width="4" height="16.5" fill="#8aa6dc" stroke="#2a2a3a" stroke-width="0.7"/>
<rect x="198.8" y="508.3" width="4.7" height="16.1" fill="#8aa6dc" stroke="#2a2a3a" stroke-width="0.7"/>
<rect x="198.8" y="524.4" width="7" height="16.1" fill="#8aa6dc" stroke="#2a2a3a" stroke-width="0.7"/>
<rect x="198.8" y="540.5" width="10.1" height="16.8" fill="#8aa6dc" stroke="#2a2a3a" stroke-width="0.7"/>
<rect x="198.8" y="557.3" width="12.1" height="16.5" fill="#8aa6dc" stroke="#2a2a3a" stroke-width="0.7"/>
<rect x="198.8" y="573.8" width="14.8" height="16.1" fill="#8aa6dc" stroke="#2a2a3a" stroke-width="0.7"/>
<rect x="198.8" y="589.9" width="7.7" height="16.8" fill="#8aa6dc" stroke="#2a2a3a" stroke-width="0.7"/>
<line x1="198.8" y1="455" x2="198.8" y2="607" stroke="#2a2a3a" stroke-width="0.8"/>
<text x="40.5" y="467.6" font-size="7.4" text-anchor="end" fill="#555">10</text>
<text x="40.5" y="514.2" font-size="7.4" text-anchor="end" fill="#555">8</text>
<text x="40.5" y="561.2" font-size="7.4" text-anchor="end" fill="#555">6</text>
<text x="40.5" y="607.6" font-size="7.4" text-anchor="end" fill="#555">4</text>
<text x="63.8" y="617" font-size="7.4" text-anchor="middle" fill="#555">0.5</text>
<text x="95.7" y="617" font-size="7.4" text-anchor="middle" fill="#555">0.6</text>
<text x="128.3" y="617" font-size="7.4" text-anchor="middle" fill="#555">0.7</text>
<text x="160.2" y="617" font-size="7.4" text-anchor="middle" fill="#555">0.8</text>
<text x="191.4" y="617" font-size="7.4" text-anchor="middle" fill="#555">0.9</text>
<text x="76.6" y="634.8" font-size="13" textLength="89.6" lengthAdjust="spacingAndGlyphs">Per-Peak AUROC</text>
<text transform="translate(25.2 571.4) rotate(-90)" font-size="13" textLength="78.9" lengthAdjust="spacingAndGlyphs">log2 Cell Count</text>
<g fill-opacity="0.78"><circle cx="412.3" cy="509.2" r="2.45" fill="#9ccae0"/><circle cx="490.4" cy="301.8" r="2.45" fill="#8ea7de"/><circle cx="477.1" cy="299.6" r="2.45" fill="#8ea7de"/><circle cx="484.8" cy="280.1" r="2.45" fill="#8ea7de"/><circle cx="480.4" cy="345.1" r="2.45" fill="#8ea7de"/><circle cx="399.5" cy="347.7" r="2.45" fill="#8ea7de"/><circle cx="410.5" cy="489.5" r="2.45" fill="#9ccae0"/><circle cx="403.3" cy="301.2" r="2.45" fill="#8ea7de"/><circle cx="460.2" cy="457.6" r="2.45" fill="#9ccae0"/><circle cx="507.1" cy="485.3" r="2.45" fill="#d6dfe4"/><circle cx="453.2" cy="479.2" r="2.45" fill="#9ccae0"/><circle cx="414.1" cy="482.2" r="2.45" fill="#9ccae0"/><circle cx="437.8" cy="298.8" r="2.45" fill="#8ea7de"/><circle cx="456.7" cy="319.2" r="2.45" fill="#8ea7de"/><circle cx="411.5" cy="334.2" r="2.45" fill="#b9b9bf"/><circle cx="409.7" cy="337.6" r="2.45" fill="#8ea7de"/><circle cx="424.8" cy="487.5" r="2.45" fill="#9ccae0"/><circle cx="596.3" cy="431.4" r="2.45" fill="#5e9a9b"/><circle cx="455.8" cy="326.4" r="2.45" fill="#8ea7de"/><circle cx="482.7" cy="416.4" r="2.45" fill="#9ccae0"/><circle cx="572.9" cy="436.1" r="2.45" fill="#d6dfe4"/><circle cx="540.9" cy="475.6" r="2.45" fill="#5e9a9b"/><circle cx="566.2" cy="420.6" r="2.45" fill="#d6dfe4"/><circle cx="606.0" cy="467.8" r="2.45" fill="#d6dfe4"/><circle cx="596.6" cy="459.4" r="2.45" fill="#d6dfe4"/><circle cx="369.6" cy="299.2" r="2.45" fill="#8ea7de"/><circle cx="460.0" cy="309.1" r="2.45" fill="#8ea7de"/><circle cx="396.7" cy="544.5" r="2.45" fill="#e2d1dc"/><circle cx="408.9" cy="478.2" r="2.45" fill="#9ccae0"/><circle cx="470.0" cy="335.6" r="2.45" fill="#8ea7de"/><circle cx="396.9" cy="404.1" r="2.45" fill="#eadccb"/><circle cx="439.7" cy="316.5" r="2.45" fill="#8ea7de"/><circle cx="408.9" cy="306.5" r="2.45" fill="#8ea7de"/><circle cx="527.6" cy="539.9" r="2.45" fill="#9ccae0"/><circle cx="504.7" cy="445.7" r="2.45" fill="#d6dfe4"/><circle cx="445.3" cy="362.6" r="2.45" fill="#8ea7de"/><circle cx="504.0" cy="443.9" r="2.45" fill="#d6dfe4"/><circle cx="541.9" cy="557.7" r="2.45" fill="#9ccae0"/><circle cx="429.5" cy="298.6" r="2.45" fill="#8ea7de"/><circle cx="439.6" cy="506.7" r="2.45" fill="#9ccae0"/><circle cx="470.3" cy="405.6" r="2.45" fill="#9ccae0"/><circle cx="431.5" cy="316.0" r="2.45" fill="#8ea7de"/><circle cx="611.6" cy="423.8" r="2.45" fill="#d6dfe4"/><circle cx="456.5" cy="428.5" r="2.45" fill="#9ccae0"/><circle cx="405.3" cy="329.3" r="2.45" fill="#8ea7de"/><circle cx="420.1" cy="488.1" r="2.45" fill="#9ccae0"/><circle cx="481.3" cy="386.1" r="2.45" fill="#eadccb"/><circle cx="249.7" cy="354.4" r="2.45" fill="#6f6da8"/><circle cx="441.5" cy="468.8" r="2.45" fill="#9ccae0"/><circle cx="381.8" cy="548.3" r="2.45" fill="#e2d1dc"/><circle cx="587.6" cy="467.3" r="2.45" fill="#d6dfe4"/><circle cx="462.0" cy="327.7" r="2.45" fill="#8ea7de"/><circle cx="466.6" cy="428.8" r="2.45" fill="#9ccae0"/><circle cx="399.2" cy="531.0" r="2.45" fill="#e2d1dc"/><circle cx="425.7" cy="308.9" r="2.45" fill="#8ea7de"/><circle cx="391.3" cy="386.9" r="2.45" fill="#eadccb"/><circle cx="394.5" cy="370.3" r="2.45" fill="#8ea7de"/><circle cx="464.1" cy="305.9" r="2.45" fill="#8ea7de"/><circle cx="437.5" cy="337.4" r="2.45" fill="#b9b9bf"/><circle cx="430.0" cy="293.4" r="2.45" fill="#8ea7de"/><circle cx="428.3" cy="489.1" r="2.45" fill="#9ccae0"/><circle cx="525.2" cy="535.8" r="2.45" fill="#9ccae0"/><circle cx="449.0" cy="500.9" r="2.45" fill="#9ccae0"/><circle cx="273.5" cy="341.7" r="2.45" fill="#6f6da8"/><circle cx="536.2" cy="538.2" r="2.45" fill="#9ccae0"/><circle cx="600.3" cy="456.8" r="2.45" fill="#d6dfe4"/><circle cx="426.8" cy="333.7" r="2.45" fill="#8ea7de"/><circle cx="471.1" cy="406.7" r="2.45" fill="#9ccae0"/><circle cx="444.1" cy="336.9" r="2.45" fill="#9ccae0"/><circle cx="479.4" cy="447.3" r="2.45" fill="#9ccae0"/><circle cx="538.2" cy="551.9" r="2.45" fill="#9ccae0"/><circle cx="354.5" cy="535.3" r="2.45" fill="#e2d1dc"/><circle cx="577.3" cy="437.2" r="2.45" fill="#d6dfe4"/><circle cx="371.2" cy="528.4" r="2.45" fill="#e2d1dc"/><circle cx="546.7" cy="437.5" r="2.45" fill="#d6dfe4"/><circle cx="481.9" cy="509.7" r="2.45" fill="#9ccae0"/><circle cx="372.4" cy="521.9" r="2.45" fill="#e2d1dc"/><circle cx="536.3" cy="467.9" r="2.45" fill="#d6dfe4"/><circle cx="426.1" cy="333.2" r="2.45" fill="#8ea7de"/><circle cx="437.6" cy="336.1" r="2.45" fill="#8ea7de"/><circle cx="394.5" cy="491.0" r="2.45" fill="#9ccae0"/><circle cx="479.8" cy="469.6" r="2.45" fill="#5e9a9b"/><circle cx="529.3" cy="420.6" r="2.45" fill="#d6dfe4"/><circle cx="424.9" cy="465.4" r="2.45" fill="#9ccae0"/><circle cx="505.7" cy="460.3" r="2.45" fill="#5e9a9b"/><circle cx="373.6" cy="343.0" r="2.45" fill="#8ea7de"/><circle cx="469.9" cy="522.0" r="2.45" fill="#9ccae0"/><circle cx="399.4" cy="282.7" r="2.45" fill="#8ea7de"/><circle cx="559.7" cy="415.5" r="2.45" fill="#d6dfe4"/><circle cx="586.8" cy="439.2" r="2.45" fill="#d6dfe4"/><circle cx="458.8" cy="488.7" r="2.45" fill="#9ccae0"/><circle cx="380.9" cy="491.4" r="2.45" fill="#9ccae0"/><circle cx="420.1" cy="482.1" r="2.45" fill="#9ccae0"/><circle cx="531.9" cy="556.3" r="2.45" fill="#9ccae0"/><circle cx="574.3" cy="473.0" r="2.45" fill="#d6dfe4"/><circle cx="472.2" cy="435.9" r="2.45" fill="#9ccae0"/><circle cx="385.0" cy="534.8" r="2.45" fill="#e2d1dc"/><circle cx="428.7" cy="324.5" r="2.45" fill="#b9b9bf"/><circle cx="578.7" cy="425.9" r="2.45" fill="#d6dfe4"/><circle cx="425.1" cy="314.9" r="2.45" fill="#8ea7de"/><circle cx="566.1" cy="495.8" r="2.45" fill="#5e9a9b"/><circle cx="432.6" cy="300.1" r="2.45" fill="#8ea7de"/><circle cx="381.2" cy="532.4" r="2.45" fill="#e2d1dc"/><circle cx="423.0" cy="368.9" r="2.45" fill="#8ea7de"/><circle cx="463.5" cy="420.7" r="2.45" fill="#9ccae0"/><circle cx="601.1" cy="452.3" r="2.45" fill="#d6dfe4"/><circle cx="416.0" cy="330.9" r="2.45" fill="#b9b9bf"/><circle cx="440.9" cy="322.3" r="2.45" fill="#8ea7de"/><circle cx="491.7" cy="367.6" r="2.45" fill="#eadccb"/><circle cx="480.2" cy="456.3" r="2.45" fill="#9ccae0"/><circle cx="486.5" cy="464.7" r="2.45" fill="#d6dfe4"/><circle cx="429.1" cy="445.4" r="2.45" fill="#9ccae0"/><circle cx="348.8" cy="510.5" r="2.45" fill="#e2d1dc"/><circle cx="393.0" cy="370.6" r="2.45" fill="#eadccb"/><circle cx="520.8" cy="471.7" r="2.45" fill="#5e9a9b"/><circle cx="438.8" cy="300.5" r="2.45" fill="#8ea7de"/><circle cx="630.7" cy="464.9" r="2.45" fill="#5e9a9b"/><circle cx="587.6" cy="460.8" r="2.45" fill="#d6dfe4"/><circle cx="398.8" cy="498.4" r="2.45" fill="#9ccae0"/><circle cx="335.5" cy="398.4" r="2.45" fill="#e3cdb8"/><circle cx="624.2" cy="449.1" r="2.45" fill="#d6dfe4"/><circle cx="409.6" cy="494.6" r="2.45" fill="#9ccae0"/><circle cx="496.6" cy="521.9" r="2.45" fill="#9ccae0"/><circle cx="291.4" cy="342.7" r="2.45" fill="#6f6da8"/><circle cx="578.8" cy="494.7" r="2.45" fill="#d6dfe4"/><circle cx="468.4" cy="479.5" r="2.45" fill="#9ccae0"/><circle cx="615.9" cy="432.4" r="2.45" fill="#d6dfe4"/><circle cx="451.1" cy="301.1" r="2.45" fill="#8ea7de"/><circle cx="442.6" cy="300.5" r="2.45" fill="#8ea7de"/><circle cx="443.0" cy="301.7" r="2.45" fill="#8ea7de"/><circle cx="448.4" cy="284.6" r="2.45" fill="#8ea7de"/><circle cx="558.2" cy="416.0" r="2.45" fill="#d6dfe4"/><circle cx="598.9" cy="456.5" r="2.45" fill="#5e9a9b"/><circle cx="361.6" cy="346.2" r="2.45" fill="#8ea7de"/><circle cx="421.1" cy="339.6" r="2.45" fill="#8ea7de"/><circle cx="608.2" cy="461.4" r="2.45" fill="#d6dfe4"/><circle cx="336.4" cy="336.7" r="2.45" fill="#8ea7de"/><circle cx="605.5" cy="434.0" r="2.45" fill="#5e9a9b"/><circle cx="580.0" cy="427.7" r="2.45" fill="#d6dfe4"/><circle cx="626.9" cy="447.9" r="2.45" fill="#d6dfe4"/><circle cx="540.0" cy="559.3" r="2.45" fill="#9ccae0"/><circle cx="470.3" cy="426.9" r="2.45" fill="#9ccae0"/><circle cx="338.0" cy="406.4" r="2.45" fill="#e3cdb8"/><circle cx="387.1" cy="504.6" r="2.45" fill="#9ccae0"/><circle cx="512.8" cy="524.6" r="2.45" fill="#9ccae0"/><circle cx="462.8" cy="243.5" r="2.45" fill="#dcb186"/><circle cx="267.7" cy="353.1" r="2.45" fill="#6f6da8"/><circle cx="592.4" cy="441.4" r="2.45" fill="#d6dfe4"/><circle cx="522.7" cy="481.9" r="2.45" fill="#5e9a9b"/><circle cx="486.6" cy="382.9" r="2.45" fill="#eadccb"/><circle cx="417.1" cy="340.9" r="2.45" fill="#8ea7de"/><circle cx="523.3" cy="539.6" r="2.45" fill="#9ccae0"/><circle cx="404.6" cy="358.6" r="2.45" fill="#eadccb"/><circle cx="576.9" cy="454.0" r="2.45" fill="#d6dfe4"/><circle cx="436.5" cy="321.4" r="2.45" fill="#8ea7de"/><circle cx="418.4" cy="489.7" r="2.45" fill="#9ccae0"/><circle cx="432.0" cy="326.5" r="2.45" fill="#9ccae0"/><circle cx="472.7" cy="321.1" r="2.45" fill="#8ea7de"/><circle cx="421.3" cy="301.7" r="2.45" fill="#8ea7de"/><circle cx="277.2" cy="363.5" r="2.45" fill="#6f6da8"/><circle cx="431.3" cy="357.4" r="2.45" fill="#8ea7de"/><circle cx="624.7" cy="469.2" r="2.45" fill="#d6dfe4"/><circle cx="430.9" cy="304.6" r="2.45" fill="#8ea7de"/><circle cx="472.3" cy="251.1" r="2.45" fill="#dcb186"/><circle cx="431.0" cy="326.6" r="2.45" fill="#8ea7de"/><circle cx="535.5" cy="428.5" r="2.45" fill="#d6dfe4"/><circle cx="538.5" cy="565.3" r="2.45" fill="#9ccae0"/><circle cx="530.7" cy="476.3" r="2.45" fill="#d6dfe4"/><circle cx="428.9" cy="349.8" r="2.45" fill="#8ea7de"/><circle cx="363.4" cy="405.3" r="2.45" fill="#eadccb"/><circle cx="596.9" cy="450.7" r="2.45" fill="#d6dfe4"/><circle cx="453.2" cy="303.6" r="2.45" fill="#8ea7de"/><circle cx="425.3" cy="510.3" r="2.45" fill="#9ccae0"/><circle cx="466.2" cy="439.1" r="2.45" fill="#9ccae0"/><circle cx="285.9" cy="326.3" r="2.45" fill="#6f6da8"/><circle cx="552.7" cy="549.4" r="2.45" fill="#9ccae0"/><circle cx="589.3" cy="475.3" r="2.45" fill="#d6dfe4"/><circle cx="404.5" cy="531.4" r="2.45" fill="#e2d1dc"/><circle cx="596.4" cy="463.2" r="2.45" fill="#d6dfe4"/><circle cx="437.1" cy="489.2" r="2.45" fill="#9ccae0"/><circle cx="534.7" cy="547.1" r="2.45" fill="#9ccae0"/><circle cx="510.1" cy="420.9" r="2.45" fill="#5e9a9b"/><circle cx="483.0" cy="412.4" r="2.45" fill="#9ccae0"/><circle cx="409.1" cy="376.8" r="2.45" fill="#eadccb"/><circle cx="447.3" cy="314.2" r="2.45" fill="#8ea7de"/><circle cx="423.5" cy="530.1" r="2.45" fill="#e2d1dc"/><circle cx="484.7" cy="388.3" r="2.45" fill="#eadccb"/><circle cx="419.6" cy="470.4" r="2.45" fill="#9ccae0"/><circle cx="520.7" cy="484.6" r="2.45" fill="#d6dfe4"/><circle cx="474.3" cy="269.7" r="2.45" fill="#8ea7de"/><circle cx="453.7" cy="435.6" r="2.45" fill="#9ccae0"/><circle cx="377.3" cy="397.9" r="2.45" fill="#eadccb"/><circle cx="405.1" cy="495.6" r="2.45" fill="#9ccae0"/><circle cx="336.8" cy="534.2" r="2.45" fill="#5e9a9b"/><circle cx="432.4" cy="367.8" r="2.45" fill="#8ea7de"/><circle cx="395.7" cy="532.0" r="2.45" fill="#9ccae0"/><circle cx="464.0" cy="314.6" r="2.45" fill="#8ea7de"/><circle cx="368.5" cy="388.9" r="2.45" fill="#eadccb"/><circle cx="517.6" cy="524.6" r="2.45" fill="#9ccae0"/><circle cx="477.2" cy="262.7" r="2.45" fill="#dcb186"/><circle cx="505.9" cy="458.2" r="2.45" fill="#d6dfe4"/><circle cx="430.4" cy="329.8" r="2.45" fill="#8ea7de"/><circle cx="465.3" cy="346.7" r="2.45" fill="#8ea7de"/><circle cx="396.2" cy="327.4" r="2.45" fill="#b9b9bf"/><circle cx="442.5" cy="340.2" r="2.45" fill="#8ea7de"/><circle cx="484.8" cy="436.1" r="2.45" fill="#9ccae0"/><circle cx="401.7" cy="373.2" r="2.45" fill="#8ea7de"/><circle cx="487.0" cy="372.7" r="2.45" fill="#eadccb"/><circle cx="380.5" cy="406.6" r="2.45" fill="#eadccb"/><circle cx="611.3" cy="441.4" r="2.45" fill="#d6dfe4"/><circle cx="423.3" cy="295.8" r="2.45" fill="#8ea7de"/><circle cx="446.2" cy="287.0" r="2.45" fill="#8ea7de"/><circle cx="427.3" cy="285.4" r="2.45" fill="#8ea7de"/><circle cx="431.3" cy="506.6" r="2.45" fill="#9ccae0"/><circle cx="440.3" cy="309.4" r="2.45" fill="#8ea7de"/><circle cx="594.0" cy="471.5" r="2.45" fill="#d6dfe4"/><circle cx="562.4" cy="493.1" r="2.45" fill="#d6dfe4"/><circle cx="439.6" cy="345.9" r="2.45" fill="#8ea7de"/><circle cx="333.2" cy="404.2" r="2.45" fill="#e3cdb8"/><circle cx="371.6" cy="400.9" r="2.45" fill="#eadccb"/><circle cx="488.1" cy="456.2" r="2.45" fill="#5e9a9b"/><circle cx="448.4" cy="293.4" r="2.45" fill="#8ea7de"/><circle cx="375.0" cy="534.2" r="2.45" fill="#e2d1dc"/><circle cx="440.7" cy="326.5" r="2.45" fill="#8ea7de"/><circle cx="502.7" cy="377.8" r="2.45" fill="#eadccb"/><circle cx="451.8" cy="343.2" r="2.45" fill="#8ea7de"/><circle cx="417.4" cy="506.7" r="2.45" fill="#9ccae0"/><circle cx="594.5" cy="466.6" r="2.45" fill="#5e9a9b"/><circle cx="428.7" cy="343.0" r="2.45" fill="#8ea7de"/><circle cx="538.9" cy="425.4" r="2.45" fill="#d6dfe4"/><circle cx="370.8" cy="400.0" r="2.45" fill="#eadccb"/><circle cx="519.6" cy="474.6" r="2.45" fill="#5e9a9b"/><circle cx="539.9" cy="559.3" r="2.45" fill="#9ccae0"/><circle cx="455.1" cy="310.6" r="2.45" fill="#8ea7de"/><circle cx="373.6" cy="529.7" r="2.45" fill="#e2d1dc"/><circle cx="387.6" cy="381.7" r="2.45" fill="#8ea7de"/><circle cx="525.2" cy="490.3" r="2.45" fill="#5e9a9b"/><circle cx="488.6" cy="260.5" r="2.45" fill="#dcb186"/><circle cx="577.4" cy="460.4" r="2.45" fill="#d6dfe4"/><circle cx="479.5" cy="531.4" r="2.45" fill="#9ccae0"/><circle cx="421.9" cy="529.0" r="2.45" fill="#9ccae0"/><circle cx="594.0" cy="465.2" r="2.45" fill="#d6dfe4"/><circle cx="565.5" cy="436.9" r="2.45" fill="#d6dfe4"/><circle cx="492.1" cy="449.0" r="2.45" fill="#d6dfe4"/><circle cx="387.1" cy="353.7" r="2.45" fill="#8ea7de"/><circle cx="416.8" cy="291.7" r="2.45" fill="#8ea7de"/><circle cx="412.9" cy="486.3" r="2.45" fill="#9ccae0"/><circle cx="567.6" cy="464.9" r="2.45" fill="#d6dfe4"/><circle cx="571.9" cy="490.1" r="2.45" fill="#d6dfe4"/><circle cx="356.2" cy="534.5" r="2.45" fill="#e2d1dc"/><circle cx="356.3" cy="313.0" r="2.45" fill="#8ea7de"/><circle cx="572.9" cy="433.4" r="2.45" fill="#5e9a9b"/><circle cx="409.9" cy="340.0" r="2.45" fill="#8ea7de"/><circle cx="524.3" cy="475.0" r="2.45" fill="#d6dfe4"/><circle cx="497.0" cy="385.2" r="2.45" fill="#eadccb"/><circle cx="528.4" cy="555.2" r="2.45" fill="#9ccae0"/><circle cx="472.5" cy="443.6" r="2.45" fill="#5e9a9b"/><circle cx="506.3" cy="550.1" r="2.45" fill="#9ccae0"/><circle cx="285.9" cy="354.0" r="2.45" fill="#6f6da8"/><circle cx="498.9" cy="384.0" r="2.45" fill="#eadccb"/><circle cx="452.9" cy="314.5" r="2.45" fill="#8ea7de"/><circle cx="569.2" cy="487.6" r="2.45" fill="#d6dfe4"/><circle cx="413.2" cy="303.0" r="2.45" fill="#8ea7de"/><circle cx="571.2" cy="441.3" r="2.45" fill="#d6dfe4"/><circle cx="579.8" cy="475.6" r="2.45" fill="#d6dfe4"/><circle cx="475.5" cy="243.2" r="2.45" fill="#dcb186"/><circle cx="568.3" cy="448.8" r="2.45" fill="#d6dfe4"/><circle cx="309.3" cy="346.9" r="2.45" fill="#8ea7de"/><circle cx="448.3" cy="337.7" r="2.45" fill="#8ea7de"/><circle cx="376.0" cy="476.4" r="2.45" fill="#9ccae0"/><circle cx="612.3" cy="480.4" r="2.45" fill="#d6dfe4"/><circle cx="458.5" cy="413.1" r="2.45" fill="#9ccae0"/><circle cx="424.2" cy="322.8" r="2.45" fill="#b9b9bf"/><circle cx="415.0" cy="329.3" r="2.45" fill="#b9b9bf"/><circle cx="287.3" cy="352.9" r="2.45" fill="#6f6da8"/><circle cx="460.2" cy="285.3" r="2.45" fill="#8ea7de"/><circle cx="614.3" cy="460.7" r="2.45" fill="#d6dfe4"/><circle cx="420.4" cy="321.3" r="2.45" fill="#b9b9bf"/><circle cx="523.6" cy="541.0" r="2.45" fill="#9ccae0"/><circle cx="505.1" cy="519.0" r="2.45" fill="#9ccae0"/><circle cx="509.0" cy="464.6" r="2.45" fill="#d6dfe4"/><circle cx="624.0" cy="460.5" r="2.45" fill="#d6dfe4"/><circle cx="415.6" cy="335.9" r="2.45" fill="#8ea7de"/><circle cx="454.6" cy="426.0" r="2.45" fill="#9ccae0"/><circle cx="572.8" cy="456.3" r="2.45" fill="#d6dfe4"/><circle cx="396.3" cy="533.4" r="2.45" fill="#e2d1dc"/><circle cx="383.2" cy="538.9" r="2.45" fill="#e2d1dc"/><circle cx="541.7" cy="414.0" r="2.45" fill="#d6dfe4"/><circle cx="389.4" cy="349.8" r="2.45" fill="#eadccb"/><circle cx="386.8" cy="383.2" r="2.45" fill="#eadccb"/><circle cx="461.8" cy="280.8" r="2.45" fill="#8ea7de"/><circle cx="429.2" cy="317.4" r="2.45" fill="#8ea7de"/><circle cx="585.5" cy="437.6" r="2.45" fill="#d6dfe4"/><circle cx="327.2" cy="399.4" r="2.45" fill="#e3cdb8"/><circle cx="511.5" cy="530.4" r="2.45" fill="#9ccae0"/><circle cx="349.4" cy="350.4" r="2.45" fill="#8ea7de"/><circle cx="398.4" cy="321.5" r="2.45" fill="#8ea7de"/><circle cx="525.1" cy="529.2" r="2.45" fill="#9ccae0"/><circle cx="428.4" cy="344.7" r="2.45" fill="#8ea7de"/><circle cx="520.3" cy="483.2" r="2.45" fill="#d6dfe4"/><circle cx="535.8" cy="423.2" r="2.45" fill="#d6dfe4"/><circle cx="493.1" cy="471.9" r="2.45" fill="#d6dfe4"/><circle cx="423.7" cy="385.2" r="2.45" fill="#8ea7de"/><circle cx="348.9" cy="418.4" r="2.45" fill="#e3cdb8"/><circle cx="299.3" cy="336.5" r="2.45" fill="#6f6da8"/><circle cx="394.4" cy="476.3" r="2.45" fill="#9ccae0"/><circle cx="298.6" cy="337.6" r="2.45" fill="#6f6da8"/><circle cx="454.1" cy="461.0" r="2.45" fill="#9ccae0"/><circle cx="453.2" cy="397.3" r="2.45" fill="#9ccae0"/><circle cx="359.1" cy="342.1" r="2.45" fill="#8ea7de"/><circle cx="354.0" cy="398.3" r="2.45" fill="#e3cdb8"/><circle cx="448.8" cy="307.1" r="2.45" fill="#8ea7de"/><circle cx="479.5" cy="255.7" r="2.45" fill="#dcb186"/><circle cx="429.5" cy="339.6" r="2.45" fill="#b9b9bf"/><circle cx="487.4" cy="474.1" r="2.45" fill="#5e9a9b"/><circle cx="528.6" cy="445.1" r="2.45" fill="#d6dfe4"/><circle cx="493.0" cy="501.7" r="2.45" fill="#9ccae0"/><circle cx="591.6" cy="498.4" r="2.45" fill="#5e9a9b"/><circle cx="426.5" cy="384.6" r="2.45" fill="#8ea7de"/><circle cx="484.0" cy="515.5" r="2.45" fill="#9ccae0"/><circle cx="472.2" cy="448.6" r="2.45" fill="#9ccae0"/><circle cx="454.5" cy="359.6" r="2.45" fill="#8ea7de"/><circle cx="466.8" cy="244.8" r="2.45" fill="#dcb186"/><circle cx="438.1" cy="474.5" r="2.45" fill="#9ccae0"/><circle cx="333.4" cy="523.4" r="2.45" fill="#e2d1dc"/><circle cx="441.0" cy="316.4" r="2.45" fill="#8ea7de"/><circle cx="340.9" cy="351.7" r="2.45" fill="#8ea7de"/><circle cx="455.9" cy="433.1" r="2.45" fill="#9ccae0"/><circle cx="403.5" cy="394.3" r="2.45" fill="#eadccb"/><circle cx="498.0" cy="460.5" r="2.45" fill="#d6dfe4"/><circle cx="595.3" cy="436.7" r="2.45" fill="#d6dfe4"/><circle cx="443.5" cy="334.8" r="2.45" fill="#b9b9bf"/><circle cx="599.8" cy="455.2" r="2.45" fill="#d6dfe4"/><circle cx="449.0" cy="459.6" r="2.45" fill="#d6dfe4"/><circle cx="452.4" cy="301.6" r="2.45" fill="#8ea7de"/><circle cx="590.8" cy="448.9" r="2.45" fill="#d6dfe4"/><circle cx="475.1" cy="382.8" r="2.45" fill="#eadccb"/><circle cx="526.9" cy="475.0" r="2.45" fill="#d6dfe4"/><circle cx="437.6" cy="339.1" r="2.45" fill="#9ccae0"/><circle cx="453.1" cy="372.0" r="2.45" fill="#8ea7de"/><circle cx="376.8" cy="332.1" r="2.45" fill="#8ea7de"/><circle cx="464.1" cy="335.0" r="2.45" fill="#8ea7de"/><circle cx="565.3" cy="415.4" r="2.45" fill="#d6dfe4"/><circle cx="466.8" cy="314.6" r="2.45" fill="#8ea7de"/><circle cx="520.4" cy="464.1" r="2.45" fill="#d6dfe4"/><circle cx="379.6" cy="378.0" r="2.45" fill="#eadccb"/><circle cx="446.6" cy="386.2" r="2.45" fill="#8ea7de"/><circle cx="512.2" cy="459.0" r="2.45" fill="#d6dfe4"/><circle cx="628.3" cy="452.1" r="2.45" fill="#d6dfe4"/><circle cx="378.6" cy="371.4" r="2.45" fill="#eadccb"/><circle cx="386.4" cy="498.6" r="2.45" fill="#9ccae0"/><circle cx="528.8" cy="459.1" r="2.45" fill="#d6dfe4"/><circle cx="586.9" cy="426.4" r="2.45" fill="#5e9a9b"/><circle cx="452.6" cy="329.9" r="2.45" fill="#8ea7de"/><circle cx="366.4" cy="530.5" r="2.45" fill="#e2d1dc"/><circle cx="480.3" cy="258.5" r="2.45" fill="#dcb186"/><circle cx="384.9" cy="527.4" r="2.45" fill="#e2d1dc"/><circle cx="465.6" cy="298.1" r="2.45" fill="#8ea7de"/><circle cx="580.3" cy="442.6" r="2.45" fill="#d6dfe4"/><circle cx="502.8" cy="486.2" r="2.45" fill="#5e9a9b"/><circle cx="481.1" cy="458.1" r="2.45" fill="#d6dfe4"/><circle cx="536.1" cy="559.2" r="2.45" fill="#9ccae0"/><circle cx="488.3" cy="368.2" r="2.45" fill="#eadccb"/><circle cx="613.4" cy="473.5" r="2.45" fill="#d6dfe4"/><circle cx="296.2" cy="344.7" r="2.45" fill="#6f6da8"/><circle cx="423.6" cy="494.8" r="2.45" fill="#9ccae0"/><circle cx="519.5" cy="468.7" r="2.45" fill="#d6dfe4"/><circle cx="411.8" cy="326.6" r="2.45" fill="#b9b9bf"/><circle cx="532.5" cy="542.6" r="2.45" fill="#9ccae0"/><circle cx="454.1" cy="355.1" r="2.45" fill="#8ea7de"/><circle cx="597.1" cy="450.5" r="2.45" fill="#d6dfe4"/><circle cx="444.6" cy="483.7" r="2.45" fill="#9ccae0"/><circle cx="438.1" cy="498.9" r="2.45" fill="#9ccae0"/><circle cx="418.6" cy="505.7" r="2.45" fill="#9ccae0"/><circle cx="414.2" cy="302.7" r="2.45" fill="#8ea7de"/><circle cx="359.8" cy="384.4" r="2.45" fill="#eadccb"/><circle cx="431.0" cy="503.0" r="2.45" fill="#9ccae0"/><circle cx="425.4" cy="289.6" r="2.45" fill="#8ea7de"/><circle cx="433.2" cy="348.7" r="2.45" fill="#8ea7de"/><circle cx="598.4" cy="410.6" r="2.45" fill="#d6dfe4"/><circle cx="506.1" cy="378.7" r="2.45" fill="#eadccb"/><circle cx="594.6" cy="474.6" r="2.45" fill="#d6dfe4"/><circle cx="631.5" cy="472.7" r="2.45" fill="#5e9a9b"/><circle cx="472.1" cy="337.7" r="2.45" fill="#9ccae0"/><circle cx="407.6" cy="315.8" r="2.45" fill="#8ea7de"/><circle cx="423.8" cy="480.7" r="2.45" fill="#9ccae0"/><circle cx="616.5" cy="465.3" r="2.45" fill="#d6dfe4"/><circle cx="550.2" cy="418.7" r="2.45" fill="#d6dfe4"/><circle cx="524.0" cy="520.4" r="2.45" fill="#9ccae0"/><circle cx="424.8" cy="486.9" r="2.45" fill="#9ccae0"/><circle cx="555.6" cy="422.0" r="2.45" fill="#d6dfe4"/><circle cx="540.6" cy="472.7" r="2.45" fill="#5e9a9b"/><circle cx="405.7" cy="359.9" r="2.45" fill="#eadccb"/><circle cx="399.8" cy="388.6" r="2.45" fill="#eadccb"/><circle cx="346.8" cy="394.0" r="2.45" fill="#e3cdb8"/><circle cx="408.9" cy="330.5" r="2.45" fill="#b9b9bf"/><circle cx="301.2" cy="344.3" r="2.45" fill="#6f6da8"/><circle cx="476.0" cy="297.8" r="2.45" fill="#8ea7de"/><circle cx="541.2" cy="537.7" r="2.45" fill="#9ccae0"/><circle cx="439.9" cy="352.5" r="2.45" fill="#8ea7de"/><circle cx="591.7" cy="434.7" r="2.45" fill="#d6dfe4"/><circle cx="533.6" cy="550.2" r="2.45" fill="#9ccae0"/><circle cx="488.9" cy="264.3" r="2.45" fill="#dcb186"/><circle cx="374.1" cy="514.3" r="2.45" fill="#e2d1dc"/><circle cx="417.5" cy="518.6" r="2.45" fill="#9ccae0"/><circle cx="283.3" cy="341.4" r="2.45" fill="#6f6da8"/><circle cx="570.1" cy="426.6" r="2.45" fill="#5e9a9b"/><circle cx="474.7" cy="476.7" r="2.45" fill="#5e9a9b"/><circle cx="517.1" cy="436.9" r="2.45" fill="#d6dfe4"/><circle cx="647.0" cy="465.7" r="2.45" fill="#d6dfe4"/><circle cx="350.9" cy="546.0" r="2.45" fill="#e2d1dc"/><circle cx="494.0" cy="375.0" r="2.45" fill="#eadccb"/><circle cx="433.8" cy="372.7" r="2.45" fill="#8ea7de"/><circle cx="505.6" cy="533.4" r="2.45" fill="#9ccae0"/><circle cx="430.4" cy="341.6" r="2.45" fill="#b9b9bf"/><circle cx="377.8" cy="410.8" r="2.45" fill="#eadccb"/><circle cx="404.9" cy="381.9" r="2.45" fill="#eadccb"/><circle cx="542.9" cy="412.0" r="2.45" fill="#d6dfe4"/><circle cx="454.1" cy="530.8" r="2.45" fill="#9ccae0"/><circle cx="435.1" cy="305.5" r="2.45" fill="#8ea7de"/><circle cx="622.2" cy="470.4" r="2.45" fill="#d6dfe4"/><circle cx="422.0" cy="334.7" r="2.45" fill="#b9b9bf"/><circle cx="433.7" cy="334.2" r="2.45" fill="#b9b9bf"/><circle cx="439.0" cy="314.8" r="2.45" fill="#8ea7de"/><circle cx="409.6" cy="525.0" r="2.45" fill="#e2d1dc"/><circle cx="425.2" cy="347.1" r="2.45" fill="#8ea7de"/><circle cx="503.3" cy="540.3" r="2.45" fill="#9ccae0"/><circle cx="339.8" cy="358.8" r="2.45" fill="#8ea7de"/><circle cx="443.9" cy="379.5" r="2.45" fill="#8ea7de"/><circle cx="309.1" cy="335.2" r="2.45" fill="#6f6da8"/><circle cx="441.0" cy="453.9" r="2.45" fill="#9ccae0"/><circle cx="467.7" cy="484.2" r="2.45" fill="#9ccae0"/><circle cx="363.5" cy="534.7" r="2.45" fill="#e2d1dc"/><circle cx="533.2" cy="548.7" r="2.45" fill="#9ccae0"/><circle cx="460.3" cy="416.0" r="2.45" fill="#9ccae0"/><circle cx="593.1" cy="483.2" r="2.45" fill="#d6dfe4"/><circle cx="451.7" cy="301.7" r="2.45" fill="#8ea7de"/><circle cx="407.4" cy="364.5" r="2.45" fill="#8ea7de"/><circle cx="419.8" cy="321.9" r="2.45" fill="#b9b9bf"/><circle cx="438.0" cy="394.9" r="2.45" fill="#eadccb"/><circle cx="378.7" cy="374.8" r="2.45" fill="#8ea7de"/><circle cx="601.6" cy="472.7" r="2.45" fill="#d6dfe4"/><circle cx="429.5" cy="299.8" r="2.45" fill="#8ea7de"/><circle cx="474.5" cy="246.0" r="2.45" fill="#dcb186"/><circle cx="597.2" cy="457.6" r="2.45" fill="#d6dfe4"/><circle cx="457.6" cy="318.9" r="2.45" fill="#8ea7de"/><circle cx="455.7" cy="312.0" r="2.45" fill="#8ea7de"/><circle cx="628.2" cy="457.3" r="2.45" fill="#d6dfe4"/><circle cx="433.8" cy="327.5" r="2.45" fill="#b9b9bf"/><circle cx="537.3" cy="411.6" r="2.45" fill="#d6dfe4"/><circle cx="371.9" cy="533.3" r="2.45" fill="#e2d1dc"/><circle cx="445.8" cy="371.8" r="2.45" fill="#8ea7de"/><circle cx="423.3" cy="295.8" r="2.45" fill="#8ea7de"/><circle cx="442.8" cy="470.9" r="2.45" fill="#9ccae0"/><circle cx="474.2" cy="243.7" r="2.45" fill="#dcb186"/><circle cx="561.4" cy="420.7" r="2.45" fill="#d6dfe4"/><circle cx="427.4" cy="385.7" r="2.45" fill="#eadccb"/><circle cx="402.5" cy="497.7" r="2.45" fill="#9ccae0"/><circle cx="557.3" cy="415.3" r="2.45" fill="#d6dfe4"/><circle cx="454.4" cy="328.8" r="2.45" fill="#9ccae0"/><circle cx="481.4" cy="372.2" r="2.45" fill="#eadccb"/><circle cx="375.4" cy="341.3" r="2.45" fill="#8ea7de"/><circle cx="498.1" cy="450.7" r="2.45" fill="#5e9a9b"/><circle cx="420.7" cy="334.5" r="2.45" fill="#8ea7de"/><circle cx="401.1" cy="327.4" r="2.45" fill="#8ea7de"/><circle cx="440.0" cy="285.5" r="2.45" fill="#8ea7de"/><circle cx="479.7" cy="258.3" r="2.45" fill="#dcb186"/><circle cx="412.4" cy="399.2" r="2.45" fill="#eadccb"/><circle cx="474.7" cy="415.5" r="2.45" fill="#9ccae0"/><circle cx="424.1" cy="377.4" r="2.45" fill="#8ea7de"/><circle cx="393.3" cy="329.0" r="2.45" fill="#b9b9bf"/><circle cx="458.6" cy="487.3" r="2.45" fill="#9ccae0"/><circle cx="518.2" cy="456.1" r="2.45" fill="#d6dfe4"/><circle cx="549.1" cy="424.6" r="2.45" fill="#d6dfe4"/><circle cx="439.2" cy="346.8" r="2.45" fill="#8ea7de"/><circle cx="400.0" cy="525.6" r="2.45" fill="#e2d1dc"/><circle cx="477.5" cy="431.2" r="2.45" fill="#9ccae0"/><circle cx="409.4" cy="364.6" r="2.45" fill="#8ea7de"/><circle cx="386.7" cy="371.2" r="2.45" fill="#eadccb"/><circle cx="512.5" cy="465.5" r="2.45" fill="#d6dfe4"/><circle cx="456.3" cy="357.5" r="2.45" fill="#8ea7de"/><circle cx="414.9" cy="293.2" r="2.45" fill="#8ea7de"/><circle cx="409.7" cy="525.7" r="2.45" fill="#e2d1dc"/><circle cx="491.4" cy="380.6" r="2.45" fill="#eadccb"/><circle cx="499.2" cy="452.0" r="2.45" fill="#5e9a9b"/><circle cx="432.9" cy="341.3" r="2.45" fill="#8ea7de"/><circle cx="360.4" cy="527.2" r="2.45" fill="#e2d1dc"/><circle cx="373.2" cy="539.2" r="2.45" fill="#e2d1dc"/><circle cx="412.5" cy="485.5" r="2.45" fill="#9ccae0"/><circle cx="388.7" cy="378.5" r="2.45" fill="#eadccb"/><circle cx="516.4" cy="462.2" r="2.45" fill="#d6dfe4"/><circle cx="614.7" cy="434.6" r="2.45" fill="#d6dfe4"/><circle cx="373.0" cy="529.4" r="2.45" fill="#e2d1dc"/><circle cx="415.6" cy="347.6" r="2.45" fill="#8ea7de"/><circle cx="423.0" cy="470.3" r="2.45" fill="#9ccae0"/><circle cx="465.2" cy="490.2" r="2.45" fill="#9ccae0"/><circle cx="476.5" cy="251.6" r="2.45" fill="#dcb186"/><circle cx="431.4" cy="275.4" r="2.45" fill="#8ea7de"/><circle cx="472.0" cy="417.2" r="2.45" fill="#9ccae0"/><circle cx="504.9" cy="455.6" r="2.45" fill="#d6dfe4"/><circle cx="401.5" cy="342.4" r="2.45" fill="#8ea7de"/><circle cx="437.2" cy="468.7" r="2.45" fill="#9ccae0"/><circle cx="484.8" cy="396.8" r="2.45" fill="#eadccb"/><circle cx="589.4" cy="454.8" r="2.45" fill="#d6dfe4"/><circle cx="489.7" cy="455.8" r="2.45" fill="#5e9a9b"/><circle cx="554.4" cy="437.6" r="2.45" fill="#d6dfe4"/><circle cx="408.6" cy="474.7" r="2.45" fill="#9ccae0"/><circle cx="349.5" cy="350.5" r="2.45" fill="#8ea7de"/><circle cx="276.6" cy="354.2" r="2.45" fill="#6f6da8"/><circle cx="462.2" cy="310.6" r="2.45" fill="#8ea7de"/><circle cx="349.7" cy="404.4" r="2.45" fill="#e3cdb8"/><circle cx="436.0" cy="290.8" r="2.45" fill="#8ea7de"/><circle cx="450.5" cy="501.0" r="2.45" fill="#9ccae0"/><circle cx="467.5" cy="410.0" r="2.45" fill="#9ccae0"/><circle cx="573.7" cy="485.2" r="2.45" fill="#d6dfe4"/><circle cx="473.2" cy="430.5" r="2.45" fill="#9ccae0"/><circle cx="510.2" cy="444.0" r="2.45" fill="#d6dfe4"/><circle cx="453.2" cy="473.3" r="2.45" fill="#9ccae0"/><circle cx="423.3" cy="318.7" r="2.45" fill="#b9b9bf"/><circle cx="428.8" cy="282.8" r="2.45" fill="#8ea7de"/><circle cx="447.7" cy="507.2" r="2.45" fill="#9ccae0"/><circle cx="572.5" cy="433.9" r="2.45" fill="#d6dfe4"/><circle cx="519.3" cy="458.3" r="2.45" fill="#d6dfe4"/><circle cx="450.9" cy="306.1" r="2.45" fill="#8ea7de"/><circle cx="459.9" cy="243.4" r="2.45" fill="#dcb186"/><circle cx="476.3" cy="470.0" r="2.45" fill="#5e9a9b"/><circle cx="522.0" cy="442.6" r="2.45" fill="#d6dfe4"/><circle cx="311.9" cy="336.5" r="2.45" fill="#8ea7de"/><circle cx="549.4" cy="419.8" r="2.45" fill="#d6dfe4"/><circle cx="512.0" cy="524.8" r="2.45" fill="#9ccae0"/><circle cx="326.1" cy="529.1" r="2.45" fill="#e2d1dc"/><circle cx="271.7" cy="341.2" r="2.45" fill="#6f6da8"/><circle cx="413.9" cy="314.8" r="2.45" fill="#b9b9bf"/><circle cx="534.8" cy="418.5" r="2.45" fill="#d6dfe4"/><circle cx="622.3" cy="483.8" r="2.45" fill="#d6dfe4"/><circle cx="625.7" cy="456.2" r="2.45" fill="#5e9a9b"/><circle cx="576.3" cy="422.1" r="2.45" fill="#5e9a9b"/><circle cx="477.1" cy="305.0" r="2.45" fill="#8ea7de"/><circle cx="498.6" cy="477.3" r="2.45" fill="#d6dfe4"/><circle cx="459.8" cy="433.3" r="2.45" fill="#9ccae0"/><circle cx="269.9" cy="353.4" r="2.45" fill="#6f6da8"/><circle cx="358.8" cy="537.4" r="2.45" fill="#e2d1dc"/><circle cx="550.0" cy="560.1" r="2.45" fill="#9ccae0"/><circle cx="422.8" cy="337.2" r="2.45" fill="#8ea7de"/><circle cx="616.0" cy="478.3" r="2.45" fill="#d6dfe4"/><circle cx="353.5" cy="409.6" r="2.45" fill="#e3cdb8"/><circle cx="411.5" cy="530.4" r="2.45" fill="#e2d1dc"/><circle cx="442.8" cy="479.2" r="2.45" fill="#9ccae0"/><circle cx="400.9" cy="397.5" r="2.45" fill="#eadccb"/><circle cx="425.1" cy="340.1" r="2.45" fill="#b9b9bf"/><circle cx="511.1" cy="499.2" r="2.45" fill="#d6dfe4"/><circle cx="534.1" cy="538.0" r="2.45" fill="#9ccae0"/><circle cx="401.0" cy="344.5" r="2.45" fill="#8ea7de"/><circle cx="562.3" cy="421.0" r="2.45" fill="#5e9a9b"/><circle cx="550.8" cy="426.0" r="2.45" fill="#d6dfe4"/><circle cx="581.8" cy="457.6" r="2.45" fill="#d6dfe4"/><circle cx="476.3" cy="337.6" r="2.45" fill="#8ea7de"/><circle cx="473.6" cy="434.7" r="2.45" fill="#9ccae0"/><circle cx="595.1" cy="455.3" r="2.45" fill="#d6dfe4"/><circle cx="455.3" cy="527.4" r="2.45" fill="#9ccae0"/><circle cx="528.9" cy="473.3" r="2.45" fill="#d6dfe4"/><circle cx="557.9" cy="447.6" r="2.45" fill="#d6dfe4"/><circle cx="440.1" cy="336.8" r="2.45" fill="#8ea7de"/><circle cx="476.2" cy="245.7" r="2.45" fill="#dcb186"/><circle cx="406.1" cy="373.0" r="2.45" fill="#eadccb"/><circle cx="403.5" cy="482.9" r="2.45" fill="#9ccae0"/><circle cx="313.6" cy="342.8" r="2.45" fill="#8ea7de"/><circle cx="388.8" cy="482.3" r="2.45" fill="#9ccae0"/><circle cx="558.0" cy="421.1" r="2.45" fill="#d6dfe4"/><circle cx="540.3" cy="408.3" r="2.45" fill="#d6dfe4"/><circle cx="415.3" cy="394.6" r="2.45" fill="#eadccb"/><circle cx="484.8" cy="512.4" r="2.45" fill="#9ccae0"/><circle cx="557.8" cy="411.5" r="2.45" fill="#d6dfe4"/><circle cx="539.6" cy="550.8" r="2.45" fill="#9ccae0"/><circle cx="576.7" cy="413.5" r="2.45" fill="#d6dfe4"/><circle cx="350.7" cy="398.4" r="2.45" fill="#e3cdb8"/><circle cx="537.6" cy="558.7" r="2.45" fill="#9ccae0"/><circle cx="427.0" cy="496.7" r="2.45" fill="#9ccae0"/><circle cx="593.5" cy="440.4" r="2.45" fill="#d6dfe4"/><circle cx="275.6" cy="328.5" r="2.45" fill="#6f6da8"/><circle cx="413.3" cy="323.1" r="2.45" fill="#b9b9bf"/><circle cx="617.5" cy="473.5" r="2.45" fill="#d6dfe4"/><circle cx="595.5" cy="447.6" r="2.45" fill="#d6dfe4"/><circle cx="424.1" cy="312.6" r="2.45" fill="#8ea7de"/><circle cx="461.1" cy="353.8" r="2.45" fill="#8ea7de"/><circle cx="448.3" cy="302.3" r="2.45" fill="#8ea7de"/><circle cx="472.8" cy="417.7" r="2.45" fill="#9ccae0"/><circle cx="528.9" cy="545.9" r="2.45" fill="#9ccae0"/><circle cx="419.0" cy="307.5" r="2.45" fill="#8ea7de"/><circle cx="435.5" cy="309.1" r="2.45" fill="#8ea7de"/><circle cx="477.1" cy="467.2" r="2.45" fill="#d6dfe4"/><circle cx="430.9" cy="474.3" r="2.45" fill="#9ccae0"/><circle cx="427.2" cy="339.7" r="2.45" fill="#8ea7de"/><circle cx="419.5" cy="318.7" r="2.45" fill="#8ea7de"/><circle cx="408.2" cy="344.6" r="2.45" fill="#8ea7de"/><circle cx="466.0" cy="241.4" r="2.45" fill="#dcb186"/><circle cx="389.9" cy="537.7" r="2.45" fill="#e2d1dc"/><circle cx="492.9" cy="375.4" r="2.45" fill="#eadccb"/><circle cx="501.2" cy="362.3" r="2.45" fill="#eadccb"/><circle cx="418.9" cy="500.4" r="2.45" fill="#9ccae0"/><circle cx="568.4" cy="420.6" r="2.45" fill="#d6dfe4"/><circle cx="565.9" cy="492.9" r="2.45" fill="#d6dfe4"/><circle cx="424.7" cy="491.1" r="2.45" fill="#9ccae0"/><circle cx="419.0" cy="375.9" r="2.45" fill="#8ea7de"/><circle cx="603.3" cy="456.6" r="2.45" fill="#d6dfe4"/><circle cx="409.2" cy="282.8" r="2.45" fill="#8ea7de"/><circle cx="456.9" cy="475.0" r="2.45" fill="#9ccae0"/><circle cx="383.6" cy="522.6" r="2.45" fill="#e2d1dc"/><circle cx="393.8" cy="373.2" r="2.45" fill="#eadccb"/><circle cx="484.8" cy="315.1" r="2.45" fill="#8ea7de"/><circle cx="475.0" cy="294.4" r="2.45" fill="#8ea7de"/><circle cx="398.6" cy="326.0" r="2.45" fill="#b9b9bf"/><circle cx="527.8" cy="477.5" r="2.45" fill="#d6dfe4"/><circle cx="437.4" cy="374.9" r="2.45" fill="#8ea7de"/><circle cx="610.5" cy="450.0" r="2.45" fill="#d6dfe4"/><circle cx="607.1" cy="467.9" r="2.45" fill="#d6dfe4"/><circle cx="579.6" cy="455.1" r="2.45" fill="#d6dfe4"/><circle cx="286.9" cy="360.9" r="2.45" fill="#6f6da8"/><circle cx="463.1" cy="302.4" r="2.45" fill="#8ea7de"/><circle cx="334.4" cy="337.2" r="2.45" fill="#8ea7de"/><circle cx="543.1" cy="479.3" r="2.45" fill="#d6dfe4"/><circle cx="435.4" cy="476.9" r="2.45" fill="#9ccae0"/><circle cx="442.8" cy="341.1" r="2.45" fill="#8ea7de"/><circle cx="518.9" cy="527.5" r="2.45" fill="#9ccae0"/><circle cx="531.9" cy="527.7" r="2.45" fill="#9ccae0"/><circle cx="590.4" cy="423.9" r="2.45" fill="#d6dfe4"/><circle cx="466.4" cy="471.6" r="2.45" fill="#5e9a9b"/><circle cx="524.7" cy="522.4" r="2.45" fill="#9ccae0"/><circle cx="487.3" cy="439.0" r="2.45" fill="#9ccae0"/><circle cx="604.7" cy="440.4" r="2.45" fill="#d6dfe4"/><circle cx="359.7" cy="352.7" r="2.45" fill="#8ea7de"/><circle cx="603.6" cy="455.7" r="2.45" fill="#d6dfe4"/><circle cx="569.5" cy="412.9" r="2.45" fill="#d6dfe4"/><circle cx="604.5" cy="472.6" r="2.45" fill="#5e9a9b"/><circle cx="570.2" cy="421.5" r="2.45" fill="#d6dfe4"/><circle cx="468.7" cy="241.9" r="2.45" fill="#dcb186"/><circle cx="510.9" cy="460.8" r="2.45" fill="#d6dfe4"/><circle cx="412.3" cy="342.9" r="2.45" fill="#9ccae0"/><circle cx="433.9" cy="487.2" r="2.45" fill="#9ccae0"/><circle cx="463.1" cy="353.6" r="2.45" fill="#8ea7de"/><circle cx="521.5" cy="534.7" r="2.45" fill="#9ccae0"/><circle cx="620.0" cy="456.3" r="2.45" fill="#d6dfe4"/><circle cx="483.3" cy="456.6" r="2.45" fill="#d6dfe4"/><circle cx="393.6" cy="397.6" r="2.45" fill="#eadccb"/><circle cx="355.3" cy="536.4" r="2.45" fill="#e2d1dc"/><circle cx="423.8" cy="335.9" r="2.45" fill="#b9b9bf"/><circle cx="418.3" cy="497.5" r="2.45" fill="#9ccae0"/><circle cx="441.1" cy="358.2" r="2.45" fill="#8ea7de"/><circle cx="332.4" cy="520.6" r="2.45" fill="#5e9a9b"/><circle cx="378.6" cy="532.0" r="2.45" fill="#e2d1dc"/><circle cx="412.6" cy="404.1" r="2.45" fill="#8ea7de"/><circle cx="615.4" cy="478.9" r="2.45" fill="#d6dfe4"/><circle cx="429.0" cy="305.7" r="2.45" fill="#8ea7de"/><circle cx="556.9" cy="437.6" r="2.45" fill="#d6dfe4"/><circle cx="409.9" cy="510.3" r="2.45" fill="#e2d1dc"/><circle cx="393.7" cy="377.7" r="2.45" fill="#eadccb"/><circle cx="575.2" cy="424.1" r="2.45" fill="#d6dfe4"/><circle cx="475.2" cy="444.9" r="2.45" fill="#9ccae0"/><circle cx="397.0" cy="401.0" r="2.45" fill="#eadccb"/><circle cx="529.7" cy="562.2" r="2.45" fill="#9ccae0"/><circle cx="493.6" cy="481.2" r="2.45" fill="#9ccae0"/><circle cx="545.1" cy="485.9" r="2.45" fill="#5e9a9b"/><circle cx="461.8" cy="340.5" r="2.45" fill="#8ea7de"/><circle cx="446.4" cy="313.7" r="2.45" fill="#8ea7de"/><circle cx="408.7" cy="318.5" r="2.45" fill="#8ea7de"/><circle cx="412.2" cy="321.8" r="2.45" fill="#8ea7de"/><circle cx="339.9" cy="405.8" r="2.45" fill="#e3cdb8"/><circle cx="487.5" cy="285.3" r="2.45" fill="#8ea7de"/><circle cx="623.5" cy="450.1" r="2.45" fill="#5e9a9b"/><circle cx="431.6" cy="354.1" r="2.45" fill="#8ea7de"/><circle cx="371.0" cy="401.3" r="2.45" fill="#eadccb"/><circle cx="405.8" cy="396.9" r="2.45" fill="#eadccb"/><circle cx="522.6" cy="518.0" r="2.45" fill="#9ccae0"/><circle cx="426.7" cy="492.5" r="2.45" fill="#9ccae0"/><circle cx="529.4" cy="479.5" r="2.45" fill="#5e9a9b"/><circle cx="358.4" cy="528.5" r="2.45" fill="#e2d1dc"/><circle cx="301.3" cy="342.2" r="2.45" fill="#6f6da8"/><circle cx="420.0" cy="474.1" r="2.45" fill="#9ccae0"/><circle cx="423.4" cy="493.6" r="2.45" fill="#9ccae0"/><circle cx="437.7" cy="337.8" r="2.45" fill="#8ea7de"/><circle cx="536.6" cy="528.0" r="2.45" fill="#9ccae0"/><circle cx="608.9" cy="458.5" r="2.45" fill="#d6dfe4"/><circle cx="404.6" cy="479.0" r="2.45" fill="#9ccae0"/><circle cx="274.5" cy="351.6" r="2.45" fill="#6f6da8"/><circle cx="474.9" cy="266.2" r="2.45" fill="#8ea7de"/><circle cx="467.7" cy="242.4" r="2.45" fill="#dcb186"/><circle cx="427.9" cy="305.6" r="2.45" fill="#8ea7de"/><circle cx="483.5" cy="539.3" r="2.45" fill="#9ccae0"/><circle cx="490.8" cy="471.6" r="2.45" fill="#5e9a9b"/><circle cx="415.7" cy="332.5" r="2.45" fill="#b9b9bf"/><circle cx="565.9" cy="430.8" r="2.45" fill="#5e9a9b"/><circle cx="452.3" cy="314.8" r="2.45" fill="#8ea7de"/><circle cx="434.9" cy="507.5" r="2.45" fill="#9ccae0"/><circle cx="400.8" cy="356.5" r="2.45" fill="#eadccb"/><circle cx="484.6" cy="433.6" r="2.45" fill="#5e9a9b"/><circle cx="506.7" cy="385.3" r="2.45" fill="#eadccb"/><circle cx="584.1" cy="422.1" r="2.45" fill="#d6dfe4"/><circle cx="421.0" cy="299.1" r="2.45" fill="#8ea7de"/><circle cx="459.8" cy="297.1" r="2.45" fill="#8ea7de"/><circle cx="429.2" cy="490.8" r="2.45" fill="#9ccae0"/><circle cx="539.9" cy="428.7" r="2.45" fill="#d6dfe4"/><circle cx="560.3" cy="431.1" r="2.45" fill="#d6dfe4"/><circle cx="567.8" cy="470.3" r="2.45" fill="#d6dfe4"/><circle cx="487.6" cy="390.9" r="2.45" fill="#eadccb"/><circle cx="534.3" cy="563.8" r="2.45" fill="#9ccae0"/><circle cx="483.1" cy="464.6" r="2.45" fill="#5e9a9b"/><circle cx="369.4" cy="335.4" r="2.45" fill="#8ea7de"/><circle cx="613.1" cy="454.7" r="2.45" fill="#d6dfe4"/><circle cx="528.7" cy="548.6" r="2.45" fill="#9ccae0"/><circle cx="433.0" cy="283.2" r="2.45" fill="#8ea7de"/><circle cx="443.2" cy="307.2" r="2.45" fill="#8ea7de"/><circle cx="493.0" cy="379.5" r="2.45" fill="#eadccb"/><circle cx="393.3" cy="297.3" r="2.45" fill="#8ea7de"/><circle cx="481.9" cy="528.7" r="2.45" fill="#9ccae0"/><circle cx="454.4" cy="458.0" r="2.45" fill="#9ccae0"/><circle cx="434.4" cy="351.6" r="2.45" fill="#8ea7de"/><circle cx="437.8" cy="307.8" r="2.45" fill="#8ea7de"/><circle cx="410.0" cy="470.1" r="2.45" fill="#9ccae0"/><circle cx="466.5" cy="514.1" r="2.45" fill="#9ccae0"/><circle cx="300.1" cy="343.2" r="2.45" fill="#6f6da8"/><circle cx="337.3" cy="402.7" r="2.45" fill="#e3cdb8"/><circle cx="466.7" cy="241.3" r="2.45" fill="#dcb186"/><circle cx="440.4" cy="288.8" r="2.45" fill="#8ea7de"/><circle cx="465.6" cy="410.2" r="2.45" fill="#9ccae0"/><circle cx="469.4" cy="336.3" r="2.45" fill="#8ea7de"/><circle cx="345.3" cy="343.6" r="2.45" fill="#8ea7de"/><circle cx="276.0" cy="345.4" r="2.45" fill="#6f6da8"/><circle cx="469.6" cy="300.8" r="2.45" fill="#8ea7de"/><circle cx="617.9" cy="444.0" r="2.45" fill="#5e9a9b"/><circle cx="604.3" cy="479.0" r="2.45" fill="#d6dfe4"/><circle cx="507.2" cy="505.4" r="2.45" fill="#9ccae0"/><circle cx="392.2" cy="400.5" r="2.45" fill="#eadccb"/><circle cx="593.4" cy="460.1" r="2.45" fill="#d6dfe4"/><circle cx="484.6" cy="538.1" r="2.45" fill="#9ccae0"/><circle cx="423.6" cy="518.5" r="2.45" fill="#9ccae0"/><circle cx="420.9" cy="495.3" r="2.45" fill="#9ccae0"/><circle cx="620.0" cy="452.4" r="2.45" fill="#5e9a9b"/><circle cx="592.5" cy="477.3" r="2.45" fill="#d6dfe4"/><circle cx="533.7" cy="418.9" r="2.45" fill="#d6dfe4"/><circle cx="427.8" cy="335.5" r="2.45" fill="#9ccae0"/><circle cx="474.6" cy="515.7" r="2.45" fill="#9ccae0"/><circle cx="442.0" cy="318.2" r="2.45" fill="#8ea7de"/><circle cx="404.6" cy="482.2" r="2.45" fill="#9ccae0"/><circle cx="369.5" cy="536.8" r="2.45" fill="#e2d1dc"/><circle cx="532.1" cy="527.9" r="2.45" fill="#9ccae0"/><circle cx="271.2" cy="342.1" r="2.45" fill="#6f6da8"/><circle cx="483.9" cy="409.0" r="2.45" fill="#9ccae0"/><circle cx="470.5" cy="430.1" r="2.45" fill="#9ccae0"/><circle cx="408.5" cy="340.6" r="2.45" fill="#9ccae0"/><circle cx="359.3" cy="352.6" r="2.45" fill="#8ea7de"/><circle cx="471.5" cy="473.5" r="2.45" fill="#5e9a9b"/><circle cx="436.6" cy="290.3" r="2.45" fill="#8ea7de"/><circle cx="355.8" cy="345.8" r="2.45" fill="#8ea7de"/><circle cx="532.4" cy="482.2" r="2.45" fill="#d6dfe4"/><circle cx="452.0" cy="476.7" r="2.45" fill="#9ccae0"/><circle cx="624.2" cy="482.7" r="2.45" fill="#d6dfe4"/><circle cx="553.8" cy="426.7" r="2.45" fill="#d6dfe4"/><circle cx="481.9" cy="389.2" r="2.45" fill="#eadccb"/><circle cx="464.4" cy="304.5" r="2.45" fill="#8ea7de"/><circle cx="358.6" cy="526.6" r="2.45" fill="#e2d1dc"/><circle cx="437.8" cy="315.4" r="2.45" fill="#b9b9bf"/><circle cx="595.3" cy="446.9" r="2.45" fill="#d6dfe4"/><circle cx="552.2" cy="420.5" r="2.45" fill="#d6dfe4"/><circle cx="569.2" cy="465.1" r="2.45" fill="#d6dfe4"/><circle cx="606.3" cy="427.4" r="2.45" fill="#d6dfe4"/><circle cx="418.3" cy="325.9" r="2.45" fill="#b9b9bf"/><circle cx="406.0" cy="387.9" r="2.45" fill="#eadccb"/><circle cx="486.0" cy="453.8" r="2.45" fill="#5e9a9b"/><circle cx="589.6" cy="486.8" r="2.45" fill="#5e9a9b"/><circle cx="462.4" cy="514.0" r="2.45" fill="#9ccae0"/><circle cx="490.4" cy="376.6" r="2.45" fill="#eadccb"/><circle cx="508.1" cy="367.6" r="2.45" fill="#eadccb"/><circle cx="432.0" cy="485.6" r="2.45" fill="#9ccae0"/><circle cx="400.3" cy="522.3" r="2.45" fill="#9ccae0"/><circle cx="296.2" cy="346.6" r="2.45" fill="#6f6da8"/><circle cx="525.9" cy="535.0" r="2.45" fill="#9ccae0"/><circle cx="632.1" cy="445.5" r="2.45" fill="#5e9a9b"/><circle cx="540.3" cy="419.2" r="2.45" fill="#d6dfe4"/><circle cx="284.1" cy="357.7" r="2.45" fill="#6f6da8"/><circle cx="450.4" cy="342.3" r="2.45" fill="#9ccae0"/><circle cx="376.5" cy="518.6" r="2.45" fill="#e2d1dc"/><circle cx="334.3" cy="406.6" r="2.45" fill="#e3cdb8"/><circle cx="293.7" cy="344.5" r="2.45" fill="#6f6da8"/><circle cx="447.8" cy="490.8" r="2.45" fill="#9ccae0"/><circle cx="377.5" cy="515.6" r="2.45" fill="#e2d1dc"/><circle cx="495.6" cy="471.4" r="2.45" fill="#d6dfe4"/><circle cx="270.3" cy="342.9" r="2.45" fill="#6f6da8"/><circle cx="405.0" cy="484.7" r="2.45" fill="#9ccae0"/><circle cx="384.8" cy="519.1" r="2.45" fill="#e2d1dc"/><circle cx="605.2" cy="476.0" r="2.45" fill="#d6dfe4"/><circle cx="459.7" cy="277.9" r="2.45" fill="#8ea7de"/><circle cx="534.5" cy="545.6" r="2.45" fill="#9ccae0"/><circle cx="420.2" cy="346.9" r="2.45" fill="#8ea7de"/><circle cx="385.2" cy="421.5" r="2.45" fill="#8ea7de"/><circle cx="391.7" cy="529.0" r="2.45" fill="#e2d1dc"/><circle cx="406.5" cy="329.7" r="2.45" fill="#b9b9bf"/><circle cx="420.8" cy="362.7" r="2.45" fill="#8ea7de"/><circle cx="543.4" cy="423.2" r="2.45" fill="#d6dfe4"/><circle cx="440.8" cy="293.2" r="2.45" fill="#8ea7de"/><circle cx="354.6" cy="538.6" r="2.45" fill="#e2d1dc"/><circle cx="468.3" cy="299.8" r="2.45" fill="#8ea7de"/><circle cx="410.6" cy="368.1" r="2.45" fill="#eadccb"/><circle cx="605.0" cy="465.3" r="2.45" fill="#d6dfe4"/><circle cx="496.1" cy="520.6" r="2.45" fill="#9ccae0"/><circle cx="371.8" cy="528.7" r="2.45" fill="#e2d1dc"/><circle cx="393.8" cy="394.3" r="2.45" fill="#eadccb"/><circle cx="412.0" cy="393.9" r="2.45" fill="#eadccb"/><circle cx="507.8" cy="510.2" r="2.45" fill="#9ccae0"/><circle cx="464.0" cy="249.2" r="2.45" fill="#dcb186"/><circle cx="560.7" cy="483.4" r="2.45" fill="#d6dfe4"/><circle cx="529.9" cy="552.7" r="2.45" fill="#9ccae0"/><circle cx="279.5" cy="344.8" r="2.45" fill="#6f6da8"/><circle cx="465.2" cy="332.7" r="2.45" fill="#8ea7de"/><circle cx="526.8" cy="549.0" r="2.45" fill="#9ccae0"/><circle cx="408.8" cy="314.3" r="2.45" fill="#8ea7de"/><circle cx="465.7" cy="249.8" r="2.45" fill="#dcb186"/><circle cx="474.8" cy="261.9" r="2.45" fill="#dcb186"/><circle cx="628.5" cy="474.1" r="2.45" fill="#5e9a9b"/><circle cx="583.3" cy="462.3" r="2.45" fill="#d6dfe4"/><circle cx="478.2" cy="416.8" r="2.45" fill="#9ccae0"/><circle cx="454.5" cy="433.1" r="2.45" fill="#9ccae0"/><circle cx="503.2" cy="527.6" r="2.45" fill="#9ccae0"/><circle cx="393.2" cy="472.6" r="2.45" fill="#9ccae0"/><circle cx="548.9" cy="444.7" r="2.45" fill="#d6dfe4"/><circle cx="567.8" cy="451.2" r="2.45" fill="#d6dfe4"/><circle cx="433.4" cy="304.3" r="2.45" fill="#8ea7de"/><circle cx="382.1" cy="543.8" r="2.45" fill="#e2d1dc"/><circle cx="560.7" cy="421.6" r="2.45" fill="#d6dfe4"/><circle cx="497.0" cy="549.2" r="2.45" fill="#9ccae0"/><circle cx="502.1" cy="479.0" r="2.45" fill="#d6dfe4"/><circle cx="588.0" cy="450.3" r="2.45" fill="#d6dfe4"/><circle cx="480.9" cy="422.4" r="2.45" fill="#9ccae0"/><circle cx="626.4" cy="455.5" r="2.45" fill="#5e9a9b"/><circle cx="497.6" cy="475.4" r="2.45" fill="#5e9a9b"/><circle cx="608.6" cy="437.1" r="2.45" fill="#d6dfe4"/><circle cx="448.3" cy="488.5" r="2.45" fill="#9ccae0"/><circle cx="607.9" cy="434.0" r="2.45" fill="#5e9a9b"/><circle cx="331.7" cy="533.8" r="2.45" fill="#5e9a9b"/><circle cx="344.1" cy="407.7" r="2.45" fill="#e3cdb8"/><circle cx="447.8" cy="331.0" r="2.45" fill="#8ea7de"/><circle cx="587.4" cy="449.3" r="2.45" fill="#d6dfe4"/><circle cx="581.4" cy="458.4" r="2.45" fill="#d6dfe4"/><circle cx="595.7" cy="454.3" r="2.45" fill="#d6dfe4"/><circle cx="512.6" cy="460.0" r="2.45" fill="#d6dfe4"/><circle cx="447.3" cy="291.2" r="2.45" fill="#8ea7de"/><circle cx="603.4" cy="457.1" r="2.45" fill="#d6dfe4"/><circle cx="398.5" cy="364.6" r="2.45" fill="#8ea7de"/><circle cx="437.3" cy="348.9" r="2.45" fill="#8ea7de"/><circle cx="437.0" cy="297.3" r="2.45" fill="#8ea7de"/><circle cx="350.4" cy="401.7" r="2.45" fill="#e3cdb8"/><circle cx="448.7" cy="291.4" r="2.45" fill="#8ea7de"/><circle cx="602.6" cy="478.3" r="2.45" fill="#d6dfe4"/><circle cx="626.5" cy="476.2" r="2.45" fill="#5e9a9b"/><circle cx="481.8" cy="468.6" r="2.45" fill="#d6dfe4"/><circle cx="507.4" cy="462.0" r="2.45" fill="#5e9a9b"/><circle cx="376.4" cy="536.4" r="2.45" fill="#e2d1dc"/><circle cx="346.5" cy="385.9" r="2.45" fill="#e3cdb8"/><circle cx="407.1" cy="317.5" r="2.45" fill="#8ea7de"/><circle cx="425.9" cy="326.0" r="2.45" fill="#8ea7de"/><circle cx="437.8" cy="280.9" r="2.45" fill="#8ea7de"/><circle cx="503.3" cy="476.9" r="2.45" fill="#d6dfe4"/><circle cx="599.9" cy="463.6" r="2.45" fill="#d6dfe4"/><circle cx="449.0" cy="460.1" r="2.45" fill="#9ccae0"/><circle cx="494.0" cy="429.0" r="2.45" fill="#5e9a9b"/><circle cx="379.5" cy="406.5" r="2.45" fill="#eadccb"/><circle cx="592.9" cy="423.4" r="2.45" fill="#d6dfe4"/><circle cx="567.6" cy="422.0" r="2.45" fill="#5e9a9b"/><circle cx="491.1" cy="481.4" r="2.45" fill="#5e9a9b"/><circle cx="416.9" cy="330.9" r="2.45" fill="#8ea7de"/><circle cx="530.9" cy="448.8" r="2.45" fill="#d6dfe4"/><circle cx="396.1" cy="529.7" r="2.45" fill="#e2d1dc"/><circle cx="628.4" cy="448.9" r="2.45" fill="#5e9a9b"/><circle cx="476.3" cy="425.8" r="2.45" fill="#9ccae0"/><circle cx="386.9" cy="378.4" r="2.45" fill="#eadccb"/><circle cx="507.7" cy="505.7" r="2.45" fill="#9ccae0"/><circle cx="449.3" cy="341.7" r="2.45" fill="#8ea7de"/><circle cx="354.1" cy="404.8" r="2.45" fill="#e3cdb8"/><circle cx="470.9" cy="333.5" r="2.45" fill="#8ea7de"/><circle cx="451.6" cy="333.4" r="2.45" fill="#8ea7de"/><circle cx="629.2" cy="438.2" r="2.45" fill="#5e9a9b"/><circle cx="431.6" cy="341.4" r="2.45" fill="#8ea7de"/><circle cx="410.3" cy="330.6" r="2.45" fill="#8ea7de"/><circle cx="452.4" cy="322.3" r="2.45" fill="#8ea7de"/><circle cx="463.3" cy="473.2" r="2.45" fill="#5e9a9b"/><circle cx="555.7" cy="487.3" r="2.45" fill="#d6dfe4"/><circle cx="605.8" cy="462.9" r="2.45" fill="#5e9a9b"/><circle cx="413.8" cy="343.8" r="2.45" fill="#8ea7de"/><circle cx="513.9" cy="474.3" r="2.45" fill="#5e9a9b"/><circle cx="396.4" cy="375.8" r="2.45" fill="#eadccb"/><circle cx="431.9" cy="331.5" r="2.45" fill="#b9b9bf"/><circle cx="463.2" cy="488.3" r="2.45" fill="#9ccae0"/><circle cx="474.7" cy="309.4" r="2.45" fill="#8ea7de"/><circle cx="467.0" cy="245.3" r="2.45" fill="#dcb186"/><circle cx="364.8" cy="528.1" r="2.45" fill="#e2d1dc"/><circle cx="378.7" cy="521.2" r="2.45" fill="#e2d1dc"/><circle cx="500.1" cy="456.3" r="2.45" fill="#d6dfe4"/><circle cx="586.4" cy="432.6" r="2.45" fill="#d6dfe4"/><circle cx="580.9" cy="434.6" r="2.45" fill="#5e9a9b"/><circle cx="252.6" cy="348.9" r="2.45" fill="#6f6da8"/><circle cx="525.9" cy="461.0" r="2.45" fill="#d6dfe4"/><circle cx="522.9" cy="475.0" r="2.45" fill="#d6dfe4"/><circle cx="390.0" cy="319.6" r="2.45" fill="#8ea7de"/><circle cx="481.5" cy="257.3" r="2.45" fill="#dcb186"/><circle cx="354.9" cy="395.9" r="2.45" fill="#e3cdb8"/><circle cx="531.2" cy="477.4" r="2.45" fill="#d6dfe4"/><circle cx="391.8" cy="376.9" r="2.45" fill="#eadccb"/><circle cx="503.4" cy="522.8" r="2.45" fill="#9ccae0"/><circle cx="371.4" cy="338.3" r="2.45" fill="#8ea7de"/><circle cx="521.7" cy="542.2" r="2.45" fill="#9ccae0"/><circle cx="477.1" cy="272.7" r="2.45" fill="#8ea7de"/><circle cx="428.6" cy="291.7" r="2.45" fill="#8ea7de"/><circle cx="489.1" cy="533.9" r="2.45" fill="#9ccae0"/><circle cx="614.2" cy="470.8" r="2.45" fill="#d6dfe4"/><circle cx="414.9" cy="475.6" r="2.45" fill="#9ccae0"/><circle cx="651.2" cy="468.0" r="2.45" fill="#5e9a9b"/><circle cx="554.1" cy="417.3" r="2.45" fill="#d6dfe4"/><circle cx="511.2" cy="522.7" r="2.45" fill="#9ccae0"/><circle cx="416.1" cy="478.7" r="2.45" fill="#9ccae0"/><circle cx="571.8" cy="421.5" r="2.45" fill="#d6dfe4"/><circle cx="430.0" cy="307.2" r="2.45" fill="#8ea7de"/><circle cx="376.3" cy="528.0" r="2.45" fill="#e2d1dc"/><circle cx="470.4" cy="425.8" r="2.45" fill="#9ccae0"/><circle cx="382.6" cy="515.7" r="2.45" fill="#e2d1dc"/><circle cx="508.4" cy="452.8" r="2.45" fill="#d6dfe4"/><circle cx="367.6" cy="524.1" r="2.45" fill="#e2d1dc"/><circle cx="414.0" cy="302.2" r="2.45" fill="#8ea7de"/><circle cx="491.3" cy="508.9" r="2.45" fill="#9ccae0"/><circle cx="485.0" cy="438.0" r="2.45" fill="#9ccae0"/><circle cx="598.7" cy="465.9" r="2.45" fill="#5e9a9b"/><circle cx="458.5" cy="319.5" r="2.45" fill="#8ea7de"/><circle cx="416.8" cy="319.2" r="2.45" fill="#8ea7de"/><circle cx="503.3" cy="480.9" r="2.45" fill="#d6dfe4"/><circle cx="536.0" cy="550.9" r="2.45" fill="#9ccae0"/><circle cx="384.7" cy="393.6" r="2.45" fill="#eadccb"/><circle cx="449.5" cy="446.0" r="2.45" fill="#d6dfe4"/><circle cx="471.3" cy="249.3" r="2.45" fill="#dcb186"/><circle cx="592.9" cy="442.8" r="2.45" fill="#d6dfe4"/><circle cx="593.0" cy="457.6" r="2.45" fill="#d6dfe4"/><circle cx="467.4" cy="363.4" r="2.45" fill="#8ea7de"/><circle cx="494.4" cy="375.7" r="2.45" fill="#eadccb"/><circle cx="523.6" cy="471.0" r="2.45" fill="#5e9a9b"/><circle cx="600.3" cy="485.8" r="2.45" fill="#d6dfe4"/><circle cx="493.1" cy="483.5" r="2.45" fill="#d6dfe4"/><circle cx="394.9" cy="502.5" r="2.45" fill="#9ccae0"/><circle cx="631.5" cy="453.6" r="2.45" fill="#5e9a9b"/><circle cx="420.8" cy="285.8" r="2.45" fill="#8ea7de"/><circle cx="387.2" cy="535.9" r="2.45" fill="#e2d1dc"/><circle cx="441.3" cy="292.6" r="2.45" fill="#8ea7de"/><circle cx="525.6" cy="561.0" r="2.45" fill="#9ccae0"/><circle cx="453.2" cy="349.3" r="2.45" fill="#8ea7de"/><circle cx="383.7" cy="525.8" r="2.45" fill="#e2d1dc"/><circle cx="425.4" cy="331.2" r="2.45" fill="#b9b9bf"/><circle cx="447.2" cy="299.8" r="2.45" fill="#8ea7de"/><circle cx="424.3" cy="485.8" r="2.45" fill="#9ccae0"/><circle cx="454.0" cy="315.8" r="2.45" fill="#8ea7de"/><circle cx="501.9" cy="479.8" r="2.45" fill="#5e9a9b"/><circle cx="553.0" cy="421.8" r="2.45" fill="#d6dfe4"/><circle cx="395.4" cy="368.9" r="2.45" fill="#8ea7de"/><circle cx="526.8" cy="510.3" r="2.45" fill="#9ccae0"/><circle cx="522.4" cy="528.9" r="2.45" fill="#9ccae0"/><circle cx="569.3" cy="418.3" r="2.45" fill="#d6dfe4"/><circle cx="529.0" cy="512.9" r="2.45" fill="#9ccae0"/><circle cx="425.7" cy="344.4" r="2.45" fill="#8ea7de"/><circle cx="475.7" cy="289.5" r="2.45" fill="#8ea7de"/><circle cx="391.6" cy="532.7" r="2.45" fill="#e2d1dc"/><circle cx="625.1" cy="484.3" r="2.45" fill="#5e9a9b"/><circle cx="583.2" cy="413.1" r="2.45" fill="#d6dfe4"/><circle cx="395.7" cy="371.8" r="2.45" fill="#8ea7de"/><circle cx="611.3" cy="451.0" r="2.45" fill="#d6dfe4"/><circle cx="370.3" cy="390.4" r="2.45" fill="#eadccb"/><circle cx="551.1" cy="418.4" r="2.45" fill="#d6dfe4"/><circle cx="483.0" cy="316.1" r="2.45" fill="#8ea7de"/><circle cx="491.0" cy="516.8" r="2.45" fill="#9ccae0"/><circle cx="470.0" cy="433.9" r="2.45" fill="#9ccae0"/><circle cx="474.0" cy="322.2" r="2.45" fill="#8ea7de"/><circle cx="451.9" cy="301.1" r="2.45" fill="#8ea7de"/><circle cx="295.0" cy="357.3" r="2.45" fill="#6f6da8"/><circle cx="419.6" cy="296.6" r="2.45" fill="#8ea7de"/><circle cx="380.1" cy="393.6" r="2.45" fill="#eadccb"/><circle cx="404.8" cy="385.7" r="2.45" fill="#eadccb"/><circle cx="467.6" cy="534.0" r="2.45" fill="#9ccae0"/><circle cx="424.3" cy="502.1" r="2.45" fill="#9ccae0"/><circle cx="357.9" cy="527.3" r="2.45" fill="#e2d1dc"/><circle cx="432.3" cy="337.2" r="2.45" fill="#b9b9bf"/><circle cx="461.7" cy="464.4" r="2.45" fill="#9ccae0"/><circle cx="450.9" cy="305.2" r="2.45" fill="#8ea7de"/><circle cx="618.7" cy="444.2" r="2.45" fill="#d6dfe4"/><circle cx="461.2" cy="299.5" r="2.45" fill="#8ea7de"/><circle cx="557.7" cy="415.5" r="2.45" fill="#d6dfe4"/><circle cx="357.3" cy="414.1" r="2.45" fill="#e3cdb8"/><circle cx="544.5" cy="425.0" r="2.45" fill="#d6dfe4"/><circle cx="533.9" cy="539.9" r="2.45" fill="#9ccae0"/><circle cx="426.8" cy="307.8" r="2.45" fill="#8ea7de"/><circle cx="450.4" cy="296.2" r="2.45" fill="#8ea7de"/><circle cx="483.3" cy="283.4" r="2.45" fill="#8ea7de"/><circle cx="488.5" cy="476.2" r="2.45" fill="#d6dfe4"/><circle cx="593.0" cy="414.2" r="2.45" fill="#5e9a9b"/><circle cx="412.7" cy="334.9" r="2.45" fill="#b9b9bf"/><circle cx="400.8" cy="335.3" r="2.45" fill="#8ea7de"/><circle cx="367.5" cy="524.4" r="2.45" fill="#e2d1dc"/><circle cx="413.1" cy="366.5" r="2.45" fill="#eadccb"/><circle cx="350.6" cy="534.4" r="2.45" fill="#e2d1dc"/><circle cx="618.2" cy="466.4" r="2.45" fill="#d6dfe4"/><circle cx="347.1" cy="396.9" r="2.45" fill="#e3cdb8"/><circle cx="458.9" cy="427.2" r="2.45" fill="#9ccae0"/><circle cx="411.6" cy="479.4" r="2.45" fill="#9ccae0"/><circle cx="521.7" cy="472.2" r="2.45" fill="#d6dfe4"/><circle cx="453.9" cy="411.5" r="2.45" fill="#9ccae0"/><circle cx="521.6" cy="466.4" r="2.45" fill="#5e9a9b"/><circle cx="590.1" cy="456.3" r="2.45" fill="#d6dfe4"/><circle cx="384.6" cy="349.2" r="2.45" fill="#8ea7de"/><circle cx="289.2" cy="344.9" r="2.45" fill="#6f6da8"/><circle cx="426.9" cy="305.9" r="2.45" fill="#8ea7de"/><circle cx="276.0" cy="350.3" r="2.45" fill="#6f6da8"/><circle cx="467.3" cy="449.3" r="2.45" fill="#9ccae0"/><circle cx="342.7" cy="403.4" r="2.45" fill="#e3cdb8"/><circle cx="344.6" cy="397.1" r="2.45" fill="#e3cdb8"/><circle cx="421.5" cy="331.1" r="2.45" fill="#8ea7de"/><circle cx="607.1" cy="501.3" r="2.45" fill="#d6dfe4"/><circle cx="365.9" cy="530.5" r="2.45" fill="#e2d1dc"/><circle cx="589.9" cy="468.1" r="2.45" fill="#d6dfe4"/><circle cx="597.5" cy="466.1" r="2.45" fill="#d6dfe4"/><circle cx="487.3" cy="516.7" r="2.45" fill="#9ccae0"/><circle cx="575.9" cy="484.7" r="2.45" fill="#d6dfe4"/><circle cx="585.0" cy="464.6" r="2.45" fill="#d6dfe4"/><circle cx="447.9" cy="465.6" r="2.45" fill="#9ccae0"/><circle cx="414.2" cy="457.4" r="2.45" fill="#9ccae0"/><circle cx="598.6" cy="453.2" r="2.45" fill="#d6dfe4"/><circle cx="453.1" cy="487.9" r="2.45" fill="#9ccae0"/><circle cx="579.0" cy="484.8" r="2.45" fill="#5e9a9b"/><circle cx="398.2" cy="371.6" r="2.45" fill="#eadccb"/><circle cx="463.2" cy="496.2" r="2.45" fill="#9ccae0"/><circle cx="531.1" cy="535.0" r="2.45" fill="#9ccae0"/><circle cx="351.6" cy="407.6" r="2.45" fill="#e3cdb8"/><circle cx="501.4" cy="470.7" r="2.45" fill="#5e9a9b"/><circle cx="484.7" cy="257.8" r="2.45" fill="#dcb186"/><circle cx="611.1" cy="459.1" r="2.45" fill="#d6dfe4"/><circle cx="488.0" cy="366.9" r="2.45" fill="#eadccb"/><circle cx="455.1" cy="429.6" r="2.45" fill="#9ccae0"/><circle cx="459.4" cy="319.0" r="2.45" fill="#8ea7de"/><circle cx="584.6" cy="439.8" r="2.45" fill="#d6dfe4"/><circle cx="441.0" cy="311.9" r="2.45" fill="#8ea7de"/><circle cx="597.0" cy="439.8" r="2.45" fill="#d6dfe4"/><circle cx="478.9" cy="256.1" r="2.45" fill="#dcb186"/><circle cx="427.1" cy="318.8" r="2.45" fill="#8ea7de"/><circle cx="426.8" cy="509.5" r="2.45" fill="#9ccae0"/><circle cx="445.3" cy="291.2" r="2.45" fill="#8ea7de"/><circle cx="293.6" cy="340.1" r="2.45" fill="#6f6da8"/><circle cx="572.5" cy="407.2" r="2.45" fill="#d6dfe4"/><circle cx="460.6" cy="305.6" r="2.45" fill="#8ea7de"/><circle cx="588.6" cy="457.7" r="2.45" fill="#d6dfe4"/><circle cx="412.9" cy="379.4" r="2.45" fill="#8ea7de"/><circle cx="390.0" cy="371.7" r="2.45" fill="#eadccb"/><circle cx="524.2" cy="522.4" r="2.45" fill="#9ccae0"/><circle cx="487.2" cy="469.9" r="2.45" fill="#d6dfe4"/><circle cx="600.2" cy="458.4" r="2.45" fill="#d6dfe4"/><circle cx="415.4" cy="507.3" r="2.45" fill="#9ccae0"/><circle cx="532.9" cy="562.1" r="2.45" fill="#9ccae0"/><circle cx="457.5" cy="418.4" r="2.45" fill="#9ccae0"/><circle cx="511.6" cy="458.8" r="2.45" fill="#5e9a9b"/><circle cx="604.9" cy="462.0" r="2.45" fill="#d6dfe4"/><circle cx="597.9" cy="454.5" r="2.45" fill="#d6dfe4"/><circle cx="461.0" cy="247.9" r="2.45" fill="#dcb186"/><circle cx="557.5" cy="429.1" r="2.45" fill="#d6dfe4"/><circle cx="465.0" cy="436.4" r="2.45" fill="#9ccae0"/><circle cx="458.0" cy="423.4" r="2.45" fill="#9ccae0"/><circle cx="387.2" cy="539.2" r="2.45" fill="#e2d1dc"/><circle cx="606.7" cy="421.4" r="2.45" fill="#d6dfe4"/><circle cx="450.3" cy="361.7" r="2.45" fill="#8ea7de"/><circle cx="430.8" cy="335.5" r="2.45" fill="#b9b9bf"/><circle cx="395.4" cy="365.8" r="2.45" fill="#eadccb"/><circle cx="533.7" cy="475.0" r="2.45" fill="#5e9a9b"/><circle cx="561.7" cy="490.4" r="2.45" fill="#5e9a9b"/><circle cx="461.3" cy="418.5" r="2.45" fill="#9ccae0"/><circle cx="507.3" cy="486.5" r="2.45" fill="#d6dfe4"/><circle cx="515.0" cy="526.0" r="2.45" fill="#9ccae0"/><circle cx="287.2" cy="336.2" r="2.45" fill="#6f6da8"/><circle cx="474.8" cy="318.9" r="2.45" fill="#8ea7de"/><circle cx="413.5" cy="484.1" r="2.45" fill="#9ccae0"/><circle cx="569.0" cy="409.6" r="2.45" fill="#d6dfe4"/><circle cx="557.3" cy="476.1" r="2.45" fill="#5e9a9b"/><circle cx="473.4" cy="431.3" r="2.45" fill="#9ccae0"/><circle cx="531.4" cy="454.4" r="2.45" fill="#d6dfe4"/><circle cx="416.4" cy="505.5" r="2.45" fill="#9ccae0"/><circle cx="571.2" cy="415.2" r="2.45" fill="#5e9a9b"/><circle cx="446.7" cy="303.5" r="2.45" fill="#8ea7de"/><circle cx="605.7" cy="442.2" r="2.45" fill="#5e9a9b"/><circle cx="382.2" cy="365.3" r="2.45" fill="#8ea7de"/><circle cx="433.9" cy="495.7" r="2.45" fill="#9ccae0"/><circle cx="424.9" cy="337.1" r="2.45" fill="#9ccae0"/><circle cx="438.6" cy="483.1" r="2.45" fill="#9ccae0"/><circle cx="401.4" cy="346.3" r="2.45" fill="#8ea7de"/><circle cx="486.4" cy="389.4" r="2.45" fill="#eadccb"/><circle cx="455.5" cy="479.6" r="2.45" fill="#9ccae0"/><circle cx="611.8" cy="472.0" r="2.45" fill="#d6dfe4"/><circle cx="436.2" cy="497.1" r="2.45" fill="#9ccae0"/><circle cx="619.9" cy="491.1" r="2.45" fill="#d6dfe4"/><circle cx="471.9" cy="434.7" r="2.45" fill="#9ccae0"/><circle cx="613.6" cy="443.5" r="2.45" fill="#d6dfe4"/><circle cx="499.4" cy="369.8" r="2.45" fill="#eadccb"/><circle cx="441.8" cy="487.9" r="2.45" fill="#9ccae0"/><circle cx="510.3" cy="460.1" r="2.45" fill="#d6dfe4"/><circle cx="546.9" cy="443.0" r="2.45" fill="#d6dfe4"/><circle cx="488.7" cy="325.6" r="2.45" fill="#8ea7de"/><circle cx="454.1" cy="483.6" r="2.45" fill="#9ccae0"/><circle cx="475.5" cy="407.0" r="2.45" fill="#9ccae0"/><circle cx="621.4" cy="440.6" r="2.45" fill="#5e9a9b"/><circle cx="625.3" cy="441.5" r="2.45" fill="#d6dfe4"/><circle cx="566.6" cy="438.3" r="2.45" fill="#d6dfe4"/><circle cx="494.6" cy="511.8" r="2.45" fill="#9ccae0"/><circle cx="456.7" cy="319.7" r="2.45" fill="#8ea7de"/><circle cx="433.0" cy="371.4" r="2.45" fill="#8ea7de"/><circle cx="452.8" cy="329.0" r="2.45" fill="#8ea7de"/><circle cx="465.9" cy="412.3" r="2.45" fill="#9ccae0"/><circle cx="582.5" cy="457.8" r="2.45" fill="#d6dfe4"/><circle cx="567.1" cy="437.8" r="2.45" fill="#d6dfe4"/><circle cx="423.1" cy="299.0" r="2.45" fill="#8ea7de"/><circle cx="465.5" cy="246.9" r="2.45" fill="#dcb186"/><circle cx="263.4" cy="342.1" r="2.45" fill="#6f6da8"/><circle cx="434.7" cy="322.3" r="2.45" fill="#8ea7de"/><circle cx="460.0" cy="271.6" r="2.45" fill="#8ea7de"/><circle cx="442.4" cy="508.2" r="2.45" fill="#9ccae0"/><circle cx="542.7" cy="425.9" r="2.45" fill="#d6dfe4"/><circle cx="437.5" cy="316.2" r="2.45" fill="#8ea7de"/><circle cx="411.6" cy="471.3" r="2.45" fill="#9ccae0"/><circle cx="408.7" cy="491.7" r="2.45" fill="#9ccae0"/><circle cx="627.8" cy="398.5" r="2.45" fill="#5e9a9b"/><circle cx="540.7" cy="450.1" r="2.45" fill="#5e9a9b"/><circle cx="483.0" cy="379.5" r="2.45" fill="#eadccb"/><circle cx="511.9" cy="471.7" r="2.45" fill="#d6dfe4"/><circle cx="598.3" cy="430.4" r="2.45" fill="#d6dfe4"/><circle cx="439.1" cy="298.3" r="2.45" fill="#8ea7de"/><circle cx="414.7" cy="377.2" r="2.45" fill="#eadccb"/><circle cx="474.9" cy="535.1" r="2.45" fill="#9ccae0"/><circle cx="401.6" cy="389.1" r="2.45" fill="#eadccb"/><circle cx="371.8" cy="360.0" r="2.45" fill="#eadccb"/><circle cx="543.1" cy="559.0" r="2.45" fill="#9ccae0"/><circle cx="455.3" cy="307.5" r="2.45" fill="#8ea7de"/><circle cx="421.1" cy="291.0" r="2.45" fill="#8ea7de"/><circle cx="502.4" cy="386.0" r="2.45" fill="#eadccb"/><circle cx="541.2" cy="554.6" r="2.45" fill="#9ccae0"/><circle cx="580.9" cy="456.0" r="2.45" fill="#d6dfe4"/><circle cx="561.1" cy="425.5" r="2.45" fill="#d6dfe4"/><circle cx="430.9" cy="481.9" r="2.45" fill="#9ccae0"/><circle cx="269.5" cy="338.3" r="2.45" fill="#6f6da8"/><circle cx="616.3" cy="444.0" r="2.45" fill="#d6dfe4"/><circle cx="269.0" cy="339.7" r="2.45" fill="#6f6da8"/><circle cx="491.1" cy="536.0" r="2.45" fill="#9ccae0"/><circle cx="440.6" cy="324.4" r="2.45" fill="#b9b9bf"/><circle cx="409.7" cy="327.6" r="2.45" fill="#b9b9bf"/><circle cx="456.4" cy="311.5" r="2.45" fill="#8ea7de"/><circle cx="593.0" cy="493.3" r="2.45" fill="#d6dfe4"/><circle cx="464.7" cy="274.6" r="2.45" fill="#8ea7de"/><circle cx="492.0" cy="528.1" r="2.45" fill="#9ccae0"/><circle cx="402.9" cy="350.4" r="2.45" fill="#8ea7de"/><circle cx="472.0" cy="247.1" r="2.45" fill="#dcb186"/><circle cx="409.3" cy="288.0" r="2.45" fill="#8ea7de"/><circle cx="516.9" cy="459.7" r="2.45" fill="#d6dfe4"/><circle cx="414.7" cy="359.8" r="2.45" fill="#8ea7de"/><circle cx="437.8" cy="475.5" r="2.45" fill="#9ccae0"/><circle cx="522.2" cy="537.3" r="2.45" fill="#9ccae0"/><circle cx="468.2" cy="519.7" r="2.45" fill="#9ccae0"/><circle cx="454.7" cy="310.5" r="2.45" fill="#8ea7de"/><circle cx="505.7" cy="463.2" r="2.45" fill="#5e9a9b"/><circle cx="437.4" cy="469.1" r="2.45" fill="#9ccae0"/><circle cx="450.6" cy="309.7" r="2.45" fill="#8ea7de"/><circle cx="476.9" cy="397.2" r="2.45" fill="#eadccb"/><circle cx="593.1" cy="471.7" r="2.45" fill="#d6dfe4"/><circle cx="599.2" cy="430.9" r="2.45" fill="#d6dfe4"/><circle cx="412.7" cy="356.5" r="2.45" fill="#8ea7de"/><circle cx="517.9" cy="528.8" r="2.45" fill="#9ccae0"/><circle cx="413.0" cy="311.3" r="2.45" fill="#8ea7de"/><circle cx="464.5" cy="413.8" r="2.45" fill="#9ccae0"/><circle cx="533.7" cy="473.6" r="2.45" fill="#d6dfe4"/><circle cx="479.5" cy="520.2" r="2.45" fill="#9ccae0"/><circle cx="609.8" cy="458.4" r="2.45" fill="#d6dfe4"/><circle cx="558.9" cy="412.2" r="2.45" fill="#d6dfe4"/><circle cx="520.8" cy="472.5" r="2.45" fill="#d6dfe4"/><circle cx="538.8" cy="419.9" r="2.45" fill="#d6dfe4"/><circle cx="283.7" cy="345.3" r="2.45" fill="#6f6da8"/><circle cx="374.8" cy="344.6" r="2.45" fill="#8ea7de"/><circle cx="395.8" cy="512.0" r="2.45" fill="#9ccae0"/><circle cx="442.9" cy="331.6" r="2.45" fill="#8ea7de"/><circle cx="569.8" cy="500.6" r="2.45" fill="#5e9a9b"/><circle cx="539.9" cy="404.9" r="2.45" fill="#d6dfe4"/><circle cx="404.2" cy="330.0" r="2.45" fill="#b9b9bf"/><circle cx="407.5" cy="472.2" r="2.45" fill="#9ccae0"/><circle cx="530.2" cy="568.3" r="2.45" fill="#9ccae0"/><circle cx="402.5" cy="382.7" r="2.45" fill="#eadccb"/><circle cx="454.4" cy="272.8" r="2.45" fill="#8ea7de"/><circle cx="469.8" cy="433.2" r="2.45" fill="#9ccae0"/><circle cx="504.7" cy="478.8" r="2.45" fill="#d6dfe4"/><circle cx="557.6" cy="427.8" r="2.45" fill="#d6dfe4"/><circle cx="452.0" cy="297.9" r="2.45" fill="#8ea7de"/><circle cx="566.9" cy="414.0" r="2.45" fill="#d6dfe4"/><circle cx="369.5" cy="335.2" r="2.45" fill="#8ea7de"/><circle cx="429.9" cy="482.7" r="2.45" fill="#9ccae0"/><circle cx="443.1" cy="349.5" r="2.45" fill="#8ea7de"/><circle cx="458.2" cy="288.3" r="2.45" fill="#8ea7de"/><circle cx="422.9" cy="513.6" r="2.45" fill="#9ccae0"/><circle cx="463.6" cy="244.7" r="2.45" fill="#dcb186"/><circle cx="448.7" cy="301.0" r="2.45" fill="#8ea7de"/><circle cx="465.7" cy="420.9" r="2.45" fill="#9ccae0"/><circle cx="529.4" cy="428.2" r="2.45" fill="#d6dfe4"/><circle cx="404.1" cy="386.0" r="2.45" fill="#eadccb"/><circle cx="460.5" cy="419.1" r="2.45" fill="#9ccae0"/><circle cx="473.8" cy="271.6" r="2.45" fill="#8ea7de"/><circle cx="429.3" cy="336.0" r="2.45" fill="#8ea7de"/><circle cx="448.3" cy="512.2" r="2.45" fill="#9ccae0"/><circle cx="398.1" cy="491.0" r="2.45" fill="#9ccae0"/><circle cx="425.6" cy="314.9" r="2.45" fill="#8ea7de"/><circle cx="457.3" cy="335.9" r="2.45" fill="#8ea7de"/><circle cx="585.6" cy="436.1" r="2.45" fill="#d6dfe4"/><circle cx="372.8" cy="300.7" r="2.45" fill="#8ea7de"/><circle cx="366.6" cy="530.2" r="2.45" fill="#e2d1dc"/><circle cx="441.5" cy="484.9" r="2.45" fill="#9ccae0"/><circle cx="366.7" cy="382.8" r="2.45" fill="#8ea7de"/><circle cx="413.0" cy="454.1" r="2.45" fill="#9ccae0"/><circle cx="323.2" cy="343.9" r="2.45" fill="#8ea7de"/><circle cx="337.0" cy="339.3" r="2.45" fill="#8ea7de"/><circle cx="578.3" cy="466.4" r="2.45" fill="#d6dfe4"/><circle cx="532.3" cy="458.8" r="2.45" fill="#5e9a9b"/><circle cx="529.6" cy="546.4" r="2.45" fill="#9ccae0"/><circle cx="282.6" cy="351.7" r="2.45" fill="#6f6da8"/><circle cx="466.2" cy="400.1" r="2.45" fill="#9ccae0"/><circle cx="425.4" cy="281.7" r="2.45" fill="#8ea7de"/><circle cx="424.8" cy="337.6" r="2.45" fill="#8ea7de"/><circle cx="426.7" cy="314.6" r="2.45" fill="#8ea7de"/><circle cx="421.9" cy="318.5" r="2.45" fill="#8ea7de"/><circle cx="429.7" cy="281.8" r="2.45" fill="#8ea7de"/><circle cx="522.9" cy="532.0" r="2.45" fill="#9ccae0"/><circle cx="394.3" cy="397.0" r="2.45" fill="#eadccb"/><circle cx="478.3" cy="258.1" r="2.45" fill="#dcb186"/><circle cx="341.3" cy="404.8" r="2.45" fill="#e3cdb8"/><circle cx="410.7" cy="292.1" r="2.45" fill="#8ea7de"/><circle cx="451.2" cy="307.8" r="2.45" fill="#8ea7de"/><circle cx="553.3" cy="422.4" r="2.45" fill="#d6dfe4"/><circle cx="470.1" cy="411.7" r="2.45" fill="#9ccae0"/><circle cx="299.1" cy="345.8" r="2.45" fill="#6f6da8"/><circle cx="461.1" cy="248.6" r="2.45" fill="#dcb186"/><circle cx="427.1" cy="512.2" r="2.45" fill="#9ccae0"/><circle cx="450.5" cy="318.4" r="2.45" fill="#8ea7de"/><circle cx="587.5" cy="464.6" r="2.45" fill="#d6dfe4"/><circle cx="570.0" cy="479.9" r="2.45" fill="#d6dfe4"/><circle cx="407.9" cy="362.6" r="2.45" fill="#8ea7de"/><circle cx="416.1" cy="375.5" r="2.45" fill="#eadccb"/><circle cx="496.3" cy="461.8" r="2.45" fill="#d6dfe4"/><circle cx="618.8" cy="465.0" r="2.45" fill="#d6dfe4"/><circle cx="540.5" cy="419.5" r="2.45" fill="#d6dfe4"/><circle cx="622.0" cy="423.1" r="2.45" fill="#d6dfe4"/><circle cx="424.7" cy="381.2" r="2.45" fill="#eadccb"/><circle cx="433.7" cy="504.7" r="2.45" fill="#9ccae0"/><circle cx="508.3" cy="455.6" r="2.45" fill="#d6dfe4"/><circle cx="458.1" cy="298.7" r="2.45" fill="#8ea7de"/><circle cx="440.5" cy="360.3" r="2.45" fill="#8ea7de"/><circle cx="438.6" cy="360.2" r="2.45" fill="#8ea7de"/><circle cx="487.0" cy="311.7" r="2.45" fill="#8ea7de"/><circle cx="409.1" cy="361.3" r="2.45" fill="#eadccb"/><circle cx="438.2" cy="330.7" r="2.45" fill="#b9b9bf"/><circle cx="415.8" cy="329.4" r="2.45" fill="#b9b9bf"/><circle cx="405.4" cy="334.0" r="2.45" fill="#b9b9bf"/><circle cx="495.9" cy="486.2" r="2.45" fill="#d6dfe4"/><circle cx="336.2" cy="347.9" r="2.45" fill="#8ea7de"/><circle cx="600.9" cy="463.2" r="2.45" fill="#d6dfe4"/><circle cx="375.6" cy="405.7" r="2.45" fill="#eadccb"/><circle cx="366.5" cy="524.5" r="2.45" fill="#e2d1dc"/><circle cx="442.6" cy="289.8" r="2.45" fill="#8ea7de"/><circle cx="307.9" cy="345.4" r="2.45" fill="#6f6da8"/><circle cx="418.0" cy="377.6" r="2.45" fill="#8ea7de"/><circle cx="554.5" cy="427.5" r="2.45" fill="#d6dfe4"/><circle cx="413.1" cy="336.7" r="2.45" fill="#b9b9bf"/><circle cx="411.6" cy="367.3" r="2.45" fill="#eadccb"/><circle cx="495.8" cy="520.5" r="2.45" fill="#9ccae0"/><circle cx="472.9" cy="287.6" r="2.45" fill="#8ea7de"/><circle cx="534.2" cy="562.3" r="2.45" fill="#9ccae0"/><circle cx="483.2" cy="366.5" r="2.45" fill="#eadccb"/><circle cx="485.3" cy="449.9" r="2.45" fill="#5e9a9b"/><circle cx="609.8" cy="448.5" r="2.45" fill="#d6dfe4"/><circle cx="455.8" cy="293.6" r="2.45" fill="#8ea7de"/><circle cx="610.3" cy="483.0" r="2.45" fill="#d6dfe4"/><circle cx="379.2" cy="400.6" r="2.45" fill="#eadccb"/><circle cx="524.8" cy="476.6" r="2.45" fill="#d6dfe4"/><circle cx="485.5" cy="469.0" r="2.45" fill="#d6dfe4"/><circle cx="421.4" cy="322.8" r="2.45" fill="#8ea7de"/><circle cx="401.1" cy="327.1" r="2.45" fill="#b9b9bf"/><circle cx="512.3" cy="467.2" r="2.45" fill="#d6dfe4"/><circle cx="350.3" cy="399.5" r="2.45" fill="#e3cdb8"/><circle cx="424.9" cy="480.3" r="2.45" fill="#9ccae0"/><circle cx="538.1" cy="435.6" r="2.45" fill="#d6dfe4"/><circle cx="610.8" cy="468.0" r="2.45" fill="#d6dfe4"/><circle cx="429.7" cy="314.2" r="2.45" fill="#8ea7de"/><circle cx="538.5" cy="564.7" r="2.45" fill="#9ccae0"/><circle cx="419.7" cy="514.7" r="2.45" fill="#9ccae0"/><circle cx="308.9" cy="359.1" r="2.45" fill="#8ea7de"/><circle cx="373.7" cy="534.9" r="2.45" fill="#e2d1dc"/><circle cx="504.9" cy="452.8" r="2.45" fill="#d6dfe4"/><circle cx="601.4" cy="455.2" r="2.45" fill="#d6dfe4"/><circle cx="388.2" cy="434.3" r="2.45" fill="#9ccae0"/><circle cx="405.0" cy="371.8" r="2.45" fill="#8ea7de"/><circle cx="418.2" cy="299.1" r="2.45" fill="#8ea7de"/><circle cx="454.4" cy="287.1" r="2.45" fill="#8ea7de"/><circle cx="532.2" cy="542.0" r="2.45" fill="#9ccae0"/><circle cx="538.2" cy="548.2" r="2.45" fill="#9ccae0"/><circle cx="335.0" cy="398.3" r="2.45" fill="#e3cdb8"/><circle cx="452.1" cy="487.1" r="2.45" fill="#9ccae0"/><circle cx="453.9" cy="345.0" r="2.45" fill="#8ea7de"/><circle cx="458.0" cy="249.9" r="2.45" fill="#dcb186"/><circle cx="500.5" cy="461.1" r="2.45" fill="#d6dfe4"/><circle cx="439.9" cy="474.1" r="2.45" fill="#9ccae0"/><circle cx="371.4" cy="530.2" r="2.45" fill="#e2d1dc"/><circle cx="592.2" cy="487.6" r="2.45" fill="#d6dfe4"/><circle cx="436.7" cy="482.6" r="2.45" fill="#9ccae0"/><circle cx="476.3" cy="431.1" r="2.45" fill="#9ccae0"/><circle cx="401.8" cy="322.6" r="2.45" fill="#b9b9bf"/><circle cx="416.1" cy="333.3" r="2.45" fill="#8ea7de"/><circle cx="469.4" cy="428.2" r="2.45" fill="#9ccae0"/><circle cx="435.6" cy="473.1" r="2.45" fill="#9ccae0"/><circle cx="404.4" cy="344.4" r="2.45" fill="#9ccae0"/><circle cx="473.3" cy="402.9" r="2.45" fill="#9ccae0"/><circle cx="602.3" cy="503.7" r="2.45" fill="#d6dfe4"/><circle cx="526.5" cy="542.4" r="2.45" fill="#9ccae0"/><circle cx="441.4" cy="371.2" r="2.45" fill="#8ea7de"/><circle cx="408.5" cy="488.0" r="2.45" fill="#9ccae0"/><circle cx="342.4" cy="533.5" r="2.45" fill="#e2d1dc"/><circle cx="509.4" cy="450.9" r="2.45" fill="#5e9a9b"/><circle cx="350.8" cy="407.0" r="2.45" fill="#e3cdb8"/><circle cx="442.2" cy="330.7" r="2.45" fill="#8ea7de"/><circle cx="430.7" cy="327.2" r="2.45" fill="#b9b9bf"/><circle cx="572.3" cy="478.0" r="2.45" fill="#d6dfe4"/><circle cx="433.4" cy="298.1" r="2.45" fill="#8ea7de"/><circle cx="416.8" cy="508.2" r="2.45" fill="#9ccae0"/><circle cx="482.5" cy="273.0" r="2.45" fill="#8ea7de"/><circle cx="581.8" cy="402.4" r="2.45" fill="#d6dfe4"/><circle cx="336.8" cy="395.6" r="2.45" fill="#e3cdb8"/><circle cx="426.3" cy="485.1" r="2.45" fill="#9ccae0"/><circle cx="529.0" cy="459.1" r="2.45" fill="#d6dfe4"/><circle cx="383.3" cy="327.0" r="2.45" fill="#8ea7de"/><circle cx="587.2" cy="411.0" r="2.45" fill="#d6dfe4"/><circle cx="437.8" cy="491.5" r="2.45" fill="#9ccae0"/><circle cx="312.4" cy="345.4" r="2.45" fill="#6f6da8"/><circle cx="549.4" cy="404.9" r="2.45" fill="#d6dfe4"/><circle cx="449.3" cy="309.6" r="2.45" fill="#8ea7de"/><circle cx="527.5" cy="552.4" r="2.45" fill="#9ccae0"/><circle cx="548.0" cy="412.4" r="2.45" fill="#d6dfe4"/><circle cx="456.7" cy="297.9" r="2.45" fill="#8ea7de"/><circle cx="572.3" cy="474.9" r="2.45" fill="#d6dfe4"/><circle cx="572.8" cy="466.9" r="2.45" fill="#5e9a9b"/><circle cx="433.9" cy="329.8" r="2.45" fill="#8ea7de"/><circle cx="462.3" cy="245.0" r="2.45" fill="#dcb186"/><circle cx="420.8" cy="358.2" r="2.45" fill="#eadccb"/><circle cx="289.6" cy="347.8" r="2.45" fill="#6f6da8"/><circle cx="391.3" cy="403.4" r="2.45" fill="#eadccb"/><circle cx="508.0" cy="473.8" r="2.45" fill="#d6dfe4"/><circle cx="546.2" cy="416.2" r="2.45" fill="#d6dfe4"/><circle cx="521.1" cy="471.4" r="2.45" fill="#d6dfe4"/><circle cx="605.6" cy="494.2" r="2.45" fill="#d6dfe4"/><circle cx="587.0" cy="501.3" r="2.45" fill="#d6dfe4"/><circle cx="396.6" cy="342.4" r="2.45" fill="#8ea7de"/><circle cx="559.4" cy="485.6" r="2.45" fill="#d6dfe4"/><circle cx="493.6" cy="378.6" r="2.45" fill="#eadccb"/><circle cx="261.1" cy="342.0" r="2.45" fill="#6f6da8"/><circle cx="371.9" cy="534.0" r="2.45" fill="#e2d1dc"/><circle cx="545.7" cy="418.0" r="2.45" fill="#d6dfe4"/><circle cx="559.8" cy="417.8" r="2.45" fill="#d6dfe4"/><circle cx="457.8" cy="309.0" r="2.45" fill="#8ea7de"/><circle cx="564.9" cy="458.6" r="2.45" fill="#d6dfe4"/><circle cx="438.8" cy="284.1" r="2.45" fill="#8ea7de"/><circle cx="464.5" cy="300.9" r="2.45" fill="#8ea7de"/><circle cx="447.5" cy="316.8" r="2.45" fill="#b9b9bf"/><circle cx="321.3" cy="342.8" r="2.45" fill="#8ea7de"/><circle cx="545.6" cy="438.3" r="2.45" fill="#d6dfe4"/><circle cx="636.5" cy="461.3" r="2.45" fill="#5e9a9b"/><circle cx="451.9" cy="441.4" r="2.45" fill="#9ccae0"/><circle cx="429.0" cy="483.7" r="2.45" fill="#9ccae0"/><circle cx="397.1" cy="538.7" r="2.45" fill="#e2d1dc"/><circle cx="496.4" cy="466.1" r="2.45" fill="#d6dfe4"/><circle cx="532.7" cy="463.9" r="2.45" fill="#d6dfe4"/><circle cx="421.5" cy="341.9" r="2.45" fill="#9ccae0"/><circle cx="408.0" cy="285.0" r="2.45" fill="#8ea7de"/><circle cx="279.6" cy="344.7" r="2.45" fill="#6f6da8"/><circle cx="442.1" cy="287.9" r="2.45" fill="#8ea7de"/><circle cx="609.8" cy="473.3" r="2.45" fill="#d6dfe4"/><circle cx="450.3" cy="303.8" r="2.45" fill="#8ea7de"/><circle cx="457.2" cy="470.0" r="2.45" fill="#5e9a9b"/><circle cx="595.5" cy="464.4" r="2.45" fill="#d6dfe4"/><circle cx="453.2" cy="308.2" r="2.45" fill="#8ea7de"/><circle cx="535.1" cy="560.1" r="2.45" fill="#9ccae0"/><circle cx="586.4" cy="418.2" r="2.45" fill="#5e9a9b"/><circle cx="471.9" cy="293.1" r="2.45" fill="#8ea7de"/><circle cx="457.1" cy="440.3" r="2.45" fill="#9ccae0"/><circle cx="404.4" cy="334.7" r="2.45" fill="#b9b9bf"/><circle cx="428.8" cy="471.7" r="2.45" fill="#9ccae0"/><circle cx="541.0" cy="565.9" r="2.45" fill="#9ccae0"/><circle cx="516.3" cy="524.0" r="2.45" fill="#9ccae0"/><circle cx="534.4" cy="547.7" r="2.45" fill="#9ccae0"/><circle cx="579.6" cy="412.6" r="2.45" fill="#d6dfe4"/><circle cx="532.1" cy="538.5" r="2.45" fill="#9ccae0"/><circle cx="412.6" cy="303.5" r="2.45" fill="#8ea7de"/><circle cx="278.1" cy="331.1" r="2.45" fill="#6f6da8"/><circle cx="529.0" cy="443.9" r="2.45" fill="#d6dfe4"/><circle cx="401.4" cy="383.1" r="2.45" fill="#eadccb"/><circle cx="447.3" cy="315.7" r="2.45" fill="#8ea7de"/><circle cx="417.0" cy="364.5" r="2.45" fill="#eadccb"/><circle cx="425.3" cy="333.6" r="2.45" fill="#b9b9bf"/><circle cx="602.1" cy="472.1" r="2.45" fill="#d6dfe4"/><circle cx="614.7" cy="441.0" r="2.45" fill="#d6dfe4"/><circle cx="604.8" cy="450.1" r="2.45" fill="#d6dfe4"/><circle cx="408.8" cy="367.9" r="2.45" fill="#eadccb"/><circle cx="588.7" cy="474.5" r="2.45" fill="#d6dfe4"/><circle cx="459.0" cy="486.5" r="2.45" fill="#9ccae0"/><circle cx="279.1" cy="351.1" r="2.45" fill="#6f6da8"/><circle cx="422.9" cy="515.0" r="2.45" fill="#9ccae0"/><circle cx="496.0" cy="481.6" r="2.45" fill="#d6dfe4"/><circle cx="598.6" cy="457.3" r="2.45" fill="#d6dfe4"/><circle cx="345.5" cy="393.8" r="2.45" fill="#e3cdb8"/><circle cx="407.2" cy="386.4" r="2.45" fill="#eadccb"/><circle cx="478.9" cy="463.1" r="2.45" fill="#5e9a9b"/><circle cx="332.2" cy="537.6" r="2.45" fill="#5e9a9b"/><circle cx="449.7" cy="314.8" r="2.45" fill="#8ea7de"/><circle cx="497.1" cy="472.7" r="2.45" fill="#5e9a9b"/><circle cx="359.0" cy="526.0" r="2.45" fill="#e2d1dc"/><circle cx="600.2" cy="442.0" r="2.45" fill="#d6dfe4"/><circle cx="449.9" cy="359.8" r="2.45" fill="#8ea7de"/><circle cx="344.2" cy="402.3" r="2.45" fill="#e3cdb8"/><circle cx="552.2" cy="437.4" r="2.45" fill="#d6dfe4"/><circle cx="553.9" cy="415.2" r="2.45" fill="#d6dfe4"/><circle cx="351.3" cy="523.1" r="2.45" fill="#e2d1dc"/><circle cx="499.5" cy="396.0" r="2.45" fill="#eadccb"/><circle cx="440.6" cy="315.6" r="2.45" fill="#8ea7de"/><circle cx="467.8" cy="252.1" r="2.45" fill="#dcb186"/><circle cx="453.3" cy="348.7" r="2.45" fill="#8ea7de"/><circle cx="502.4" cy="457.8" r="2.45" fill="#d6dfe4"/><circle cx="482.1" cy="423.6" r="2.45" fill="#9ccae0"/><circle cx="592.2" cy="466.8" r="2.45" fill="#d6dfe4"/><circle cx="427.0" cy="480.4" r="2.45" fill="#9ccae0"/><circle cx="406.4" cy="495.6" r="2.45" fill="#9ccae0"/><circle cx="527.9" cy="470.8" r="2.45" fill="#5e9a9b"/><circle cx="406.4" cy="379.5" r="2.45" fill="#eadccb"/><circle cx="440.2" cy="495.2" r="2.45" fill="#9ccae0"/><circle cx="487.7" cy="321.9" r="2.45" fill="#8ea7de"/><circle cx="570.9" cy="480.2" r="2.45" fill="#d6dfe4"/><circle cx="407.1" cy="517.9" r="2.45" fill="#9ccae0"/><circle cx="437.2" cy="378.8" r="2.45" fill="#8ea7de"/><circle cx="532.0" cy="436.2" r="2.45" fill="#d6dfe4"/><circle cx="441.5" cy="314.0" r="2.45" fill="#8ea7de"/><circle cx="411.5" cy="337.2" r="2.45" fill="#b9b9bf"/><circle cx="337.7" cy="339.7" r="2.45" fill="#8ea7de"/><circle cx="511.0" cy="367.3" r="2.45" fill="#eadccb"/><circle cx="518.7" cy="475.6" r="2.45" fill="#d6dfe4"/><circle cx="410.0" cy="378.9" r="2.45" fill="#eadccb"/><circle cx="355.6" cy="411.1" r="2.45" fill="#e3cdb8"/><circle cx="439.4" cy="465.3" r="2.45" fill="#9ccae0"/><circle cx="409.6" cy="334.4" r="2.45" fill="#b9b9bf"/><circle cx="615.4" cy="453.5" r="2.45" fill="#d6dfe4"/><circle cx="406.9" cy="394.8" r="2.45" fill="#eadccb"/><circle cx="527.2" cy="532.7" r="2.45" fill="#9ccae0"/><circle cx="392.2" cy="329.1" r="2.45" fill="#b9b9bf"/><circle cx="607.4" cy="484.0" r="2.45" fill="#d6dfe4"/><circle cx="415.9" cy="333.4" r="2.45" fill="#b9b9bf"/><circle cx="437.2" cy="481.6" r="2.45" fill="#9ccae0"/><circle cx="586.1" cy="481.0" r="2.45" fill="#d6dfe4"/><circle cx="420.1" cy="506.8" r="2.45" fill="#9ccae0"/><circle cx="482.3" cy="454.2" r="2.45" fill="#5e9a9b"/><circle cx="480.8" cy="421.9" r="2.45" fill="#9ccae0"/><circle cx="547.5" cy="412.8" r="2.45" fill="#d6dfe4"/><circle cx="345.2" cy="401.2" r="2.45" fill="#e3cdb8"/><circle cx="316.9" cy="337.1" r="2.45" fill="#8ea7de"/><circle cx="462.9" cy="359.0" r="2.45" fill="#8ea7de"/><circle cx="441.9" cy="468.0" r="2.45" fill="#9ccae0"/><circle cx="457.4" cy="435.8" r="2.45" fill="#9ccae0"/><circle cx="493.3" cy="380.9" r="2.45" fill="#eadccb"/><circle cx="459.0" cy="356.4" r="2.45" fill="#8ea7de"/><circle cx="502.7" cy="461.8" r="2.45" fill="#5e9a9b"/><circle cx="490.8" cy="396.5" r="2.45" fill="#eadccb"/><circle cx="347.0" cy="398.3" r="2.45" fill="#e3cdb8"/><circle cx="594.2" cy="422.7" r="2.45" fill="#d6dfe4"/><circle cx="571.6" cy="437.2" r="2.45" fill="#d6dfe4"/><circle cx="402.0" cy="473.0" r="2.45" fill="#9ccae0"/><circle cx="475.0" cy="328.8" r="2.45" fill="#8ea7de"/><circle cx="527.5" cy="555.2" r="2.45" fill="#9ccae0"/><circle cx="285.3" cy="355.9" r="2.45" fill="#6f6da8"/><circle cx="474.8" cy="408.6" r="2.45" fill="#9ccae0"/><circle cx="442.3" cy="502.9" r="2.45" fill="#9ccae0"/><circle cx="402.4" cy="355.2" r="2.45" fill="#8ea7de"/><circle cx="349.3" cy="394.4" r="2.45" fill="#e3cdb8"/><circle cx="580.2" cy="447.3" r="2.45" fill="#d6dfe4"/><circle cx="411.5" cy="326.4" r="2.45" fill="#b9b9bf"/><circle cx="538.0" cy="560.8" r="2.45" fill="#9ccae0"/><circle cx="425.8" cy="508.2" r="2.45" fill="#9ccae0"/><circle cx="537.8" cy="565.4" r="2.45" fill="#9ccae0"/><circle cx="376.5" cy="531.3" r="2.45" fill="#e2d1dc"/><circle cx="383.8" cy="389.6" r="2.45" fill="#eadccb"/><circle cx="452.0" cy="342.9" r="2.45" fill="#8ea7de"/><circle cx="416.8" cy="326.1" r="2.45" fill="#b9b9bf"/><circle cx="357.2" cy="336.1" r="2.45" fill="#8ea7de"/><circle cx="472.8" cy="303.3" r="2.45" fill="#8ea7de"/><circle cx="431.5" cy="297.7" r="2.45" fill="#8ea7de"/><circle cx="563.9" cy="419.7" r="2.45" fill="#d6dfe4"/><circle cx="396.3" cy="404.1" r="2.45" fill="#eadccb"/><circle cx="637.0" cy="472.9" r="2.45" fill="#5e9a9b"/><circle cx="579.3" cy="495.3" r="2.45" fill="#d6dfe4"/><circle cx="526.6" cy="532.3" r="2.45" fill="#9ccae0"/><circle cx="440.9" cy="295.5" r="2.45" fill="#8ea7de"/><circle cx="584.6" cy="430.8" r="2.45" fill="#5e9a9b"/><circle cx="428.3" cy="477.0" r="2.45" fill="#9ccae0"/><circle cx="577.2" cy="464.1" r="2.45" fill="#d6dfe4"/><circle cx="485.2" cy="390.0" r="2.45" fill="#eadccb"/><circle cx="385.9" cy="415.3" r="2.45" fill="#eadccb"/><circle cx="440.7" cy="351.2" r="2.45" fill="#8ea7de"/><circle cx="373.3" cy="530.1" r="2.45" fill="#e2d1dc"/><circle cx="539.2" cy="426.0" r="2.45" fill="#d6dfe4"/><circle cx="497.7" cy="523.5" r="2.45" fill="#9ccae0"/><circle cx="491.4" cy="374.3" r="2.45" fill="#eadccb"/><circle cx="571.0" cy="485.3" r="2.45" fill="#d6dfe4"/><circle cx="410.7" cy="323.9" r="2.45" fill="#b9b9bf"/><circle cx="550.4" cy="418.2" r="2.45" fill="#d6dfe4"/><circle cx="603.4" cy="469.2" r="2.45" fill="#d6dfe4"/><circle cx="603.2" cy="466.1" r="2.45" fill="#d6dfe4"/><circle cx="406.8" cy="364.2" r="2.45" fill="#eadccb"/><circle cx="492.3" cy="512.7" r="2.45" fill="#9ccae0"/><circle cx="580.9" cy="417.0" r="2.45" fill="#d6dfe4"/><circle cx="409.0" cy="327.4" r="2.45" fill="#8ea7de"/><circle cx="467.2" cy="302.7" r="2.45" fill="#8ea7de"/><circle cx="538.2" cy="490.8" r="2.45" fill="#d6dfe4"/><circle cx="485.0" cy="457.5" r="2.45" fill="#d6dfe4"/><circle cx="399.0" cy="532.6" r="2.45" fill="#e2d1dc"/><circle cx="636.9" cy="478.8" r="2.45" fill="#d6dfe4"/><circle cx="316.1" cy="338.9" r="2.45" fill="#6f6da8"/><circle cx="536.4" cy="461.0" r="2.45" fill="#d6dfe4"/><circle cx="428.6" cy="507.8" r="2.45" fill="#9ccae0"/><circle cx="582.3" cy="448.7" r="2.45" fill="#d6dfe4"/><circle cx="436.2" cy="365.7" r="2.45" fill="#8ea7de"/><circle cx="425.8" cy="499.0" r="2.45" fill="#9ccae0"/><circle cx="415.5" cy="498.1" r="2.45" fill="#9ccae0"/><circle cx="334.2" cy="398.3" r="2.45" fill="#e3cdb8"/><circle cx="491.2" cy="530.0" r="2.45" fill="#9ccae0"/><circle cx="568.7" cy="487.3" r="2.45" fill="#d6dfe4"/><circle cx="283.9" cy="334.7" r="2.45" fill="#6f6da8"/><circle cx="426.9" cy="513.9" r="2.45" fill="#9ccae0"/><circle cx="265.2" cy="350.7" r="2.45" fill="#6f6da8"/><circle cx="392.0" cy="306.1" r="2.45" fill="#8ea7de"/><circle cx="607.8" cy="444.7" r="2.45" fill="#d6dfe4"/><circle cx="473.3" cy="305.7" r="2.45" fill="#8ea7de"/><circle cx="578.9" cy="435.6" r="2.45" fill="#d6dfe4"/><circle cx="581.2" cy="442.6" r="2.45" fill="#d6dfe4"/><circle cx="453.8" cy="421.2" r="2.45" fill="#9ccae0"/><circle cx="407.9" cy="503.3" r="2.45" fill="#9ccae0"/><circle cx="432.7" cy="336.3" r="2.45" fill="#b9b9bf"/><circle cx="583.0" cy="426.6" r="2.45" fill="#d6dfe4"/><circle cx="574.0" cy="467.9" r="2.45" fill="#d6dfe4"/><circle cx="600.4" cy="466.9" r="2.45" fill="#d6dfe4"/><circle cx="599.5" cy="445.5" r="2.45" fill="#5e9a9b"/><circle cx="337.4" cy="388.3" r="2.45" fill="#e3cdb8"/><circle cx="588.8" cy="432.1" r="2.45" fill="#d6dfe4"/><circle cx="512.0" cy="523.7" r="2.45" fill="#9ccae0"/><circle cx="468.7" cy="521.2" r="2.45" fill="#9ccae0"/><circle cx="415.9" cy="372.9" r="2.45" fill="#eadccb"/><circle cx="480.5" cy="425.8" r="2.45" fill="#9ccae0"/><circle cx="600.4" cy="490.7" r="2.45" fill="#5e9a9b"/><circle cx="466.4" cy="241.0" r="2.45" fill="#dcb186"/><circle cx="379.0" cy="529.5" r="2.45" fill="#e2d1dc"/><circle cx="413.4" cy="387.0" r="2.45" fill="#8ea7de"/><circle cx="587.4" cy="459.5" r="2.45" fill="#d6dfe4"/><circle cx="511.3" cy="518.0" r="2.45" fill="#9ccae0"/><circle cx="545.6" cy="428.7" r="2.45" fill="#d6dfe4"/><circle cx="509.1" cy="464.7" r="2.45" fill="#d6dfe4"/><circle cx="404.4" cy="324.1" r="2.45" fill="#8ea7de"/><circle cx="477.4" cy="426.5" r="2.45" fill="#9ccae0"/><circle cx="586.6" cy="486.1" r="2.45" fill="#d6dfe4"/><circle cx="537.8" cy="402.4" r="2.45" fill="#d6dfe4"/><circle cx="518.0" cy="511.6" r="2.45" fill="#9ccae0"/><circle cx="434.6" cy="473.6" r="2.45" fill="#9ccae0"/><circle cx="459.0" cy="298.1" r="2.45" fill="#8ea7de"/><circle cx="464.6" cy="325.6" r="2.45" fill="#8ea7de"/><circle cx="402.5" cy="384.7" r="2.45" fill="#eadccb"/><circle cx="503.5" cy="527.5" r="2.45" fill="#9ccae0"/><circle cx="285.7" cy="336.2" r="2.45" fill="#6f6da8"/><circle cx="487.2" cy="514.1" r="2.45" fill="#9ccae0"/><circle cx="390.1" cy="374.9" r="2.45" fill="#eadccb"/><circle cx="551.6" cy="423.3" r="2.45" fill="#d6dfe4"/><circle cx="446.1" cy="285.3" r="2.45" fill="#8ea7de"/><circle cx="274.6" cy="337.8" r="2.45" fill="#6f6da8"/><circle cx="483.5" cy="263.7" r="2.45" fill="#dcb186"/><circle cx="483.0" cy="365.2" r="2.45" fill="#eadccb"/><circle cx="433.2" cy="469.1" r="2.45" fill="#9ccae0"/><circle cx="509.3" cy="467.2" r="2.45" fill="#d6dfe4"/><circle cx="489.9" cy="534.3" r="2.45" fill="#9ccae0"/><circle cx="384.2" cy="523.2" r="2.45" fill="#e2d1dc"/><circle cx="578.3" cy="449.1" r="2.45" fill="#d6dfe4"/><circle cx="364.3" cy="351.1" r="2.45" fill="#8ea7de"/><circle cx="593.2" cy="435.3" r="2.45" fill="#d6dfe4"/><circle cx="436.0" cy="301.1" r="2.45" fill="#8ea7de"/><circle cx="466.7" cy="287.8" r="2.45" fill="#8ea7de"/><circle cx="582.0" cy="447.6" r="2.45" fill="#d6dfe4"/><circle cx="492.3" cy="472.1" r="2.45" fill="#d6dfe4"/><circle cx="489.2" cy="380.6" r="2.45" fill="#eadccb"/><circle cx="399.2" cy="368.1" r="2.45" fill="#eadccb"/><circle cx="449.1" cy="354.8" r="2.45" fill="#8ea7de"/><circle cx="439.8" cy="361.4" r="2.45" fill="#8ea7de"/><circle cx="384.8" cy="366.6" r="2.45" fill="#eadccb"/><circle cx="537.6" cy="559.6" r="2.45" fill="#9ccae0"/><circle cx="554.9" cy="422.5" r="2.45" fill="#d6dfe4"/><circle cx="386.1" cy="397.0" r="2.45" fill="#eadccb"/><circle cx="268.5" cy="342.8" r="2.45" fill="#6f6da8"/><circle cx="323.8" cy="348.2" r="2.45" fill="#8ea7de"/><circle cx="486.3" cy="520.2" r="2.45" fill="#9ccae0"/><circle cx="448.3" cy="486.2" r="2.45" fill="#9ccae0"/><circle cx="422.6" cy="369.1" r="2.45" fill="#8ea7de"/><circle cx="434.9" cy="521.9" r="2.45" fill="#9ccae0"/><circle cx="540.3" cy="561.9" r="2.45" fill="#9ccae0"/><circle cx="488.8" cy="473.8" r="2.45" fill="#d6dfe4"/><circle cx="405.7" cy="393.9" r="2.45" fill="#eadccb"/><circle cx="380.6" cy="529.8" r="2.45" fill="#e2d1dc"/><circle cx="609.7" cy="444.3" r="2.45" fill="#d6dfe4"/><circle cx="470.4" cy="465.9" r="2.45" fill="#5e9a9b"/><circle cx="639.5" cy="452.2" r="2.45" fill="#d6dfe4"/><circle cx="504.7" cy="459.1" r="2.45" fill="#5e9a9b"/><circle cx="601.8" cy="457.0" r="2.45" fill="#5e9a9b"/><circle cx="404.3" cy="366.0" r="2.45" fill="#8ea7de"/><circle cx="437.5" cy="318.9" r="2.45" fill="#b9b9bf"/><circle cx="423.6" cy="371.1" r="2.45" fill="#8ea7de"/><circle cx="442.6" cy="484.4" r="2.45" fill="#9ccae0"/><circle cx="599.6" cy="493.6" r="2.45" fill="#d6dfe4"/><circle cx="609.1" cy="447.7" r="2.45" fill="#d6dfe4"/><circle cx="597.7" cy="471.0" r="2.45" fill="#d6dfe4"/><circle cx="528.6" cy="549.6" r="2.45" fill="#9ccae0"/><circle cx="507.2" cy="468.4" r="2.45" fill="#d6dfe4"/><circle cx="369.2" cy="404.2" r="2.45" fill="#eadccb"/><circle cx="395.5" cy="479.2" r="2.45" fill="#9ccae0"/><circle cx="419.8" cy="345.7" r="2.45" fill="#8ea7de"/><circle cx="434.4" cy="348.0" r="2.45" fill="#8ea7de"/><circle cx="473.5" cy="245.9" r="2.45" fill="#dcb186"/><circle cx="387.9" cy="388.8" r="2.45" fill="#eadccb"/><circle cx="432.7" cy="293.4" r="2.45" fill="#8ea7de"/><circle cx="457.7" cy="416.2" r="2.45" fill="#9ccae0"/><circle cx="565.5" cy="419.4" r="2.45" fill="#d6dfe4"/><circle cx="444.2" cy="337.0" r="2.45" fill="#8ea7de"/><circle cx="594.9" cy="467.3" r="2.45" fill="#d6dfe4"/><circle cx="597.3" cy="460.6" r="2.45" fill="#5e9a9b"/><circle cx="388.5" cy="489.7" r="2.45" fill="#9ccae0"/><circle cx="537.5" cy="476.4" r="2.45" fill="#d6dfe4"/><circle cx="587.8" cy="425.6" r="2.45" fill="#d6dfe4"/><circle cx="540.1" cy="476.7" r="2.45" fill="#d6dfe4"/><circle cx="592.8" cy="443.2" r="2.45" fill="#d6dfe4"/><circle cx="516.6" cy="531.1" r="2.45" fill="#9ccae0"/><circle cx="413.6" cy="395.5" r="2.45" fill="#eadccb"/><circle cx="467.3" cy="478.9" r="2.45" fill="#9ccae0"/><circle cx="440.6" cy="340.5" r="2.45" fill="#8ea7de"/><circle cx="426.5" cy="361.2" r="2.45" fill="#8ea7de"/><circle cx="397.5" cy="393.2" r="2.45" fill="#eadccb"/><circle cx="434.2" cy="502.1" r="2.45" fill="#9ccae0"/><circle cx="477.2" cy="434.1" r="2.45" fill="#5e9a9b"/><circle cx="388.7" cy="375.7" r="2.45" fill="#eadccb"/><circle cx="425.8" cy="328.2" r="2.45" fill="#b9b9bf"/><circle cx="492.8" cy="483.9" r="2.45" fill="#5e9a9b"/><circle cx="495.1" cy="464.9" r="2.45" fill="#d6dfe4"/><circle cx="372.0" cy="491.9" r="2.45" fill="#9ccae0"/><circle cx="334.8" cy="403.3" r="2.45" fill="#e3cdb8"/><circle cx="263.0" cy="345.5" r="2.45" fill="#6f6da8"/><circle cx="426.3" cy="300.3" r="2.45" fill="#8ea7de"/><circle cx="433.2" cy="477.5" r="2.45" fill="#9ccae0"/><circle cx="440.3" cy="507.1" r="2.45" fill="#9ccae0"/><circle cx="434.2" cy="302.3" r="2.45" fill="#8ea7de"/><circle cx="450.0" cy="361.1" r="2.45" fill="#8ea7de"/><circle cx="415.0" cy="326.1" r="2.45" fill="#b9b9bf"/><circle cx="564.4" cy="484.8" r="2.45" fill="#d6dfe4"/><circle cx="411.9" cy="304.7" r="2.45" fill="#8ea7de"/><circle cx="594.5" cy="457.2" r="2.45" fill="#d6dfe4"/><circle cx="449.9" cy="304.8" r="2.45" fill="#8ea7de"/><circle cx="422.4" cy="313.3" r="2.45" fill="#8ea7de"/><circle cx="438.1" cy="364.4" r="2.45" fill="#8ea7de"/><circle cx="463.9" cy="251.4" r="2.45" fill="#dcb186"/><circle cx="397.8" cy="351.3" r="2.45" fill="#8ea7de"/><circle cx="371.6" cy="529.9" r="2.45" fill="#e2d1dc"/><circle cx="434.9" cy="302.9" r="2.45" fill="#8ea7de"/><circle cx="423.6" cy="480.6" r="2.45" fill="#9ccae0"/><circle cx="474.0" cy="248.6" r="2.45" fill="#dcb186"/><circle cx="605.3" cy="481.4" r="2.45" fill="#d6dfe4"/><circle cx="340.8" cy="396.3" r="2.45" fill="#e3cdb8"/><circle cx="427.4" cy="327.3" r="2.45" fill="#b9b9bf"/><circle cx="603.8" cy="462.0" r="2.45" fill="#d6dfe4"/><circle cx="591.5" cy="457.6" r="2.45" fill="#5e9a9b"/><circle cx="529.2" cy="466.7" r="2.45" fill="#5e9a9b"/><circle cx="581.5" cy="452.6" r="2.45" fill="#d6dfe4"/><circle cx="447.2" cy="328.5" r="2.45" fill="#b9b9bf"/><circle cx="349.5" cy="394.9" r="2.45" fill="#e3cdb8"/><circle cx="489.9" cy="292.9" r="2.45" fill="#8ea7de"/><circle cx="456.4" cy="314.4" r="2.45" fill="#8ea7de"/><circle cx="412.1" cy="328.0" r="2.45" fill="#b9b9bf"/><circle cx="404.7" cy="291.2" r="2.45" fill="#8ea7de"/><circle cx="511.8" cy="454.9" r="2.45" fill="#d6dfe4"/><circle cx="478.1" cy="384.1" r="2.45" fill="#eadccb"/><circle cx="532.6" cy="420.5" r="2.45" fill="#d6dfe4"/><circle cx="349.9" cy="527.4" r="2.45" fill="#e2d1dc"/><circle cx="279.7" cy="332.0" r="2.45" fill="#6f6da8"/><circle cx="494.5" cy="461.1" r="2.45" fill="#d6dfe4"/><circle cx="422.7" cy="449.0" r="2.45" fill="#9ccae0"/><circle cx="622.9" cy="460.6" r="2.45" fill="#5e9a9b"/><circle cx="531.8" cy="518.2" r="2.45" fill="#9ccae0"/><circle cx="605.8" cy="455.0" r="2.45" fill="#d6dfe4"/><circle cx="367.2" cy="534.2" r="2.45" fill="#e2d1dc"/><circle cx="550.2" cy="415.0" r="2.45" fill="#d6dfe4"/><circle cx="463.8" cy="329.8" r="2.45" fill="#8ea7de"/><circle cx="538.4" cy="541.2" r="2.45" fill="#9ccae0"/><circle cx="442.0" cy="317.2" r="2.45" fill="#8ea7de"/><circle cx="526.7" cy="459.8" r="2.45" fill="#d6dfe4"/><circle cx="530.9" cy="425.2" r="2.45" fill="#d6dfe4"/><circle cx="528.1" cy="496.3" r="2.45" fill="#d6dfe4"/><circle cx="599.6" cy="457.1" r="2.45" fill="#d6dfe4"/><circle cx="546.8" cy="423.7" r="2.45" fill="#d6dfe4"/><circle cx="472.1" cy="372.2" r="2.45" fill="#eadccb"/><circle cx="503.0" cy="377.5" r="2.45" fill="#eadccb"/><circle cx="592.1" cy="483.8" r="2.45" fill="#5e9a9b"/><circle cx="420.9" cy="349.2" r="2.45" fill="#8ea7de"/><circle cx="433.8" cy="293.1" r="2.45" fill="#8ea7de"/><circle cx="428.5" cy="285.1" r="2.45" fill="#8ea7de"/><circle cx="430.6" cy="287.2" r="2.45" fill="#8ea7de"/><circle cx="419.8" cy="298.1" r="2.45" fill="#8ea7de"/><circle cx="413.1" cy="303.3" r="2.45" fill="#8ea7de"/><circle cx="438.8" cy="362.1" r="2.45" fill="#8ea7de"/><circle cx="553.9" cy="443.7" r="2.45" fill="#d6dfe4"/><circle cx="471.5" cy="475.3" r="2.45" fill="#d6dfe4"/><circle cx="458.3" cy="325.8" r="2.45" fill="#8ea7de"/><circle cx="447.1" cy="310.9" r="2.45" fill="#8ea7de"/><circle cx="443.4" cy="482.3" r="2.45" fill="#9ccae0"/><circle cx="452.4" cy="477.0" r="2.45" fill="#9ccae0"/><circle cx="437.6" cy="306.6" r="2.45" fill="#8ea7de"/><circle cx="394.4" cy="384.8" r="2.45" fill="#eadccb"/><circle cx="425.9" cy="508.7" r="2.45" fill="#9ccae0"/><circle cx="431.4" cy="314.1" r="2.45" fill="#8ea7de"/><circle cx="391.6" cy="539.5" r="2.45" fill="#e2d1dc"/><circle cx="607.3" cy="430.7" r="2.45" fill="#5e9a9b"/><circle cx="571.5" cy="482.4" r="2.45" fill="#5e9a9b"/><circle cx="559.2" cy="415.7" r="2.45" fill="#d6dfe4"/><circle cx="472.0" cy="429.8" r="2.45" fill="#9ccae0"/><circle cx="474.1" cy="536.1" r="2.45" fill="#9ccae0"/><circle cx="491.0" cy="466.5" r="2.45" fill="#d6dfe4"/><circle cx="433.4" cy="313.1" r="2.45" fill="#8ea7de"/><circle cx="612.7" cy="484.9" r="2.45" fill="#d6dfe4"/><circle cx="535.0" cy="556.7" r="2.45" fill="#9ccae0"/><circle cx="370.6" cy="328.9" r="2.45" fill="#8ea7de"/><circle cx="402.0" cy="505.7" r="2.45" fill="#9ccae0"/><circle cx="496.4" cy="464.1" r="2.45" fill="#5e9a9b"/><circle cx="283.9" cy="347.3" r="2.45" fill="#6f6da8"/><circle cx="415.3" cy="512.2" r="2.45" fill="#9ccae0"/><circle cx="476.6" cy="263.6" r="2.45" fill="#dcb186"/><circle cx="368.9" cy="343.1" r="2.45" fill="#8ea7de"/><circle cx="598.0" cy="439.2" r="2.45" fill="#d6dfe4"/><circle cx="412.4" cy="372.8" r="2.45" fill="#8ea7de"/><circle cx="590.9" cy="465.7" r="2.45" fill="#d6dfe4"/><circle cx="463.5" cy="244.6" r="2.45" fill="#dcb186"/><circle cx="419.0" cy="362.0" r="2.45" fill="#8ea7de"/><circle cx="513.5" cy="504.5" r="2.45" fill="#5e9a9b"/><circle cx="410.8" cy="355.5" r="2.45" fill="#8ea7de"/><circle cx="555.6" cy="462.6" r="2.45" fill="#d6dfe4"/><circle cx="437.8" cy="322.9" r="2.45" fill="#b9b9bf"/><circle cx="542.6" cy="422.8" r="2.45" fill="#d6dfe4"/><circle cx="478.9" cy="297.8" r="2.45" fill="#8ea7de"/><circle cx="607.6" cy="422.1" r="2.45" fill="#d6dfe4"/><circle cx="571.5" cy="479.9" r="2.45" fill="#d6dfe4"/><circle cx="425.2" cy="297.7" r="2.45" fill="#8ea7de"/><circle cx="470.3" cy="295.9" r="2.45" fill="#8ea7de"/><circle cx="609.2" cy="470.5" r="2.45" fill="#d6dfe4"/><circle cx="570.4" cy="491.3" r="2.45" fill="#5e9a9b"/><circle cx="434.7" cy="490.0" r="2.45" fill="#9ccae0"/><circle cx="426.6" cy="369.6" r="2.45" fill="#8ea7de"/><circle cx="496.4" cy="371.1" r="2.45" fill="#eadccb"/><circle cx="520.4" cy="456.8" r="2.45" fill="#d6dfe4"/><circle cx="561.6" cy="490.5" r="2.45" fill="#d6dfe4"/><circle cx="469.3" cy="533.2" r="2.45" fill="#9ccae0"/><circle cx="306.2" cy="344.0" r="2.45" fill="#8ea7de"/><circle cx="274.3" cy="341.7" r="2.45" fill="#6f6da8"/><circle cx="288.2" cy="344.9" r="2.45" fill="#6f6da8"/><circle cx="535.6" cy="420.9" r="2.45" fill="#d6dfe4"/><circle cx="420.0" cy="355.3" r="2.45" fill="#8ea7de"/><circle cx="550.2" cy="471.1" r="2.45" fill="#d6dfe4"/><circle cx="499.9" cy="523.9" r="2.45" fill="#9ccae0"/><circle cx="435.0" cy="523.3" r="2.45" fill="#9ccae0"/><circle cx="414.6" cy="340.7" r="2.45" fill="#8ea7de"/><circle cx="527.6" cy="527.8" r="2.45" fill="#9ccae0"/><circle cx="435.8" cy="304.2" r="2.45" fill="#8ea7de"/><circle cx="421.7" cy="490.6" r="2.45" fill="#9ccae0"/><circle cx="432.5" cy="332.4" r="2.45" fill="#8ea7de"/><circle cx="411.9" cy="289.6" r="2.45" fill="#8ea7de"/><circle cx="617.1" cy="462.4" r="2.45" fill="#d6dfe4"/><circle cx="419.1" cy="368.0" r="2.45" fill="#8ea7de"/><circle cx="482.4" cy="521.0" r="2.45" fill="#9ccae0"/><circle cx="445.1" cy="307.7" r="2.45" fill="#8ea7de"/><circle cx="440.2" cy="468.6" r="2.45" fill="#9ccae0"/><circle cx="472.5" cy="467.1" r="2.45" fill="#5e9a9b"/><circle cx="406.8" cy="307.5" r="2.45" fill="#8ea7de"/><circle cx="394.3" cy="331.3" r="2.45" fill="#b9b9bf"/><circle cx="415.0" cy="368.8" r="2.45" fill="#8ea7de"/><circle cx="551.9" cy="476.1" r="2.45" fill="#d6dfe4"/><circle cx="437.0" cy="307.2" r="2.45" fill="#8ea7de"/><circle cx="425.0" cy="382.4" r="2.45" fill="#eadccb"/><circle cx="478.9" cy="366.0" r="2.45" fill="#eadccb"/><circle cx="416.9" cy="286.2" r="2.45" fill="#8ea7de"/><circle cx="290.3" cy="330.9" r="2.45" fill="#6f6da8"/><circle cx="373.4" cy="527.5" r="2.45" fill="#e2d1dc"/><circle cx="501.8" cy="383.3" r="2.45" fill="#eadccb"/><circle cx="484.6" cy="258.1" r="2.45" fill="#dcb186"/><circle cx="459.1" cy="413.8" r="2.45" fill="#9ccae0"/><circle cx="374.9" cy="374.3" r="2.45" fill="#eadccb"/><circle cx="450.7" cy="527.1" r="2.45" fill="#9ccae0"/><circle cx="496.3" cy="541.6" r="2.45" fill="#9ccae0"/><circle cx="487.6" cy="524.6" r="2.45" fill="#9ccae0"/><circle cx="533.3" cy="538.5" r="2.45" fill="#9ccae0"/><circle cx="500.4" cy="451.0" r="2.45" fill="#5e9a9b"/><circle cx="440.1" cy="278.0" r="2.45" fill="#8ea7de"/><circle cx="622.1" cy="469.2" r="2.45" fill="#d6dfe4"/><circle cx="440.8" cy="340.8" r="2.45" fill="#8ea7de"/><circle cx="392.7" cy="520.6" r="2.45" fill="#9ccae0"/><circle cx="405.3" cy="371.6" r="2.45" fill="#eadccb"/><circle cx="449.1" cy="485.6" r="2.45" fill="#9ccae0"/><circle cx="458.4" cy="420.0" r="2.45" fill="#9ccae0"/><circle cx="436.9" cy="318.0" r="2.45" fill="#8ea7de"/><circle cx="412.6" cy="316.7" r="2.45" fill="#8ea7de"/><circle cx="415.1" cy="495.1" r="2.45" fill="#9ccae0"/><circle cx="583.4" cy="448.9" r="2.45" fill="#d6dfe4"/><circle cx="560.5" cy="436.1" r="2.45" fill="#d6dfe4"/><circle cx="434.2" cy="337.9" r="2.45" fill="#b9b9bf"/><circle cx="575.8" cy="427.7" r="2.45" fill="#d6dfe4"/><circle cx="346.2" cy="349.4" r="2.45" fill="#8ea7de"/><circle cx="442.1" cy="307.1" r="2.45" fill="#8ea7de"/><circle cx="574.2" cy="415.8" r="2.45" fill="#d6dfe4"/><circle cx="391.5" cy="392.5" r="2.45" fill="#eadccb"/><circle cx="447.6" cy="303.3" r="2.45" fill="#8ea7de"/><circle cx="433.2" cy="345.0" r="2.45" fill="#8ea7de"/><circle cx="430.2" cy="496.6" r="2.45" fill="#9ccae0"/><circle cx="479.4" cy="430.2" r="2.45" fill="#9ccae0"/><circle cx="460.9" cy="320.3" r="2.45" fill="#8ea7de"/><circle cx="431.5" cy="363.1" r="2.45" fill="#8ea7de"/><circle cx="509.0" cy="454.2" r="2.45" fill="#d6dfe4"/><circle cx="617.6" cy="471.1" r="2.45" fill="#d6dfe4"/><circle cx="489.2" cy="378.9" r="2.45" fill="#eadccb"/><circle cx="439.3" cy="510.0" r="2.45" fill="#9ccae0"/><circle cx="518.0" cy="537.4" r="2.45" fill="#9ccae0"/><circle cx="588.5" cy="470.3" r="2.45" fill="#d6dfe4"/><circle cx="479.9" cy="281.4" r="2.45" fill="#8ea7de"/><circle cx="505.6" cy="428.6" r="2.45" fill="#d6dfe4"/><circle cx="287.4" cy="336.9" r="2.45" fill="#6f6da8"/><circle cx="544.3" cy="459.1" r="2.45" fill="#d6dfe4"/><circle cx="422.1" cy="463.1" r="2.45" fill="#9ccae0"/><circle cx="496.0" cy="455.8" r="2.45" fill="#d6dfe4"/><circle cx="394.9" cy="319.5" r="2.45" fill="#b9b9bf"/><circle cx="434.0" cy="325.2" r="2.45" fill="#8ea7de"/><circle cx="603.7" cy="470.7" r="2.45" fill="#5e9a9b"/><circle cx="435.0" cy="305.8" r="2.45" fill="#8ea7de"/><circle cx="509.3" cy="526.3" r="2.45" fill="#9ccae0"/><circle cx="418.9" cy="345.8" r="2.45" fill="#8ea7de"/><circle cx="481.4" cy="427.0" r="2.45" fill="#9ccae0"/><circle cx="479.1" cy="455.8" r="2.45" fill="#d6dfe4"/><circle cx="481.9" cy="378.2" r="2.45" fill="#eadccb"/><circle cx="411.8" cy="467.1" r="2.45" fill="#9ccae0"/><circle cx="468.3" cy="308.2" r="2.45" fill="#8ea7de"/><circle cx="452.6" cy="304.4" r="2.45" fill="#8ea7de"/><circle cx="457.3" cy="310.0" r="2.45" fill="#8ea7de"/><circle cx="334.3" cy="393.6" r="2.45" fill="#e3cdb8"/><circle cx="502.1" cy="456.8" r="2.45" fill="#5e9a9b"/><circle cx="462.0" cy="339.3" r="2.45" fill="#8ea7de"/><circle cx="347.8" cy="392.1" r="2.45" fill="#e3cdb8"/><circle cx="469.8" cy="429.6" r="2.45" fill="#9ccae0"/><circle cx="524.8" cy="561.2" r="2.45" fill="#9ccae0"/><circle cx="429.4" cy="327.3" r="2.45" fill="#8ea7de"/><circle cx="535.5" cy="560.9" r="2.45" fill="#9ccae0"/><circle cx="625.0" cy="466.1" r="2.45" fill="#d6dfe4"/><circle cx="427.5" cy="486.1" r="2.45" fill="#9ccae0"/><circle cx="601.8" cy="475.4" r="2.45" fill="#d6dfe4"/><circle cx="467.0" cy="290.0" r="2.45" fill="#8ea7de"/><circle cx="570.0" cy="420.3" r="2.45" fill="#d6dfe4"/><circle cx="611.9" cy="429.8" r="2.45" fill="#5e9a9b"/><circle cx="585.0" cy="455.3" r="2.45" fill="#d6dfe4"/><circle cx="496.0" cy="485.0" r="2.45" fill="#d6dfe4"/><circle cx="610.3" cy="430.1" r="2.45" fill="#d6dfe4"/><circle cx="506.6" cy="483.1" r="2.45" fill="#5e9a9b"/><circle cx="613.6" cy="450.0" r="2.45" fill="#d6dfe4"/><circle cx="470.7" cy="431.8" r="2.45" fill="#9ccae0"/><circle cx="524.6" cy="553.0" r="2.45" fill="#9ccae0"/><circle cx="478.4" cy="515.6" r="2.45" fill="#9ccae0"/><circle cx="436.5" cy="277.9" r="2.45" fill="#8ea7de"/><circle cx="469.9" cy="445.4" r="2.45" fill="#9ccae0"/><circle cx="604.6" cy="451.2" r="2.45" fill="#5e9a9b"/><circle cx="402.4" cy="495.4" r="2.45" fill="#9ccae0"/><circle cx="448.4" cy="302.6" r="2.45" fill="#8ea7de"/><circle cx="414.9" cy="348.7" r="2.45" fill="#eadccb"/><circle cx="433.8" cy="450.8" r="2.45" fill="#9ccae0"/><circle cx="431.9" cy="530.5" r="2.45" fill="#e2d1dc"/><circle cx="426.8" cy="330.3" r="2.45" fill="#b9b9bf"/><circle cx="410.2" cy="533.8" r="2.45" fill="#9ccae0"/><circle cx="485.0" cy="430.5" r="2.45" fill="#5e9a9b"/><circle cx="559.0" cy="472.5" r="2.45" fill="#d6dfe4"/><circle cx="444.2" cy="496.7" r="2.45" fill="#9ccae0"/><circle cx="463.4" cy="280.4" r="2.45" fill="#8ea7de"/><circle cx="386.0" cy="528.9" r="2.45" fill="#e2d1dc"/><circle cx="484.3" cy="254.5" r="2.45" fill="#dcb186"/><circle cx="421.3" cy="311.2" r="2.45" fill="#8ea7de"/><circle cx="498.9" cy="452.1" r="2.45" fill="#d6dfe4"/><circle cx="593.0" cy="470.9" r="2.45" fill="#d6dfe4"/><circle cx="345.3" cy="521.5" r="2.45" fill="#e2d1dc"/><circle cx="471.8" cy="422.2" r="2.45" fill="#9ccae0"/><circle cx="450.7" cy="327.7" r="2.45" fill="#b9b9bf"/><circle cx="405.2" cy="506.4" r="2.45" fill="#9ccae0"/><circle cx="530.8" cy="558.6" r="2.45" fill="#9ccae0"/><circle cx="593.7" cy="434.8" r="2.45" fill="#d6dfe4"/><circle cx="471.7" cy="251.9" r="2.45" fill="#dcb186"/><circle cx="410.6" cy="361.7" r="2.45" fill="#8ea7de"/><circle cx="322.8" cy="345.4" r="2.45" fill="#8ea7de"/><circle cx="555.6" cy="422.3" r="2.45" fill="#d6dfe4"/><circle cx="538.9" cy="460.5" r="2.45" fill="#d6dfe4"/><circle cx="425.5" cy="378.4" r="2.45" fill="#eadccb"/><circle cx="473.7" cy="289.2" r="2.45" fill="#8ea7de"/><circle cx="532.4" cy="458.3" r="2.45" fill="#5e9a9b"/><circle cx="620.4" cy="462.7" r="2.45" fill="#d6dfe4"/><circle cx="439.4" cy="328.2" r="2.45" fill="#b9b9bf"/><circle cx="462.6" cy="476.2" r="2.45" fill="#5e9a9b"/><circle cx="369.0" cy="346.3" r="2.45" fill="#8ea7de"/><circle cx="460.8" cy="417.1" r="2.45" fill="#9ccae0"/><circle cx="467.8" cy="319.3" r="2.45" fill="#8ea7de"/><circle cx="619.4" cy="444.5" r="2.45" fill="#5e9a9b"/><circle cx="439.0" cy="296.8" r="2.45" fill="#8ea7de"/><circle cx="418.3" cy="328.9" r="2.45" fill="#b9b9bf"/><circle cx="434.9" cy="358.0" r="2.45" fill="#8ea7de"/><circle cx="310.1" cy="336.4" r="2.45" fill="#6f6da8"/><circle cx="489.2" cy="383.2" r="2.45" fill="#eadccb"/><circle cx="384.9" cy="542.3" r="2.45" fill="#e2d1dc"/><circle cx="329.4" cy="392.5" r="2.45" fill="#e3cdb8"/><circle cx="363.2" cy="531.7" r="2.45" fill="#e2d1dc"/><circle cx="489.8" cy="404.9" r="2.45" fill="#9ccae0"/><circle cx="582.3" cy="467.2" r="2.45" fill="#d6dfe4"/><circle cx="583.2" cy="460.3" r="2.45" fill="#d6dfe4"/><circle cx="467.8" cy="444.3" r="2.45" fill="#d6dfe4"/><circle cx="337.5" cy="395.8" r="2.45" fill="#e3cdb8"/><circle cx="457.5" cy="267.4" r="2.45" fill="#8ea7de"/><circle cx="511.8" cy="456.7" r="2.45" fill="#d6dfe4"/><circle cx="630.3" cy="475.5" r="2.45" fill="#d6dfe4"/><circle cx="532.2" cy="468.7" r="2.45" fill="#d6dfe4"/><circle cx="378.5" cy="369.3" r="2.45" fill="#8ea7de"/><circle cx="436.5" cy="505.1" r="2.45" fill="#9ccae0"/><circle cx="444.9" cy="513.6" r="2.45" fill="#9ccae0"/><circle cx="445.7" cy="489.3" r="2.45" fill="#9ccae0"/><circle cx="561.2" cy="432.4" r="2.45" fill="#d6dfe4"/><circle cx="394.6" cy="529.0" r="2.45" fill="#e2d1dc"/><circle cx="479.5" cy="373.7" r="2.45" fill="#eadccb"/><circle cx="335.5" cy="392.1" r="2.45" fill="#e3cdb8"/><circle cx="587.0" cy="435.0" r="2.45" fill="#d6dfe4"/><circle cx="441.9" cy="322.8" r="2.45" fill="#8ea7de"/><circle cx="582.6" cy="490.3" r="2.45" fill="#d6dfe4"/><circle cx="605.9" cy="464.4" r="2.45" fill="#d6dfe4"/><circle cx="459.9" cy="305.1" r="2.45" fill="#8ea7de"/><circle cx="599.0" cy="455.2" r="2.45" fill="#d6dfe4"/><circle cx="461.1" cy="247.5" r="2.45" fill="#dcb186"/><circle cx="376.8" cy="544.4" r="2.45" fill="#e2d1dc"/><circle cx="415.0" cy="489.5" r="2.45" fill="#9ccae0"/><circle cx="526.2" cy="424.7" r="2.45" fill="#d6dfe4"/><circle cx="516.0" cy="454.7" r="2.45" fill="#d6dfe4"/><circle cx="517.0" cy="552.0" r="2.45" fill="#9ccae0"/><circle cx="371.5" cy="514.0" r="2.45" fill="#e2d1dc"/><circle cx="440.9" cy="321.0" r="2.45" fill="#8ea7de"/><circle cx="391.8" cy="377.3" r="2.45" fill="#eadccb"/><circle cx="433.8" cy="476.3" r="2.45" fill="#9ccae0"/><circle cx="478.8" cy="271.0" r="2.45" fill="#8ea7de"/><circle cx="470.6" cy="443.9" r="2.45" fill="#9ccae0"/><circle cx="537.6" cy="419.4" r="2.45" fill="#d6dfe4"/><circle cx="494.5" cy="369.3" r="2.45" fill="#eadccb"/><circle cx="362.1" cy="535.1" r="2.45" fill="#e2d1dc"/><circle cx="422.1" cy="289.0" r="2.45" fill="#8ea7de"/><circle cx="363.5" cy="401.0" r="2.45" fill="#e3cdb8"/><circle cx="485.2" cy="303.6" r="2.45" fill="#8ea7de"/><circle cx="524.4" cy="541.8" r="2.45" fill="#9ccae0"/><circle cx="270.6" cy="330.8" r="2.45" fill="#6f6da8"/><circle cx="441.7" cy="326.5" r="2.45" fill="#8ea7de"/><circle cx="398.9" cy="380.3" r="2.45" fill="#8ea7de"/><circle cx="564.3" cy="485.3" r="2.45" fill="#5e9a9b"/><circle cx="432.3" cy="367.8" r="2.45" fill="#8ea7de"/><circle cx="392.4" cy="503.1" r="2.45" fill="#9ccae0"/><circle cx="457.3" cy="328.6" r="2.45" fill="#8ea7de"/><circle cx="404.9" cy="410.9" r="2.45" fill="#eadccb"/><circle cx="425.3" cy="509.1" r="2.45" fill="#9ccae0"/><circle cx="515.7" cy="473.0" r="2.45" fill="#d6dfe4"/><circle cx="458.7" cy="279.1" r="2.45" fill="#8ea7de"/><circle cx="435.9" cy="482.4" r="2.45" fill="#9ccae0"/><circle cx="433.7" cy="340.0" r="2.45" fill="#8ea7de"/><circle cx="510.8" cy="462.8" r="2.45" fill="#d6dfe4"/><circle cx="413.6" cy="337.6" r="2.45" fill="#8ea7de"/><circle cx="562.6" cy="435.4" r="2.45" fill="#d6dfe4"/><circle cx="444.3" cy="507.1" r="2.45" fill="#9ccae0"/><circle cx="327.9" cy="410.8" r="2.45" fill="#e3cdb8"/><circle cx="416.1" cy="530.7" r="2.45" fill="#e2d1dc"/><circle cx="461.3" cy="415.2" r="2.45" fill="#9ccae0"/><circle cx="454.6" cy="293.3" r="2.45" fill="#8ea7de"/><circle cx="471.6" cy="276.5" r="2.45" fill="#8ea7de"/><circle cx="433.3" cy="299.9" r="2.45" fill="#8ea7de"/><circle cx="409.1" cy="488.8" r="2.45" fill="#9ccae0"/><circle cx="410.3" cy="319.8" r="2.45" fill="#b9b9bf"/><circle cx="524.7" cy="545.6" r="2.45" fill="#9ccae0"/><circle cx="518.6" cy="439.5" r="2.45" fill="#d6dfe4"/><circle cx="415.1" cy="496.6" r="2.45" fill="#9ccae0"/><circle cx="605.6" cy="449.4" r="2.45" fill="#5e9a9b"/><circle cx="615.7" cy="448.2" r="2.45" fill="#5e9a9b"/><circle cx="446.8" cy="518.0" r="2.45" fill="#9ccae0"/><circle cx="496.9" cy="375.4" r="2.45" fill="#eadccb"/><circle cx="532.4" cy="556.6" r="2.45" fill="#9ccae0"/><circle cx="461.5" cy="301.7" r="2.45" fill="#8ea7de"/><circle cx="472.0" cy="520.7" r="2.45" fill="#9ccae0"/><circle cx="281.2" cy="336.3" r="2.45" fill="#6f6da8"/><circle cx="454.8" cy="474.9" r="2.45" fill="#9ccae0"/><circle cx="481.4" cy="252.1" r="2.45" fill="#dcb186"/><circle cx="520.5" cy="426.8" r="2.45" fill="#d6dfe4"/><circle cx="459.8" cy="326.7" r="2.45" fill="#8ea7de"/><circle cx="351.6" cy="526.7" r="2.45" fill="#e2d1dc"/><circle cx="412.5" cy="370.6" r="2.45" fill="#8ea7de"/><circle cx="399.9" cy="490.1" r="2.45" fill="#9ccae0"/><circle cx="486.8" cy="286.3" r="2.45" fill="#8ea7de"/><circle cx="462.5" cy="433.9" r="2.45" fill="#9ccae0"/><circle cx="282.7" cy="350.2" r="2.45" fill="#6f6da8"/><circle cx="607.1" cy="438.0" r="2.45" fill="#d6dfe4"/><circle cx="535.0" cy="561.9" r="2.45" fill="#9ccae0"/><circle cx="499.1" cy="519.4" r="2.45" fill="#9ccae0"/><circle cx="401.3" cy="380.5" r="2.45" fill="#eadccb"/><circle cx="345.5" cy="330.1" r="2.45" fill="#8ea7de"/><circle cx="588.0" cy="460.0" r="2.45" fill="#5e9a9b"/><circle cx="532.2" cy="465.4" r="2.45" fill="#5e9a9b"/><circle cx="385.2" cy="375.0" r="2.45" fill="#8ea7de"/><circle cx="525.4" cy="522.1" r="2.45" fill="#9ccae0"/><circle cx="477.7" cy="404.2" r="2.45" fill="#9ccae0"/><circle cx="540.0" cy="478.2" r="2.45" fill="#d6dfe4"/><circle cx="527.4" cy="550.4" r="2.45" fill="#9ccae0"/><circle cx="474.2" cy="438.0" r="2.45" fill="#9ccae0"/><circle cx="430.6" cy="484.3" r="2.45" fill="#9ccae0"/><circle cx="445.6" cy="294.0" r="2.45" fill="#8ea7de"/><circle cx="624.1" cy="452.2" r="2.45" fill="#5e9a9b"/><circle cx="418.8" cy="501.2" r="2.45" fill="#9ccae0"/><circle cx="549.8" cy="419.0" r="2.45" fill="#d6dfe4"/><circle cx="325.9" cy="527.8" r="2.45" fill="#5e9a9b"/><circle cx="528.0" cy="411.8" r="2.45" fill="#d6dfe4"/><circle cx="527.8" cy="454.7" r="2.45" fill="#d6dfe4"/><circle cx="518.2" cy="480.4" r="2.45" fill="#d6dfe4"/><circle cx="495.7" cy="455.2" r="2.45" fill="#d6dfe4"/><circle cx="419.3" cy="365.1" r="2.45" fill="#8ea7de"/><circle cx="431.0" cy="326.9" r="2.45" fill="#8ea7de"/><circle cx="395.8" cy="522.9" r="2.45" fill="#9ccae0"/><circle cx="410.4" cy="503.8" r="2.45" fill="#9ccae0"/><circle cx="589.7" cy="456.9" r="2.45" fill="#d6dfe4"/><circle cx="419.3" cy="499.1" r="2.45" fill="#9ccae0"/><circle cx="427.9" cy="497.6" r="2.45" fill="#9ccae0"/><circle cx="434.6" cy="330.1" r="2.45" fill="#8ea7de"/><circle cx="421.5" cy="359.8" r="2.45" fill="#8ea7de"/><circle cx="551.2" cy="424.8" r="2.45" fill="#d6dfe4"/><circle cx="513.5" cy="379.5" r="2.45" fill="#eadccb"/><circle cx="413.3" cy="296.7" r="2.45" fill="#8ea7de"/><circle cx="461.2" cy="417.1" r="2.45" fill="#9ccae0"/><circle cx="450.1" cy="462.2" r="2.45" fill="#5e9a9b"/><circle cx="555.4" cy="425.7" r="2.45" fill="#d6dfe4"/><circle cx="354.1" cy="401.0" r="2.45" fill="#e3cdb8"/><circle cx="532.2" cy="473.0" r="2.45" fill="#d6dfe4"/><circle cx="361.9" cy="534.9" r="2.45" fill="#e2d1dc"/><circle cx="526.0" cy="470.4" r="2.45" fill="#d6dfe4"/><circle cx="349.1" cy="407.8" r="2.45" fill="#e3cdb8"/><circle cx="476.8" cy="515.1" r="2.45" fill="#9ccae0"/><circle cx="491.6" cy="298.2" r="2.45" fill="#8ea7de"/><circle cx="470.3" cy="388.8" r="2.45" fill="#9ccae0"/><circle cx="430.1" cy="371.9" r="2.45" fill="#eadccb"/><circle cx="501.1" cy="383.6" r="2.45" fill="#eadccb"/><circle cx="585.9" cy="457.2" r="2.45" fill="#d6dfe4"/><circle cx="414.5" cy="374.2" r="2.45" fill="#eadccb"/><circle cx="368.4" cy="399.2" r="2.45" fill="#eadccb"/><circle cx="476.9" cy="261.3" r="2.45" fill="#dcb186"/><circle cx="437.1" cy="307.9" r="2.45" fill="#8ea7de"/><circle cx="437.7" cy="306.6" r="2.45" fill="#8ea7de"/><circle cx="394.2" cy="395.3" r="2.45" fill="#eadccb"/><circle cx="421.3" cy="470.9" r="2.45" fill="#9ccae0"/><circle cx="481.7" cy="247.5" r="2.45" fill="#dcb186"/><circle cx="409.2" cy="489.3" r="2.45" fill="#9ccae0"/><circle cx="482.4" cy="474.4" r="2.45" fill="#5e9a9b"/><circle cx="513.2" cy="461.7" r="2.45" fill="#d6dfe4"/><circle cx="571.3" cy="444.8" r="2.45" fill="#d6dfe4"/><circle cx="548.5" cy="417.1" r="2.45" fill="#d6dfe4"/><circle cx="480.7" cy="381.5" r="2.45" fill="#eadccb"/><circle cx="411.0" cy="354.2" r="2.45" fill="#8ea7de"/><circle cx="434.0" cy="362.6" r="2.45" fill="#8ea7de"/><circle cx="504.4" cy="470.6" r="2.45" fill="#5e9a9b"/><circle cx="528.2" cy="554.3" r="2.45" fill="#9ccae0"/><circle cx="412.4" cy="378.7" r="2.45" fill="#eadccb"/><circle cx="432.6" cy="328.1" r="2.45" fill="#b9b9bf"/><circle cx="480.9" cy="283.4" r="2.45" fill="#8ea7de"/><circle cx="469.6" cy="418.9" r="2.45" fill="#5e9a9b"/><circle cx="336.1" cy="398.7" r="2.45" fill="#e3cdb8"/><circle cx="436.1" cy="289.6" r="2.45" fill="#8ea7de"/><circle cx="444.0" cy="317.1" r="2.45" fill="#8ea7de"/><circle cx="486.5" cy="325.8" r="2.45" fill="#8ea7de"/><circle cx="479.1" cy="306.7" r="2.45" fill="#8ea7de"/><circle cx="614.3" cy="501.7" r="2.45" fill="#5e9a9b"/><circle cx="616.0" cy="471.7" r="2.45" fill="#d6dfe4"/><circle cx="428.7" cy="466.1" r="2.45" fill="#9ccae0"/><circle cx="406.7" cy="294.6" r="2.45" fill="#8ea7de"/><circle cx="474.1" cy="426.5" r="2.45" fill="#9ccae0"/><circle cx="588.6" cy="415.9" r="2.45" fill="#5e9a9b"/><circle cx="599.7" cy="440.0" r="2.45" fill="#5e9a9b"/><circle cx="348.4" cy="388.1" r="2.45" fill="#e3cdb8"/><circle cx="489.3" cy="445.8" r="2.45" fill="#d6dfe4"/><circle cx="609.7" cy="448.3" r="2.45" fill="#d6dfe4"/><circle cx="378.6" cy="525.4" r="2.45" fill="#e2d1dc"/><circle cx="480.2" cy="479.7" r="2.45" fill="#5e9a9b"/><circle cx="439.1" cy="305.6" r="2.45" fill="#8ea7de"/><circle cx="429.8" cy="279.0" r="2.45" fill="#8ea7de"/><circle cx="413.4" cy="473.4" r="2.45" fill="#9ccae0"/><circle cx="479.3" cy="317.2" r="2.45" fill="#8ea7de"/><circle cx="425.5" cy="322.1" r="2.45" fill="#8ea7de"/><circle cx="495.3" cy="425.5" r="2.45" fill="#9ccae0"/><circle cx="536.8" cy="561.9" r="2.45" fill="#9ccae0"/><circle cx="442.7" cy="512.6" r="2.45" fill="#9ccae0"/><circle cx="617.3" cy="466.8" r="2.45" fill="#d6dfe4"/><circle cx="404.6" cy="373.5" r="2.45" fill="#eadccb"/><circle cx="449.0" cy="457.9" r="2.45" fill="#5e9a9b"/><circle cx="400.6" cy="395.8" r="2.45" fill="#eadccb"/><circle cx="543.0" cy="412.7" r="2.45" fill="#d6dfe4"/><circle cx="448.5" cy="495.2" r="2.45" fill="#9ccae0"/></g>
<text x="462" y="248.6" font-size="10.4">mono</text>
<text x="426.4" y="292.6" font-size="10.4">GMP</text>
<text x="407.7" y="336" font-size="10.4">UNK</text>
<text x="282.4" y="329.4" font-size="10.4">pDC</text>
<text x="336" y="403.5" font-size="10.4">CLP</text>
<text x="437.8" y="403.5" font-size="10.4">LMPP</text>
<text x="550.9" y="429.8" font-size="10.4">HSC</text>
<text x="504.4" y="467.2" font-size="10.4">MPP</text>
<text x="423.7" y="505.5" font-size="10.4">CMP</text>
<text x="363.5" y="529.6" font-size="10.4">MEP</text>
<path d="M292.6 541V566.2H314" fill="none" stroke="#333" stroke-width="1"/><path d="M292.6 536.6L290.2 542.6L295 542.6Z" fill="#333"/>
<path d="M319.6 566.2L313.6 563.8L313.6 568.6Z" fill="#333"/>
<text transform="translate(288.7 563.5) rotate(-90)" font-size="8.7" textLength="27.1" lengthAdjust="spacingAndGlyphs">tSNE2</text>
<text x="292.5" y="575.9" font-size="8.7" textLength="25.8" lengthAdjust="spacingAndGlyphs">tSNE1</text>
<line x1="602.7" y1="258.6" x2="602.7" y2="274.8" stroke="#333" stroke-width="0.9"/>
<line x1="594.0" y1="291.7" x2="575.0" y2="305.0" stroke="#333" stroke-width="0.9"/>
<line x1="611.4" y1="291.7" x2="629.8" y2="305.0" stroke="#333" stroke-width="0.9"/>
<line x1="559.2" y1="319.2" x2="541.9" y2="338.3" stroke="#333" stroke-width="0.9"/>
<line x1="570.1" y1="321.2" x2="575.7" y2="336.3" stroke="#333" stroke-width="0.9"/>
<line x1="634.7" y1="321.2" x2="629.1" y2="336.3" stroke="#333" stroke-width="0.9"/>
<line x1="645.6" y1="319.2" x2="662.5" y2="338.3" stroke="#333" stroke-width="0.9"/>
<line x1="575.5" y1="316.7" x2="616.1" y2="340.8" stroke="#333" stroke-width="0.9" stroke-dasharray="2.2 1.6"/>
<circle cx="602.7" cy="247.9" r="10.7" fill="#e3e8ea"/>
<text x="602.7" y="250.5" font-size="7.2" text-anchor="middle" fill="#333">HSC</text>
<circle cx="602.7" cy="285.5" r="10.7" fill="#8fb3b5"/>
<text x="602.7" y="288.1" font-size="7.2" text-anchor="middle" fill="#333">MPP</text>
<circle cx="566.3" cy="311.2" r="10.7" fill="#efe8df"/>
<text x="566.3" y="313.8" font-size="7.2" text-anchor="middle" fill="#333">LMPP</text>
<circle cx="638.5" cy="311.2" r="10.7" fill="#c6e0ea"/>
<text x="638.5" y="313.8" font-size="7.2" text-anchor="middle" fill="#333">CMP</text>
<circle cx="534.8" cy="346.3" r="10.7" fill="#e7dcd0"/>
<text x="534.8" y="348.90000000000003" font-size="7.2" text-anchor="middle" fill="#333">CLP</text>
<circle cx="579.5" cy="346.3" r="10.7" fill="#a4a1c8"/>
<text x="579.5" y="348.90000000000003" font-size="7.2" text-anchor="middle" fill="#333">pDC</text>
<circle cx="625.3" cy="346.3" r="10.7" fill="#b8c7e8"/>
<text x="625.3" y="348.90000000000003" font-size="7.2" text-anchor="middle" fill="#333">GMP</text>
<circle cx="669.6" cy="346.3" r="10.7" fill="#efe7ec"/>
<text x="669.6" y="348.90000000000003" font-size="7.2" text-anchor="middle" fill="#333">MEP</text>
<circle cx="314" cy="598.1" r="2.4" fill="#6fa2a3"/>
<text x="330.7" y="602.0" font-size="11">MPP</text>
<circle cx="367.8" cy="598.1" r="2.4" fill="#a9d0e4"/>
<text x="384.1" y="602.0" font-size="11">CMP</text>
<circle cx="426.7" cy="598.1" r="2.4" fill="#dde5e9"/>
<text x="443.8" y="602.0" font-size="11">HSC</text>
<circle cx="485.9" cy="598.1" r="2.4" fill="#ebdfe5"/>
<text x="502.7" y="602.0" font-size="11">MEP</text>
<circle cx="544.8" cy="598.1" r="2.4" fill="#e2b894"/>
<text x="561.5" y="602.0" font-size="11">mono</text>
<circle cx="314" cy="618.9" r="2.4" fill="#e9d7c6"/>
<text x="330.7" y="622.8" font-size="11">CLP</text>
<circle cx="367.8" cy="618.9" r="2.4" fill="#a3b5e2"/>
<text x="384.1" y="622.8" font-size="11">GMP</text>
<circle cx="426.7" cy="618.9" r="2.4" fill="#f0e4d6"/>
<text x="443.8" y="622.8" font-size="11">LMPP</text>
<circle cx="485.9" cy="618.9" r="2.4" fill="#c9c9d0"/>
<text x="502.7" y="622.8" font-size="11">UNK</text>
<circle cx="544.8" cy="618.9" r="2.4" fill="#8683b8"/>
<text x="561.5" y="622.8" font-size="11">pDC</text>
<path d="M62.5 696V847.3H294.5" fill="none" stroke="#222" stroke-width="0.9"/>
<text x="59.4" y="728.1" font-size="7.3" text-anchor="end" fill="#555">0.2</text>
<text x="59.4" y="766.9" font-size="7.3" text-anchor="end" fill="#555">0.1</text>
<text x="59.4" y="806.2" font-size="7.3" text-anchor="end" fill="#555">0.0</text>
<text x="59.4" y="846.0" font-size="7.3" text-anchor="end" fill="#555">-0.1</text>
<text x="97.7" y="857.9" font-size="10.9" text-anchor="middle">HSC</text>
<text x="153.1" y="857.9" font-size="10.9" text-anchor="middle">MPP</text>
<text x="208.5" y="857.9" font-size="10.9" text-anchor="middle">CMP</text>
<text x="263.4" y="857.9" font-size="10.9" text-anchor="middle">MEP</text>
<text x="174" y="873.2" font-size="12.2" text-anchor="middle">Cell Type</text>
<text transform="translate(40.6 803.5) rotate(-90)" font-size="11.5" textLength="81.6" lengthAdjust="spacingAndGlyphs">PWM-ISM Score</text>
<text x="95.7" y="680.1" font-size="12.2" textLength="161.2" lengthAdjust="spacingAndGlyphs">GATA1 site at chr11: 5297906</text>
<path d="M95.50 772.20C95.58 773.00 95.60 775.53 96.00 777.00C96.40 778.47 96.78 779.52 97.90 781.00C99.02 782.48 100.82 784.28 102.70 785.90C104.58 787.52 106.92 789.10 109.20 790.70C111.48 792.30 114.48 793.95 116.40 795.50C118.32 797.05 120.70 798.67 120.70 800.00C120.70 801.33 118.18 802.10 116.40 803.50C114.62 804.90 112.15 806.78 110.00 808.40C107.85 810.02 105.43 811.60 103.50 813.20C101.57 814.80 99.60 816.53 98.40 818.00C97.20 819.47 96.78 820.40 96.30 822.00C95.82 823.60 95.63 826.67 95.50 827.60L95.50 827.60C95.37 826.67 95.18 823.60 94.70 822.00C94.22 820.40 93.80 819.47 92.60 818.00C91.40 816.53 89.43 814.80 87.50 813.20C85.57 811.60 83.15 810.02 81.00 808.40C78.85 806.78 76.38 804.90 74.60 803.50C72.82 802.10 70.30 801.33 70.30 800.00C70.30 798.67 72.68 797.05 74.60 795.50C76.52 793.95 79.52 792.30 81.80 790.70C84.08 789.10 86.42 787.52 88.30 785.90C90.18 784.28 91.98 782.48 93.10 781.00C94.22 779.52 94.60 778.47 95.00 777.00C95.40 775.53 95.42 773.00 95.50 772.20Z" fill="#e3e9ec" stroke="#3a3a3a" stroke-width="0.75"/>
<path d="M150.90 754.90C150.97 755.75 151.18 758.25 151.30 760.00C151.42 761.75 151.35 763.73 151.60 765.40C151.85 767.07 152.07 768.07 152.80 770.00C153.53 771.93 154.57 774.67 156.00 777.00C157.43 779.33 159.72 781.83 161.40 784.00C163.08 786.17 164.73 788.23 166.10 790.00C167.47 791.77 169.22 792.87 169.60 794.60C169.98 796.33 169.38 798.25 168.40 800.40C167.42 802.55 165.45 805.15 163.70 807.50C161.95 809.85 159.57 812.37 157.90 814.50C156.23 816.63 154.72 818.38 153.70 820.30C152.68 822.22 152.27 823.93 151.80 826.00C151.33 828.07 151.05 831.58 150.90 832.70L150.90 832.70C150.75 831.58 150.47 828.07 150.00 826.00C149.53 823.93 149.12 822.22 148.10 820.30C147.08 818.38 145.57 816.63 143.90 814.50C142.23 812.37 139.85 809.85 138.10 807.50C136.35 805.15 134.38 802.55 133.40 800.40C132.42 798.25 131.82 796.33 132.20 794.60C132.58 792.87 134.33 791.77 135.70 790.00C137.07 788.23 138.72 786.17 140.40 784.00C142.08 781.83 144.37 779.33 145.80 777.00C147.23 774.67 148.27 771.93 149.00 770.00C149.73 768.07 149.95 767.07 150.20 765.40C150.45 763.73 150.38 761.75 150.50 760.00C150.62 758.25 150.83 755.75 150.90 754.90Z" fill="#a5c2c3" stroke="#3a3a3a" stroke-width="0.75"/>
<path d="M206.40 708.20C206.47 710.17 206.70 716.37 206.80 720.00C206.90 723.63 206.92 727.33 207.00 730.00C207.08 732.67 207.13 734.33 207.30 736.00C207.47 737.67 207.73 738.60 208.00 740.00C208.27 741.40 208.57 742.82 208.90 744.40C209.23 745.98 209.45 747.40 210.00 749.50C210.55 751.60 211.48 754.25 212.20 757.00C212.92 759.75 213.72 763.17 214.30 766.00C214.88 768.83 215.30 771.25 215.70 774.00C216.10 776.75 216.40 780.17 216.70 782.50C217.00 784.83 217.28 786.08 217.50 788.00C217.72 789.92 218.08 792.00 218.00 794.00C217.92 796.00 217.55 798.05 217.00 800.00C216.45 801.95 215.43 804.03 214.70 805.70C213.97 807.37 213.30 808.35 212.60 810.00C211.90 811.65 211.10 813.93 210.50 815.60C209.90 817.27 209.43 818.35 209.00 820.00C208.57 821.65 208.27 823.50 207.90 825.50C207.53 827.50 207.05 829.55 206.80 832.00C206.55 834.45 206.47 838.83 206.40 840.20L206.40 840.20C206.33 838.83 206.25 834.45 206.00 832.00C205.75 829.55 205.27 827.50 204.90 825.50C204.53 823.50 204.23 821.65 203.80 820.00C203.37 818.35 202.90 817.27 202.30 815.60C201.70 813.93 200.90 811.65 200.20 810.00C199.50 808.35 198.83 807.37 198.10 805.70C197.37 804.03 196.35 801.95 195.80 800.00C195.25 798.05 194.88 796.00 194.80 794.00C194.72 792.00 195.08 789.92 195.30 788.00C195.52 786.08 195.80 784.83 196.10 782.50C196.40 780.17 196.70 776.75 197.10 774.00C197.50 771.25 197.92 768.83 198.50 766.00C199.08 763.17 199.88 759.75 200.60 757.00C201.32 754.25 202.25 751.60 202.80 749.50C203.35 747.40 203.57 745.98 203.90 744.40C204.23 742.82 204.53 741.40 204.80 740.00C205.07 738.60 205.33 737.67 205.50 736.00C205.67 734.33 205.72 732.67 205.80 730.00C205.88 727.33 205.90 723.63 206.00 720.00C206.10 716.37 206.33 710.17 206.40 708.20Z" fill="#bfdcec" stroke="#3a3a3a" stroke-width="0.75"/>
<path d="M262.00 702.80C262.12 703.50 262.12 705.52 262.70 707.00C263.28 708.48 264.07 709.75 265.50 711.70C266.93 713.65 269.47 716.37 271.30 718.70C273.13 721.03 275.02 723.37 276.50 725.70C277.98 728.03 279.42 730.75 280.20 732.70C280.98 734.65 281.43 735.65 281.20 737.40C280.97 739.15 280.05 741.27 278.80 743.20C277.55 745.13 275.53 746.87 273.70 749.00C271.87 751.13 269.43 753.85 267.80 756.00C266.17 758.15 264.73 760.13 263.90 761.90C263.07 763.67 263.03 763.58 262.80 766.60C262.57 769.62 262.63 775.13 262.50 780.00C262.37 784.87 262.08 793.17 262.00 795.80L262.00 795.80C261.92 793.17 261.63 784.87 261.50 780.00C261.37 775.13 261.43 769.62 261.20 766.60C260.97 763.58 260.93 763.67 260.10 761.90C259.27 760.13 257.83 758.15 256.20 756.00C254.57 753.85 252.13 751.13 250.30 749.00C248.47 746.87 246.45 745.13 245.20 743.20C243.95 741.27 243.03 739.15 242.80 737.40C242.57 735.65 243.02 734.65 243.80 732.70C244.58 730.75 246.02 728.03 247.50 725.70C248.98 723.37 250.87 721.03 252.70 718.70C254.53 716.37 257.07 713.65 258.50 711.70C259.93 709.75 260.72 708.48 261.30 707.00C261.88 705.52 261.88 703.50 262.00 702.80Z" fill="#ede1e8" stroke="#3a3a3a" stroke-width="0.75"/>
<line x1="95.5" y1="772.2" x2="95.5" y2="827.6" stroke="#505050" stroke-width="1.05"/>
<rect x="89.9" y="794.2" width="11.7" height="12.2" fill="#cddce3" stroke="#4a4a4a" stroke-width="0.8"/>
<line x1="89.9" y1="800" x2="101.6" y2="800" stroke="#4a4a4a" stroke-width="0.8"/>
<line x1="150.9" y1="768" x2="150.9" y2="830" stroke="#505050" stroke-width="1.05"/>
<rect x="145.3" y="790.2" width="11.2" height="14.1" fill="#529a9b" stroke="#4a4a4a" stroke-width="0.8"/>
<line x1="145.3" y1="796.6" x2="156.5" y2="796.6" stroke="#4a4a4a" stroke-width="0.8"/>
<circle cx="150.9" cy="767.3" r="1.25" fill="#3a3a3a"/>
<line x1="206.4" y1="738" x2="206.4" y2="838" stroke="#505050" stroke-width="1.05"/>
<rect x="200.5" y="773.6" width="11.3" height="25.7" fill="#88c2de" stroke="#4a4a4a" stroke-width="0.8"/>
<line x1="200.5" y1="786.4" x2="211.8" y2="786.4" stroke="#4a4a4a" stroke-width="0.8"/>
<circle cx="206.4" cy="729.2" r="1.25" fill="#3a3a3a"/>
<line x1="262" y1="707" x2="262" y2="763" stroke="#505050" stroke-width="1.05"/>
<rect x="256.1" y="729.2" width="11.3" height="14.5" fill="#dcc7d4" stroke="#4a4a4a" stroke-width="0.8"/>
<line x1="256.1" y1="736.2" x2="267.4" y2="736.2" stroke="#4a4a4a" stroke-width="0.8"/>
<circle cx="262" cy="766.6" r="1.25" fill="#3a3a3a"/>
<circle cx="262" cy="781.8" r="1.25" fill="#3a3a3a"/>
<path d="M95.8 744.0999999999999V747.5M95.8 745.8H150.4M150.4 744.0999999999999V747.5" fill="none" stroke="#707070" stroke-width="0.85"/>
<use href="#star" x="117.85" y="738.3"/>
<use href="#star" x="123.40" y="738.3"/>
<use href="#star" x="128.95" y="738.3"/>
<path d="M151.4 700.3V703.7M151.4 702H206M206 700.3V703.7" fill="none" stroke="#707070" stroke-width="0.85"/>
<use href="#star" x="173.25" y="693.4"/>
<use href="#star" x="178.80" y="693.4"/>
<use href="#star" x="184.35" y="693.4"/>
<path d="M206.4 691.9V695.3000000000001M206.4 693.6H262M262 691.9V695.3000000000001" fill="none" stroke="#707070" stroke-width="0.85"/>
<use href="#star" x="228.45" y="684.8"/>
<use href="#star" x="234.00" y="684.8"/>
<use href="#star" x="239.55" y="684.8"/>
<path d="M393.6 698V847.3H623.4" fill="none" stroke="#222" stroke-width="0.9"/>
<text x="389.4" y="700.9" font-size="7.0" text-anchor="end" fill="#555">0.3</text>
<text x="389.4" y="735.7" font-size="7.0" text-anchor="end" fill="#555">0.2</text>
<text x="389.4" y="770.9" font-size="7.0" text-anchor="end" fill="#555">0.1</text>
<text x="389.4" y="806.2" font-size="7.0" text-anchor="end" fill="#555">0.0</text>
<text x="389.4" y="841.5" font-size="7.0" text-anchor="end" fill="#555">-0.1</text>
<text x="426.5" y="857.9" font-size="10.9" text-anchor="middle">HSC</text>
<text x="482" y="857.9" font-size="10.9" text-anchor="middle">MPP</text>
<text x="537.3" y="857.9" font-size="10.9" text-anchor="middle">CMP</text>
<text x="592.8" y="857.9" font-size="10.9" text-anchor="middle">MEP</text>
<text x="504.2" y="873.2" font-size="12.2" text-anchor="middle">Cell Type</text>
<text transform="translate(369.9 803.5) rotate(-90)" font-size="11.5" textLength="81.6" lengthAdjust="spacingAndGlyphs">PWM-ISM Score</text>
<text x="432.2" y="680.1" font-size="12.2" textLength="147" lengthAdjust="spacingAndGlyphs">KLF1 site at chr11:5297940</text>
<path d="M426.00 784.50C426.08 785.08 426.37 786.78 426.50 788.00C426.63 789.22 426.48 790.63 426.80 791.80C427.12 792.97 427.47 793.93 428.40 795.00C429.33 796.07 430.80 797.13 432.40 798.20C434.00 799.27 436.12 800.33 438.00 801.40C439.88 802.47 442.22 803.53 443.70 804.60C445.18 805.67 445.88 806.60 446.90 807.80C447.92 809.00 449.13 810.73 449.80 811.80C450.47 812.87 451.38 813.27 450.90 814.20C450.42 815.13 448.63 816.32 446.90 817.40C445.17 818.48 442.52 819.62 440.50 820.70C438.48 821.78 436.55 822.83 434.80 823.90C433.05 824.97 431.25 826.03 430.00 827.10C428.75 828.17 427.97 828.70 427.30 830.30C426.63 831.90 426.22 835.63 426.00 836.70L426.00 836.70C425.78 835.63 425.37 831.90 424.70 830.30C424.03 828.70 423.25 828.17 422.00 827.10C420.75 826.03 418.95 824.97 417.20 823.90C415.45 822.83 413.52 821.78 411.50 820.70C409.48 819.62 406.83 818.48 405.10 817.40C403.37 816.32 401.58 815.13 401.10 814.20C400.62 813.27 401.53 812.87 402.20 811.80C402.87 810.73 404.08 809.00 405.10 807.80C406.12 806.60 406.82 805.67 408.30 804.60C409.78 803.53 412.12 802.47 414.00 801.40C415.88 800.33 418.00 799.27 419.60 798.20C421.20 797.13 422.67 796.07 423.60 795.00C424.53 793.93 424.88 792.97 425.20 791.80C425.52 790.63 425.37 789.22 425.50 788.00C425.63 786.78 425.92 785.08 426.00 784.50Z" fill="#e3e9ec" stroke="#3a3a3a" stroke-width="0.75"/>
<path d="M480.90 754.80C481.00 756.00 481.35 759.80 481.50 762.00C481.65 764.20 481.73 765.98 481.80 768.00C481.87 770.02 481.68 772.28 481.90 774.10C482.12 775.92 482.78 777.30 483.10 778.90C483.42 780.50 483.37 782.10 483.80 783.70C484.23 785.30 484.45 786.88 485.70 788.50C486.95 790.12 489.68 791.78 491.30 793.40C492.92 795.02 494.32 796.60 495.40 798.20C496.48 799.80 497.27 801.40 497.80 803.00C498.33 804.60 498.73 806.20 498.60 807.80C498.47 809.40 497.95 811.00 497.00 812.60C496.05 814.20 494.38 815.78 492.90 817.40C491.42 819.02 489.57 820.68 488.10 822.30C486.63 823.92 485.12 825.50 484.10 827.10C483.08 828.70 482.53 829.63 482.00 831.90C481.47 834.17 481.08 839.23 480.90 840.70L480.90 840.70C480.72 839.23 480.33 834.17 479.80 831.90C479.27 829.63 478.72 828.70 477.70 827.10C476.68 825.50 475.17 823.92 473.70 822.30C472.23 820.68 470.38 819.02 468.90 817.40C467.42 815.78 465.75 814.20 464.80 812.60C463.85 811.00 463.33 809.40 463.20 807.80C463.07 806.20 463.47 804.60 464.00 803.00C464.53 801.40 465.32 799.80 466.40 798.20C467.48 796.60 468.88 795.02 470.50 793.40C472.12 791.78 474.85 790.12 476.10 788.50C477.35 786.88 477.57 785.30 478.00 783.70C478.43 782.10 478.38 780.50 478.70 778.90C479.02 777.30 479.68 775.92 479.90 774.10C480.12 772.28 479.93 770.02 480.00 768.00C480.07 765.98 480.15 764.20 480.30 762.00C480.45 759.80 480.80 756.00 480.90 754.80Z" fill="#a5c2c3" stroke="#3a3a3a" stroke-width="0.75"/>
<path d="M536.00 704.40C536.03 706.17 536.14 711.35 536.20 715.00C536.26 718.65 536.23 722.97 536.35 726.30C536.47 729.63 536.42 732.67 536.90 735.00C537.38 737.33 538.53 738.25 539.20 740.30C539.87 742.35 540.32 744.68 540.90 747.30C541.48 749.92 542.20 752.78 542.70 756.00C543.20 759.22 543.50 763.08 543.90 766.60C544.30 770.12 544.78 773.90 545.10 777.10C545.42 780.30 545.92 783.17 545.80 785.80C545.68 788.43 545.02 790.55 544.40 792.90C543.78 795.25 542.85 797.57 542.10 799.90C541.35 802.23 540.62 804.57 539.90 806.90C539.18 809.23 538.37 811.57 537.80 813.90C537.23 816.23 536.80 818.28 536.50 820.90C536.20 823.52 536.08 828.15 536.00 829.60L536.00 829.60C535.92 828.15 535.80 823.52 535.50 820.90C535.20 818.28 534.77 816.23 534.20 813.90C533.63 811.57 532.82 809.23 532.10 806.90C531.38 804.57 530.65 802.23 529.90 799.90C529.15 797.57 528.22 795.25 527.60 792.90C526.98 790.55 526.32 788.43 526.20 785.80C526.08 783.17 526.58 780.30 526.90 777.10C527.22 773.90 527.70 770.12 528.10 766.60C528.50 763.08 528.80 759.22 529.30 756.00C529.80 752.78 530.52 749.92 531.10 747.30C531.68 744.68 532.13 742.35 532.80 740.30C533.47 738.25 534.62 737.33 535.10 735.00C535.58 732.67 535.53 729.63 535.65 726.30C535.77 722.97 535.74 718.65 535.80 715.00C535.86 711.35 535.97 706.17 536.00 704.40Z" fill="#bfdcec" stroke="#3a3a3a" stroke-width="0.75"/>
<path d="M590.50 711.40C590.60 711.83 590.87 712.98 591.10 714.00C591.33 715.02 590.68 716.03 591.90 717.50C593.12 718.97 596.00 721.05 598.40 722.80C600.80 724.55 604.27 726.40 606.30 728.00C608.33 729.60 609.35 730.93 610.60 732.40C611.85 733.87 614.23 735.33 613.80 736.80C613.37 738.27 610.42 739.75 608.00 741.20C605.58 742.65 601.33 743.90 599.30 745.50C597.27 747.10 596.83 749.03 595.80 750.80C594.77 752.57 593.82 754.50 593.10 756.10C592.38 757.70 591.83 758.42 591.50 760.40C591.17 762.38 591.27 765.37 591.10 768.00C590.93 770.63 590.60 774.83 590.50 776.20L590.50 776.20C590.40 774.83 590.07 770.63 589.90 768.00C589.73 765.37 589.83 762.38 589.50 760.40C589.17 758.42 588.62 757.70 587.90 756.10C587.18 754.50 586.23 752.57 585.20 750.80C584.17 749.03 583.73 747.10 581.70 745.50C579.67 743.90 575.42 742.65 573.00 741.20C570.58 739.75 567.63 738.27 567.20 736.80C566.77 735.33 569.15 733.87 570.40 732.40C571.65 730.93 572.67 729.60 574.70 728.00C576.73 726.40 580.20 724.55 582.60 722.80C585.00 721.05 587.88 718.97 589.10 717.50C590.32 716.03 589.67 715.02 589.90 714.00C590.13 712.98 590.40 711.83 590.50 711.40Z" fill="#ede1e8" stroke="#3a3a3a" stroke-width="0.75"/>
<line x1="426" y1="786" x2="426" y2="834" stroke="#505050" stroke-width="1.05"/>
<rect x="420.4" y="807" width="11.2" height="9.3" fill="#cddce3" stroke="#4a4a4a" stroke-width="0.8"/>
<line x1="420.4" y1="811.8" x2="431.6" y2="811.8" stroke="#4a4a4a" stroke-width="0.8"/>
<line x1="480.9" y1="774" x2="480.9" y2="836" stroke="#505050" stroke-width="1.05"/>
<rect x="475.3" y="798.2" width="11.2" height="15.2" fill="#529a9b" stroke="#4a4a4a" stroke-width="0.8"/>
<line x1="475.3" y1="806.2" x2="486.5" y2="806.2" stroke="#4a4a4a" stroke-width="0.8"/>
<circle cx="480.9" cy="767.7" r="1.25" fill="#3a3a3a"/>
<circle cx="480.9" cy="771.2" r="1.25" fill="#3a3a3a"/>
<line x1="536" y1="735" x2="536" y2="826" stroke="#505050" stroke-width="1.05"/>
<rect x="530.4" y="760.8" width="11.4" height="28.5" fill="#88c2de" stroke="#4a4a4a" stroke-width="0.8"/>
<line x1="530.4" y1="778.5" x2="541.8" y2="778.5" stroke="#4a4a4a" stroke-width="0.8"/>
<line x1="590.5" y1="716" x2="590.5" y2="760" stroke="#505050" stroke-width="1.05"/>
<rect x="585.2" y="732.1" width="11.3" height="10.3" fill="#dcc7d4" stroke="#4a4a4a" stroke-width="0.8"/>
<line x1="585.2" y1="737.1" x2="596.5" y2="737.1" stroke="#4a4a4a" stroke-width="0.8"/>
<circle cx="590.5" cy="762.8" r="1.25" fill="#3a3a3a"/>
<circle cx="590.5" cy="765.6" r="1.25" fill="#3a3a3a"/>
<circle cx="590.5" cy="768.3" r="1.25" fill="#3a3a3a"/>
<path d="M425.2 744.3V747.7M425.2 746H479.5M479.5 744.3V747.7" fill="none" stroke="#707070" stroke-width="0.85"/>
<use href="#star" x="446.75" y="738.3"/>
<use href="#star" x="452.30" y="738.3"/>
<use href="#star" x="457.85" y="738.3"/>
<path d="M481.4 696.9V700.3000000000001M481.4 698.6H535.7M535.7 696.9V700.3000000000001" fill="none" stroke="#707070" stroke-width="0.85"/>
<use href="#star" x="503.15" y="690.4"/>
<use href="#star" x="508.70" y="690.4"/>
<use href="#star" x="514.25" y="690.4"/>
<path d="M535.7 691.6999999999999V695.1M535.7 693.4H590.5M590.5 691.6999999999999V695.1" fill="none" stroke="#707070" stroke-width="0.85"/>
<use href="#star" x="558.05" y="685.0"/>
<use href="#star" x="563.60" y="685.0"/>
<use href="#star" x="569.15" y="685.0"/>
</svg></body></html>
